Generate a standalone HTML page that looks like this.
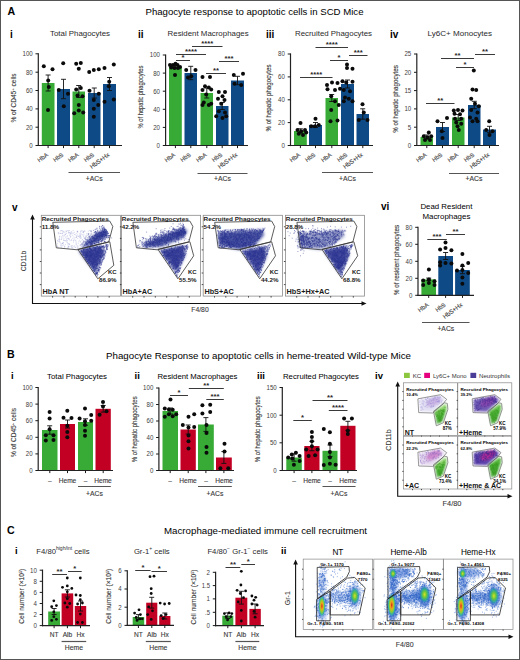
<!DOCTYPE html><html><head><meta charset="utf-8"><style>html,body{margin:0;padding:0;background:#fff;width:520px;height:660px;overflow:hidden}svg{display:block;font-family:"Liberation Sans",sans-serif}</style></head><body><svg width="520" height="660" viewBox="0 0 520 660" font-family="Liberation Sans, sans-serif">
<rect width="520" height="660" fill="#fff"/>
<rect x="0.5" y="0.5" width="519" height="659" fill="none" stroke="#555" stroke-width="1"/>
<text x="7.4" y="14.7" font-size="10.6" font-weight="bold" fill="#000">A</text>
<text x="145.5" y="15" font-size="8.8" textLength="218" lengthAdjust="spacingAndGlyphs">Phagocyte response to apoptotic cells in SCD Mice</text>
<text x="7" y="358" font-size="10.6" font-weight="bold" fill="#000">B</text>
<text x="106" y="358.5" font-size="8.8" textLength="305" lengthAdjust="spacingAndGlyphs">Phagocyte Response to apoptotic cells in heme-treated Wild-type Mice</text>
<text x="7" y="534" font-size="10.6" font-weight="bold" fill="#000">C</text>
<text x="164" y="533.5" font-size="8.8" textLength="203" lengthAdjust="spacingAndGlyphs">Macrophage-mediated immune cell recruitment</text>
<text x="10" y="37.5" font-size="10" font-weight="bold" fill="#000">i</text>
<text x="138" y="37.5" font-size="10" font-weight="bold" fill="#000">ii</text>
<text x="266" y="37.5" font-size="10" font-weight="bold" fill="#000">iii</text>
<text x="390" y="37.5" font-size="10" font-weight="bold" fill="#000">iv</text>
<text x="80" y="36.3" font-size="7.8" text-anchor="middle" fill="#2a2a2a" textLength="60" lengthAdjust="spacingAndGlyphs">Total Phagocytes</text>
<text x="208.1" y="36.3" font-size="7.8" text-anchor="middle" fill="#2a2a2a" textLength="81" lengthAdjust="spacingAndGlyphs">Resident Macrophages</text>
<text x="333.5" y="36.3" font-size="7.8" text-anchor="middle" fill="#2a2a2a" textLength="77" lengthAdjust="spacingAndGlyphs">Recruited Phagocytes</text>
<text x="459.8" y="36.3" font-size="7.8" text-anchor="middle" fill="#2a2a2a" textLength="64.5" lengthAdjust="spacingAndGlyphs">Ly6C+ Monocytes</text>
<rect x="41.8" y="83" width="12.7" height="62.5" fill="#37ab36"/>
<rect x="57" y="89" width="13" height="56.5" fill="#0e4a86"/>
<rect x="72.5" y="91.5" width="12.5" height="54" fill="#37ab36"/>
<rect x="88" y="93" width="12.5" height="52.5" fill="#0e4a86"/>
<rect x="103" y="84" width="13" height="61.5" fill="#0e4a86"/>
<line x1="48.1" y1="91" x2="48.1" y2="75" stroke="#111" stroke-width="0.9"/>
<line x1="45.6" y1="75" x2="50.6" y2="75" stroke="#111" stroke-width="0.9"/>
<line x1="45.6" y1="91" x2="50.6" y2="91" stroke="#111" stroke-width="0.9"/>
<line x1="63.5" y1="98.7" x2="63.5" y2="79.3" stroke="#111" stroke-width="0.9"/>
<line x1="61" y1="79.3" x2="66" y2="79.3" stroke="#111" stroke-width="0.9"/>
<line x1="61" y1="98.7" x2="66" y2="98.7" stroke="#111" stroke-width="0.9"/>
<line x1="78.8" y1="97.5" x2="78.8" y2="85.5" stroke="#111" stroke-width="0.9"/>
<line x1="76.2" y1="85.5" x2="81.2" y2="85.5" stroke="#111" stroke-width="0.9"/>
<line x1="76.2" y1="97.5" x2="81.2" y2="97.5" stroke="#111" stroke-width="0.9"/>
<line x1="94.2" y1="98" x2="94.2" y2="88" stroke="#111" stroke-width="0.9"/>
<line x1="91.8" y1="88" x2="96.8" y2="88" stroke="#111" stroke-width="0.9"/>
<line x1="91.8" y1="98" x2="96.8" y2="98" stroke="#111" stroke-width="0.9"/>
<line x1="109.5" y1="90.5" x2="109.5" y2="77.5" stroke="#111" stroke-width="0.9"/>
<line x1="107" y1="77.5" x2="112" y2="77.5" stroke="#111" stroke-width="0.9"/>
<line x1="107" y1="90.5" x2="112" y2="90.5" stroke="#111" stroke-width="0.9"/>
<g fill="#0a0a0a"><circle cx="43.8" cy="66.2" r="2"/><circle cx="52.5" cy="69.2" r="2"/><circle cx="48.2" cy="80.5" r="2"/><circle cx="48.8" cy="87" r="2"/><circle cx="48" cy="110" r="2"/><circle cx="63.2" cy="63.2" r="2"/><circle cx="58.8" cy="90" r="2"/><circle cx="68" cy="93.8" r="2"/><circle cx="63.8" cy="106.2" r="2"/><circle cx="76.2" cy="63.8" r="2"/><circle cx="80.8" cy="63" r="2"/><circle cx="78.8" cy="68.8" r="2"/><circle cx="76.2" cy="89.5" r="2"/><circle cx="80.8" cy="88" r="2"/><circle cx="77.5" cy="95.5" r="2"/><circle cx="82.5" cy="96.2" r="2"/><circle cx="78.8" cy="105" r="2"/><circle cx="78.8" cy="110.5" r="2"/><circle cx="74.2" cy="113.2" r="2"/><circle cx="83.2" cy="112.5" r="2"/><circle cx="89.2" cy="72" r="2"/><circle cx="93.8" cy="70" r="2"/><circle cx="98.8" cy="69.2" r="2"/><circle cx="89.5" cy="90.8" r="2"/><circle cx="98.8" cy="93.8" r="2"/><circle cx="93.8" cy="100" r="2"/><circle cx="98.2" cy="105" r="2"/><circle cx="93.8" cy="108.8" r="2"/><circle cx="93.8" cy="116.8" r="2"/><circle cx="104.5" cy="68" r="2"/><circle cx="113.8" cy="64.5" r="2"/><circle cx="109.2" cy="81.8" r="2"/><circle cx="108.8" cy="86.2" r="2"/><circle cx="104.5" cy="101.8" r="2"/><circle cx="113.8" cy="99.5" r="2"/></g>
<line x1="38.3" y1="53.2" x2="38.3" y2="146.1" stroke="#222" stroke-width="1.2"/>
<line x1="37.7" y1="145.5" x2="122" y2="145.5" stroke="#222" stroke-width="1.2"/>
<line x1="35.5" y1="53.8" x2="38.3" y2="53.8" stroke="#1a1a1a" stroke-width="1"/>
<text x="32.7" y="56.2" font-size="6.8" text-anchor="end" fill="#404040" textLength="10.2" lengthAdjust="spacingAndGlyphs">100</text>
<line x1="35.5" y1="72.2" x2="38.3" y2="72.2" stroke="#1a1a1a" stroke-width="1"/>
<text x="32.7" y="74.6" font-size="6.8" text-anchor="end" fill="#404040" textLength="6.8" lengthAdjust="spacingAndGlyphs">80</text>
<line x1="35.5" y1="90.5" x2="38.3" y2="90.5" stroke="#1a1a1a" stroke-width="1"/>
<text x="32.7" y="92.9" font-size="6.8" text-anchor="end" fill="#404040" textLength="6.8" lengthAdjust="spacingAndGlyphs">60</text>
<line x1="35.5" y1="108.9" x2="38.3" y2="108.9" stroke="#1a1a1a" stroke-width="1"/>
<text x="32.7" y="111.3" font-size="6.8" text-anchor="end" fill="#404040" textLength="6.8" lengthAdjust="spacingAndGlyphs">40</text>
<line x1="35.5" y1="127.2" x2="38.3" y2="127.2" stroke="#1a1a1a" stroke-width="1"/>
<text x="32.7" y="129.6" font-size="6.8" text-anchor="end" fill="#404040" textLength="6.8" lengthAdjust="spacingAndGlyphs">20</text>
<line x1="35.5" y1="145.5" x2="38.3" y2="145.5" stroke="#1a1a1a" stroke-width="1"/>
<text x="32.7" y="147.9" font-size="6.8" text-anchor="end" fill="#404040" textLength="3.4" lengthAdjust="spacingAndGlyphs">0</text>
<line x1="48.1" y1="145.5" x2="48.1" y2="148.1" stroke="#1a1a1a" stroke-width="1"/>
<line x1="63.5" y1="145.5" x2="63.5" y2="148.1" stroke="#1a1a1a" stroke-width="1"/>
<line x1="78.8" y1="145.5" x2="78.8" y2="148.1" stroke="#1a1a1a" stroke-width="1"/>
<line x1="94.2" y1="145.5" x2="94.2" y2="148.1" stroke="#1a1a1a" stroke-width="1"/>
<line x1="109.5" y1="145.5" x2="109.5" y2="148.1" stroke="#1a1a1a" stroke-width="1"/>
<text x="48.6" y="155.7" font-size="6.1" stroke="#3a3a3a" stroke-width="0.12" text-anchor="end" fill="#3a3a3a" textLength="11.5" lengthAdjust="spacingAndGlyphs" transform="rotate(-36 48.6 155.7)">HbA</text>
<text x="63.9" y="155.7" font-size="6.1" stroke="#3a3a3a" stroke-width="0.12" text-anchor="end" fill="#3a3a3a" textLength="11" lengthAdjust="spacingAndGlyphs" transform="rotate(-36 63.9 155.7)">HbS</text>
<text x="79.2" y="155.7" font-size="6.1" stroke="#3a3a3a" stroke-width="0.12" text-anchor="end" fill="#3a3a3a" textLength="11.5" lengthAdjust="spacingAndGlyphs" transform="rotate(-36 79.2 155.7)">HbA</text>
<text x="94.6" y="155.7" font-size="6.1" stroke="#3a3a3a" stroke-width="0.12" text-anchor="end" fill="#3a3a3a" textLength="11" lengthAdjust="spacingAndGlyphs" transform="rotate(-36 94.6 155.7)">HbS</text>
<text x="109.9" y="155.7" font-size="6.1" stroke="#3a3a3a" stroke-width="0.12" text-anchor="end" fill="#3a3a3a" textLength="22.5" lengthAdjust="spacingAndGlyphs" transform="rotate(-36 109.9 155.7)">HbS+Hx</text>
<line x1="68.5" y1="172.5" x2="120" y2="172.5" stroke="#555" stroke-width="1.2"/>
<text x="94.2" y="181" font-size="6.8" stroke="#3a3a3a" stroke-width="0.12" text-anchor="middle" fill="#3a3a3a">+ACs</text>
<text x="16.2" y="98" font-size="6.6" stroke="#3a3a3a" stroke-width="0.12" text-anchor="middle" fill="#3a3a3a" transform="rotate(-90 16.2 98)">% of CD45<tspan font-size="4" dy="-2">+</tspan><tspan dy="2"> cells</tspan></text>
<rect x="169" y="67" width="12.8" height="78.5" fill="#37ab36"/>
<rect x="184.5" y="73" width="12.5" height="72.5" fill="#0e4a86"/>
<rect x="200.5" y="93" width="12.5" height="52.5" fill="#37ab36"/>
<rect x="216" y="106" width="12.5" height="39.5" fill="#0e4a86"/>
<rect x="231" y="80.5" width="13" height="65" fill="#0e4a86"/>
<line x1="175.4" y1="68.5" x2="175.4" y2="65.5" stroke="#111" stroke-width="0.9"/>
<line x1="172.9" y1="65.5" x2="177.9" y2="65.5" stroke="#111" stroke-width="0.9"/>
<line x1="172.9" y1="68.5" x2="177.9" y2="68.5" stroke="#111" stroke-width="0.9"/>
<line x1="190.8" y1="79.7" x2="190.8" y2="66.3" stroke="#111" stroke-width="0.9"/>
<line x1="188.2" y1="66.3" x2="193.2" y2="66.3" stroke="#111" stroke-width="0.9"/>
<line x1="188.2" y1="79.7" x2="193.2" y2="79.7" stroke="#111" stroke-width="0.9"/>
<line x1="206.8" y1="98" x2="206.8" y2="88" stroke="#111" stroke-width="0.9"/>
<line x1="204.2" y1="88" x2="209.2" y2="88" stroke="#111" stroke-width="0.9"/>
<line x1="204.2" y1="98" x2="209.2" y2="98" stroke="#111" stroke-width="0.9"/>
<line x1="222.2" y1="109.5" x2="222.2" y2="102.5" stroke="#111" stroke-width="0.9"/>
<line x1="219.8" y1="102.5" x2="224.8" y2="102.5" stroke="#111" stroke-width="0.9"/>
<line x1="219.8" y1="109.5" x2="224.8" y2="109.5" stroke="#111" stroke-width="0.9"/>
<line x1="237.5" y1="84.7" x2="237.5" y2="76.3" stroke="#111" stroke-width="0.9"/>
<line x1="235" y1="76.3" x2="240" y2="76.3" stroke="#111" stroke-width="0.9"/>
<line x1="235" y1="84.7" x2="240" y2="84.7" stroke="#111" stroke-width="0.9"/>
<g fill="#0a0a0a"><circle cx="170" cy="65" r="2"/><circle cx="173" cy="65" r="2"/><circle cx="175.5" cy="63.8" r="2"/><circle cx="177.5" cy="65" r="2"/><circle cx="180" cy="67" r="2"/><circle cx="171.2" cy="67.5" r="2"/><circle cx="174.5" cy="68" r="2"/><circle cx="178" cy="68" r="2"/><circle cx="175" cy="75" r="2"/><circle cx="186.2" cy="70" r="2"/><circle cx="195.5" cy="70" r="2"/><circle cx="191.2" cy="76.2" r="2"/><circle cx="188" cy="77.5" r="2"/><circle cx="202.5" cy="77" r="2"/><circle cx="210" cy="77" r="2"/><circle cx="205" cy="86.2" r="2"/><circle cx="208.8" cy="87.5" r="2"/><circle cx="202.5" cy="90" r="2"/><circle cx="211.2" cy="89.5" r="2"/><circle cx="206.2" cy="94.5" r="2"/><circle cx="203.8" cy="102.5" r="2"/><circle cx="208.8" cy="105" r="2"/><circle cx="211.2" cy="103.8" r="2"/><circle cx="202.5" cy="105" r="2"/><circle cx="218.8" cy="92" r="2"/><circle cx="225" cy="92" r="2"/><circle cx="222.5" cy="96.2" r="2"/><circle cx="218" cy="98.8" r="2"/><circle cx="224.5" cy="100" r="2"/><circle cx="221.2" cy="103.8" r="2"/><circle cx="218.8" cy="111.2" r="2"/><circle cx="225" cy="112.5" r="2"/><circle cx="216.2" cy="116.2" r="2"/><circle cx="222.5" cy="118" r="2"/><circle cx="226.2" cy="116.2" r="2"/><circle cx="233.8" cy="75" r="2"/><circle cx="243" cy="73.8" r="2"/><circle cx="234.5" cy="83.8" r="2"/><circle cx="241.2" cy="85" r="2"/></g>
<line x1="165.6" y1="54.4" x2="165.6" y2="146.1" stroke="#222" stroke-width="1.2"/>
<line x1="165" y1="145.5" x2="248" y2="145.5" stroke="#222" stroke-width="1.2"/>
<line x1="162.8" y1="55" x2="165.6" y2="55" stroke="#1a1a1a" stroke-width="1"/>
<text x="160" y="57.4" font-size="6.8" text-anchor="end" fill="#404040" textLength="10.2" lengthAdjust="spacingAndGlyphs">100</text>
<line x1="162.8" y1="73.1" x2="165.6" y2="73.1" stroke="#1a1a1a" stroke-width="1"/>
<text x="160" y="75.5" font-size="6.8" text-anchor="end" fill="#404040" textLength="6.8" lengthAdjust="spacingAndGlyphs">80</text>
<line x1="162.8" y1="91.2" x2="165.6" y2="91.2" stroke="#1a1a1a" stroke-width="1"/>
<text x="160" y="93.6" font-size="6.8" text-anchor="end" fill="#404040" textLength="6.8" lengthAdjust="spacingAndGlyphs">60</text>
<line x1="162.8" y1="109.3" x2="165.6" y2="109.3" stroke="#1a1a1a" stroke-width="1"/>
<text x="160" y="111.7" font-size="6.8" text-anchor="end" fill="#404040" textLength="6.8" lengthAdjust="spacingAndGlyphs">40</text>
<line x1="162.8" y1="127.4" x2="165.6" y2="127.4" stroke="#1a1a1a" stroke-width="1"/>
<text x="160" y="129.8" font-size="6.8" text-anchor="end" fill="#404040" textLength="6.8" lengthAdjust="spacingAndGlyphs">20</text>
<line x1="162.8" y1="145.5" x2="165.6" y2="145.5" stroke="#1a1a1a" stroke-width="1"/>
<text x="160" y="147.9" font-size="6.8" text-anchor="end" fill="#404040" textLength="3.4" lengthAdjust="spacingAndGlyphs">0</text>
<line x1="175.4" y1="145.5" x2="175.4" y2="148.1" stroke="#1a1a1a" stroke-width="1"/>
<line x1="190.8" y1="145.5" x2="190.8" y2="148.1" stroke="#1a1a1a" stroke-width="1"/>
<line x1="206.8" y1="145.5" x2="206.8" y2="148.1" stroke="#1a1a1a" stroke-width="1"/>
<line x1="222.2" y1="145.5" x2="222.2" y2="148.1" stroke="#1a1a1a" stroke-width="1"/>
<line x1="237.5" y1="145.5" x2="237.5" y2="148.1" stroke="#1a1a1a" stroke-width="1"/>
<line x1="176" y1="60.5" x2="190" y2="60.5" stroke="#3a3a3a" stroke-width="1"/>
<text x="183" y="60.4" font-size="8" text-anchor="middle" font-weight="bold" fill="#2a2a2a" textLength="3" lengthAdjust="spacingAndGlyphs">*</text>
<line x1="176" y1="54.5" x2="206" y2="54.5" stroke="#3a3a3a" stroke-width="1"/>
<text x="191" y="54.4" font-size="8" text-anchor="middle" font-weight="bold" fill="#2a2a2a" textLength="12" lengthAdjust="spacingAndGlyphs">****</text>
<line x1="192" y1="46.5" x2="222.5" y2="46.5" stroke="#3a3a3a" stroke-width="1"/>
<text x="207.2" y="46.4" font-size="8" text-anchor="middle" font-weight="bold" fill="#2a2a2a" textLength="12" lengthAdjust="spacingAndGlyphs">****</text>
<line x1="206" y1="73.5" x2="226" y2="73.5" stroke="#3a3a3a" stroke-width="1"/>
<text x="216" y="73.4" font-size="8" text-anchor="middle" font-weight="bold" fill="#2a2a2a" textLength="6" lengthAdjust="spacingAndGlyphs">**</text>
<line x1="219" y1="61.5" x2="239" y2="61.5" stroke="#3a3a3a" stroke-width="1"/>
<text x="229" y="61.4" font-size="8" text-anchor="middle" font-weight="bold" fill="#2a2a2a" textLength="9" lengthAdjust="spacingAndGlyphs">***</text>
<text x="175.8" y="155.7" font-size="6.1" stroke="#3a3a3a" stroke-width="0.12" text-anchor="end" fill="#3a3a3a" textLength="11.5" lengthAdjust="spacingAndGlyphs" transform="rotate(-36 175.8 155.7)">HbA</text>
<text x="191.2" y="155.7" font-size="6.1" stroke="#3a3a3a" stroke-width="0.12" text-anchor="end" fill="#3a3a3a" textLength="11" lengthAdjust="spacingAndGlyphs" transform="rotate(-36 191.2 155.7)">HbS</text>
<text x="207.2" y="155.7" font-size="6.1" stroke="#3a3a3a" stroke-width="0.12" text-anchor="end" fill="#3a3a3a" textLength="11.5" lengthAdjust="spacingAndGlyphs" transform="rotate(-36 207.2 155.7)">HbA</text>
<text x="222.7" y="155.7" font-size="6.1" stroke="#3a3a3a" stroke-width="0.12" text-anchor="end" fill="#3a3a3a" textLength="11" lengthAdjust="spacingAndGlyphs" transform="rotate(-36 222.7 155.7)">HbS</text>
<text x="237.9" y="155.7" font-size="6.1" stroke="#3a3a3a" stroke-width="0.12" text-anchor="end" fill="#3a3a3a" textLength="22.5" lengthAdjust="spacingAndGlyphs" transform="rotate(-36 237.9 155.7)">HbS+Hx</text>
<line x1="197.5" y1="173.5" x2="247.5" y2="173.5" stroke="#555" stroke-width="1.2"/>
<text x="222.5" y="181" font-size="6.8" stroke="#3a3a3a" stroke-width="0.12" text-anchor="middle" fill="#3a3a3a">+ACs</text>
<text x="143.2" y="97" font-size="6.6" stroke="#3a3a3a" stroke-width="0.12" text-anchor="middle" fill="#3a3a3a" textLength="63" lengthAdjust="spacingAndGlyphs" transform="rotate(-90 143.2 97)">% of hepatic phagocytes</text>
<rect x="294" y="131" width="12.8" height="14.5" fill="#37ab36"/>
<rect x="309" y="125" width="13" height="20.5" fill="#0e4a86"/>
<rect x="325.5" y="98" width="12.5" height="47.5" fill="#37ab36"/>
<rect x="341" y="84" width="13" height="61.5" fill="#0e4a86"/>
<rect x="356.5" y="114" width="12.5" height="31.5" fill="#0e4a86"/>
<line x1="300.4" y1="133.2" x2="300.4" y2="128.8" stroke="#111" stroke-width="0.9"/>
<line x1="297.9" y1="128.8" x2="302.9" y2="128.8" stroke="#111" stroke-width="0.9"/>
<line x1="297.9" y1="133.2" x2="302.9" y2="133.2" stroke="#111" stroke-width="0.9"/>
<line x1="315.5" y1="127.5" x2="315.5" y2="122.5" stroke="#111" stroke-width="0.9"/>
<line x1="313" y1="122.5" x2="318" y2="122.5" stroke="#111" stroke-width="0.9"/>
<line x1="313" y1="127.5" x2="318" y2="127.5" stroke="#111" stroke-width="0.9"/>
<line x1="331.8" y1="101.5" x2="331.8" y2="94.5" stroke="#111" stroke-width="0.9"/>
<line x1="329.2" y1="94.5" x2="334.2" y2="94.5" stroke="#111" stroke-width="0.9"/>
<line x1="329.2" y1="101.5" x2="334.2" y2="101.5" stroke="#111" stroke-width="0.9"/>
<line x1="347.5" y1="88" x2="347.5" y2="80" stroke="#111" stroke-width="0.9"/>
<line x1="345" y1="80" x2="350" y2="80" stroke="#111" stroke-width="0.9"/>
<line x1="345" y1="88" x2="350" y2="88" stroke="#111" stroke-width="0.9"/>
<line x1="362.8" y1="119.2" x2="362.8" y2="108.8" stroke="#111" stroke-width="0.9"/>
<line x1="360.2" y1="108.8" x2="365.2" y2="108.8" stroke="#111" stroke-width="0.9"/>
<line x1="360.2" y1="119.2" x2="365.2" y2="119.2" stroke="#111" stroke-width="0.9"/>
<g fill="#0a0a0a"><circle cx="300.5" cy="123" r="2"/><circle cx="297.5" cy="130" r="2"/><circle cx="301.2" cy="131.2" r="2"/><circle cx="305" cy="130" r="2"/><circle cx="303" cy="135" r="2"/><circle cx="298.8" cy="133.8" r="2"/><circle cx="306.2" cy="132.5" r="2"/><circle cx="315.5" cy="118.8" r="2"/><circle cx="311.2" cy="126.2" r="2"/><circle cx="315" cy="126.2" r="2"/><circle cx="318.8" cy="125" r="2"/><circle cx="327" cy="85" r="2"/><circle cx="332" cy="82.5" r="2"/><circle cx="337.5" cy="83" r="2"/><circle cx="327.5" cy="89.2" r="2"/><circle cx="335" cy="90" r="2"/><circle cx="340" cy="88.8" r="2"/><circle cx="331.2" cy="96.2" r="2"/><circle cx="335" cy="101.2" r="2"/><circle cx="338.8" cy="105" r="2"/><circle cx="331.2" cy="110" r="2"/><circle cx="330.5" cy="121.2" r="2"/><circle cx="337.5" cy="120.5" r="2"/><circle cx="347" cy="64.5" r="2"/><circle cx="347" cy="68" r="2"/><circle cx="352.5" cy="68.8" r="2"/><circle cx="342.5" cy="81.2" r="2"/><circle cx="346.2" cy="82.5" r="2"/><circle cx="352.5" cy="81.8" r="2"/><circle cx="343.8" cy="90" r="2"/><circle cx="350" cy="91.2" r="2"/><circle cx="345" cy="97.5" r="2"/><circle cx="348.8" cy="98.8" r="2"/><circle cx="343.8" cy="101.2" r="2"/><circle cx="352.5" cy="101.2" r="2"/><circle cx="362.5" cy="104.2" r="2"/><circle cx="358.8" cy="120" r="2"/><circle cx="367.5" cy="120" r="2"/><circle cx="363.8" cy="112.5" r="2"/></g>
<line x1="290.5" y1="53.4" x2="290.5" y2="146.1" stroke="#222" stroke-width="1.2"/>
<line x1="289.9" y1="145.5" x2="373" y2="145.5" stroke="#222" stroke-width="1.2"/>
<line x1="287.7" y1="54" x2="290.5" y2="54" stroke="#1a1a1a" stroke-width="1"/>
<text x="284.9" y="56.4" font-size="6.8" text-anchor="end" fill="#404040" textLength="6.8" lengthAdjust="spacingAndGlyphs">80</text>
<line x1="287.7" y1="76.9" x2="290.5" y2="76.9" stroke="#1a1a1a" stroke-width="1"/>
<text x="284.9" y="79.3" font-size="6.8" text-anchor="end" fill="#404040" textLength="6.8" lengthAdjust="spacingAndGlyphs">60</text>
<line x1="287.7" y1="99.8" x2="290.5" y2="99.8" stroke="#1a1a1a" stroke-width="1"/>
<text x="284.9" y="102.2" font-size="6.8" text-anchor="end" fill="#404040" textLength="6.8" lengthAdjust="spacingAndGlyphs">40</text>
<line x1="287.7" y1="122.6" x2="290.5" y2="122.6" stroke="#1a1a1a" stroke-width="1"/>
<text x="284.9" y="125" font-size="6.8" text-anchor="end" fill="#404040" textLength="6.8" lengthAdjust="spacingAndGlyphs">20</text>
<line x1="287.7" y1="145.5" x2="290.5" y2="145.5" stroke="#1a1a1a" stroke-width="1"/>
<text x="284.9" y="147.9" font-size="6.8" text-anchor="end" fill="#404040" textLength="3.4" lengthAdjust="spacingAndGlyphs">0</text>
<line x1="300.4" y1="145.5" x2="300.4" y2="148.1" stroke="#1a1a1a" stroke-width="1"/>
<line x1="315.5" y1="145.5" x2="315.5" y2="148.1" stroke="#1a1a1a" stroke-width="1"/>
<line x1="331.8" y1="145.5" x2="331.8" y2="148.1" stroke="#1a1a1a" stroke-width="1"/>
<line x1="347.5" y1="145.5" x2="347.5" y2="148.1" stroke="#1a1a1a" stroke-width="1"/>
<line x1="362.8" y1="145.5" x2="362.8" y2="148.1" stroke="#1a1a1a" stroke-width="1"/>
<line x1="300" y1="77.5" x2="332.5" y2="77.5" stroke="#3a3a3a" stroke-width="1"/>
<text x="316.2" y="77.4" font-size="8" text-anchor="middle" font-weight="bold" fill="#2a2a2a" textLength="12" lengthAdjust="spacingAndGlyphs">****</text>
<line x1="315.5" y1="47.5" x2="348" y2="47.5" stroke="#3a3a3a" stroke-width="1"/>
<text x="331.8" y="47.4" font-size="8" text-anchor="middle" font-weight="bold" fill="#2a2a2a" textLength="12" lengthAdjust="spacingAndGlyphs">****</text>
<line x1="330" y1="60.5" x2="348" y2="60.5" stroke="#3a3a3a" stroke-width="1"/>
<text x="339" y="60.4" font-size="8" text-anchor="middle" font-weight="bold" fill="#2a2a2a" textLength="3" lengthAdjust="spacingAndGlyphs">*</text>
<line x1="349" y1="55.5" x2="367.5" y2="55.5" stroke="#3a3a3a" stroke-width="1"/>
<text x="358.2" y="55.4" font-size="8" text-anchor="middle" font-weight="bold" fill="#2a2a2a" textLength="9" lengthAdjust="spacingAndGlyphs">***</text>
<text x="300.8" y="155.7" font-size="6.1" stroke="#3a3a3a" stroke-width="0.12" text-anchor="end" fill="#3a3a3a" textLength="11.5" lengthAdjust="spacingAndGlyphs" transform="rotate(-36 300.8 155.7)">HbA</text>
<text x="315.9" y="155.7" font-size="6.1" stroke="#3a3a3a" stroke-width="0.12" text-anchor="end" fill="#3a3a3a" textLength="11" lengthAdjust="spacingAndGlyphs" transform="rotate(-36 315.9 155.7)">HbS</text>
<text x="332.2" y="155.7" font-size="6.1" stroke="#3a3a3a" stroke-width="0.12" text-anchor="end" fill="#3a3a3a" textLength="11.5" lengthAdjust="spacingAndGlyphs" transform="rotate(-36 332.2 155.7)">HbA</text>
<text x="347.9" y="155.7" font-size="6.1" stroke="#3a3a3a" stroke-width="0.12" text-anchor="end" fill="#3a3a3a" textLength="11" lengthAdjust="spacingAndGlyphs" transform="rotate(-36 347.9 155.7)">HbS</text>
<text x="363.2" y="155.7" font-size="6.1" stroke="#3a3a3a" stroke-width="0.12" text-anchor="end" fill="#3a3a3a" textLength="22.5" lengthAdjust="spacingAndGlyphs" transform="rotate(-36 363.2 155.7)">HbS+Hx</text>
<line x1="322" y1="172.5" x2="373" y2="172.5" stroke="#555" stroke-width="1.2"/>
<text x="347.5" y="181" font-size="6.8" stroke="#3a3a3a" stroke-width="0.12" text-anchor="middle" fill="#3a3a3a">+ACs</text>
<text x="271.4" y="98" font-size="6.6" stroke="#3a3a3a" stroke-width="0.12" text-anchor="middle" fill="#3a3a3a" textLength="67" lengthAdjust="spacingAndGlyphs" transform="rotate(-90 271.4 98)">% of hepatic phagocytes</text>
<rect x="420.5" y="137" width="12.5" height="8.5" fill="#37ab36"/>
<rect x="436" y="127" width="13" height="18.5" fill="#0e4a86"/>
<rect x="452" y="117.5" width="12.5" height="28" fill="#37ab36"/>
<rect x="468" y="105" width="12.5" height="40.5" fill="#0e4a86"/>
<rect x="483" y="129.5" width="13" height="16" fill="#0e4a86"/>
<line x1="426.8" y1="139" x2="426.8" y2="135" stroke="#111" stroke-width="0.9"/>
<line x1="424.2" y1="135" x2="429.2" y2="135" stroke="#111" stroke-width="0.9"/>
<line x1="424.2" y1="139" x2="429.2" y2="139" stroke="#111" stroke-width="0.9"/>
<line x1="442.5" y1="131.5" x2="442.5" y2="122.5" stroke="#111" stroke-width="0.9"/>
<line x1="440" y1="122.5" x2="445" y2="122.5" stroke="#111" stroke-width="0.9"/>
<line x1="440" y1="131.5" x2="445" y2="131.5" stroke="#111" stroke-width="0.9"/>
<line x1="458.2" y1="120.5" x2="458.2" y2="114.5" stroke="#111" stroke-width="0.9"/>
<line x1="455.8" y1="114.5" x2="460.8" y2="114.5" stroke="#111" stroke-width="0.9"/>
<line x1="455.8" y1="120.5" x2="460.8" y2="120.5" stroke="#111" stroke-width="0.9"/>
<line x1="474.2" y1="108.7" x2="474.2" y2="101.3" stroke="#111" stroke-width="0.9"/>
<line x1="471.8" y1="101.3" x2="476.8" y2="101.3" stroke="#111" stroke-width="0.9"/>
<line x1="471.8" y1="108.7" x2="476.8" y2="108.7" stroke="#111" stroke-width="0.9"/>
<line x1="489.5" y1="132.7" x2="489.5" y2="126.3" stroke="#111" stroke-width="0.9"/>
<line x1="487" y1="126.3" x2="492" y2="126.3" stroke="#111" stroke-width="0.9"/>
<line x1="487" y1="132.7" x2="492" y2="132.7" stroke="#111" stroke-width="0.9"/>
<g fill="#0a0a0a"><circle cx="428.8" cy="132.5" r="2"/><circle cx="423.8" cy="136.2" r="2"/><circle cx="427.5" cy="137.5" r="2"/><circle cx="431.2" cy="136.2" r="2"/><circle cx="425" cy="140" r="2"/><circle cx="430" cy="140" r="2"/><circle cx="447" cy="118" r="2"/><circle cx="437.5" cy="121.2" r="2"/><circle cx="441.8" cy="131.2" r="2"/><circle cx="442.5" cy="138" r="2"/><circle cx="453.8" cy="110.5" r="2"/><circle cx="458" cy="110" r="2"/><circle cx="462.5" cy="110.5" r="2"/><circle cx="454.5" cy="113.8" r="2"/><circle cx="460" cy="114.2" r="2"/><circle cx="455" cy="118.8" r="2"/><circle cx="461.2" cy="118.8" r="2"/><circle cx="456.2" cy="122.5" r="2"/><circle cx="461.2" cy="123.8" r="2"/><circle cx="457.5" cy="126.2" r="2"/><circle cx="458.8" cy="130" r="2"/><circle cx="473.8" cy="70.5" r="2"/><circle cx="472.5" cy="89.5" r="2"/><circle cx="476.2" cy="90" r="2"/><circle cx="471.2" cy="98.8" r="2"/><circle cx="475" cy="103.8" r="2"/><circle cx="478.8" cy="106.2" r="2"/><circle cx="471.2" cy="110" r="2"/><circle cx="477.5" cy="112.5" r="2"/><circle cx="470" cy="117.5" r="2"/><circle cx="476.2" cy="118.8" r="2"/><circle cx="472.5" cy="121.2" r="2"/><circle cx="477.5" cy="121.2" r="2"/><circle cx="489.2" cy="121.2" r="2"/><circle cx="486.2" cy="130" r="2"/><circle cx="492.5" cy="131.2" r="2"/><circle cx="489.5" cy="135" r="2"/></g>
<line x1="416.8" y1="53.4" x2="416.8" y2="146.1" stroke="#222" stroke-width="1.2"/>
<line x1="416.2" y1="145.5" x2="499" y2="145.5" stroke="#222" stroke-width="1.2"/>
<line x1="414" y1="54" x2="416.8" y2="54" stroke="#1a1a1a" stroke-width="1"/>
<text x="411.2" y="56.4" font-size="6.8" text-anchor="end" fill="#404040" textLength="6.8" lengthAdjust="spacingAndGlyphs">25</text>
<line x1="414" y1="72.3" x2="416.8" y2="72.3" stroke="#1a1a1a" stroke-width="1"/>
<text x="411.2" y="74.7" font-size="6.8" text-anchor="end" fill="#404040" textLength="6.8" lengthAdjust="spacingAndGlyphs">20</text>
<line x1="414" y1="90.6" x2="416.8" y2="90.6" stroke="#1a1a1a" stroke-width="1"/>
<text x="411.2" y="93" font-size="6.8" text-anchor="end" fill="#404040" textLength="6.8" lengthAdjust="spacingAndGlyphs">15</text>
<line x1="414" y1="108.9" x2="416.8" y2="108.9" stroke="#1a1a1a" stroke-width="1"/>
<text x="411.2" y="111.3" font-size="6.8" text-anchor="end" fill="#404040" textLength="6.8" lengthAdjust="spacingAndGlyphs">10</text>
<line x1="414" y1="127.2" x2="416.8" y2="127.2" stroke="#1a1a1a" stroke-width="1"/>
<text x="411.2" y="129.6" font-size="6.8" text-anchor="end" fill="#404040" textLength="3.4" lengthAdjust="spacingAndGlyphs">5</text>
<line x1="414" y1="145.5" x2="416.8" y2="145.5" stroke="#1a1a1a" stroke-width="1"/>
<text x="411.2" y="147.9" font-size="6.8" text-anchor="end" fill="#404040" textLength="3.4" lengthAdjust="spacingAndGlyphs">0</text>
<line x1="426.8" y1="145.5" x2="426.8" y2="148.1" stroke="#1a1a1a" stroke-width="1"/>
<line x1="442.5" y1="145.5" x2="442.5" y2="148.1" stroke="#1a1a1a" stroke-width="1"/>
<line x1="458.2" y1="145.5" x2="458.2" y2="148.1" stroke="#1a1a1a" stroke-width="1"/>
<line x1="474.2" y1="145.5" x2="474.2" y2="148.1" stroke="#1a1a1a" stroke-width="1"/>
<line x1="489.5" y1="145.5" x2="489.5" y2="148.1" stroke="#1a1a1a" stroke-width="1"/>
<line x1="426" y1="103.5" x2="454.5" y2="103.5" stroke="#3a3a3a" stroke-width="1"/>
<text x="440.2" y="103.4" font-size="8" text-anchor="middle" font-weight="bold" fill="#2a2a2a" textLength="6" lengthAdjust="spacingAndGlyphs">**</text>
<line x1="441" y1="58.5" x2="474" y2="58.5" stroke="#3a3a3a" stroke-width="1"/>
<text x="457.5" y="58.4" font-size="8" text-anchor="middle" font-weight="bold" fill="#2a2a2a" textLength="6" lengthAdjust="spacingAndGlyphs">**</text>
<line x1="456" y1="67.5" x2="474" y2="67.5" stroke="#3a3a3a" stroke-width="1"/>
<text x="465" y="67.4" font-size="8" text-anchor="middle" font-weight="bold" fill="#2a2a2a" textLength="3" lengthAdjust="spacingAndGlyphs">*</text>
<line x1="475" y1="54.5" x2="495" y2="54.5" stroke="#3a3a3a" stroke-width="1"/>
<text x="485" y="54.4" font-size="8" text-anchor="middle" font-weight="bold" fill="#2a2a2a" textLength="6" lengthAdjust="spacingAndGlyphs">**</text>
<text x="427.2" y="155.7" font-size="6.1" stroke="#3a3a3a" stroke-width="0.12" text-anchor="end" fill="#3a3a3a" textLength="11.5" lengthAdjust="spacingAndGlyphs" transform="rotate(-36 427.2 155.7)">HbA</text>
<text x="442.9" y="155.7" font-size="6.1" stroke="#3a3a3a" stroke-width="0.12" text-anchor="end" fill="#3a3a3a" textLength="11" lengthAdjust="spacingAndGlyphs" transform="rotate(-36 442.9 155.7)">HbS</text>
<text x="458.7" y="155.7" font-size="6.1" stroke="#3a3a3a" stroke-width="0.12" text-anchor="end" fill="#3a3a3a" textLength="11.5" lengthAdjust="spacingAndGlyphs" transform="rotate(-36 458.7 155.7)">HbA</text>
<text x="474.7" y="155.7" font-size="6.1" stroke="#3a3a3a" stroke-width="0.12" text-anchor="end" fill="#3a3a3a" textLength="11" lengthAdjust="spacingAndGlyphs" transform="rotate(-36 474.7 155.7)">HbS</text>
<text x="489.9" y="155.7" font-size="6.1" stroke="#3a3a3a" stroke-width="0.12" text-anchor="end" fill="#3a3a3a" textLength="22.5" lengthAdjust="spacingAndGlyphs" transform="rotate(-36 489.9 155.7)">HbS+Hx</text>
<line x1="449" y1="173.5" x2="499" y2="173.5" stroke="#555" stroke-width="1.2"/>
<text x="474" y="181" font-size="6.8" stroke="#3a3a3a" stroke-width="0.12" text-anchor="middle" fill="#3a3a3a">+ACs</text>
<text x="398.3" y="98.9" font-size="6.6" stroke="#3a3a3a" stroke-width="0.12" text-anchor="middle" fill="#3a3a3a" textLength="67.6" lengthAdjust="spacingAndGlyphs" transform="rotate(-90 398.3 98.9)">% of hepatic phagocytes</text>
<text x="381" y="210" font-size="10" font-weight="bold" fill="#000">vi</text>
<text x="446.4" y="209" font-size="7.3" text-anchor="middle" textLength="52" lengthAdjust="spacingAndGlyphs">Dead Resident</text>
<text x="446.4" y="219" font-size="7.3" text-anchor="middle" textLength="48" lengthAdjust="spacingAndGlyphs">Macrophages</text>
<rect x="421.4" y="279.4" width="14.6" height="15.9" fill="#37ab36"/>
<rect x="438.3" y="256" width="14.7" height="39.3" fill="#0e4a86"/>
<rect x="455.1" y="270" width="14.7" height="25.3" fill="#0e4a86"/>
<line x1="428.7" y1="280.7" x2="428.7" y2="278.1" stroke="#111" stroke-width="0.9"/>
<line x1="426.2" y1="278.1" x2="431.2" y2="278.1" stroke="#111" stroke-width="0.9"/>
<line x1="426.2" y1="280.7" x2="431.2" y2="280.7" stroke="#111" stroke-width="0.9"/>
<line x1="445.6" y1="259.5" x2="445.6" y2="252.5" stroke="#111" stroke-width="0.9"/>
<line x1="443.1" y1="252.5" x2="448.1" y2="252.5" stroke="#111" stroke-width="0.9"/>
<line x1="443.1" y1="259.5" x2="448.1" y2="259.5" stroke="#111" stroke-width="0.9"/>
<line x1="462.5" y1="273.7" x2="462.5" y2="266.3" stroke="#111" stroke-width="0.9"/>
<line x1="460" y1="266.3" x2="465" y2="266.3" stroke="#111" stroke-width="0.9"/>
<line x1="460" y1="273.7" x2="465" y2="273.7" stroke="#111" stroke-width="0.9"/>
<g fill="#0a0a0a"><circle cx="428.9" cy="269.4" r="2"/><circle cx="423.2" cy="280.6" r="2"/><circle cx="428.9" cy="279.4" r="2"/><circle cx="434.5" cy="281.2" r="2"/><circle cx="423.2" cy="285" r="2"/><circle cx="428.9" cy="283.1" r="2"/><circle cx="434.5" cy="285" r="2"/><circle cx="445.5" cy="242.5" r="2"/><circle cx="440.1" cy="249.4" r="2"/><circle cx="445.5" cy="248.1" r="2"/><circle cx="451.4" cy="250.2" r="2"/><circle cx="440.1" cy="262.2" r="2"/><circle cx="445.5" cy="263.1" r="2"/><circle cx="451.4" cy="263.5" r="2"/><circle cx="440.1" cy="265.6" r="2"/><circle cx="462.4" cy="254" r="2"/><circle cx="468.2" cy="263.1" r="2"/><circle cx="462.4" cy="265.6" r="2"/><circle cx="457" cy="270.6" r="2"/><circle cx="468.2" cy="273.1" r="2"/><circle cx="462.4" cy="270" r="2"/><circle cx="462.4" cy="277.5" r="2"/><circle cx="462.4" cy="283.8" r="2"/></g>
<line x1="418" y1="226.7" x2="418" y2="295.9" stroke="#222" stroke-width="1.2"/>
<line x1="417.4" y1="295.3" x2="474" y2="295.3" stroke="#222" stroke-width="1.2"/>
<line x1="415.2" y1="227.3" x2="418" y2="227.3" stroke="#1a1a1a" stroke-width="1"/>
<text x="412.4" y="229.7" font-size="6.8" text-anchor="end" fill="#404040" textLength="6.8" lengthAdjust="spacingAndGlyphs">80</text>
<line x1="415.2" y1="244.3" x2="418" y2="244.3" stroke="#1a1a1a" stroke-width="1"/>
<text x="412.4" y="246.7" font-size="6.8" text-anchor="end" fill="#404040" textLength="6.8" lengthAdjust="spacingAndGlyphs">60</text>
<line x1="415.2" y1="261.3" x2="418" y2="261.3" stroke="#1a1a1a" stroke-width="1"/>
<text x="412.4" y="263.7" font-size="6.8" text-anchor="end" fill="#404040" textLength="6.8" lengthAdjust="spacingAndGlyphs">40</text>
<line x1="415.2" y1="278.3" x2="418" y2="278.3" stroke="#1a1a1a" stroke-width="1"/>
<text x="412.4" y="280.7" font-size="6.8" text-anchor="end" fill="#404040" textLength="6.8" lengthAdjust="spacingAndGlyphs">20</text>
<line x1="415.2" y1="295.3" x2="418" y2="295.3" stroke="#1a1a1a" stroke-width="1"/>
<text x="412.4" y="297.7" font-size="6.8" text-anchor="end" fill="#404040" textLength="3.4" lengthAdjust="spacingAndGlyphs">0</text>
<line x1="428.7" y1="295.3" x2="428.7" y2="297.9" stroke="#1a1a1a" stroke-width="1"/>
<line x1="445.6" y1="295.3" x2="445.6" y2="297.9" stroke="#1a1a1a" stroke-width="1"/>
<line x1="462.5" y1="295.3" x2="462.5" y2="297.9" stroke="#1a1a1a" stroke-width="1"/>
<line x1="427.3" y1="239.5" x2="446.8" y2="239.5" stroke="#3a3a3a" stroke-width="1"/>
<text x="437.1" y="239.4" font-size="8" text-anchor="middle" font-weight="bold" fill="#2a2a2a" textLength="9" lengthAdjust="spacingAndGlyphs">***</text>
<line x1="446" y1="234.5" x2="465" y2="234.5" stroke="#3a3a3a" stroke-width="1"/>
<text x="455.5" y="234.4" font-size="8" text-anchor="middle" font-weight="bold" fill="#2a2a2a" textLength="6" lengthAdjust="spacingAndGlyphs">**</text>
<text x="429.1" y="305.7" font-size="6.1" stroke="#3a3a3a" stroke-width="0.12" text-anchor="end" fill="#3a3a3a" textLength="11.5" lengthAdjust="spacingAndGlyphs" transform="rotate(-36 429.1 305.7)">HbA</text>
<text x="446.1" y="305.7" font-size="6.1" stroke="#3a3a3a" stroke-width="0.12" text-anchor="end" fill="#3a3a3a" textLength="11" lengthAdjust="spacingAndGlyphs" transform="rotate(-36 446.1 305.7)">HbS</text>
<text x="462.9" y="305.7" font-size="6.1" stroke="#3a3a3a" stroke-width="0.12" text-anchor="end" fill="#3a3a3a" textLength="22.5" lengthAdjust="spacingAndGlyphs" transform="rotate(-36 462.9 305.7)">HbS+Hx</text>
<line x1="422" y1="322.5" x2="469.5" y2="322.5" stroke="#555" stroke-width="1.2"/>
<text x="445.8" y="330.5" font-size="6.8" stroke="#3a3a3a" stroke-width="0.12" text-anchor="middle" fill="#3a3a3a">+ACs</text>
<text x="399.3" y="260" font-size="6.6" stroke="#3a3a3a" stroke-width="0.12" text-anchor="middle" fill="#3a3a3a" textLength="70" lengthAdjust="spacingAndGlyphs" transform="rotate(-90 399.3 260)">% of resident phagocytes</text>
<text x="11" y="378.8" font-size="9.5" font-weight="bold" fill="#000">i</text>
<text x="134.5" y="378.8" font-size="9.5" font-weight="bold" fill="#000">ii</text>
<text x="257" y="378.8" font-size="9.5" font-weight="bold" fill="#000">iii</text>
<text x="375" y="378.8" font-size="9.5" font-weight="bold" fill="#000">iv</text>
<text x="77" y="378.8" font-size="7.3" text-anchor="middle" textLength="60" lengthAdjust="spacingAndGlyphs">Total Phagocytes</text>
<text x="197.5" y="378.8" font-size="7.3" text-anchor="middle" textLength="80" lengthAdjust="spacingAndGlyphs">Resident Macrophages</text>
<text x="321" y="378.8" font-size="7.3" text-anchor="middle" textLength="76" lengthAdjust="spacingAndGlyphs">Recruited Phagocytes</text>
<rect x="42" y="430" width="15.5" height="40.5" fill="#37ab36"/>
<rect x="60" y="424" width="15" height="46.5" fill="#c20024"/>
<rect x="78" y="422" width="15" height="48.5" fill="#37ab36"/>
<rect x="95.5" y="408.8" width="15.3" height="61.7" fill="#c20024"/>
<line x1="49.8" y1="434.2" x2="49.8" y2="425.8" stroke="#111" stroke-width="0.9"/>
<line x1="47.2" y1="425.8" x2="52.2" y2="425.8" stroke="#111" stroke-width="0.9"/>
<line x1="47.2" y1="434.2" x2="52.2" y2="434.2" stroke="#111" stroke-width="0.9"/>
<line x1="67.5" y1="428" x2="67.5" y2="420" stroke="#111" stroke-width="0.9"/>
<line x1="65" y1="420" x2="70" y2="420" stroke="#111" stroke-width="0.9"/>
<line x1="65" y1="428" x2="70" y2="428" stroke="#111" stroke-width="0.9"/>
<line x1="85.5" y1="425.2" x2="85.5" y2="418.8" stroke="#111" stroke-width="0.9"/>
<line x1="83" y1="418.8" x2="88" y2="418.8" stroke="#111" stroke-width="0.9"/>
<line x1="83" y1="425.2" x2="88" y2="425.2" stroke="#111" stroke-width="0.9"/>
<line x1="103.2" y1="412.1" x2="103.2" y2="405.5" stroke="#111" stroke-width="0.9"/>
<line x1="100.7" y1="405.5" x2="105.7" y2="405.5" stroke="#111" stroke-width="0.9"/>
<line x1="100.7" y1="412.1" x2="105.7" y2="412.1" stroke="#111" stroke-width="0.9"/>
<g fill="#0a0a0a"><circle cx="49.6" cy="411.9" r="2"/><circle cx="49.6" cy="418.4" r="2"/><circle cx="49.6" cy="429.2" r="2"/><circle cx="45.8" cy="435.3" r="2"/><circle cx="53.5" cy="435.3" r="2"/><circle cx="45.8" cy="440.4" r="2"/><circle cx="53.5" cy="439.9" r="2"/><circle cx="67.3" cy="410.7" r="2"/><circle cx="63.5" cy="417.8" r="2"/><circle cx="71.5" cy="418.1" r="2"/><circle cx="67.3" cy="425.8" r="2"/><circle cx="67.3" cy="431.9" r="2"/><circle cx="67.3" cy="437.3" r="2"/><circle cx="85" cy="408.5" r="2"/><circle cx="79.6" cy="418.5" r="2"/><circle cx="91.2" cy="415" r="2"/><circle cx="91.2" cy="420.8" r="2"/><circle cx="85" cy="425" r="2"/><circle cx="85" cy="430.7" r="2"/><circle cx="85" cy="435.8" r="2"/><circle cx="85" cy="421.2" r="2"/><circle cx="103" cy="401.9" r="2"/><circle cx="103" cy="406.5" r="2"/><circle cx="99.6" cy="414.7" r="2"/><circle cx="106.5" cy="411.2" r="2"/></g>
<line x1="38.2" y1="386.9" x2="38.2" y2="471.1" stroke="#222" stroke-width="1.2"/>
<line x1="37.6" y1="470.5" x2="113" y2="470.5" stroke="#222" stroke-width="1.2"/>
<line x1="35.4" y1="387.5" x2="38.2" y2="387.5" stroke="#1a1a1a" stroke-width="1"/>
<text x="32.6" y="389.9" font-size="6.8" text-anchor="end" fill="#404040" textLength="10.2" lengthAdjust="spacingAndGlyphs">100</text>
<line x1="35.4" y1="404.1" x2="38.2" y2="404.1" stroke="#1a1a1a" stroke-width="1"/>
<text x="32.6" y="406.5" font-size="6.8" text-anchor="end" fill="#404040" textLength="6.8" lengthAdjust="spacingAndGlyphs">80</text>
<line x1="35.4" y1="420.7" x2="38.2" y2="420.7" stroke="#1a1a1a" stroke-width="1"/>
<text x="32.6" y="423.1" font-size="6.8" text-anchor="end" fill="#404040" textLength="6.8" lengthAdjust="spacingAndGlyphs">60</text>
<line x1="35.4" y1="437.3" x2="38.2" y2="437.3" stroke="#1a1a1a" stroke-width="1"/>
<text x="32.6" y="439.7" font-size="6.8" text-anchor="end" fill="#404040" textLength="6.8" lengthAdjust="spacingAndGlyphs">40</text>
<line x1="35.4" y1="453.9" x2="38.2" y2="453.9" stroke="#1a1a1a" stroke-width="1"/>
<text x="32.6" y="456.3" font-size="6.8" text-anchor="end" fill="#404040" textLength="6.8" lengthAdjust="spacingAndGlyphs">20</text>
<line x1="35.4" y1="470.5" x2="38.2" y2="470.5" stroke="#1a1a1a" stroke-width="1"/>
<text x="32.6" y="472.9" font-size="6.8" text-anchor="end" fill="#404040" textLength="3.4" lengthAdjust="spacingAndGlyphs">0</text>
<line x1="49.8" y1="470.5" x2="49.8" y2="473.1" stroke="#1a1a1a" stroke-width="1"/>
<line x1="67.5" y1="470.5" x2="67.5" y2="473.1" stroke="#1a1a1a" stroke-width="1"/>
<line x1="85.5" y1="470.5" x2="85.5" y2="473.1" stroke="#1a1a1a" stroke-width="1"/>
<line x1="103.2" y1="470.5" x2="103.2" y2="473.1" stroke="#1a1a1a" stroke-width="1"/>
<text x="49.8" y="482.8" font-size="6.6" stroke="#3a3a3a" stroke-width="0.12" text-anchor="middle" fill="#3a3a3a">–</text>
<text x="67.5" y="482.8" font-size="6.6" stroke="#3a3a3a" stroke-width="0.12" text-anchor="middle" fill="#3a3a3a">Heme</text>
<text x="85.5" y="482.8" font-size="6.6" stroke="#3a3a3a" stroke-width="0.12" text-anchor="middle" fill="#3a3a3a">–</text>
<text x="103" y="482.8" font-size="6.6" stroke="#3a3a3a" stroke-width="0.12" text-anchor="middle" fill="#3a3a3a">Heme</text>
<line x1="78" y1="486.5" x2="110.8" y2="486.5" stroke="#555" stroke-width="1.2"/>
<text x="94.4" y="495.5" font-size="6.8" stroke="#3a3a3a" stroke-width="0.12" text-anchor="middle" fill="#3a3a3a">+ACs</text>
<text x="16.2" y="432.5" font-size="6.6" stroke="#3a3a3a" stroke-width="0.12" text-anchor="middle" fill="#3a3a3a" transform="rotate(-90 16.2 432.5)">% of CD45<tspan font-size="4" dy="-2">+</tspan><tspan dy="2"> cells</tspan></text>
<rect x="162.5" y="411" width="15.5" height="59.5" fill="#37ab36"/>
<rect x="180.5" y="429.5" width="15.3" height="41" fill="#c20024"/>
<rect x="198" y="424.5" width="15.8" height="46" fill="#37ab36"/>
<rect x="216" y="457.5" width="15.8" height="13" fill="#c20024"/>
<line x1="170.2" y1="414" x2="170.2" y2="408" stroke="#111" stroke-width="0.9"/>
<line x1="167.8" y1="408" x2="172.8" y2="408" stroke="#111" stroke-width="0.9"/>
<line x1="167.8" y1="414" x2="172.8" y2="414" stroke="#111" stroke-width="0.9"/>
<line x1="188.2" y1="434" x2="188.2" y2="425" stroke="#111" stroke-width="0.9"/>
<line x1="185.7" y1="425" x2="190.7" y2="425" stroke="#111" stroke-width="0.9"/>
<line x1="185.7" y1="434" x2="190.7" y2="434" stroke="#111" stroke-width="0.9"/>
<line x1="205.9" y1="431.4" x2="205.9" y2="417.6" stroke="#111" stroke-width="0.9"/>
<line x1="203.4" y1="417.6" x2="208.4" y2="417.6" stroke="#111" stroke-width="0.9"/>
<line x1="203.4" y1="431.4" x2="208.4" y2="431.4" stroke="#111" stroke-width="0.9"/>
<line x1="223.9" y1="463.4" x2="223.9" y2="451.6" stroke="#111" stroke-width="0.9"/>
<line x1="221.4" y1="451.6" x2="226.4" y2="451.6" stroke="#111" stroke-width="0.9"/>
<line x1="221.4" y1="463.4" x2="226.4" y2="463.4" stroke="#111" stroke-width="0.9"/>
<g fill="#0a0a0a"><circle cx="170.5" cy="399.5" r="2"/><circle cx="164.8" cy="408.6" r="2"/><circle cx="168.9" cy="409.4" r="2"/><circle cx="172.7" cy="409.7" r="2"/><circle cx="164.8" cy="416.8" r="2"/><circle cx="168.9" cy="414.3" r="2"/><circle cx="176.2" cy="414.3" r="2"/><circle cx="172.7" cy="416.3" r="2"/><circle cx="188.5" cy="416.8" r="2"/><circle cx="194.2" cy="414.3" r="2"/><circle cx="182.8" cy="425" r="2"/><circle cx="188.5" cy="427.4" r="2"/><circle cx="194.2" cy="427.1" r="2"/><circle cx="188.5" cy="435.6" r="2"/><circle cx="188.5" cy="441.3" r="2"/><circle cx="188.5" cy="448.6" r="2"/><circle cx="202.4" cy="405.3" r="2"/><circle cx="210.2" cy="404.8" r="2"/><circle cx="202.4" cy="413.5" r="2"/><circle cx="210.2" cy="411.9" r="2"/><circle cx="206.5" cy="425" r="2"/><circle cx="206.5" cy="433.1" r="2"/><circle cx="206.5" cy="447" r="2"/><circle cx="206.5" cy="452.7" r="2"/><circle cx="224.5" cy="443.7" r="2"/><circle cx="224.5" cy="451.6" r="2"/><circle cx="220.4" cy="468.3" r="2"/><circle cx="228.2" cy="468.3" r="2"/></g>
<line x1="158.9" y1="387.4" x2="158.9" y2="471.1" stroke="#222" stroke-width="1.2"/>
<line x1="158.3" y1="470.5" x2="234" y2="470.5" stroke="#222" stroke-width="1.2"/>
<line x1="156.1" y1="388" x2="158.9" y2="388" stroke="#1a1a1a" stroke-width="1"/>
<text x="153.3" y="390.4" font-size="6.8" text-anchor="end" fill="#404040" textLength="10.2" lengthAdjust="spacingAndGlyphs">100</text>
<line x1="156.1" y1="404.5" x2="158.9" y2="404.5" stroke="#1a1a1a" stroke-width="1"/>
<text x="153.3" y="406.9" font-size="6.8" text-anchor="end" fill="#404040" textLength="6.8" lengthAdjust="spacingAndGlyphs">80</text>
<line x1="156.1" y1="421" x2="158.9" y2="421" stroke="#1a1a1a" stroke-width="1"/>
<text x="153.3" y="423.4" font-size="6.8" text-anchor="end" fill="#404040" textLength="6.8" lengthAdjust="spacingAndGlyphs">60</text>
<line x1="156.1" y1="437.5" x2="158.9" y2="437.5" stroke="#1a1a1a" stroke-width="1"/>
<text x="153.3" y="439.9" font-size="6.8" text-anchor="end" fill="#404040" textLength="6.8" lengthAdjust="spacingAndGlyphs">40</text>
<line x1="156.1" y1="454" x2="158.9" y2="454" stroke="#1a1a1a" stroke-width="1"/>
<text x="153.3" y="456.4" font-size="6.8" text-anchor="end" fill="#404040" textLength="6.8" lengthAdjust="spacingAndGlyphs">20</text>
<line x1="156.1" y1="470.5" x2="158.9" y2="470.5" stroke="#1a1a1a" stroke-width="1"/>
<text x="153.3" y="472.9" font-size="6.8" text-anchor="end" fill="#404040" textLength="3.4" lengthAdjust="spacingAndGlyphs">0</text>
<line x1="170.2" y1="470.5" x2="170.2" y2="473.1" stroke="#1a1a1a" stroke-width="1"/>
<line x1="188.2" y1="470.5" x2="188.2" y2="473.1" stroke="#1a1a1a" stroke-width="1"/>
<line x1="205.9" y1="470.5" x2="205.9" y2="473.1" stroke="#1a1a1a" stroke-width="1"/>
<line x1="223.9" y1="470.5" x2="223.9" y2="473.1" stroke="#1a1a1a" stroke-width="1"/>
<line x1="170" y1="395.5" x2="188" y2="395.5" stroke="#3a3a3a" stroke-width="1"/>
<text x="179" y="395.4" font-size="8" text-anchor="middle" font-weight="bold" fill="#2a2a2a" textLength="3" lengthAdjust="spacingAndGlyphs">*</text>
<line x1="188.8" y1="388.5" x2="223.8" y2="388.5" stroke="#3a3a3a" stroke-width="1"/>
<text x="206.3" y="388.4" font-size="8" text-anchor="middle" font-weight="bold" fill="#2a2a2a" textLength="6" lengthAdjust="spacingAndGlyphs">**</text>
<line x1="206.3" y1="399.5" x2="223.8" y2="399.5" stroke="#3a3a3a" stroke-width="1"/>
<text x="215.1" y="399.4" font-size="8" text-anchor="middle" font-weight="bold" fill="#2a2a2a" textLength="9" lengthAdjust="spacingAndGlyphs">***</text>
<text x="170.2" y="482.8" font-size="6.6" stroke="#3a3a3a" stroke-width="0.12" text-anchor="middle" fill="#3a3a3a">–</text>
<text x="188" y="482.8" font-size="6.6" stroke="#3a3a3a" stroke-width="0.12" text-anchor="middle" fill="#3a3a3a">Heme</text>
<text x="206" y="482.8" font-size="6.6" stroke="#3a3a3a" stroke-width="0.12" text-anchor="middle" fill="#3a3a3a">–</text>
<text x="224" y="482.8" font-size="6.6" stroke="#3a3a3a" stroke-width="0.12" text-anchor="middle" fill="#3a3a3a">Heme</text>
<line x1="198" y1="486.5" x2="231.8" y2="486.5" stroke="#555" stroke-width="1.2"/>
<text x="214.9" y="495.5" font-size="6.8" stroke="#3a3a3a" stroke-width="0.12" text-anchor="middle" fill="#3a3a3a">+ACs</text>
<text x="137.3" y="429.3" font-size="6.6" stroke="#3a3a3a" stroke-width="0.12" text-anchor="middle" fill="#3a3a3a" textLength="66" lengthAdjust="spacingAndGlyphs" transform="rotate(-90 137.3 429.3)">% of hepatic phagocytes</text>
<rect x="286.3" y="457.5" width="15.5" height="13" fill="#37ab36"/>
<rect x="304.3" y="446" width="15.2" height="24.5" fill="#c20024"/>
<rect x="322.5" y="450.8" width="15" height="19.7" fill="#37ab36"/>
<rect x="340.3" y="425.8" width="15.2" height="44.7" fill="#c20024"/>
<line x1="294.1" y1="461.2" x2="294.1" y2="453.8" stroke="#111" stroke-width="0.9"/>
<line x1="291.6" y1="453.8" x2="296.6" y2="453.8" stroke="#111" stroke-width="0.9"/>
<line x1="291.6" y1="461.2" x2="296.6" y2="461.2" stroke="#111" stroke-width="0.9"/>
<line x1="311.9" y1="450.7" x2="311.9" y2="441.3" stroke="#111" stroke-width="0.9"/>
<line x1="309.4" y1="441.3" x2="314.4" y2="441.3" stroke="#111" stroke-width="0.9"/>
<line x1="309.4" y1="450.7" x2="314.4" y2="450.7" stroke="#111" stroke-width="0.9"/>
<line x1="330" y1="456.6" x2="330" y2="445" stroke="#111" stroke-width="0.9"/>
<line x1="327.5" y1="445" x2="332.5" y2="445" stroke="#111" stroke-width="0.9"/>
<line x1="327.5" y1="456.6" x2="332.5" y2="456.6" stroke="#111" stroke-width="0.9"/>
<line x1="347.9" y1="430.3" x2="347.9" y2="421.3" stroke="#111" stroke-width="0.9"/>
<line x1="345.4" y1="421.3" x2="350.4" y2="421.3" stroke="#111" stroke-width="0.9"/>
<line x1="345.4" y1="430.3" x2="350.4" y2="430.3" stroke="#111" stroke-width="0.9"/>
<g fill="#0a0a0a"><circle cx="291.8" cy="454.4" r="2"/><circle cx="295.9" cy="452.7" r="2"/><circle cx="299.6" cy="456" r="2"/><circle cx="288.2" cy="457.6" r="2"/><circle cx="292.3" cy="458.5" r="2"/><circle cx="299.6" cy="460.9" r="2"/><circle cx="293.9" cy="464.7" r="2"/><circle cx="311.9" cy="432" r="2"/><circle cx="311.9" cy="436.9" r="2"/><circle cx="311.9" cy="441.3" r="2"/><circle cx="306.2" cy="449.5" r="2"/><circle cx="311.9" cy="446.2" r="2"/><circle cx="317.6" cy="449.5" r="2"/><circle cx="308.6" cy="456" r="2"/><circle cx="315.1" cy="455.2" r="2"/><circle cx="323.8" cy="429" r="2"/><circle cx="329.9" cy="432.3" r="2"/><circle cx="329.9" cy="443.7" r="2"/><circle cx="329.9" cy="451.9" r="2"/><circle cx="329.9" cy="457.6" r="2"/><circle cx="323.8" cy="465" r="2"/><circle cx="329.9" cy="463.7" r="2"/><circle cx="335.6" cy="464.7" r="2"/><circle cx="344.1" cy="418.4" r="2"/><circle cx="351.9" cy="418.4" r="2"/><circle cx="347.8" cy="430.7" r="2"/><circle cx="347.8" cy="433.9" r="2"/></g>
<line x1="282.3" y1="386.9" x2="282.3" y2="471.1" stroke="#222" stroke-width="1.2"/>
<line x1="281.7" y1="470.5" x2="357" y2="470.5" stroke="#222" stroke-width="1.2"/>
<line x1="279.5" y1="387.5" x2="282.3" y2="387.5" stroke="#1a1a1a" stroke-width="1"/>
<text x="276.7" y="389.9" font-size="6.8" text-anchor="end" fill="#404040" textLength="10.2" lengthAdjust="spacingAndGlyphs">150</text>
<line x1="279.5" y1="415.2" x2="282.3" y2="415.2" stroke="#1a1a1a" stroke-width="1"/>
<text x="276.7" y="417.6" font-size="6.8" text-anchor="end" fill="#404040" textLength="10.2" lengthAdjust="spacingAndGlyphs">100</text>
<line x1="279.5" y1="442.8" x2="282.3" y2="442.8" stroke="#1a1a1a" stroke-width="1"/>
<text x="276.7" y="445.2" font-size="6.8" text-anchor="end" fill="#404040" textLength="6.8" lengthAdjust="spacingAndGlyphs">50</text>
<line x1="279.5" y1="470.5" x2="282.3" y2="470.5" stroke="#1a1a1a" stroke-width="1"/>
<text x="276.7" y="472.9" font-size="6.8" text-anchor="end" fill="#404040" textLength="3.4" lengthAdjust="spacingAndGlyphs">0</text>
<line x1="294.1" y1="470.5" x2="294.1" y2="473.1" stroke="#1a1a1a" stroke-width="1"/>
<line x1="311.9" y1="470.5" x2="311.9" y2="473.1" stroke="#1a1a1a" stroke-width="1"/>
<line x1="330" y1="470.5" x2="330" y2="473.1" stroke="#1a1a1a" stroke-width="1"/>
<line x1="347.9" y1="470.5" x2="347.9" y2="473.1" stroke="#1a1a1a" stroke-width="1"/>
<line x1="293.3" y1="420.5" x2="311.8" y2="420.5" stroke="#3a3a3a" stroke-width="1"/>
<text x="302.6" y="420.4" font-size="8" text-anchor="middle" font-weight="bold" fill="#2a2a2a" textLength="3" lengthAdjust="spacingAndGlyphs">*</text>
<line x1="312.5" y1="400.5" x2="347.5" y2="400.5" stroke="#3a3a3a" stroke-width="1"/>
<text x="330" y="400.4" font-size="8" text-anchor="middle" font-weight="bold" fill="#2a2a2a" textLength="6" lengthAdjust="spacingAndGlyphs">**</text>
<line x1="328.8" y1="410.5" x2="347.5" y2="410.5" stroke="#3a3a3a" stroke-width="1"/>
<text x="338.1" y="410.4" font-size="8" text-anchor="middle" font-weight="bold" fill="#2a2a2a" textLength="12" lengthAdjust="spacingAndGlyphs">****</text>
<text x="294" y="482.8" font-size="6.6" stroke="#3a3a3a" stroke-width="0.12" text-anchor="middle" fill="#3a3a3a">–</text>
<text x="312" y="482.8" font-size="6.6" stroke="#3a3a3a" stroke-width="0.12" text-anchor="middle" fill="#3a3a3a">Heme</text>
<text x="330" y="482.8" font-size="6.6" stroke="#3a3a3a" stroke-width="0.12" text-anchor="middle" fill="#3a3a3a">–</text>
<text x="348" y="482.8" font-size="6.6" stroke="#3a3a3a" stroke-width="0.12" text-anchor="middle" fill="#3a3a3a">Heme</text>
<line x1="322.5" y1="486.5" x2="355.5" y2="486.5" stroke="#555" stroke-width="1.2"/>
<text x="339" y="495.5" font-size="6.8" stroke="#3a3a3a" stroke-width="0.12" text-anchor="middle" fill="#3a3a3a">+ACs</text>
<text x="259.8" y="429.3" font-size="6.6" stroke="#3a3a3a" stroke-width="0.12" text-anchor="middle" fill="#3a3a3a" textLength="66" lengthAdjust="spacingAndGlyphs" transform="rotate(-90 259.8 429.3)">% of hepatic phagocytes</text>
<text x="15" y="554" font-size="9.5" font-weight="bold" fill="#000">i</text>
<text x="36.3" y="553.6" font-size="7.7" fill="#2a2a2a">F4/80<tspan font-size="5" dy="-3.2">high/int</tspan><tspan dy="3.2"> cells</tspan></text>
<text x="151.8" y="553.6" font-size="7.7" text-anchor="middle" fill="#2a2a2a">Gr-1<tspan font-size="5" dy="-3.2">+</tspan><tspan dy="3.2"> cells</tspan></text>
<text x="237.7" y="553.6" font-size="7.7" text-anchor="middle" fill="#2a2a2a">F4/80<tspan font-size="5" dy="-3.2">−</tspan><tspan dy="3.2"> Gr-1</tspan><tspan font-size="5" dy="-3.2">−</tspan><tspan dy="3.2"> cells</tspan></text>
<text x="281" y="554" font-size="9.5" font-weight="bold" fill="#000">ii</text>
<rect x="48.2" y="611.5" width="11.8" height="14.1" fill="#37ab36"/>
<rect x="61.6" y="593.4" width="11.6" height="32.2" fill="#c20024"/>
<rect x="74.8" y="606" width="11.4" height="19.6" fill="#c20024"/>
<line x1="54.1" y1="614.5" x2="54.1" y2="608.5" stroke="#111" stroke-width="0.9"/>
<line x1="51.6" y1="608.5" x2="56.6" y2="608.5" stroke="#111" stroke-width="0.9"/>
<line x1="51.6" y1="614.5" x2="56.6" y2="614.5" stroke="#111" stroke-width="0.9"/>
<line x1="67.4" y1="597" x2="67.4" y2="589.8" stroke="#111" stroke-width="0.9"/>
<line x1="64.9" y1="589.8" x2="69.9" y2="589.8" stroke="#111" stroke-width="0.9"/>
<line x1="64.9" y1="597" x2="69.9" y2="597" stroke="#111" stroke-width="0.9"/>
<line x1="80.5" y1="611" x2="80.5" y2="601" stroke="#111" stroke-width="0.9"/>
<line x1="78" y1="601" x2="83" y2="601" stroke="#111" stroke-width="0.9"/>
<line x1="78" y1="611" x2="83" y2="611" stroke="#111" stroke-width="0.9"/>
<g fill="#0a0a0a"><circle cx="53.8" cy="600.8" r="1.4"/><circle cx="51.7" cy="606.7" r="1.4"/><circle cx="56.4" cy="605.6" r="1.4"/><circle cx="53.8" cy="611.9" r="1.4"/><circle cx="53.8" cy="616.7" r="1.4"/><circle cx="51.7" cy="620.4" r="1.4"/><circle cx="56.4" cy="619.3" r="1.4"/><circle cx="67.3" cy="578" r="1.4"/><circle cx="62.5" cy="587.3" r="1.4"/><circle cx="67.3" cy="585.9" r="1.4"/><circle cx="71.8" cy="588.4" r="1.4"/><circle cx="67.3" cy="598.7" r="1.4"/><circle cx="64.9" cy="603" r="1.4"/><circle cx="69.7" cy="603.5" r="1.4"/><circle cx="67.3" cy="607.2" r="1.4"/><circle cx="67.3" cy="591.8" r="1.4"/><circle cx="80.3" cy="578" r="1.4"/><circle cx="76" cy="595" r="1.4"/><circle cx="80.3" cy="595.5" r="1.4"/><circle cx="80.3" cy="599.7" r="1.4"/><circle cx="77.6" cy="604" r="1.4"/><circle cx="82.4" cy="603" r="1.4"/><circle cx="80.3" cy="614.1" r="1.4"/><circle cx="77.6" cy="622.5" r="1.4"/><circle cx="82.4" cy="622.5" r="1.4"/></g>
<line x1="42.5" y1="569.6" x2="42.5" y2="626.2" stroke="#222" stroke-width="1.2"/>
<line x1="41.9" y1="625.6" x2="90" y2="625.6" stroke="#222" stroke-width="1.2"/>
<line x1="39.7" y1="570.2" x2="42.5" y2="570.2" stroke="#1a1a1a" stroke-width="1"/>
<text x="36.9" y="572.6" font-size="6.8" text-anchor="end" fill="#404040" textLength="6.8" lengthAdjust="spacingAndGlyphs">10</text>
<line x1="39.7" y1="581.3" x2="42.5" y2="581.3" stroke="#1a1a1a" stroke-width="1"/>
<text x="36.9" y="583.7" font-size="6.8" text-anchor="end" fill="#404040" textLength="3.4" lengthAdjust="spacingAndGlyphs">8</text>
<line x1="39.7" y1="592.4" x2="42.5" y2="592.4" stroke="#1a1a1a" stroke-width="1"/>
<text x="36.9" y="594.8" font-size="6.8" text-anchor="end" fill="#404040" textLength="3.4" lengthAdjust="spacingAndGlyphs">6</text>
<line x1="39.7" y1="603.5" x2="42.5" y2="603.5" stroke="#1a1a1a" stroke-width="1"/>
<text x="36.9" y="605.9" font-size="6.8" text-anchor="end" fill="#404040" textLength="3.4" lengthAdjust="spacingAndGlyphs">4</text>
<line x1="39.7" y1="614.5" x2="42.5" y2="614.5" stroke="#1a1a1a" stroke-width="1"/>
<text x="36.9" y="616.9" font-size="6.8" text-anchor="end" fill="#404040" textLength="3.4" lengthAdjust="spacingAndGlyphs">2</text>
<line x1="39.7" y1="625.6" x2="42.5" y2="625.6" stroke="#1a1a1a" stroke-width="1"/>
<text x="36.9" y="628" font-size="6.8" text-anchor="end" fill="#404040" textLength="3.4" lengthAdjust="spacingAndGlyphs">0</text>
<line x1="54.1" y1="625.6" x2="54.1" y2="628.2" stroke="#1a1a1a" stroke-width="1"/>
<line x1="67.4" y1="625.6" x2="67.4" y2="628.2" stroke="#1a1a1a" stroke-width="1"/>
<line x1="80.5" y1="625.6" x2="80.5" y2="628.2" stroke="#1a1a1a" stroke-width="1"/>
<line x1="52.2" y1="574.5" x2="67" y2="574.5" stroke="#3a3a3a" stroke-width="1"/>
<text x="59.6" y="574.4" font-size="8" text-anchor="middle" font-weight="bold" fill="#2a2a2a" textLength="6" lengthAdjust="spacingAndGlyphs">**</text>
<line x1="68" y1="571.5" x2="81.7" y2="571.5" stroke="#3a3a3a" stroke-width="1"/>
<text x="74.8" y="571.4" font-size="8" text-anchor="middle" font-weight="bold" fill="#2a2a2a" textLength="3" lengthAdjust="spacingAndGlyphs">*</text>
<text x="54.1" y="636.5" font-size="6.6" stroke="#3a3a3a" stroke-width="0.12" text-anchor="middle" fill="#3a3a3a">NT</text>
<text x="67.4" y="636.5" font-size="6.6" stroke="#3a3a3a" stroke-width="0.12" text-anchor="middle" fill="#3a3a3a">Alb</text>
<text x="80.5" y="636.5" font-size="6.6" stroke="#3a3a3a" stroke-width="0.12" text-anchor="middle" fill="#3a3a3a">Hx</text>
<line x1="61.6" y1="641.5" x2="86.2" y2="641.5" stroke="#555" stroke-width="1.2"/>
<text x="73.9" y="650" font-size="6.8" stroke="#3a3a3a" stroke-width="0.12" text-anchor="middle" fill="#3a3a3a">Heme</text>
<text x="23.7" y="596.3" font-size="6.6" stroke="#3a3a3a" stroke-width="0.12" text-anchor="middle" fill="#3a3a3a" transform="rotate(-90 23.7 596.3)">Cell number (×10<tspan font-size="3.8" dy="-2">5</tspan><tspan dy="2">)</tspan></text>
<rect x="132.7" y="617" width="11.5" height="8.4" fill="#37ab36"/>
<rect x="146.2" y="602.7" width="11.1" height="22.7" fill="#c20024"/>
<rect x="159.2" y="616" width="11.2" height="9.4" fill="#c20024"/>
<line x1="138.4" y1="619.4" x2="138.4" y2="614.6" stroke="#111" stroke-width="0.9"/>
<line x1="135.9" y1="614.6" x2="140.9" y2="614.6" stroke="#111" stroke-width="0.9"/>
<line x1="135.9" y1="619.4" x2="140.9" y2="619.4" stroke="#111" stroke-width="0.9"/>
<line x1="151.8" y1="608.1" x2="151.8" y2="597.3" stroke="#111" stroke-width="0.9"/>
<line x1="149.2" y1="597.3" x2="154.2" y2="597.3" stroke="#111" stroke-width="0.9"/>
<line x1="149.2" y1="608.1" x2="154.2" y2="608.1" stroke="#111" stroke-width="0.9"/>
<line x1="164.8" y1="619" x2="164.8" y2="613" stroke="#111" stroke-width="0.9"/>
<line x1="162.3" y1="613" x2="167.3" y2="613" stroke="#111" stroke-width="0.9"/>
<line x1="162.3" y1="619" x2="167.3" y2="619" stroke="#111" stroke-width="0.9"/>
<g fill="#0a0a0a"><circle cx="139" cy="609.8" r="1.4"/><circle cx="134.6" cy="613.1" r="1.4"/><circle cx="140.4" cy="614.6" r="1.4"/><circle cx="136.2" cy="617.5" r="1.4"/><circle cx="140" cy="618.8" r="1.4"/><circle cx="142.3" cy="618.8" r="1.4"/><circle cx="137.1" cy="620.4" r="1.4"/><circle cx="150" cy="576.7" r="1.4"/><circle cx="154" cy="576.2" r="1.4"/><circle cx="151.2" cy="588.7" r="1.4"/><circle cx="151.2" cy="593.5" r="1.4"/><circle cx="148.7" cy="606.9" r="1.4"/><circle cx="152.5" cy="610.8" r="1.4"/><circle cx="147.7" cy="614.6" r="1.4"/><circle cx="151.2" cy="619.4" r="1.4"/><circle cx="160.2" cy="603.1" r="1.4"/><circle cx="164.6" cy="604" r="1.4"/><circle cx="169.2" cy="603.5" r="1.4"/><circle cx="161.2" cy="615.6" r="1.4"/><circle cx="166" cy="614.6" r="1.4"/><circle cx="163.1" cy="618.5" r="1.4"/></g>
<line x1="127.3" y1="570.2" x2="127.3" y2="626" stroke="#222" stroke-width="1.2"/>
<line x1="126.7" y1="625.4" x2="174" y2="625.4" stroke="#222" stroke-width="1.2"/>
<line x1="124.5" y1="570.8" x2="127.3" y2="570.8" stroke="#1a1a1a" stroke-width="1"/>
<text x="121.7" y="573.2" font-size="6.8" text-anchor="end" fill="#404040" textLength="3.4" lengthAdjust="spacingAndGlyphs">6</text>
<line x1="124.5" y1="589" x2="127.3" y2="589" stroke="#1a1a1a" stroke-width="1"/>
<text x="121.7" y="591.4" font-size="6.8" text-anchor="end" fill="#404040" textLength="3.4" lengthAdjust="spacingAndGlyphs">4</text>
<line x1="124.5" y1="607.2" x2="127.3" y2="607.2" stroke="#1a1a1a" stroke-width="1"/>
<text x="121.7" y="609.6" font-size="6.8" text-anchor="end" fill="#404040" textLength="3.4" lengthAdjust="spacingAndGlyphs">2</text>
<line x1="124.5" y1="625.4" x2="127.3" y2="625.4" stroke="#1a1a1a" stroke-width="1"/>
<text x="121.7" y="627.8" font-size="6.8" text-anchor="end" fill="#404040" textLength="3.4" lengthAdjust="spacingAndGlyphs">0</text>
<line x1="138.4" y1="625.4" x2="138.4" y2="628" stroke="#1a1a1a" stroke-width="1"/>
<line x1="151.8" y1="625.4" x2="151.8" y2="628" stroke="#1a1a1a" stroke-width="1"/>
<line x1="164.8" y1="625.4" x2="164.8" y2="628" stroke="#1a1a1a" stroke-width="1"/>
<line x1="135.2" y1="570.5" x2="150.6" y2="570.5" stroke="#3a3a3a" stroke-width="1"/>
<text x="142.9" y="570.4" font-size="8" text-anchor="middle" font-weight="bold" fill="#2a2a2a" textLength="3" lengthAdjust="spacingAndGlyphs">*</text>
<line x1="151.5" y1="571.5" x2="167" y2="571.5" stroke="#3a3a3a" stroke-width="1"/>
<text x="159.2" y="571.4" font-size="8" text-anchor="middle" font-weight="bold" fill="#2a2a2a" textLength="3" lengthAdjust="spacingAndGlyphs">*</text>
<text x="138.5" y="636.5" font-size="6.6" stroke="#3a3a3a" stroke-width="0.12" text-anchor="middle" fill="#3a3a3a">NT</text>
<text x="151.8" y="636.5" font-size="6.6" stroke="#3a3a3a" stroke-width="0.12" text-anchor="middle" fill="#3a3a3a">Alb</text>
<text x="164.8" y="636.5" font-size="6.6" stroke="#3a3a3a" stroke-width="0.12" text-anchor="middle" fill="#3a3a3a">Hx</text>
<line x1="145.8" y1="641.5" x2="170.8" y2="641.5" stroke="#555" stroke-width="1.2"/>
<text x="158.3" y="650" font-size="6.8" stroke="#3a3a3a" stroke-width="0.12" text-anchor="middle" fill="#3a3a3a">Heme</text>
<text x="111.2" y="596.3" font-size="6.6" stroke="#3a3a3a" stroke-width="0.12" text-anchor="middle" fill="#3a3a3a" transform="rotate(-90 111.2 596.3)">Cell number (×10<tspan font-size="3.8" dy="-2">5</tspan><tspan dy="2">)</tspan></text>
<rect x="222.3" y="615.7" width="11" height="9.9" fill="#37ab36"/>
<rect x="235.4" y="597.7" width="11.9" height="27.9" fill="#c20024"/>
<rect x="249.4" y="608.9" width="11.4" height="16.7" fill="#c20024"/>
<line x1="227.8" y1="618.5" x2="227.8" y2="612.9" stroke="#111" stroke-width="0.9"/>
<line x1="225.3" y1="612.9" x2="230.3" y2="612.9" stroke="#111" stroke-width="0.9"/>
<line x1="225.3" y1="618.5" x2="230.3" y2="618.5" stroke="#111" stroke-width="0.9"/>
<line x1="241.4" y1="604.1" x2="241.4" y2="591.3" stroke="#111" stroke-width="0.9"/>
<line x1="238.9" y1="591.3" x2="243.9" y2="591.3" stroke="#111" stroke-width="0.9"/>
<line x1="238.9" y1="604.1" x2="243.9" y2="604.1" stroke="#111" stroke-width="0.9"/>
<line x1="255.1" y1="613.8" x2="255.1" y2="604" stroke="#111" stroke-width="0.9"/>
<line x1="252.6" y1="604" x2="257.6" y2="604" stroke="#111" stroke-width="0.9"/>
<line x1="252.6" y1="613.8" x2="257.6" y2="613.8" stroke="#111" stroke-width="0.9"/>
<g fill="#0a0a0a"><circle cx="224.4" cy="613.6" r="1.4"/><circle cx="229.1" cy="612.9" r="1.4"/><circle cx="231.8" cy="613.6" r="1.4"/><circle cx="226.1" cy="616.7" r="1.4"/><circle cx="230.8" cy="616.7" r="1.4"/><circle cx="227.6" cy="619.9" r="1.4"/><circle cx="241.3" cy="571.3" r="1.4"/><circle cx="240.9" cy="585" r="1.4"/><circle cx="237.1" cy="590.3" r="1.4"/><circle cx="245.6" cy="590.9" r="1.4"/><circle cx="240.3" cy="593.5" r="1.4"/><circle cx="243.5" cy="597.7" r="1.4"/><circle cx="238.2" cy="601.9" r="1.4"/><circle cx="241.3" cy="610.4" r="1.4"/><circle cx="241.3" cy="621" r="1.4"/><circle cx="251.9" cy="596" r="1.4"/><circle cx="255.7" cy="597.3" r="1.4"/><circle cx="254" cy="600.2" r="1.4"/><circle cx="251.9" cy="604" r="1.4"/><circle cx="257.2" cy="605.1" r="1.4"/><circle cx="254" cy="611.4" r="1.4"/><circle cx="255.1" cy="617.2" r="1.4"/></g>
<line x1="215.6" y1="571.7" x2="215.6" y2="626.2" stroke="#222" stroke-width="1.2"/>
<line x1="215" y1="625.6" x2="264" y2="625.6" stroke="#222" stroke-width="1.2"/>
<line x1="212.8" y1="572.3" x2="215.6" y2="572.3" stroke="#1a1a1a" stroke-width="1"/>
<text x="210" y="574.7" font-size="6.8" text-anchor="end" fill="#404040" textLength="3.4" lengthAdjust="spacingAndGlyphs">2</text>
<line x1="212.8" y1="585.6" x2="215.6" y2="585.6" stroke="#1a1a1a" stroke-width="1"/>
<text x="210" y="588" font-size="6.8" text-anchor="end" fill="#404040" textLength="8.3" lengthAdjust="spacingAndGlyphs">1.5</text>
<line x1="212.8" y1="598.9" x2="215.6" y2="598.9" stroke="#1a1a1a" stroke-width="1"/>
<text x="210" y="601.3" font-size="6.8" text-anchor="end" fill="#404040" textLength="3.4" lengthAdjust="spacingAndGlyphs">1</text>
<line x1="212.8" y1="612.3" x2="215.6" y2="612.3" stroke="#1a1a1a" stroke-width="1"/>
<text x="210" y="614.7" font-size="6.8" text-anchor="end" fill="#404040" textLength="4.9" lengthAdjust="spacingAndGlyphs">.5</text>
<line x1="212.8" y1="625.6" x2="215.6" y2="625.6" stroke="#1a1a1a" stroke-width="1"/>
<text x="210" y="628" font-size="6.8" text-anchor="end" fill="#404040" textLength="3.4" lengthAdjust="spacingAndGlyphs">0</text>
<line x1="227.8" y1="625.6" x2="227.8" y2="628.2" stroke="#1a1a1a" stroke-width="1"/>
<line x1="241.4" y1="625.6" x2="241.4" y2="628.2" stroke="#1a1a1a" stroke-width="1"/>
<line x1="255.1" y1="625.6" x2="255.1" y2="628.2" stroke="#1a1a1a" stroke-width="1"/>
<line x1="225.5" y1="567.5" x2="240.3" y2="567.5" stroke="#3a3a3a" stroke-width="1"/>
<text x="232.9" y="567.4" font-size="8" text-anchor="middle" font-weight="bold" fill="#2a2a2a" textLength="6" lengthAdjust="spacingAndGlyphs">**</text>
<line x1="241.3" y1="564.5" x2="255" y2="564.5" stroke="#3a3a3a" stroke-width="1"/>
<text x="248.2" y="564.4" font-size="8" text-anchor="middle" font-weight="bold" fill="#2a2a2a" textLength="3" lengthAdjust="spacingAndGlyphs">*</text>
<text x="227.8" y="636.5" font-size="6.6" stroke="#3a3a3a" stroke-width="0.12" text-anchor="middle" fill="#3a3a3a">NT</text>
<text x="241.3" y="636.5" font-size="6.6" stroke="#3a3a3a" stroke-width="0.12" text-anchor="middle" fill="#3a3a3a">Alb</text>
<text x="255.1" y="636.5" font-size="6.6" stroke="#3a3a3a" stroke-width="0.12" text-anchor="middle" fill="#3a3a3a">Hx</text>
<line x1="235.4" y1="641.5" x2="259.3" y2="641.5" stroke="#555" stroke-width="1.2"/>
<text x="247.4" y="650" font-size="6.8" stroke="#3a3a3a" stroke-width="0.12" text-anchor="middle" fill="#3a3a3a">Heme</text>
<text x="195.5" y="597" font-size="6.6" stroke="#3a3a3a" stroke-width="0.12" text-anchor="middle" fill="#3a3a3a" transform="rotate(-90 195.5 597)">Cell number (×10<tspan font-size="3.8" dy="-2">5</tspan><tspan dy="2">)</tspan></text>
<text x="12" y="211" font-size="10" font-weight="bold" fill="#000">v</text>
<path d="M32.5 219V303.5H362" fill="none" stroke="#111" stroke-width="1.1"/>
<path d="M32.5 214.5l-2.3 5h4.6z M366.5 303.5l-5 -2.3v4.6z" fill="#111"/>
<text x="26.2" y="261" font-size="6.8" stroke="#3a3a3a" stroke-width="0.1" text-anchor="middle" fill="#3a3a3a" transform="rotate(-90 26.2 261)">CD11b</text>
<text x="200" y="311.8" font-size="6.8" stroke="#3a3a3a" stroke-width="0.1" text-anchor="middle" fill="#3a3a3a">F4/80</text>
<defs><filter id="bl" x="-20%" y="-20%" width="140%" height="140%"><feGaussianBlur stdDeviation="1.6"/></filter><filter id="bl2" x="-20%" y="-20%" width="140%" height="140%"><feGaussianBlur stdDeviation="1"/></filter></defs>
<g filter="url(#bl)" fill="#2b3592"><polygon points="78.8,251.1 101.3,245.3 104.3,253.4 95.2,272.3" opacity="0.9"/><polygon points="81.3,247.3 92.1,236.3 103.3,229.3 106.3,235.3 92.1,245.3" opacity="0.8"/></g>
<path d="M74.1 239.3h.1M62.7 235.7h.1M77.1 231.7h.1M80.7 233.2h.1M72.4 247.8h.1M60.3 231.0h.1M72.2 233.7h.1M81.9 230.4h.1M85.9 245.7h.1M84.1 238.0h.1M66.9 242.2h.1M74.8 237.9h.1M68.8 238.2h.1M79.9 245.2h.1M88.0 233.3h.1M67.4 238.3h.1M76.5 236.6h.1M63.9 231.8h.1M68.3 238.6h.1M90.3 246.7h.1M86.7 247.8h.1M90.0 241.5h.1M84.9 231.4h.1M80.3 241.3h.1M67.4 240.6h.1M89.7 239.0h.1M79.3 235.7h.1M69.0 246.2h.1M58.2 233.7h.1M80.4 238.4h.1M60.2 242.2h.1M69.9 240.8h.1M71.5 239.8h.1M76.5 237.4h.1M61.2 233.5h.1M87.6 240.2h.1M61.1 245.8h.1M65.9 232.0h.1M75.3 234.8h.1M73.9 240.3h.1M65.0 240.6h.1M61.1 239.5h.1M77.3 231.7h.1M71.2 231.6h.1M72.2 245.8h.1M76.0 243.2h.1M83.0 232.4h.1M91.0 243.3h.1M60.8 245.2h.1M70.6 233.4h.1M89.9 240.4h.1M83.6 232.8h.1M83.7 231.3h.1M65.4 237.0h.1M57.8 241.0h.1M64.5 235.7h.1M81.4 238.0h.1M87.5 241.5h.1M87.0 240.4h.1M88.5 246.0h.1M63.0 243.7h.1M68.9 244.0h.1M80.4 245.2h.1M61.5 237.0h.1M82.4 247.4h.1M81.8 231.1h.1M77.8 232.1h.1M76.0 244.8h.1M61.1 247.0h.1M80.3 234.9h.1M63.9 238.3h.1M85.8 240.8h.1M61.2 230.7h.1M61.1 244.7h.1M63.6 240.3h.1M67.2 242.7h.1M70.2 232.9h.1M87.1 240.0h.1M80.7 244.8h.1M89.6 230.5h.1M68.9 233.0h.1M74.4 246.0h.1M84.5 230.9h.1M63.5 245.0h.1M80.4 237.4h.1M73.5 233.1h.1M86.0 237.4h.1M87.0 241.3h.1M59.9 236.2h.1M64.7 246.4h.1M77.3 231.1h.1M63.1 236.8h.1M73.2 240.7h.1M70.5 236.7h.1M57.5 240.7h.1M68.6 230.7h.1M72.9 248.1h.1M58.8 232.9h.1M80.1 235.2h.1M66.6 239.3h.1M66.2 240.5h.1M75.3 247.5h.1M91.0 230.9h.1M76.4 244.2h.1M87.0 244.2h.1M78.8 241.7h.1M69.6 235.4h.1M84.3 246.0h.1M89.2 242.6h.1M67.6 244.0h.1M82.4 239.5h.1M78.9 236.6h.1M76.0 237.6h.1M59.4 236.4h.1M68.3 248.1h.1M73.7 236.9h.1M65.6 234.5h.1M69.2 232.7h.1M57.5 246.0h.1M72.7 238.3h.1M76.6 235.7h.1M63.0 231.5h.1M67.6 235.9h.1M82.0 240.2h.1M89.2 236.4h.1M88.6 240.8h.1M60.0 233.5h.1M77.0 248.1h.1M69.4 244.2h.1M71.9 245.9h.1M59.6 239.0h.1M87.9 235.3h.1M66.1 230.7h.1M62.9 235.1h.1M81.2 234.2h.1M70.9 233.9h.1M77.8 245.9h.1M79.3 233.8h.1M82.3 247.6h.1M77.7 231.7h.1M84.8 246.1h.1M68.9 232.8h.1M63.7 240.0h.1M87.1 241.8h.1M88.7 234.1h.1M68.4 243.8h.1M79.4 237.6h.1M80.4 236.4h.1M59.3 237.8h.1M58.8 241.6h.1M68.7 239.2h.1M77.6 234.9h.1M73.1 230.5h.1M88.8 240.5h.1M90.9 231.3h.1M78.2 243.3h.1M68.5 232.0h.1M62.6 232.9h.1M83.4 231.9h.1M85.0 237.9h.1M75.6 240.9h.1M76.2 242.1h.1M77.8 236.3h.1M82.5 234.9h.1M81.5 244.0h.1M83.7 235.9h.1M83.6 247.9h.1M72.7 235.3h.1M75.1 247.2h.1M61.8 230.5h.1M73.5 242.1h.1M83.6 236.8h.1M90.9 234.4h.1M83.0 231.9h.1M58.3 232.7h.1M59.3 239.3h.1M76.2 233.6h.1M89.3 236.9h.1M62.4 233.5h.1M82.4 246.9h.1M62.8 230.8h.1M83.8 234.7h.1M90.7 239.3h.1M78.9 236.5h.1M84.5 238.6h.1M68.3 246.6h.1M61.0 243.5h.1M59.5 241.9h.1M71.0 245.9h.1M59.3 240.5h.1M71.2 246.8h.1M89.4 241.6h.1M64.9 234.8h.1M66.2 238.1h.1M65.2 234.0h.1M83.1 241.9h.1M67.4 248.2h.1M64.7 240.6h.1M62.6 245.8h.1M86.9 235.1h.1M82.9 245.1h.1M66.9 236.3h.1M73.8 246.3h.1M62.8 242.6h.1M77.6 238.5h.1M77.0 246.2h.1M64.4 246.2h.1M69.6 244.3h.1M86.7 233.6h.1M86.7 248.2h.1M67.4 230.7h.1M61.1 247.8h.1M57.6 246.7h.1M62.4 243.5h.1M60.6 233.3h.1M80.5 231.9h.1M68.8 246.8h.1M81.7 246.2h.1M90.6 230.9h.1M65.3 244.6h.1M80.7 231.0h.1M74.5 234.5h.1M71.9 232.2h.1M58.0 248.1h.1M68.1 246.1h.1M61.4 239.1h.1M61.9 238.0h.1M63.4 242.6h.1M62.3 243.6h.1M74.3 232.3h.1M69.3 239.2h.1M88.5 236.6h.1M64.6 247.7h.1M87.3 243.5h.1M66.6 233.5h.1M66.3 231.5h.1M58.8 239.5h.1M71.2 240.3h.1M69.6 230.5h.1M80.7 242.1h.1M75.8 240.2h.1M80.8 248.0h.1M87.0 243.2h.1M70.9 236.0h.1M71.6 247.8h.1M70.5 237.2h.1M71.2 232.9h.1M91.2 230.4h.1M78.0 247.0h.1M66.0 241.3h.1M70.1 234.6h.1M64.0 232.4h.1M86.0 244.4h.1M88.2 231.2h.1M80.9 236.1h.1M79.3 240.2h.1M68.0 247.8h.1M57.3 243.7h.1M86.3 239.5h.1M77.4 248.2h.1" stroke="#5a64b8" stroke-width="0.8" stroke-linecap="round" opacity="0.35" fill="none"/>
<path d="M91.7 252.3h.1M100.1 248.0h.1M102.0 256.7h.1M90.2 263.6h.1M88.2 261.8h.1M83.0 252.3h.1M99.7 251.2h.1M87.0 255.5h.1M91.4 249.3h.1M103.8 257.3h.1M97.2 275.9h.1M96.3 268.6h.1M85.7 252.5h.1M103.4 250.8h.1M95.2 264.8h.1M101.4 264.9h.1M96.9 248.4h.1M84.8 255.5h.1M99.2 263.7h.1M99.3 264.1h.1M98.3 255.4h.1M90.9 257.1h.1M97.0 264.2h.1M95.8 250.6h.1M100.2 267.8h.1M95.8 274.0h.1M101.1 253.1h.1M92.7 262.5h.1M92.5 268.1h.1M94.0 260.3h.1M95.4 268.0h.1M95.7 259.3h.1M101.7 262.3h.1M85.1 250.8h.1M101.1 255.9h.1M93.7 268.8h.1M90.0 248.2h.1M97.5 268.5h.1M103.7 255.3h.1M88.3 262.6h.1M86.4 252.4h.1M94.9 270.7h.1M87.6 256.1h.1M99.9 249.8h.1M89.8 261.9h.1M94.9 250.5h.1M87.2 252.8h.1M95.1 259.7h.1M100.6 249.3h.1M95.9 273.0h.1M88.8 255.4h.1M95.0 261.9h.1M101.7 253.6h.1M87.0 261.6h.1M100.6 263.2h.1M86.3 258.4h.1M100.7 257.5h.1M100.6 247.4h.1M86.3 255.6h.1M86.7 254.9h.1M98.3 258.5h.1M93.8 266.8h.1M82.4 251.7h.1M88.5 253.3h.1M90.4 249.5h.1M82.0 254.4h.1M88.9 259.5h.1M95.8 273.7h.1M100.4 250.3h.1M93.1 258.0h.1M92.4 251.2h.1M84.0 249.5h.1M102.0 260.3h.1M83.7 252.5h.1M94.3 255.2h.1M107.1 249.3h.1M97.1 275.8h.1M97.8 250.8h.1M96.1 247.5h.1M93.8 247.8h.1M88.9 257.6h.1M93.7 258.5h.1M98.2 270.1h.1M97.3 253.2h.1M93.2 254.2h.1M85.2 249.5h.1M87.2 254.6h.1M89.4 256.1h.1M95.4 262.8h.1M90.5 248.8h.1M85.2 257.7h.1M99.5 267.3h.1M90.6 264.9h.1M81.4 250.2h.1M92.1 267.2h.1M90.0 255.0h.1M88.9 254.5h.1M92.4 250.5h.1M93.5 263.3h.1M93.3 253.5h.1M93.7 267.6h.1M85.9 255.6h.1M96.2 262.8h.1M98.9 270.4h.1M102.9 251.3h.1M91.0 266.4h.1M98.2 247.8h.1M104.1 250.2h.1M85.8 253.6h.1M85.6 254.9h.1M98.6 271.7h.1M86.1 259.4h.1M99.7 262.8h.1M83.5 249.8h.1M86.5 259.6h.1M94.7 249.0h.1M98.6 250.1h.1M98.7 270.5h.1M92.1 256.6h.1M97.1 264.6h.1M94.6 259.9h.1M107.0 247.1h.1M98.2 260.4h.1M93.5 250.2h.1M98.2 248.8h.1M102.7 259.7h.1M95.3 247.4h.1M95.8 252.4h.1M93.8 271.9h.1M93.0 262.0h.1M95.5 260.5h.1M98.4 262.2h.1M96.5 253.2h.1M92.6 264.7h.1M91.7 256.2h.1M95.0 262.1h.1M96.8 253.9h.1M91.9 264.8h.1M99.8 261.1h.1M99.5 255.4h.1M102.5 261.8h.1M96.0 248.5h.1M90.5 251.7h.1M94.4 269.9h.1M93.5 249.0h.1M107.0 248.5h.1M90.9 261.4h.1M85.8 256.3h.1M93.5 267.9h.1M87.6 251.7h.1M96.8 268.6h.1M101.7 249.9h.1M83.4 250.4h.1M103.6 246.5h.1M100.0 260.9h.1M82.6 254.8h.1M91.9 260.9h.1M100.9 256.1h.1M90.9 257.6h.1M101.3 246.1h.1M103.8 258.6h.1M85.8 259.1h.1M99.4 261.0h.1M107.6 244.6h.1M86.2 249.7h.1M87.2 256.8h.1M94.5 271.1h.1M89.7 252.0h.1M98.2 248.9h.1M98.1 269.1h.1M106.3 247.0h.1M97.6 255.6h.1M83.0 251.3h.1M99.0 263.8h.1M108.2 245.9h.1M93.8 253.3h.1M97.2 272.9h.1M96.8 273.2h.1M99.0 256.5h.1M94.0 249.4h.1M89.7 252.0h.1M99.4 253.3h.1M85.5 253.9h.1M84.4 255.4h.1M94.1 256.5h.1M99.3 267.9h.1M97.5 251.9h.1M90.0 248.5h.1M87.1 249.1h.1M95.4 260.7h.1M93.5 261.9h.1M97.3 274.0h.1M95.0 264.5h.1M97.4 251.5h.1M100.2 261.4h.1M89.0 248.7h.1M102.0 250.6h.1M94.7 258.2h.1M97.7 257.1h.1M83.3 253.5h.1M94.8 269.8h.1M89.9 253.0h.1M97.0 272.5h.1M89.1 258.4h.1M92.1 255.0h.1M96.4 260.8h.1M92.1 261.3h.1M102.1 246.5h.1M88.3 262.4h.1M102.6 246.3h.1M95.0 257.9h.1M86.2 260.6h.1M102.6 260.8h.1M94.4 262.6h.1M84.2 257.4h.1M89.2 260.5h.1M81.0 250.6h.1M92.6 254.6h.1M100.2 260.3h.1M92.9 257.9h.1M90.0 251.7h.1M96.9 256.6h.1M95.1 273.2h.1M94.0 258.1h.1M95.6 272.6h.1M89.2 259.7h.1M90.7 253.6h.1M92.9 263.5h.1M97.1 251.5h.1M88.3 253.7h.1M93.7 250.5h.1M94.3 256.5h.1M86.8 249.6h.1M89.8 259.2h.1M97.5 272.2h.1M99.2 257.5h.1M96.3 256.5h.1M94.0 247.2h.1M89.9 255.8h.1M102.6 259.6h.1M100.3 247.8h.1M105.9 252.3h.1M86.3 257.0h.1M104.9 251.1h.1M87.5 249.3h.1M101.0 257.4h.1M100.6 255.5h.1M93.2 259.1h.1M100.0 248.2h.1M88.3 256.2h.1M99.5 267.4h.1M96.6 246.9h.1M86.0 257.2h.1M94.7 256.5h.1M104.8 253.8h.1M103.2 259.5h.1M95.4 250.5h.1M96.9 271.2h.1M81.1 251.9h.1M88.1 262.6h.1M85.3 250.0h.1M97.6 254.6h.1M104.0 246.6h.1M96.1 264.6h.1M93.0 263.5h.1M96.3 273.4h.1M93.5 262.4h.1M88.0 257.6h.1M104.2 248.1h.1M94.3 247.8h.1M88.3 263.6h.1M98.3 255.5h.1M89.7 258.7h.1M102.7 250.2h.1M92.9 270.6h.1M106.6 248.1h.1M86.7 257.6h.1M95.0 268.8h.1M97.5 258.5h.1M86.7 261.4h.1M97.8 259.5h.1M88.4 249.8h.1M97.4 272.2h.1M101.9 247.4h.1M91.6 255.9h.1M98.0 252.1h.1M98.9 247.4h.1M86.2 254.6h.1M91.9 250.2h.1M89.2 262.1h.1M101.8 247.0h.1M97.2 263.4h.1M93.1 258.3h.1M88.8 249.8h.1M97.2 273.4h.1M99.7 256.5h.1M105.1 252.8h.1M93.3 270.1h.1M104.4 254.2h.1M103.1 257.3h.1M87.2 253.6h.1M104.8 247.7h.1M98.2 253.0h.1M82.2 249.8h.1M95.3 251.1h.1M86.7 251.5h.1M91.2 250.5h.1M91.1 255.7h.1M94.2 250.5h.1M97.4 264.5h.1M101.2 261.8h.1M96.7 257.0h.1M86.2 257.4h.1M96.0 273.7h.1M100.9 257.1h.1M97.5 270.6h.1M91.9 255.2h.1M99.3 259.7h.1M83.4 254.1h.1M105.9 245.2h.1M93.0 269.2h.1M91.9 263.8h.1M96.9 246.5h.1M98.9 248.3h.1M87.1 253.1h.1M93.7 270.4h.1M85.4 253.8h.1M99.4 255.8h.1M86.1 257.4h.1M94.1 254.4h.1M103.7 258.9h.1M94.6 271.2h.1M103.8 247.5h.1M104.1 254.3h.1M87.7 256.3h.1M95.6 256.1h.1M83.9 251.5h.1M101.1 258.5h.1M95.0 253.8h.1M97.5 246.7h.1M96.6 260.8h.1M86.9 259.6h.1M92.2 263.7h.1M90.8 255.4h.1M85.8 258.0h.1M88.9 248.9h.1M100.2 255.8h.1M96.5 254.5h.1M90.6 250.2h.1M86.7 249.7h.1M97.0 259.5h.1M103.3 251.2h.1M90.1 256.0h.1M98.1 252.6h.1M92.6 268.7h.1M98.5 269.9h.1M99.6 269.4h.1M101.3 247.0h.1M97.5 252.1h.1M93.5 260.1h.1M90.3 249.5h.1M90.8 260.0h.1M103.4 245.9h.1M84.5 250.8h.1M88.2 260.5h.1M84.5 252.8h.1M87.4 248.6h.1M93.4 268.0h.1M104.9 246.7h.1M102.3 246.3h.1M100.6 264.9h.1M96.5 256.8h.1M84.4 249.3h.1M94.0 258.0h.1M96.4 273.7h.1M94.6 271.5h.1M101.8 250.9h.1M94.9 264.5h.1M89.3 262.8h.1M99.6 248.4h.1M91.6 258.9h.1M106.8 245.3h.1M100.4 251.6h.1M103.0 246.4h.1M81.5 251.8h.1M95.1 269.8h.1M88.7 251.4h.1M94.4 255.4h.1M87.5 260.4h.1M100.1 267.9h.1M93.8 255.7h.1M93.0 270.7h.1M88.4 259.6h.1M108.0 244.8h.1M94.9 261.6h.1M81.4 251.3h.1M95.4 254.6h.1M101.1 260.8h.1M96.2 271.9h.1M89.9 256.1h.1M88.7 255.3h.1M103.4 255.2h.1M95.4 258.0h.1M104.2 247.3h.1M98.8 269.3h.1M87.9 250.4h.1M90.3 265.0h.1M99.9 246.5h.1M83.0 249.9h.1M88.8 250.8h.1M91.2 263.1h.1M98.0 263.3h.1M93.8 260.0h.1M96.6 256.6h.1M89.6 252.8h.1M101.4 249.3h.1M96.8 268.3h.1M103.0 256.7h.1M105.0 250.9h.1M91.1 255.3h.1M106.8 247.9h.1M102.5 255.4h.1M97.6 246.6h.1M98.7 253.2h.1M91.3 258.4h.1M95.7 274.5h.1M98.3 251.8h.1M85.6 251.6h.1M85.8 258.0h.1M86.3 254.6h.1M87.6 261.4h.1M92.7 266.8h.1M93.2 264.3h.1M105.5 251.5h.1M97.0 274.1h.1M98.3 257.9h.1M92.5 258.8h.1M87.2 254.9h.1M97.7 264.8h.1M102.5 251.6h.1M85.5 259.1h.1M103.0 250.9h.1M92.3 253.8h.1M93.6 261.2h.1M83.0 252.6h.1M101.1 262.6h.1M100.1 248.6h.1M96.7 268.0h.1M96.7 255.3h.1M100.9 247.1h.1M98.9 263.6h.1M97.5 259.2h.1M83.4 249.5h.1M93.8 253.3h.1M104.8 251.1h.1M95.7 274.6h.1M99.8 251.4h.1M99.2 249.6h.1M96.1 251.7h.1M89.7 265.1h.1M91.7 250.4h.1M93.2 266.5h.1M99.5 261.5h.1M88.8 257.0h.1M95.0 249.2h.1M91.4 262.8h.1M85.8 249.9h.1M87.5 252.4h.1M81.4 250.6h.1M94.7 248.6h.1M92.5 266.3h.1M89.0 259.9h.1M106.9 249.3h.1M99.7 269.9h.1M99.9 250.6h.1M99.1 271.2h.1M93.0 259.7h.1M101.7 257.3h.1M87.4 256.2h.1M89.4 251.3h.1M90.7 265.2h.1M102.7 246.4h.1M106.6 248.0h.1M99.4 259.8h.1M103.6 254.5h.1M104.2 257.8h.1M102.7 255.8h.1M100.6 259.2h.1M91.1 266.9h.1M98.2 253.5h.1M90.4 254.7h.1M96.3 252.2h.1M95.4 250.1h.1M90.9 261.1h.1M90.0 261.6h.1M95.3 248.1h.1M99.9 248.4h.1M91.3 254.6h.1M95.6 248.4h.1M101.2 257.2h.1M96.3 273.3h.1M83.7 249.5h.1M90.7 253.6h.1M103.8 245.6h.1M95.3 248.2h.1M96.8 272.3h.1M86.9 250.8h.1M87.6 259.3h.1M104.8 249.7h.1M95.5 269.2h.1M106.4 248.9h.1M95.7 249.2h.1M90.3 256.0h.1M100.2 255.6h.1M83.7 255.0h.1M105.6 246.6h.1M90.8 251.0h.1M98.5 270.4h.1M92.3 263.9h.1M104.9 255.9h.1M91.1 261.5h.1M94.0 250.7h.1M106.3 244.7h.1M101.3 264.2h.1M98.6 268.8h.1M87.2 261.6h.1M102.7 252.5h.1M95.8 252.2h.1M102.5 246.8h.1M98.1 269.3h.1M90.4 248.4h.1M97.8 256.7h.1M88.7 248.3h.1M83.0 254.1h.1M101.0 263.1h.1M95.8 250.0h.1M87.4 255.6h.1M99.3 246.7h.1M85.8 259.9h.1M88.9 259.3h.1M96.5 264.6h.1M100.6 252.0h.1M100.0 262.0h.1M106.4 246.4h.1M89.3 252.7h.1M93.7 266.9h.1M87.1 255.3h.1M96.1 254.8h.1M91.3 267.6h.1M102.5 256.1h.1M99.9 263.0h.1M86.0 257.1h.1M103.6 248.0h.1M90.2 264.4h.1M95.8 254.1h.1M95.1 271.0h.1M89.6 265.1h.1M96.5 273.1h.1M96.2 265.4h.1M100.5 256.8h.1M106.8 249.7h.1M94.0 256.4h.1M96.8 274.0h.1M90.9 256.6h.1M94.7 273.1h.1M96.6 263.1h.1M96.9 263.4h.1M88.0 251.7h.1M87.0 249.8h.1M103.7 252.7h.1M91.2 252.5h.1M105.4 252.9h.1M103.8 258.5h.1M94.2 261.8h.1M98.8 265.9h.1M94.4 271.2h.1M106.0 245.0h.1M91.4 255.0h.1M88.0 250.1h.1M99.0 266.8h.1M95.0 267.7h.1M103.8 247.9h.1M95.9 256.2h.1M89.7 248.7h.1M98.1 251.2h.1M90.9 252.2h.1M101.1 254.1h.1M101.9 254.9h.1M96.9 265.7h.1M98.0 274.4h.1M84.1 250.1h.1M107.4 246.4h.1M92.2 251.9h.1M80.9 251.2h.1M95.1 258.2h.1M93.1 255.4h.1M91.9 265.8h.1M101.7 251.1h.1M86.7 252.1h.1M96.9 273.3h.1M82.9 251.2h.1M86.2 255.2h.1M83.3 250.5h.1M87.3 254.4h.1M93.4 252.6h.1M103.4 254.0h.1M84.1 252.3h.1M105.7 250.9h.1M96.5 259.7h.1M84.5 257.1h.1M100.7 267.8h.1M96.1 256.6h.1M89.3 263.5h.1M90.6 259.6h.1M87.7 261.2h.1M100.3 252.8h.1M104.2 254.0h.1M99.3 252.7h.1M106.8 247.1h.1M107.0 249.6h.1M83.0 255.7h.1M86.8 249.4h.1M88.3 263.5h.1M98.2 252.5h.1M93.7 262.5h.1M101.9 250.6h.1M102.5 247.0h.1M91.7 254.3h.1M97.3 261.9h.1M94.1 266.8h.1M95.9 271.0h.1M92.2 254.1h.1M104.5 255.8h.1M98.4 258.3h.1M107.6 246.8h.1M106.4 245.2h.1M90.2 256.1h.1M91.2 263.1h.1M100.0 249.4h.1M94.6 261.2h.1M97.8 253.9h.1M93.1 258.2h.1M95.6 256.9h.1M99.1 272.1h.1M94.1 255.1h.1M92.3 261.0h.1M93.7 260.2h.1M91.4 262.0h.1M96.5 270.1h.1M90.5 257.2h.1M91.0 252.6h.1M86.7 253.5h.1M92.6 257.5h.1M97.9 251.3h.1M92.5 253.3h.1M84.9 257.5h.1M106.9 245.5h.1M89.3 260.0h.1M83.5 255.7h.1M97.5 263.8h.1M96.7 266.3h.1M86.2 255.2h.1M91.6 248.7h.1M101.1 252.0h.1M97.5 261.8h.1M100.0 262.4h.1M94.4 265.7h.1M101.8 253.4h.1M92.3 265.1h.1M96.6 254.3h.1M96.0 253.7h.1M89.8 251.7h.1M91.5 256.9h.1M89.5 258.0h.1M99.9 262.7h.1M100.0 265.2h.1M89.8 261.0h.1M91.0 256.6h.1M102.7 253.0h.1M100.2 259.8h.1M101.3 263.8h.1M90.3 250.1h.1M96.6 266.8h.1M97.0 265.4h.1M95.1 247.7h.1M90.2 264.7h.1M98.2 270.4h.1M89.7 262.9h.1M92.7 265.2h.1M98.2 254.9h.1M100.4 256.9h.1M93.0 262.1h.1M97.9 247.9h.1M97.9 267.4h.1M101.8 252.8h.1M105.9 245.0h.1M91.0 249.5h.1M94.7 259.3h.1M87.2 261.5h.1M102.1 254.7h.1M96.0 238.5h.1M104.8 236.1h.1M105.0 229.8h.1M104.1 232.9h.1M97.2 238.6h.1M104.9 235.1h.1M102.9 231.0h.1M98.6 233.5h.1M94.9 243.5h.1M101.2 234.4h.1M105.5 234.5h.1M92.8 236.5h.1M102.7 240.2h.1M98.9 242.7h.1M104.9 232.5h.1M95.8 243.2h.1M97.7 237.8h.1M103.2 234.3h.1M94.6 239.9h.1M100.4 239.5h.1M95.8 234.8h.1M94.1 235.3h.1M106.7 232.6h.1M104.2 232.2h.1M106.2 232.6h.1M103.7 231.4h.1M101.8 235.6h.1M106.6 231.8h.1M101.9 234.9h.1M91.7 243.7h.1M93.6 241.1h.1M89.3 239.4h.1M106.2 232.7h.1M104.5 230.6h.1M101.7 236.3h.1M102.8 228.0h.1M104.8 234.5h.1M101.4 232.8h.1M99.6 236.2h.1M103.4 229.2h.1M100.0 235.9h.1M92.1 244.6h.1M101.1 240.0h.1M91.6 243.5h.1M96.5 233.1h.1M105.3 232.7h.1M85.7 248.3h.1M98.4 233.1h.1M103.1 236.3h.1M95.9 235.4h.1M109.3 235.5h.1M102.9 237.0h.1M83.8 241.9h.1M104.4 229.1h.1M98.0 242.6h.1M98.6 236.5h.1M108.9 237.0h.1M102.1 236.2h.1M97.1 240.8h.1M97.2 234.9h.1M99.8 236.7h.1M96.5 235.5h.1M94.1 232.5h.1M93.5 237.8h.1M102.8 230.1h.1M95.6 242.0h.1M102.1 241.0h.1M103.7 232.7h.1M95.0 238.0h.1M102.3 238.0h.1M101.7 235.3h.1M102.5 233.3h.1M105.0 231.5h.1M94.8 239.3h.1M86.1 249.0h.1M105.3 241.7h.1M103.0 236.4h.1M96.9 229.0h.1M99.1 232.1h.1M98.7 232.3h.1M103.0 235.6h.1M101.2 241.6h.1M104.7 235.2h.1M87.4 246.2h.1M106.4 237.3h.1M95.0 236.3h.1M105.2 233.9h.1M91.4 236.5h.1M93.5 237.2h.1M98.6 238.9h.1M102.3 236.0h.1M100.1 235.5h.1M89.4 249.0h.1M103.0 239.5h.1M105.8 231.6h.1M97.0 238.4h.1M106.0 243.4h.1M96.5 233.8h.1M99.7 241.3h.1M94.5 243.6h.1M91.2 242.4h.1M102.4 234.6h.1M90.9 244.0h.1M105.2 232.3h.1M93.5 247.4h.1M93.9 241.0h.1M103.5 234.4h.1M104.5 234.5h.1M104.9 237.2h.1M86.2 239.9h.1M100.9 234.3h.1M104.2 228.7h.1M96.9 244.9h.1M84.2 245.1h.1M83.1 242.8h.1M85.6 239.3h.1M95.1 239.1h.1M104.0 230.9h.1M100.7 239.6h.1M101.2 236.9h.1M97.4 236.8h.1M103.2 231.8h.1M94.6 236.0h.1M95.3 234.5h.1M97.9 239.9h.1M99.4 226.4h.1M100.2 235.6h.1M107.6 232.6h.1M103.6 235.6h.1M99.5 233.1h.1M108.3 233.5h.1M92.8 235.9h.1M99.2 239.9h.1M101.2 232.7h.1M103.9 239.8h.1M92.4 236.5h.1M83.6 246.7h.1M102.8 238.8h.1M105.0 233.8h.1M104.4 232.4h.1M106.2 235.8h.1M92.4 237.1h.1M106.2 234.4h.1M103.2 227.9h.1M98.2 242.1h.1M105.5 235.3h.1M92.5 241.2h.1M88.7 233.7h.1M100.1 234.0h.1M90.6 238.1h.1M93.9 240.3h.1M94.8 232.0h.1M90.1 245.4h.1M90.1 235.8h.1M103.9 240.7h.1M97.0 232.7h.1M97.6 235.4h.1M91.5 240.3h.1M91.3 240.7h.1M98.5 233.2h.1M96.1 236.3h.1M86.9 244.6h.1M106.6 230.3h.1M102.2 236.2h.1M105.6 235.7h.1M98.2 242.2h.1M100.0 237.3h.1M107.2 231.5h.1M102.7 228.8h.1M94.3 240.5h.1M99.6 227.0h.1M105.9 236.9h.1M106.1 235.3h.1M86.3 244.5h.1M92.8 241.7h.1M88.1 245.8h.1M101.7 238.3h.1M104.9 229.4h.1M108.5 235.9h.1M98.2 239.7h.1M91.5 245.1h.1M99.9 235.4h.1M104.5 239.3h.1M96.2 237.0h.1M100.9 241.6h.1M111.6 237.9h.1M94.5 243.1h.1M96.5 239.3h.1M109.0 237.0h.1M85.0 241.5h.1M103.4 232.4h.1M104.3 227.3h.1M89.6 247.6h.1M109.1 235.9h.1M101.5 233.4h.1M106.2 237.6h.1M88.8 242.1h.1M91.5 244.8h.1M99.5 238.1h.1M92.1 244.2h.1M105.5 239.4h.1M92.6 241.7h.1M87.8 247.0h.1M105.7 231.0h.1M106.2 233.9h.1M97.4 236.4h.1M92.7 248.5h.1M99.8 232.7h.1M96.2 234.4h.1M101.8 241.7h.1M102.3 236.5h.1M88.7 246.1h.1M101.8 232.6h.1M105.0 232.0h.1M93.2 238.6h.1M94.9 240.9h.1M104.3 232.0h.1M100.0 238.4h.1M96.2 240.5h.1M106.4 230.7h.1M89.9 248.0h.1M90.9 238.3h.1M98.4 236.5h.1M94.0 243.4h.1M103.4 249.2h.1M105.8 231.4h.1M88.2 241.8h.1M91.7 250.6h.1M101.6 231.8h.1M90.6 254.0h.1M103.8 232.3h.1M84.8 248.3h.1M103.5 231.1h.1M97.7 237.3h.1M106.5 232.9h.1M93.2 246.2h.1M92.3 242.2h.1M89.2 236.6h.1M90.9 247.3h.1M100.5 238.9h.1M95.1 241.1h.1M105.5 238.3h.1M103.3 231.4h.1M87.3 243.2h.1M100.5 230.0h.1M89.3 247.1h.1M102.5 230.3h.1M108.6 237.6h.1M103.4 243.4h.1M99.1 237.7h.1M105.3 232.4h.1M106.1 234.9h.1M97.4 240.0h.1M102.5 238.1h.1M82.1 243.4h.1M99.2 236.1h.1M89.2 241.6h.1M101.7 227.2h.1M95.0 238.5h.1M101.6 231.0h.1M91.2 249.5h.1M95.5 231.5h.1M97.0 232.9h.1M85.2 245.0h.1M107.0 231.9h.1M90.7 245.1h.1M94.0 240.6h.1M88.7 242.7h.1M102.8 234.6h.1M101.3 236.1h.1M97.5 231.2h.1M89.0 242.5h.1M105.2 232.4h.1M89.5 241.9h.1M97.4 234.4h.1M90.1 242.8h.1M99.0 240.6h.1M107.3 235.7h.1M87.9 237.8h.1M90.0 239.7h.1M106.5 235.8h.1M96.8 236.6h.1M102.9 229.9h.1M106.1 231.4h.1M103.1 232.4h.1M97.0 240.9h.1M101.5 243.0h.1M105.6 231.5h.1M104.9 233.7h.1M98.9 235.7h.1M108.1 233.8h.1M97.0 236.9h.1M99.9 232.7h.1M90.0 246.8h.1M97.4 237.0h.1M90.6 242.4h.1M107.6 232.8h.1M96.9 228.2h.1M107.5 237.9h.1M83.7 241.0h.1M101.4 234.6h.1M97.3 244.4h.1M102.4 239.9h.1M92.5 238.4h.1M95.0 229.8h.1M96.6 242.7h.1M94.5 238.5h.1M100.1 234.4h.1M105.1 229.4h.1M98.4 237.0h.1M100.4 237.2h.1M91.2 243.8h.1M93.4 237.6h.1M94.5 241.8h.1M85.2 238.1h.1M100.0 233.8h.1M99.6 234.7h.1M101.8 232.6h.1M95.8 233.3h.1M97.7 235.9h.1M95.3 239.5h.1M100.8 238.7h.1M96.5 237.9h.1M96.0 238.5h.1M105.4 232.9h.1M101.5 240.7h.1M96.3 242.3h.1M103.7 233.4h.1M94.9 247.5h.1M99.6 240.0h.1M86.2 241.8h.1M104.7 236.1h.1M90.4 244.2h.1M108.3 241.4h.1M90.2 240.6h.1M103.9 237.0h.1M103.4 238.6h.1M96.5 232.0h.1M103.2 233.7h.1M95.3 232.0h.1M102.9 231.8h.1M86.0 236.2h.1M108.8 237.7h.1M100.8 235.8h.1M101.6 240.6h.1M96.9 236.9h.1M105.9 236.3h.1M94.8 235.4h.1M95.1 232.7h.1M95.6 240.9h.1M95.1 235.4h.1M94.8 238.2h.1M105.5 235.5h.1M96.1 234.6h.1M91.6 240.9h.1M101.6 237.4h.1M104.5 241.5h.1M97.9 242.7h.1M107.6 236.8h.1M88.3 234.7h.1M97.9 238.1h.1M87.0 244.5h.1M95.8 229.2h.1M103.9 233.7h.1M102.3 239.9h.1M99.4 236.5h.1M101.0 232.4h.1M102.1 237.4h.1M98.9 243.0h.1M98.6 235.0h.1M87.9 241.2h.1M101.7 238.1h.1M104.3 241.5h.1M95.3 231.6h.1M93.3 230.4h.1M91.2 231.8h.1M100.2 237.1h.1M94.3 237.6h.1M108.1 233.2h.1M87.6 239.8h.1M104.4 230.3h.1M103.7 226.2h.1M104.6 230.9h.1M95.3 240.5h.1M98.1 234.7h.1M91.9 241.5h.1M100.0 232.9h.1M106.1 229.7h.1M103.6 238.1h.1M104.6 234.2h.1M95.0 239.3h.1M94.9 239.2h.1M102.4 229.1h.1M90.8 239.0h.1M97.6 234.5h.1M101.3 234.2h.1M102.3 240.3h.1M97.3 237.8h.1M91.9 245.6h.1M92.4 247.3h.1M90.5 245.0h.1M106.8 236.3h.1M101.4 235.7h.1M84.4 245.1h.1M102.4 231.5h.1M99.0 243.0h.1M91.5 241.6h.1M106.8 233.6h.1M99.4 233.8h.1M98.6 240.9h.1M89.5 247.6h.1M105.0 229.2h.1M96.9 235.9h.1M85.9 243.3h.1M107.4 233.6h.1M104.4 230.2h.1M103.6 231.8h.1M109.3 235.5h.1M100.5 238.9h.1M96.5 237.5h.1M103.3 234.6h.1M107.1 235.1h.1M99.2 237.5h.1M90.3 239.6h.1M98.3 241.8h.1M99.6 247.0h.1M102.1 238.8h.1M98.5 240.7h.1M98.2 239.4h.1M105.1 233.6h.1M96.2 238.8h.1M95.9 241.7h.1M96.3 244.9h.1M96.5 239.9h.1M90.9 241.7h.1M93.4 238.7h.1M106.3 235.2h.1M106.4 235.3h.1M105.4 234.8h.1M104.6 236.5h.1M98.0 240.4h.1M106.2 231.2h.1M99.5 237.2h.1M92.6 245.8h.1M102.5 233.9h.1M105.0 242.1h.1M96.5 238.6h.1M95.5 245.1h.1M107.1 235.1h.1M101.6 238.7h.1M94.5 240.4h.1M100.0 231.9h.1M99.6 234.8h.1M90.7 246.4h.1M92.8 243.2h.1M100.6 232.7h.1M87.9 240.4h.1M98.4 235.7h.1M96.5 241.9h.1M93.8 241.8h.1M89.9 242.2h.1M95.6 235.6h.1M106.6 233.2h.1M101.2 226.5h.1M90.3 242.4h.1M102.8 235.3h.1M100.8 233.0h.1M103.6 237.3h.1M102.7 234.4h.1M100.0 244.5h.1M101.9 235.8h.1M106.9 233.5h.1M103.1 233.8h.1M86.2 244.1h.1M91.9 242.7h.1M98.4 240.7h.1M85.7 243.4h.1M94.5 245.6h.1M102.0 228.6h.1M92.5 238.2h.1M97.1 236.5h.1M82.0 244.5h.1M105.1 233.4h.1M85.3 242.5h.1M104.6 232.0h.1M93.2 239.8h.1M90.1 243.5h.1M104.7 230.1h.1M106.1 237.8h.1M98.6 240.5h.1M104.2 235.0h.1M87.5 241.4h.1M102.4 225.7h.1M104.7 237.7h.1M104.7 236.0h.1M95.8 233.7h.1M86.8 243.5h.1M97.4 233.6h.1M108.6 235.5h.1M89.4 248.5h.1M103.3 235.2h.1M98.5 234.0h.1M105.2 229.2h.1M91.8 237.5h.1M86.4 242.4h.1M94.1 243.6h.1M97.2 242.4h.1M104.5 238.3h.1M93.6 240.7h.1M100.5 241.1h.1M105.4 230.4h.1M107.0 234.5h.1M89.1 239.9h.1M103.8 232.1h.1M100.1 236.3h.1M100.9 232.9h.1M97.6 230.6h.1M105.6 234.2h.1M89.4 242.2h.1M94.4 243.8h.1M87.5 243.9h.1M104.0 236.3h.1M99.5 239.4h.1M99.7 238.9h.1M96.7 239.2h.1M85.6 247.2h.1M107.2 231.4h.1M102.1 232.9h.1M106.1 230.2h.1M98.5 236.3h.1M98.8 239.0h.1M87.0 249.9h.1M104.4 229.5h.1M104.1 228.6h.1M101.9 234.9h.1M92.1 244.7h.1M86.7 246.3h.1M91.1 233.9h.1M89.5 237.7h.1M103.3 227.6h.1M92.4 243.0h.1M99.7 228.4h.1M97.1 241.4h.1M98.8 244.4h.1M94.7 235.8h.1M104.2 232.1h.1M96.0 244.3h.1M102.1 236.2h.1M103.4 231.3h.1M102.3 225.6h.1" stroke="#2b3592" stroke-width="0.9" stroke-linecap="round" opacity="0.6" fill="none"/>
<rect x="41.3" y="215.3" width="79.2" height="80.8" fill="none" stroke="#8a8a8a" stroke-width="0.8"/>
<path d="M39.8 226.8h1.5M52.6 296.1v1.5M39.8 238.4h1.5M63.9 296.1v1.5M39.8 249.9h1.5M75.2 296.1v1.5M39.8 261.5h1.5M86.6 296.1v1.5M39.8 273.0h1.5M97.9 296.1v1.5M39.8 284.6h1.5M109.2 296.1v1.5" stroke="#222" stroke-width="0.8"/>
<polygon points="52.8,222.3 109.8,221.1 112.8,226.5 108.8,241.8 77.3,249.8 56.3,247.8" fill="none" stroke="#333" stroke-width="0.8"/>
<polygon points="77.8,249.3 109.8,241.8 113.8,265.3 97.8,278.8" fill="none" stroke="#333" stroke-width="0.8"/>
<text x="41.7" y="221.1" font-size="6" font-weight="bold" fill="#1a1a1a" textLength="67" lengthAdjust="spacingAndGlyphs">Recruited Phagocytes</text>
<text x="41.7" y="228.6" font-size="6.2" font-weight="bold" fill="#1a1a1a" textLength="17.4" lengthAdjust="spacingAndGlyphs">11.8%</text>
<text x="116.5" y="274.3" font-size="6.2" text-anchor="end" font-weight="bold" fill="#1a1a1a" textLength="8.6" lengthAdjust="spacingAndGlyphs">KC</text>
<text x="116.5" y="281.7" font-size="6.2" text-anchor="end" font-weight="bold" fill="#1a1a1a" textLength="17.5" lengthAdjust="spacingAndGlyphs">86.9%</text>
<text x="42.5" y="293.6" font-size="7.3" font-weight="bold" fill="#1a1a1a">HbA NT</text>
<g filter="url(#bl)" fill="#2b3592"><polygon points="159.9,250.4 183.4,245.3 185.4,254.4 176.6,272.2" opacity="0.9"/><polygon points="142.4,243.8 161.4,236.3 183.4,227.8 187.4,230.8 183.4,237.8 161.4,246.8 144.4,247.3" opacity="0.85"/></g>
<path d="M177.8 265.8h.1M178.3 265.4h.1M179.0 264.8h.1M180.6 257.7h.1M185.5 254.6h.1M178.8 260.2h.1M177.1 265.4h.1M183.1 248.0h.1M180.2 254.4h.1M183.6 259.8h.1M168.6 252.7h.1M170.1 262.6h.1M182.2 260.0h.1M178.7 269.6h.1M179.4 271.4h.1M182.1 256.5h.1M166.5 252.0h.1M186.2 245.8h.1M181.0 250.8h.1M186.1 248.3h.1M168.5 256.1h.1M168.9 259.3h.1M173.9 261.9h.1M174.6 249.7h.1M177.6 246.5h.1M178.5 263.2h.1M178.7 252.4h.1M184.9 249.4h.1M180.4 265.3h.1M179.3 253.3h.1M176.6 257.1h.1M171.2 248.3h.1M175.7 264.4h.1M164.3 254.7h.1M185.9 253.0h.1M173.5 254.7h.1M186.1 247.3h.1M172.9 251.7h.1M173.1 260.4h.1M172.5 259.3h.1M171.3 249.1h.1M179.3 257.3h.1M180.7 267.5h.1M183.5 256.0h.1M176.7 266.6h.1M181.4 263.4h.1M176.2 271.6h.1M165.4 257.9h.1M184.2 255.2h.1M170.6 250.1h.1M177.9 265.5h.1M182.7 260.8h.1M166.7 256.2h.1M170.8 266.1h.1M181.6 259.8h.1M174.7 265.1h.1M177.2 249.8h.1M181.4 260.7h.1M177.2 251.9h.1M174.0 255.2h.1M172.2 248.8h.1M177.0 260.3h.1M170.5 255.0h.1M166.9 255.5h.1M176.4 271.9h.1M164.0 252.0h.1M174.6 260.5h.1M173.3 268.3h.1M177.4 262.4h.1M173.5 268.6h.1M184.4 257.8h.1M162.8 255.2h.1M178.6 272.5h.1M178.8 262.1h.1M177.4 277.0h.1M172.4 255.6h.1M173.4 255.2h.1M171.6 261.4h.1M182.3 258.3h.1M166.4 258.2h.1M167.0 254.8h.1M177.1 269.4h.1M166.4 250.4h.1M182.2 256.9h.1M182.1 260.5h.1M183.5 256.4h.1M179.8 270.6h.1M169.8 261.8h.1M166.6 258.5h.1M182.8 257.9h.1M182.2 255.4h.1M184.9 251.1h.1M185.9 253.5h.1M172.7 260.0h.1M176.9 248.5h.1M178.2 250.0h.1M168.9 261.6h.1M179.5 247.5h.1M186.6 246.6h.1M180.5 251.3h.1M169.6 261.6h.1M174.4 262.6h.1M175.0 257.0h.1M172.0 254.1h.1M187.2 248.8h.1M176.1 271.2h.1M164.1 252.2h.1M166.8 250.2h.1M183.1 255.7h.1M183.4 248.0h.1M182.8 250.0h.1M173.6 268.7h.1M175.7 272.6h.1M172.4 254.7h.1M182.6 255.1h.1M179.0 250.8h.1M174.2 268.0h.1M187.4 248.9h.1M165.8 249.5h.1M171.7 248.6h.1M184.5 256.0h.1M175.9 263.6h.1M170.6 262.2h.1M177.8 263.9h.1M181.8 249.0h.1M186.5 248.2h.1M161.8 249.9h.1M169.7 262.7h.1M174.4 257.8h.1M176.0 262.3h.1M177.8 274.3h.1M177.3 250.6h.1M179.7 260.1h.1M164.6 253.5h.1M183.2 248.4h.1M177.9 270.2h.1M187.7 245.2h.1M172.0 248.6h.1M180.1 247.5h.1M180.0 247.4h.1M177.5 260.3h.1M180.2 268.7h.1M178.9 270.4h.1M169.6 250.2h.1M177.9 249.2h.1M176.7 253.1h.1M181.2 262.2h.1M169.7 263.9h.1M174.0 267.1h.1M173.8 265.0h.1M176.7 258.1h.1M182.2 250.4h.1M185.4 246.5h.1M182.3 250.2h.1M172.6 263.5h.1M165.6 251.9h.1M187.9 247.7h.1M182.9 259.6h.1M171.3 262.2h.1M174.0 263.7h.1M181.2 256.9h.1M172.6 259.9h.1M167.8 252.4h.1M184.5 248.8h.1M176.3 250.0h.1M176.8 275.7h.1M178.5 252.6h.1M177.9 255.9h.1M179.8 269.1h.1M168.8 256.4h.1M167.4 260.7h.1M180.2 254.8h.1M187.6 246.8h.1M181.0 252.9h.1M175.4 253.5h.1M181.8 247.4h.1M177.6 264.9h.1M177.2 276.1h.1M176.4 256.1h.1M176.8 266.9h.1M174.8 263.6h.1M187.2 244.6h.1M171.8 265.8h.1M173.2 250.0h.1M180.0 268.5h.1M182.5 250.0h.1M172.3 251.9h.1M169.3 254.9h.1M179.9 246.6h.1M163.2 255.9h.1M182.7 260.6h.1M167.7 251.3h.1M173.4 258.5h.1M176.6 265.9h.1M167.9 255.1h.1M175.1 269.1h.1M172.8 252.4h.1M166.3 258.9h.1M184.2 249.1h.1M165.7 250.9h.1M166.8 256.6h.1M168.0 254.6h.1M181.9 262.9h.1M168.5 255.0h.1M175.9 268.4h.1M169.0 262.7h.1M176.9 273.8h.1M164.2 255.8h.1M184.7 249.8h.1M169.9 254.1h.1M177.4 253.7h.1M176.3 249.5h.1M174.1 256.1h.1M181.5 252.2h.1M171.3 257.5h.1M164.3 254.6h.1M173.2 250.0h.1M172.8 252.5h.1M180.3 264.2h.1M168.0 254.8h.1M168.3 263.5h.1M161.9 253.2h.1M175.5 264.8h.1M181.0 262.4h.1M173.3 253.9h.1M181.6 250.3h.1M183.2 254.2h.1M166.9 257.0h.1M178.4 263.4h.1M173.0 253.3h.1M175.3 268.0h.1M175.5 272.2h.1M169.8 256.4h.1M172.1 267.2h.1M184.7 248.2h.1M173.0 250.6h.1M180.2 261.2h.1M169.6 263.3h.1M174.3 272.1h.1M187.2 249.3h.1M175.2 246.9h.1M185.1 246.4h.1M179.2 251.9h.1M173.3 258.2h.1M172.4 264.6h.1M172.3 262.5h.1M179.4 248.2h.1M168.6 258.6h.1M172.9 266.7h.1M176.8 247.8h.1M184.6 255.3h.1M181.7 264.8h.1M179.6 255.9h.1M171.2 263.2h.1M178.9 246.8h.1M176.1 272.5h.1M176.9 260.2h.1M180.4 253.4h.1M167.5 256.9h.1M182.5 246.4h.1M171.6 251.9h.1M162.8 252.9h.1M174.3 265.2h.1M177.5 247.8h.1M182.2 253.2h.1M183.7 253.7h.1M179.3 267.9h.1M183.3 258.1h.1M166.4 259.6h.1M171.1 257.8h.1M178.7 247.3h.1M173.7 256.8h.1M170.6 252.9h.1M175.3 252.2h.1M177.3 266.6h.1M172.9 263.3h.1M178.2 272.1h.1M184.6 250.1h.1M169.7 249.7h.1M175.2 258.7h.1M161.1 251.1h.1M170.6 257.4h.1M175.5 271.6h.1M176.9 260.0h.1M167.3 256.6h.1M178.2 258.1h.1M173.7 269.9h.1M184.9 247.6h.1M178.8 251.1h.1M174.3 253.9h.1M171.6 252.4h.1M176.2 263.0h.1M178.6 256.3h.1M179.9 268.3h.1M180.0 248.4h.1M180.5 254.6h.1M183.0 253.2h.1M183.3 246.4h.1M172.4 260.9h.1M179.9 247.7h.1M171.7 255.1h.1M171.4 264.7h.1M172.6 257.4h.1M180.5 251.7h.1M168.3 257.9h.1M170.6 248.9h.1M175.9 256.2h.1M177.1 265.2h.1M165.8 256.9h.1M176.7 258.7h.1M176.9 266.6h.1M186.1 248.5h.1M182.1 260.2h.1M171.1 250.8h.1M169.5 258.6h.1M168.8 261.0h.1M177.0 251.1h.1M177.0 259.5h.1M181.8 263.2h.1M184.0 249.8h.1M168.7 253.3h.1M176.0 267.4h.1M175.8 262.2h.1M164.3 252.4h.1M170.3 253.5h.1M172.1 251.3h.1M176.0 268.5h.1M175.3 258.8h.1M168.9 250.3h.1M174.5 252.5h.1M171.4 254.3h.1M167.8 251.4h.1M169.6 248.9h.1M176.9 266.3h.1M181.7 247.7h.1M176.4 267.5h.1M170.8 267.3h.1M168.5 256.8h.1M169.2 261.9h.1M176.2 252.6h.1M175.5 272.4h.1M166.8 255.6h.1M184.4 255.4h.1M179.6 263.5h.1M186.6 250.8h.1M186.0 249.5h.1M173.5 261.6h.1M174.3 271.1h.1M169.3 263.7h.1M173.3 249.2h.1M175.5 255.3h.1M184.2 257.3h.1M181.4 258.2h.1M185.0 248.8h.1M163.1 255.6h.1M172.6 268.2h.1M176.5 275.3h.1M176.1 250.8h.1M181.5 255.3h.1M178.0 263.1h.1M173.1 253.2h.1M176.6 255.3h.1M178.5 268.9h.1M182.8 258.8h.1M178.0 268.0h.1M170.1 256.2h.1M178.0 255.5h.1M164.8 256.9h.1M162.4 252.1h.1M172.8 256.1h.1M165.0 255.4h.1M175.3 273.5h.1M174.4 258.5h.1M173.7 258.2h.1M175.7 266.3h.1M172.2 269.0h.1M163.9 254.7h.1M180.6 248.8h.1M175.1 263.7h.1M164.4 252.5h.1M178.0 270.3h.1M175.4 247.1h.1M165.7 255.3h.1M178.3 251.7h.1M165.2 252.4h.1M181.4 260.7h.1M170.2 255.7h.1M176.4 274.7h.1M169.1 249.9h.1M170.1 265.4h.1M178.5 265.2h.1M167.9 253.4h.1M163.6 249.8h.1M176.4 264.7h.1M170.9 248.1h.1M168.3 255.0h.1M174.1 248.5h.1M171.1 262.2h.1M167.4 258.6h.1M172.7 251.0h.1M181.4 256.7h.1M170.0 255.5h.1M173.3 266.4h.1M173.2 265.6h.1M166.8 254.9h.1M183.2 258.0h.1M175.6 255.8h.1M173.8 249.3h.1M182.1 247.0h.1M180.7 258.0h.1M174.4 255.9h.1M178.3 266.3h.1M178.1 262.6h.1M186.8 247.2h.1M178.5 248.1h.1M182.5 245.7h.1M173.3 259.4h.1M168.9 253.7h.1M175.0 254.9h.1M162.2 252.6h.1M163.7 255.5h.1M161.4 251.4h.1M183.4 247.2h.1M178.1 267.0h.1M168.0 259.6h.1M175.1 269.7h.1M164.3 249.8h.1M184.0 248.2h.1M165.4 258.0h.1M179.5 270.9h.1M173.5 263.1h.1M176.7 270.9h.1M164.2 251.8h.1M174.8 273.3h.1M175.9 252.2h.1M181.2 257.3h.1M175.2 253.1h.1M162.7 251.3h.1M181.0 254.6h.1M171.4 247.9h.1M182.2 246.1h.1M167.9 254.3h.1M175.3 250.6h.1M182.6 251.7h.1M174.3 250.5h.1M168.3 262.4h.1M171.7 250.5h.1M170.2 252.6h.1M186.7 247.5h.1M175.9 256.1h.1M184.9 249.3h.1M171.6 248.3h.1M182.6 245.5h.1M163.7 252.9h.1M175.8 259.1h.1M183.2 259.2h.1M184.2 257.0h.1M171.4 250.3h.1M171.1 254.1h.1M164.9 254.1h.1M181.5 246.5h.1M171.7 252.3h.1M178.7 249.9h.1M185.0 246.5h.1M181.4 254.6h.1M172.4 256.8h.1M175.7 256.8h.1M170.2 261.6h.1M166.2 259.5h.1M165.7 256.3h.1M164.4 249.4h.1M179.9 268.3h.1M174.3 259.8h.1M164.2 256.4h.1M164.2 251.7h.1M183.7 252.1h.1M168.1 251.8h.1M174.0 261.6h.1M177.4 271.9h.1M180.1 265.2h.1M180.1 262.4h.1M175.5 272.7h.1M179.8 256.7h.1M174.4 249.0h.1M178.7 248.8h.1M169.3 249.2h.1M165.9 255.5h.1M182.5 248.2h.1M164.5 257.2h.1M168.1 248.7h.1M172.6 261.0h.1M174.4 256.6h.1M171.5 255.3h.1M171.5 255.6h.1M172.7 268.8h.1M170.3 255.9h.1M166.9 259.7h.1M177.9 256.9h.1M177.0 255.9h.1M169.7 250.1h.1M161.7 250.3h.1M172.8 251.8h.1M171.7 262.9h.1M165.9 258.5h.1M185.3 251.8h.1M166.5 251.8h.1M175.9 259.4h.1M178.7 263.3h.1M183.0 248.1h.1M173.3 267.6h.1M184.9 245.7h.1M178.5 270.1h.1M167.3 254.7h.1M184.5 253.4h.1M163.1 255.4h.1M177.4 272.4h.1M177.1 259.2h.1M182.5 250.9h.1M165.5 252.0h.1M171.0 266.8h.1M177.6 259.7h.1M167.3 250.6h.1M175.2 273.2h.1M186.2 245.6h.1M183.5 253.7h.1M177.7 270.7h.1M173.5 258.6h.1M177.1 249.9h.1M185.6 250.9h.1M174.8 258.7h.1M186.4 251.4h.1M169.2 255.0h.1M177.5 257.7h.1M179.7 262.2h.1M186.4 246.0h.1M172.4 252.5h.1M167.0 249.6h.1M174.6 250.6h.1M180.8 254.6h.1M164.3 252.9h.1M176.9 251.9h.1M174.2 260.7h.1M164.2 251.4h.1M178.7 260.6h.1M169.3 261.9h.1M165.5 255.8h.1M174.9 260.4h.1M164.0 250.5h.1M187.1 247.7h.1M169.6 262.8h.1M169.7 253.3h.1M177.6 270.7h.1M166.7 256.9h.1M171.4 264.4h.1M182.7 247.6h.1M178.7 255.9h.1M177.5 266.9h.1M172.4 251.2h.1M169.2 264.2h.1M165.0 249.4h.1M178.5 261.1h.1M168.6 262.8h.1M175.5 261.1h.1M175.4 262.3h.1M177.5 257.2h.1M178.2 271.1h.1M165.7 257.0h.1M175.1 266.4h.1M177.0 271.8h.1M177.0 265.0h.1M187.9 246.7h.1M166.6 249.9h.1M175.1 251.2h.1M178.6 269.3h.1M173.0 249.2h.1M183.1 255.1h.1M176.8 275.8h.1M175.0 261.7h.1M175.0 248.5h.1M174.8 247.2h.1M181.9 252.1h.1M178.7 270.8h.1M169.2 265.0h.1M183.3 246.3h.1M176.4 259.2h.1M185.1 255.0h.1M166.8 260.2h.1M179.2 271.6h.1M170.3 266.7h.1M175.3 260.9h.1M177.7 255.2h.1M167.9 255.9h.1M186.5 245.7h.1M166.3 253.0h.1M181.3 258.5h.1M187.0 246.1h.1M169.4 253.3h.1M181.7 262.4h.1M179.1 249.5h.1M172.1 251.9h.1M183.8 229.8h.1M168.5 244.9h.1M149.1 243.9h.1M145.6 242.7h.1M160.3 236.3h.1M184.4 240.2h.1M164.1 230.1h.1M179.1 231.0h.1M174.0 232.2h.1M159.0 239.0h.1M173.0 228.6h.1M181.3 228.1h.1M184.4 231.1h.1M182.8 232.6h.1M172.5 237.0h.1M161.2 243.7h.1M157.8 236.4h.1M176.4 236.7h.1M150.1 241.8h.1M166.6 231.3h.1M175.3 233.8h.1M168.2 235.5h.1M175.0 232.4h.1M154.5 235.3h.1M184.4 231.3h.1M165.9 234.1h.1M184.5 231.6h.1M185.4 234.1h.1M182.6 231.9h.1M165.8 243.0h.1M175.0 234.0h.1M157.5 237.6h.1M157.7 239.4h.1M154.1 241.8h.1M165.3 235.6h.1M172.4 235.4h.1M182.7 228.0h.1M175.8 231.9h.1M167.5 238.2h.1M147.0 247.0h.1M175.9 235.4h.1M185.2 233.5h.1M179.1 235.2h.1M172.5 229.9h.1M177.0 235.5h.1M178.1 232.2h.1M161.4 238.0h.1M174.9 240.8h.1M181.9 235.0h.1M155.9 236.6h.1M143.8 238.2h.1M159.9 237.5h.1M150.6 244.2h.1M176.0 233.5h.1M144.4 244.3h.1M177.4 235.9h.1M185.6 232.1h.1M183.5 231.2h.1M185.1 232.4h.1M170.9 237.9h.1M161.2 234.6h.1M160.3 240.8h.1M149.5 244.2h.1M151.6 242.7h.1M173.3 233.4h.1M178.2 229.9h.1M176.3 230.9h.1M157.6 243.3h.1M182.9 230.0h.1M154.6 240.1h.1M174.5 229.4h.1M159.6 242.9h.1M179.4 232.8h.1M171.8 233.2h.1M156.1 238.3h.1M177.1 226.5h.1M159.9 243.5h.1M172.5 237.7h.1M154.4 242.4h.1M153.6 245.6h.1M174.0 234.3h.1M167.3 239.3h.1M170.4 235.1h.1M176.6 232.3h.1M157.6 238.2h.1M177.4 238.2h.1M173.9 236.2h.1M161.5 236.8h.1M174.8 233.7h.1M158.9 241.3h.1M179.3 235.1h.1M182.6 225.9h.1M178.8 231.3h.1M177.7 235.9h.1M148.6 241.3h.1M148.2 241.7h.1M171.3 240.1h.1M183.9 238.0h.1M168.0 236.7h.1M170.0 237.2h.1M168.8 231.9h.1M171.7 239.4h.1M178.9 233.6h.1M165.3 237.9h.1M168.6 235.8h.1M159.7 244.5h.1M160.5 232.7h.1M178.6 233.4h.1M161.9 229.9h.1M184.3 233.5h.1M174.4 237.3h.1M174.8 236.4h.1M163.7 247.9h.1M183.5 233.4h.1M151.9 236.3h.1M161.8 239.3h.1M149.8 242.2h.1M165.0 230.6h.1M150.5 240.6h.1M184.6 231.6h.1M148.2 241.2h.1M155.6 246.5h.1M152.8 243.2h.1M170.7 236.2h.1M180.7 233.0h.1M178.8 234.5h.1M166.2 235.7h.1M159.5 240.6h.1M185.2 232.5h.1M178.0 234.7h.1M183.2 234.6h.1M183.4 228.5h.1M172.6 233.5h.1M177.9 236.9h.1M177.7 234.6h.1M184.7 232.3h.1M152.6 242.6h.1M158.3 236.2h.1M156.1 228.7h.1M155.1 242.6h.1M180.7 230.8h.1M178.2 234.8h.1M163.7 239.1h.1M181.1 235.4h.1M181.1 231.2h.1M178.1 232.5h.1M175.3 241.2h.1M161.0 232.9h.1M181.2 232.9h.1M163.4 234.9h.1M163.9 235.3h.1M153.3 244.0h.1M159.3 242.3h.1M173.4 232.2h.1M182.1 231.5h.1M182.2 228.5h.1M181.3 237.8h.1M177.8 232.5h.1M179.7 232.1h.1M166.4 242.2h.1M181.5 234.8h.1M164.0 240.9h.1M178.7 228.4h.1M182.6 237.3h.1M183.5 236.7h.1M179.6 239.1h.1M175.2 233.0h.1M181.2 230.7h.1M170.0 232.1h.1M179.1 233.4h.1M179.3 234.1h.1M162.6 236.0h.1M160.1 241.5h.1M147.3 245.0h.1M179.3 232.5h.1M150.2 243.5h.1M177.9 234.2h.1M166.8 240.5h.1M180.3 235.1h.1M173.6 233.3h.1M179.9 224.2h.1M177.7 234.4h.1M163.0 241.2h.1M151.1 238.2h.1M173.0 236.6h.1M167.5 232.2h.1M167.4 240.4h.1M156.2 236.2h.1M162.2 231.8h.1M178.2 240.0h.1M153.4 241.8h.1M172.3 234.1h.1M166.5 235.8h.1M150.1 238.1h.1M171.0 238.0h.1M162.0 232.1h.1M158.0 239.2h.1M155.9 233.3h.1M183.1 235.1h.1M164.7 237.0h.1M177.1 235.4h.1M161.2 237.3h.1M162.6 237.6h.1M170.2 232.9h.1M169.0 234.7h.1M183.6 229.1h.1M183.5 224.7h.1M155.5 237.8h.1M180.9 225.7h.1M180.8 229.8h.1M164.7 239.5h.1M146.1 242.2h.1M171.3 241.6h.1M182.6 226.4h.1M171.0 239.5h.1M153.6 238.9h.1M174.2 235.3h.1M171.7 231.1h.1M159.5 238.3h.1M170.9 239.0h.1M168.2 236.4h.1M163.2 237.9h.1M176.7 233.2h.1M158.7 236.4h.1M170.6 237.6h.1M183.9 235.4h.1M155.5 235.0h.1M176.8 230.1h.1M176.3 232.6h.1M179.6 229.3h.1M185.8 238.8h.1M168.0 239.0h.1M152.8 247.3h.1M176.2 236.2h.1M152.5 236.0h.1M185.7 231.5h.1M163.1 238.0h.1M156.1 237.2h.1M153.8 236.4h.1M162.5 240.8h.1M155.2 240.7h.1M157.2 241.3h.1M161.4 235.9h.1M168.5 235.9h.1M168.3 240.3h.1M183.5 230.2h.1M168.7 237.5h.1M155.7 245.0h.1M157.1 245.0h.1M185.2 233.0h.1M164.9 234.7h.1M164.6 240.4h.1M175.3 232.0h.1M181.7 232.9h.1M174.0 241.5h.1M177.1 233.4h.1M162.0 232.3h.1M163.7 231.3h.1M166.3 235.2h.1M176.3 237.9h.1M177.9 234.8h.1M164.0 236.8h.1M181.3 233.0h.1M173.9 229.2h.1M164.5 241.8h.1M165.1 235.4h.1M158.0 245.5h.1M181.0 237.2h.1M146.2 241.5h.1M170.3 239.2h.1M164.9 239.9h.1M169.8 233.4h.1M182.5 228.5h.1M161.8 234.8h.1M163.5 232.5h.1M158.5 235.0h.1M163.5 234.8h.1M183.5 233.3h.1M170.5 234.7h.1M181.0 235.1h.1M155.0 240.2h.1M156.5 239.2h.1M149.4 243.0h.1M157.7 237.5h.1M148.9 241.9h.1M178.6 238.7h.1M184.1 235.3h.1M182.6 229.7h.1M152.2 245.0h.1M156.1 238.2h.1M178.4 235.0h.1M150.5 239.0h.1M181.6 231.7h.1M183.2 225.9h.1M148.2 244.5h.1M146.5 243.9h.1M176.0 232.2h.1M154.7 239.2h.1M154.8 236.1h.1M183.4 227.4h.1M165.2 241.1h.1M165.0 236.6h.1M159.8 240.0h.1M188.3 239.6h.1M176.6 234.3h.1M155.3 242.5h.1M163.6 237.5h.1M169.9 234.1h.1M176.7 237.2h.1M179.3 233.2h.1M169.7 228.1h.1M173.5 236.6h.1M160.8 231.3h.1M182.8 236.7h.1M182.3 229.4h.1M155.6 239.5h.1M164.8 237.0h.1M179.3 232.0h.1M178.8 232.1h.1M179.3 232.3h.1M165.3 234.6h.1M175.8 229.2h.1M168.6 245.1h.1M182.6 228.9h.1M172.8 233.0h.1M161.2 241.8h.1M183.1 232.8h.1M178.1 226.3h.1M184.8 229.3h.1M177.1 230.0h.1M159.3 237.3h.1M180.7 230.4h.1M168.4 234.6h.1M153.3 249.5h.1M183.4 231.1h.1M177.4 230.8h.1M173.1 238.6h.1M165.7 234.1h.1M185.1 236.0h.1M153.0 244.5h.1M162.2 243.8h.1M168.6 240.9h.1M176.9 232.9h.1M176.3 239.5h.1M149.8 236.1h.1M157.8 239.7h.1M174.4 233.3h.1M184.1 234.3h.1M184.9 234.5h.1M171.8 234.8h.1M179.7 232.4h.1M180.0 227.9h.1M166.8 240.6h.1M152.4 240.0h.1M178.8 236.0h.1M150.2 246.6h.1M183.2 225.0h.1M153.1 239.5h.1M173.4 232.2h.1M180.4 234.0h.1M146.8 241.6h.1M181.0 232.0h.1M183.5 235.1h.1M168.4 236.9h.1M176.6 232.8h.1M182.4 227.9h.1M157.7 244.1h.1M154.5 245.9h.1M155.3 236.9h.1M155.2 240.4h.1M181.3 225.1h.1M159.6 240.0h.1M183.2 232.5h.1M175.7 241.7h.1M184.8 231.2h.1M168.8 230.5h.1M180.5 230.3h.1M183.0 231.7h.1M178.7 229.9h.1M156.8 234.1h.1M169.2 240.0h.1M180.5 223.2h.1M154.5 238.7h.1M164.4 232.9h.1M156.3 242.8h.1M170.0 238.7h.1M159.1 235.8h.1M179.2 235.9h.1M173.7 238.4h.1M166.3 243.4h.1M184.8 232.6h.1M172.1 234.5h.1M183.3 227.4h.1M163.0 240.9h.1M147.1 243.6h.1M161.4 240.2h.1M171.2 226.5h.1M174.6 230.3h.1M165.6 242.0h.1M170.3 233.7h.1M180.8 230.1h.1M172.0 231.6h.1M162.3 240.8h.1M184.4 230.1h.1M151.0 246.6h.1M157.4 239.9h.1M171.1 240.4h.1M176.6 238.1h.1M178.8 243.1h.1M173.8 228.9h.1M176.9 234.3h.1M166.5 236.6h.1M183.9 228.9h.1M146.3 247.9h.1M167.4 240.5h.1M179.2 229.5h.1M145.6 244.3h.1M181.0 234.0h.1M152.7 243.9h.1M181.4 230.4h.1M168.5 231.5h.1M168.4 244.8h.1M178.0 239.3h.1M185.7 233.1h.1M152.4 241.2h.1M153.5 237.9h.1M162.6 232.9h.1M182.8 223.2h.1M184.0 226.8h.1M153.9 236.9h.1M176.0 230.1h.1M182.1 230.3h.1M160.0 240.2h.1M155.0 242.2h.1M172.6 235.3h.1M168.7 233.7h.1M170.8 231.5h.1M170.4 233.9h.1M146.7 246.9h.1M159.1 240.5h.1M178.1 233.1h.1M161.1 245.5h.1M150.2 238.3h.1M163.1 238.3h.1M178.5 233.6h.1M182.1 237.0h.1M164.9 228.5h.1M172.9 234.3h.1M156.5 241.4h.1M163.0 238.4h.1M150.4 239.6h.1M160.9 235.3h.1M170.5 237.9h.1M154.4 239.5h.1M160.6 234.8h.1M178.6 240.0h.1M166.8 237.1h.1M153.4 242.0h.1M180.4 230.6h.1M173.1 232.6h.1M148.1 239.3h.1M151.9 241.3h.1M177.2 232.1h.1M154.1 236.3h.1M173.6 229.1h.1M152.0 243.7h.1M183.3 233.7h.1M165.5 237.0h.1M158.4 244.2h.1M186.1 233.1h.1M162.8 237.3h.1M159.8 244.5h.1M165.1 235.6h.1M153.7 237.1h.1M146.6 232.1h.1M182.1 228.3h.1M150.5 237.6h.1M156.7 239.8h.1M173.1 227.5h.1M161.2 238.6h.1M183.9 232.5h.1M152.9 237.2h.1M169.9 239.5h.1M177.3 237.1h.1M172.4 235.8h.1M176.6 233.1h.1M180.1 234.6h.1M149.5 244.5h.1M172.0 234.2h.1M174.9 230.3h.1M164.0 236.7h.1M183.9 227.8h.1M167.5 237.9h.1M177.0 233.1h.1M180.9 230.4h.1M181.1 230.1h.1M177.5 235.7h.1M175.9 235.9h.1M145.2 247.1h.1M181.9 232.4h.1M184.3 227.2h.1M181.2 239.3h.1M178.8 224.0h.1M172.7 229.3h.1M183.2 228.7h.1M169.6 234.5h.1M168.1 234.2h.1M170.6 238.4h.1M172.5 235.1h.1M170.3 238.4h.1M167.9 231.2h.1M157.1 242.5h.1M170.1 234.4h.1M178.2 239.1h.1M177.9 230.0h.1M183.1 230.8h.1M169.0 233.5h.1M166.3 238.9h.1M176.9 234.9h.1M175.9 229.5h.1M156.6 236.5h.1M162.1 239.1h.1M164.0 237.6h.1M155.5 234.1h.1M158.9 240.3h.1M173.7 228.8h.1M173.7 233.2h.1M148.5 239.8h.1M166.8 246.0h.1M170.7 237.1h.1M177.2 239.8h.1M158.0 238.0h.1M164.6 242.5h.1M178.6 236.8h.1M168.2 234.0h.1M169.5 237.8h.1M178.3 238.5h.1M180.1 227.6h.1M166.1 233.8h.1M185.1 232.0h.1M156.7 241.5h.1M183.9 233.4h.1M179.9 228.5h.1M184.1 237.2h.1M167.3 238.7h.1M166.4 242.8h.1M153.9 244.1h.1M164.7 234.9h.1M172.6 234.5h.1M165.4 237.7h.1M165.8 240.5h.1M178.2 233.0h.1M162.2 235.8h.1M155.0 235.6h.1M145.4 241.2h.1M159.8 234.2h.1M158.6 244.4h.1M156.6 233.3h.1M171.4 232.0h.1M147.1 241.6h.1M161.6 235.1h.1M168.4 231.9h.1M153.3 241.8h.1M167.1 239.6h.1M164.5 238.8h.1M184.7 229.5h.1M159.4 240.7h.1M171.7 232.7h.1M166.6 243.1h.1M180.1 233.7h.1M160.4 239.4h.1M183.7 226.6h.1M148.3 240.7h.1M174.2 235.9h.1M179.4 234.9h.1M163.8 233.5h.1M180.0 234.4h.1M178.4 234.4h.1M167.6 237.9h.1M167.8 236.1h.1M158.1 241.1h.1M151.3 241.7h.1M163.1 233.6h.1M161.6 240.1h.1M173.0 223.8h.1M155.2 239.3h.1M168.5 232.3h.1M181.3 231.8h.1M158.2 241.9h.1M162.2 235.5h.1M172.4 231.8h.1M150.5 240.7h.1M183.7 229.6h.1M175.1 235.1h.1M169.9 233.9h.1M181.6 234.5h.1M160.6 230.3h.1M165.4 241.7h.1M166.5 239.5h.1M176.4 238.1h.1M166.6 234.3h.1M179.5 233.8h.1M168.2 237.8h.1M176.2 230.1h.1M147.5 244.8h.1M178.4 242.1h.1M174.0 229.8h.1M156.9 239.9h.1M154.6 237.0h.1M158.3 234.7h.1M175.3 237.1h.1M156.8 243.8h.1M169.0 233.9h.1M155.0 244.8h.1M168.2 234.5h.1M161.4 236.9h.1M173.9 229.1h.1M178.2 231.2h.1M172.0 235.5h.1M181.5 235.6h.1M171.6 235.0h.1M166.3 233.1h.1M185.2 232.8h.1M150.7 236.9h.1M175.8 242.2h.1M185.1 232.2h.1M176.8 232.4h.1M158.1 246.7h.1M180.0 231.4h.1M182.1 231.3h.1M167.9 238.9h.1M168.9 230.7h.1M182.0 233.8h.1M165.4 244.7h.1M146.4 242.6h.1M150.4 243.2h.1M174.1 235.7h.1M161.6 239.8h.1M162.7 245.1h.1M180.3 228.0h.1M183.2 224.7h.1M161.4 240.8h.1M183.9 233.1h.1M156.6 234.2h.1M152.6 245.5h.1M172.5 232.4h.1M182.3 235.0h.1M169.3 240.3h.1M178.2 230.3h.1M184.3 231.3h.1M144.1 245.5h.1M157.3 240.0h.1M154.1 241.7h.1M142.8 239.7h.1M160.3 241.4h.1M149.6 242.8h.1M138.0 245.6h.1M155.3 246.9h.1M146.0 239.6h.1M145.7 245.4h.1M153.2 241.8h.1M150.0 239.0h.1M159.4 242.5h.1M149.6 246.0h.1M142.1 245.2h.1M145.9 246.2h.1M139.7 240.3h.1M152.7 242.6h.1M146.4 243.7h.1M142.6 242.1h.1M137.4 246.1h.1M143.5 246.4h.1M150.7 243.9h.1M152.4 238.7h.1M156.1 240.5h.1M158.1 246.0h.1M153.7 246.3h.1M147.9 244.7h.1M160.3 239.4h.1M139.8 241.8h.1M149.6 238.9h.1M142.7 246.8h.1M146.7 238.9h.1M141.8 243.7h.1M142.0 242.5h.1M150.3 242.1h.1M149.5 246.5h.1M137.8 247.5h.1M142.2 237.7h.1M155.8 243.6h.1M150.3 239.7h.1M156.1 240.7h.1M154.8 239.8h.1M151.1 244.4h.1M146.3 242.6h.1M139.0 244.4h.1M154.0 239.0h.1M150.6 245.4h.1M139.8 246.5h.1M158.3 237.9h.1M143.4 238.2h.1M143.5 238.2h.1M149.1 240.1h.1M144.6 242.4h.1M146.3 246.0h.1M154.7 238.6h.1M142.8 237.4h.1M145.3 238.5h.1M154.1 245.9h.1M161.3 239.6h.1M138.3 245.6h.1M147.3 247.5h.1M146.8 240.7h.1M139.1 247.7h.1M149.7 242.1h.1M147.9 245.8h.1M157.3 242.5h.1M141.7 241.8h.1M158.8 241.8h.1M153.3 243.5h.1M148.5 243.6h.1M143.3 243.4h.1M158.2 238.2h.1M146.3 247.0h.1M160.9 237.4h.1M152.4 244.3h.1M157.6 242.5h.1M140.5 240.6h.1M154.5 245.3h.1M142.3 244.4h.1" stroke="#2b3592" stroke-width="0.9" stroke-linecap="round" opacity="0.6" fill="none"/>
<rect x="121.4" y="215.3" width="79.2" height="80.8" fill="none" stroke="#8a8a8a" stroke-width="0.8"/>
<path d="M119.9 226.8h1.5M132.7 296.1v1.5M119.9 238.4h1.5M144.0 296.1v1.5M119.9 249.9h1.5M155.3 296.1v1.5M119.9 261.5h1.5M166.7 296.1v1.5M119.9 273.0h1.5M178.0 296.1v1.5M119.9 284.6h1.5M189.3 296.1v1.5" stroke="#222" stroke-width="0.8"/>
<polygon points="132.9,222.3 189.9,221.1 192.9,226.5 188.9,241.8 157.4,249.8 136.4,247.8" fill="none" stroke="#333" stroke-width="0.8"/>
<polygon points="157.9,249.3 189.9,241.8 193.7,255.8 177.9,278.8" fill="none" stroke="#333" stroke-width="0.8"/>
<text x="121.8" y="221.1" font-size="6" font-weight="bold" fill="#1a1a1a" textLength="67" lengthAdjust="spacingAndGlyphs">Recruited Phagocytes</text>
<text x="121.8" y="228.6" font-size="6.2" font-weight="bold" fill="#1a1a1a" textLength="17.4" lengthAdjust="spacingAndGlyphs">42.2%</text>
<text x="196.6" y="274.3" font-size="6.2" text-anchor="end" font-weight="bold" fill="#1a1a1a" textLength="8.6" lengthAdjust="spacingAndGlyphs">KC</text>
<text x="196.6" y="281.7" font-size="6.2" text-anchor="end" font-weight="bold" fill="#1a1a1a" textLength="17.5" lengthAdjust="spacingAndGlyphs">55.5%</text>
<text x="122.6" y="293.6" font-size="7.3" font-weight="bold" fill="#1a1a1a">HbA+AC</text>
<g filter="url(#bl)" fill="#2b3592"><polygon points="242.3,251.2 264.7,246.3 266.7,256.0 258.4,273.8" opacity="0.9"/><polygon points="218.7,232.3 262.2,229.8 264.2,235.0 255.2,244.7 239.1,249.8 218.7,244.7" opacity="0.85"/></g>
<path d="M257.7 257.3h.1M249.8 262.1h.1M261.7 264.3h.1M253.6 251.6h.1M266.5 253.7h.1M260.0 267.7h.1M258.3 252.5h.1M257.8 269.3h.1M270.3 246.0h.1M255.0 269.7h.1M255.5 252.8h.1M262.1 261.3h.1M255.9 250.9h.1M262.3 255.0h.1M253.3 266.7h.1M258.4 253.6h.1M254.3 268.4h.1M254.8 252.5h.1M263.8 253.0h.1M251.5 251.4h.1M250.5 262.1h.1M259.3 271.0h.1M262.3 253.1h.1M252.2 252.6h.1M264.4 258.4h.1M244.9 252.7h.1M258.4 263.9h.1M254.3 248.5h.1M259.4 249.0h.1M260.8 264.2h.1M263.6 247.4h.1M259.5 273.9h.1M267.3 253.4h.1M248.5 260.3h.1M253.5 262.3h.1M244.4 254.3h.1M249.3 251.1h.1M247.4 255.0h.1M259.2 250.6h.1M257.1 264.9h.1M253.1 255.2h.1M267.2 246.1h.1M265.2 248.1h.1M253.5 265.9h.1M255.7 251.4h.1M245.4 251.4h.1M257.8 259.4h.1M267.8 253.1h.1M259.5 252.1h.1M259.4 255.1h.1M264.2 254.6h.1M261.0 265.9h.1M258.2 271.4h.1M260.2 253.3h.1M253.8 263.3h.1M261.1 254.6h.1M259.8 259.0h.1M257.5 269.2h.1M243.7 253.1h.1M242.5 251.8h.1M266.8 250.5h.1M263.2 251.8h.1M247.6 259.8h.1M254.9 261.0h.1M259.1 273.1h.1M251.1 256.2h.1M263.2 251.5h.1M262.5 254.5h.1M256.0 267.5h.1M252.9 262.5h.1M257.3 256.5h.1M245.9 255.2h.1M253.4 266.5h.1M260.7 257.7h.1M255.0 255.3h.1M262.5 264.2h.1M262.8 260.6h.1M266.5 246.4h.1M246.3 256.1h.1M251.0 264.7h.1M259.7 269.8h.1M254.0 256.3h.1M246.0 254.4h.1M258.0 269.3h.1M257.0 263.1h.1M257.2 258.2h.1M250.1 253.2h.1M251.8 258.2h.1M249.1 253.4h.1M262.1 252.3h.1M253.1 250.9h.1M258.8 268.7h.1M267.2 249.4h.1M264.0 250.0h.1M255.1 255.6h.1M253.3 248.1h.1M261.1 257.7h.1M257.1 273.5h.1M252.5 247.9h.1M256.3 270.9h.1M249.2 249.3h.1M257.0 268.8h.1M262.7 261.0h.1M253.7 256.4h.1M253.4 267.1h.1M243.6 253.3h.1M260.2 272.4h.1M254.6 269.4h.1M252.4 257.3h.1M258.1 252.4h.1M255.5 263.9h.1M256.4 259.3h.1M259.7 268.2h.1M258.0 253.5h.1M259.6 258.7h.1M246.9 254.9h.1M264.1 255.4h.1M254.7 266.8h.1M250.3 258.6h.1M251.2 250.2h.1M257.9 257.1h.1M247.1 255.9h.1M262.9 259.9h.1M260.7 267.2h.1M255.6 266.3h.1M260.5 269.4h.1M252.6 251.1h.1M247.5 253.1h.1M262.0 256.1h.1M242.8 250.1h.1M261.6 252.3h.1M263.3 250.9h.1M256.9 272.4h.1M251.6 262.0h.1M250.4 263.2h.1M259.7 247.7h.1M261.5 250.5h.1M255.3 260.0h.1M253.8 257.0h.1M263.1 257.8h.1M260.7 261.4h.1M261.8 264.6h.1M255.7 271.8h.1M251.5 248.4h.1M245.0 251.2h.1M261.5 251.0h.1M250.9 249.3h.1M253.5 260.4h.1M258.8 246.9h.1M257.4 254.9h.1M261.0 248.0h.1M264.2 256.9h.1M263.2 258.0h.1M257.4 269.4h.1M254.4 259.9h.1M255.5 265.7h.1M245.3 249.8h.1M264.8 246.6h.1M250.9 258.6h.1M264.3 247.8h.1M248.3 252.0h.1M259.0 264.3h.1M257.9 255.8h.1M255.3 259.1h.1M260.9 262.8h.1M251.1 261.5h.1M251.6 261.5h.1M258.9 276.5h.1M265.5 258.9h.1M250.0 249.4h.1M261.9 261.9h.1M260.6 260.5h.1M251.0 249.8h.1M247.4 258.9h.1M268.6 246.2h.1M265.5 246.0h.1M255.3 253.4h.1M255.2 259.0h.1M260.7 267.9h.1M262.4 257.9h.1M261.5 264.0h.1M246.5 256.0h.1M256.2 270.3h.1M263.6 257.4h.1M264.4 251.4h.1M256.5 264.2h.1M249.1 250.6h.1M246.6 257.5h.1M257.6 248.7h.1M269.2 249.2h.1M263.0 262.5h.1M270.2 246.0h.1M253.9 252.4h.1M250.7 257.6h.1M257.7 259.7h.1M259.3 271.1h.1M259.0 250.9h.1M249.8 254.0h.1M265.8 246.8h.1M260.8 269.9h.1M256.8 273.7h.1M267.7 247.6h.1M252.3 254.9h.1M255.2 252.4h.1M253.8 268.4h.1M247.6 251.4h.1M262.9 266.7h.1M253.4 252.3h.1M263.2 254.1h.1M258.5 263.3h.1M260.7 272.6h.1M258.2 270.0h.1M256.2 257.2h.1M258.9 270.5h.1M260.7 267.5h.1M249.2 257.3h.1M257.7 263.2h.1M268.5 249.3h.1M250.7 259.0h.1M259.9 272.1h.1M257.0 270.2h.1M256.0 267.7h.1M248.1 256.4h.1M253.6 251.5h.1M261.6 259.8h.1M248.3 259.3h.1M267.7 251.1h.1M253.7 254.3h.1M260.7 255.4h.1M251.9 259.9h.1M255.1 256.0h.1M267.2 251.3h.1M256.0 255.8h.1M251.8 259.2h.1M262.5 257.4h.1M244.6 251.4h.1M265.5 258.4h.1M258.7 269.5h.1M250.8 251.4h.1M260.3 253.3h.1M253.7 261.0h.1M250.8 264.2h.1M262.6 250.6h.1M255.7 266.4h.1M256.4 266.7h.1M250.4 250.7h.1M266.5 254.3h.1M261.8 254.7h.1M263.0 260.0h.1M245.5 252.3h.1M252.8 263.9h.1M257.8 273.3h.1M250.0 259.5h.1M255.6 265.3h.1M259.0 276.6h.1M249.0 254.2h.1M263.1 250.9h.1M261.2 269.2h.1M262.7 258.4h.1M261.5 270.6h.1M264.7 248.0h.1M255.9 271.2h.1M259.9 259.1h.1M255.9 250.5h.1M249.4 259.8h.1M254.1 250.8h.1M252.6 263.9h.1M263.7 262.5h.1M252.3 266.0h.1M259.3 259.3h.1M267.1 246.6h.1M261.7 260.0h.1M258.5 254.3h.1M259.5 261.6h.1M258.2 247.3h.1M261.8 252.2h.1M245.7 254.2h.1M264.7 251.9h.1M258.3 270.2h.1M257.8 263.9h.1M263.5 259.9h.1M243.7 251.8h.1M256.8 256.5h.1M261.2 248.5h.1M259.2 268.0h.1M253.2 264.8h.1M264.9 252.1h.1M251.3 263.2h.1M255.5 270.0h.1M265.0 253.8h.1M258.8 253.7h.1M250.0 254.0h.1M256.6 263.9h.1M261.5 266.1h.1M254.3 260.0h.1M262.5 264.4h.1M261.5 251.8h.1M247.9 259.0h.1M261.7 257.0h.1M250.2 258.7h.1M267.1 249.5h.1M249.6 262.2h.1M249.1 255.3h.1M262.2 267.3h.1M260.8 267.8h.1M267.2 253.2h.1M265.0 252.5h.1M257.3 252.5h.1M252.8 267.0h.1M271.0 244.2h.1M268.1 245.4h.1M264.5 257.2h.1M260.4 267.3h.1M261.6 270.1h.1M259.1 254.0h.1M256.5 248.1h.1M268.3 251.2h.1M255.4 247.2h.1M261.0 266.6h.1M254.8 258.6h.1M262.7 253.9h.1M265.0 251.5h.1M262.4 258.1h.1M266.6 250.9h.1M256.7 257.5h.1M250.4 259.1h.1M256.9 259.9h.1M259.6 268.9h.1M258.2 269.8h.1M247.4 251.9h.1M258.0 262.6h.1M265.2 248.7h.1M255.9 269.2h.1M254.2 256.9h.1M262.6 253.5h.1M243.5 251.1h.1M247.5 259.1h.1M254.4 253.6h.1M260.1 249.3h.1M257.0 272.7h.1M250.7 248.7h.1M257.3 269.3h.1M249.7 252.1h.1M254.4 251.1h.1M251.1 255.9h.1M263.8 262.5h.1M259.8 262.5h.1M252.9 256.3h.1M262.4 248.2h.1M255.4 260.8h.1M261.4 256.1h.1M269.2 247.8h.1M261.2 249.0h.1M245.5 252.9h.1M254.8 269.0h.1M258.0 263.2h.1M257.9 266.8h.1M262.3 256.1h.1M258.2 266.0h.1M258.8 247.0h.1M259.6 268.3h.1M247.4 257.4h.1M247.4 253.6h.1M260.2 251.6h.1M266.8 247.7h.1M255.0 251.6h.1M248.9 255.3h.1M257.8 263.1h.1M255.2 267.7h.1M260.0 247.5h.1M261.5 246.9h.1M258.9 271.2h.1M255.9 248.9h.1M260.0 272.5h.1M252.5 255.6h.1M261.0 249.1h.1M258.6 274.3h.1M252.7 256.4h.1M267.4 254.4h.1M263.4 253.2h.1M259.3 275.2h.1M263.2 251.6h.1M260.4 251.9h.1M260.0 263.1h.1M250.8 263.3h.1M259.0 273.0h.1M261.2 263.7h.1M242.9 251.6h.1M259.0 274.8h.1M255.0 255.7h.1M259.7 246.8h.1M253.6 265.0h.1M256.7 252.7h.1M250.0 249.3h.1M256.6 269.5h.1M244.9 253.7h.1M246.0 257.3h.1M250.1 252.9h.1M250.3 258.7h.1M261.1 250.1h.1M259.8 247.9h.1M248.8 261.6h.1M269.5 244.2h.1M268.9 245.7h.1M250.8 256.5h.1M255.0 268.8h.1M264.8 260.4h.1M254.8 263.2h.1M267.6 248.6h.1M255.4 265.2h.1M253.5 255.0h.1M263.8 256.3h.1M256.1 250.5h.1M264.6 260.3h.1M255.7 271.4h.1M247.6 259.1h.1M252.8 251.6h.1M254.4 248.5h.1M252.9 263.7h.1M250.3 257.7h.1M253.7 255.1h.1M267.0 253.1h.1M257.4 263.9h.1M257.4 253.7h.1M252.4 258.5h.1M250.0 254.4h.1M257.7 274.0h.1M249.4 251.8h.1M254.1 255.4h.1M255.7 254.0h.1M263.6 259.0h.1M249.9 259.3h.1M258.9 259.2h.1M260.8 253.6h.1M260.7 250.1h.1M261.6 258.9h.1M264.3 262.6h.1M259.1 258.5h.1M260.7 257.6h.1M258.4 274.7h.1M254.7 269.7h.1M261.1 259.9h.1M265.6 256.4h.1M248.7 249.2h.1M246.1 251.1h.1M258.2 261.0h.1M252.0 249.8h.1M247.4 254.0h.1M253.0 255.6h.1M253.9 253.8h.1M262.3 257.7h.1M267.8 250.8h.1M247.9 253.2h.1M255.3 265.6h.1M246.8 257.9h.1M257.6 251.2h.1M256.2 269.7h.1M257.8 271.7h.1M260.7 262.3h.1M245.7 251.4h.1M261.5 249.0h.1M264.0 263.3h.1M265.0 247.3h.1M265.3 248.8h.1M254.2 258.1h.1M264.2 255.3h.1M261.4 251.7h.1M259.6 268.6h.1M262.3 247.4h.1M254.8 268.1h.1M261.4 249.4h.1M265.7 256.6h.1M266.5 255.4h.1M244.5 253.4h.1M261.1 251.3h.1M261.5 265.0h.1M252.9 262.7h.1M259.4 264.5h.1M266.8 251.5h.1M250.6 256.4h.1M259.7 249.1h.1M249.6 254.4h.1M249.0 255.2h.1M258.3 258.8h.1M259.1 264.8h.1M262.6 257.9h.1M249.7 251.4h.1M259.9 248.7h.1M264.1 246.0h.1M261.2 255.8h.1M257.5 255.2h.1M269.2 247.8h.1M265.8 254.3h.1M264.5 261.5h.1M250.6 253.7h.1M266.8 254.6h.1M257.5 246.8h.1M260.1 263.7h.1M247.9 256.9h.1M268.0 250.0h.1M263.6 255.5h.1M253.9 256.5h.1M255.8 257.8h.1M251.3 254.6h.1M252.3 251.4h.1M262.9 249.1h.1M245.5 254.4h.1M258.5 262.9h.1M254.0 260.3h.1M258.4 254.0h.1M246.2 256.8h.1M252.3 249.3h.1M255.1 270.3h.1M268.7 248.0h.1M263.2 265.4h.1M257.2 268.6h.1M247.8 255.0h.1M247.4 249.6h.1M257.6 256.6h.1M254.6 255.8h.1M268.9 244.8h.1M253.5 266.6h.1M255.1 253.1h.1M259.4 248.5h.1M251.6 253.1h.1M258.5 257.2h.1M259.8 251.8h.1M269.4 247.6h.1M250.8 255.7h.1M265.2 259.8h.1M259.5 254.8h.1M253.9 264.0h.1M257.4 272.5h.1M247.5 258.8h.1M256.3 265.6h.1M267.0 248.7h.1M265.0 249.7h.1M263.8 248.7h.1M254.3 253.8h.1M256.3 251.8h.1M266.7 254.6h.1M248.2 253.9h.1M255.6 251.1h.1M262.7 262.7h.1M265.0 257.6h.1M266.8 247.5h.1M262.5 247.7h.1M246.7 251.6h.1M256.6 261.3h.1M255.3 260.5h.1M232.5 234.1h.1M255.1 244.1h.1M248.1 236.0h.1M246.9 230.6h.1M239.1 232.8h.1M231.5 231.7h.1M238.0 231.8h.1M240.3 234.6h.1M248.1 234.9h.1M256.2 243.2h.1M250.2 232.0h.1M245.7 234.6h.1M250.2 233.2h.1M247.4 240.4h.1M254.6 239.1h.1M233.0 233.8h.1M257.6 234.7h.1M256.4 230.3h.1M253.2 240.9h.1M228.7 233.2h.1M255.4 245.6h.1M244.2 237.4h.1M256.1 236.6h.1M258.1 238.2h.1M263.9 229.3h.1M227.4 232.3h.1M246.6 235.2h.1M238.2 234.7h.1M263.8 228.8h.1M226.7 234.1h.1M260.4 230.8h.1M248.4 232.8h.1M244.7 238.3h.1M231.6 234.1h.1M254.5 237.0h.1M253.4 229.1h.1M239.8 234.9h.1M260.8 232.9h.1M249.5 232.2h.1M252.2 230.6h.1M253.2 238.3h.1M245.6 232.3h.1M241.3 229.8h.1M251.6 244.6h.1M250.3 237.8h.1M263.6 230.6h.1M259.9 233.2h.1M249.5 239.9h.1M230.8 235.9h.1M224.1 232.2h.1M242.5 239.2h.1M242.6 233.7h.1M241.7 230.4h.1M227.7 232.7h.1M259.5 238.1h.1M254.9 239.2h.1M249.5 229.1h.1M229.7 234.6h.1M259.7 229.4h.1M236.3 235.5h.1M239.3 236.7h.1M224.2 232.9h.1M248.8 242.7h.1M228.7 230.1h.1M232.5 230.5h.1M254.0 233.8h.1M249.5 236.5h.1M257.3 233.6h.1M241.7 234.6h.1M251.0 238.0h.1M250.3 233.7h.1M236.8 237.7h.1M253.9 231.7h.1M228.5 231.9h.1M231.2 232.9h.1M247.3 231.9h.1M262.2 232.7h.1M251.7 244.5h.1M230.9 235.9h.1M256.7 239.0h.1M254.7 243.5h.1M252.4 230.1h.1M244.6 234.4h.1M258.1 228.8h.1M243.5 232.1h.1M240.9 238.8h.1M230.6 229.9h.1M254.3 244.5h.1M247.3 228.8h.1M241.2 229.8h.1M230.3 230.1h.1M247.8 241.9h.1M257.8 234.7h.1M240.0 230.3h.1M224.4 232.1h.1M259.7 231.3h.1M233.9 236.9h.1M248.2 242.1h.1M256.9 238.7h.1M255.5 241.0h.1M252.1 230.2h.1M264.1 229.1h.1M256.5 240.0h.1M227.1 231.2h.1M224.9 233.5h.1M251.0 232.2h.1M221.4 231.4h.1M253.2 233.4h.1M241.0 229.4h.1M242.7 234.9h.1M247.2 239.4h.1M244.1 231.6h.1M261.0 230.6h.1M238.8 238.8h.1M250.4 231.2h.1M242.2 239.1h.1M241.7 236.4h.1M258.5 238.4h.1M220.9 231.8h.1M256.4 230.6h.1M260.3 231.5h.1M228.3 231.8h.1M225.8 229.9h.1M244.2 236.1h.1M235.4 229.7h.1M246.9 233.0h.1M237.7 229.6h.1M230.1 231.0h.1M254.6 230.3h.1M244.6 236.8h.1M243.5 241.1h.1M250.4 237.1h.1M240.3 236.3h.1M257.3 240.4h.1M262.4 231.3h.1M245.9 240.1h.1M246.6 230.2h.1M250.6 242.0h.1M257.0 239.5h.1M246.6 239.8h.1M248.8 238.1h.1M254.5 234.0h.1M257.9 238.6h.1M243.8 237.3h.1M242.7 230.8h.1M234.3 237.4h.1M241.4 233.0h.1M244.9 233.6h.1M255.3 240.7h.1M240.4 240.0h.1M241.5 239.2h.1M239.0 231.6h.1M240.1 235.3h.1M253.5 245.2h.1M250.0 237.2h.1M243.5 235.6h.1M233.1 235.4h.1M220.0 231.4h.1M235.4 237.1h.1M238.5 238.6h.1M255.3 232.0h.1M246.4 239.3h.1M243.5 240.5h.1M252.9 236.7h.1M260.9 232.0h.1M226.9 234.3h.1M254.3 230.5h.1M242.6 229.6h.1M254.7 239.3h.1M260.2 230.0h.1M251.0 239.5h.1M258.4 235.7h.1M244.5 229.0h.1M224.2 231.4h.1M241.3 234.4h.1M225.3 230.5h.1M237.7 235.1h.1M259.4 233.7h.1M255.4 229.7h.1M243.5 229.3h.1M246.8 235.0h.1M262.8 228.3h.1M228.9 233.0h.1M233.3 237.0h.1M250.1 241.6h.1M234.4 233.2h.1M259.8 230.3h.1M221.4 231.8h.1M231.3 232.6h.1M250.9 232.8h.1M262.9 230.1h.1M232.9 229.5h.1M240.3 239.6h.1M235.7 232.9h.1M237.8 229.5h.1M230.8 230.9h.1M253.8 244.9h.1M261.8 232.0h.1M245.8 235.0h.1M253.5 245.3h.1M242.9 231.3h.1M236.5 238.4h.1M249.7 237.2h.1M253.6 240.3h.1M255.1 232.9h.1M235.7 231.4h.1M256.1 231.0h.1M246.0 236.5h.1M258.3 238.4h.1M224.6 231.7h.1M236.8 231.5h.1M246.8 241.6h.1M244.7 235.8h.1M254.5 241.3h.1M240.0 236.0h.1M249.6 238.8h.1M246.4 233.6h.1M263.2 230.3h.1M237.4 230.5h.1M235.5 234.1h.1M243.9 230.0h.1M252.2 238.2h.1M245.5 230.5h.1M251.3 235.0h.1M245.3 232.7h.1M234.8 229.4h.1M226.0 233.6h.1M227.5 231.8h.1M252.9 240.3h.1M224.2 230.3h.1M241.2 229.2h.1M244.2 235.8h.1M227.1 229.8h.1M238.9 233.6h.1M248.5 236.1h.1M246.8 234.6h.1M249.9 243.6h.1M249.0 237.8h.1M226.2 234.0h.1M242.6 238.7h.1M262.2 231.2h.1M255.8 244.1h.1M257.8 236.1h.1M235.0 235.1h.1M247.9 234.6h.1M249.5 235.4h.1M238.0 230.5h.1M249.8 243.7h.1M227.3 231.5h.1M250.1 242.4h.1M238.6 235.4h.1M260.9 230.5h.1M232.2 232.5h.1M249.3 229.8h.1M251.5 238.8h.1M258.4 232.4h.1M239.3 230.9h.1M262.4 231.3h.1M234.3 234.4h.1M248.3 235.2h.1M245.6 231.5h.1M261.3 231.8h.1M249.3 231.7h.1M234.4 232.0h.1M234.2 235.7h.1M235.7 235.5h.1M229.7 233.6h.1M254.7 236.8h.1M222.0 231.7h.1M253.2 235.6h.1M250.4 242.5h.1M251.1 239.1h.1M255.5 234.4h.1M242.7 239.8h.1M258.0 237.9h.1M225.4 230.1h.1M245.8 237.1h.1M244.5 235.4h.1M220.3 230.7h.1M261.9 231.9h.1M259.2 238.2h.1M262.4 231.9h.1M254.8 241.1h.1M256.9 235.9h.1M241.7 234.0h.1M217.7 230.3h.1M254.8 241.6h.1M252.2 237.5h.1M241.1 239.0h.1M235.3 229.8h.1M260.4 236.5h.1M236.0 231.2h.1M243.1 230.2h.1M242.3 237.0h.1M252.9 237.4h.1M257.4 235.2h.1M224.3 230.3h.1M239.5 229.7h.1M244.1 235.2h.1M259.7 232.7h.1M249.3 232.3h.1M222.5 232.4h.1M241.1 235.7h.1M251.0 235.5h.1M240.2 239.2h.1M239.0 229.8h.1M249.8 235.9h.1M250.7 240.5h.1M255.3 245.5h.1M255.4 235.8h.1M248.7 242.1h.1M260.8 234.4h.1M254.7 229.8h.1M245.4 233.8h.1M251.8 242.5h.1M248.7 237.4h.1M251.7 244.4h.1M262.9 231.6h.1M236.6 236.7h.1M238.5 234.4h.1M259.7 230.2h.1M246.9 240.3h.1M246.2 238.3h.1M242.3 238.4h.1M235.3 232.1h.1M242.9 229.9h.1M262.1 230.2h.1M242.9 231.4h.1M242.7 237.6h.1M243.8 230.9h.1M255.5 229.7h.1M249.1 237.5h.1M241.2 231.5h.1M234.8 236.7h.1M252.7 244.1h.1M234.2 233.7h.1M243.2 238.2h.1M257.7 237.9h.1M245.1 231.4h.1M248.3 237.0h.1M256.7 231.2h.1M223.1 231.4h.1M253.3 245.2h.1M253.0 236.5h.1M262.6 232.5h.1M254.5 243.8h.1M242.1 229.6h.1M243.4 238.8h.1M239.6 237.3h.1M248.5 232.5h.1M236.8 234.3h.1M264.9 228.0h.1M250.1 230.3h.1M251.1 238.9h.1M250.3 242.5h.1M252.4 242.4h.1M222.8 231.6h.1M235.6 236.3h.1M243.1 240.6h.1M252.9 229.1h.1M257.9 236.5h.1M243.9 239.3h.1M251.1 234.4h.1M237.1 234.8h.1M227.0 231.7h.1M229.7 234.4h.1M235.8 229.9h.1M223.9 232.4h.1M253.3 242.7h.1M248.7 238.1h.1M232.6 236.7h.1M231.1 233.5h.1M246.6 239.7h.1M240.6 231.6h.1M218.1 230.4h.1M246.5 242.0h.1M257.6 230.6h.1M252.7 242.7h.1M238.8 237.0h.1M246.6 228.9h.1M250.8 235.5h.1M246.5 237.5h.1M231.1 233.6h.1M251.6 229.9h.1M231.9 234.0h.1M244.2 237.0h.1M249.4 229.3h.1M254.2 232.7h.1M243.6 231.5h.1M251.4 236.3h.1M238.0 229.4h.1M254.7 231.6h.1M257.3 234.0h.1M253.4 233.6h.1M237.5 238.4h.1M255.0 239.1h.1M246.1 238.4h.1M258.4 233.3h.1M248.9 237.8h.1M251.2 232.5h.1M247.5 237.7h.1M243.9 233.5h.1M228.8 231.5h.1M248.7 242.2h.1M244.6 240.2h.1M250.9 243.9h.1M257.8 240.1h.1M256.1 234.0h.1M238.8 235.7h.1M239.6 234.9h.1M249.2 230.5h.1M237.4 233.9h.1M243.0 240.5h.1M240.6 230.4h.1M241.7 230.5h.1M259.4 237.4h.1M248.3 237.0h.1M239.7 238.3h.1M230.7 236.0h.1M250.4 239.8h.1M259.7 236.6h.1M229.7 233.9h.1M222.6 230.6h.1M246.9 236.0h.1M252.9 237.4h.1M236.1 237.4h.1M240.2 236.3h.1M224.0 232.2h.1M239.1 237.3h.1M251.9 241.2h.1M225.9 232.3h.1M241.6 232.5h.1M239.0 237.5h.1M251.3 240.4h.1M263.4 230.3h.1M251.3 228.7h.1M241.4 239.1h.1M233.9 236.3h.1M263.3 229.8h.1M251.8 231.8h.1M238.8 231.9h.1M241.2 229.9h.1M247.1 235.1h.1M230.6 233.8h.1M253.8 244.0h.1M241.6 230.2h.1M243.9 230.4h.1M257.6 231.3h.1M235.5 237.6h.1M241.2 238.2h.1M230.9 247.4h.1M229.3 244.7h.1M228.5 242.3h.1M244.8 245.8h.1M224.2 241.5h.1M242.3 242.0h.1M244.9 242.5h.1M245.5 246.1h.1M229.0 236.7h.1M237.0 240.9h.1M246.8 243.6h.1M229.2 241.9h.1M237.5 244.6h.1M237.4 241.9h.1M243.9 243.7h.1M243.7 244.0h.1M234.6 246.0h.1M229.2 244.1h.1M232.9 246.4h.1M218.8 237.0h.1M253.7 245.7h.1M221.4 238.0h.1M249.5 246.4h.1M244.8 245.3h.1M231.2 243.0h.1M228.5 247.6h.1M224.4 241.2h.1M226.8 237.1h.1M227.7 241.8h.1M231.1 237.5h.1M222.6 237.9h.1M237.5 246.6h.1M250.8 245.6h.1M242.2 246.2h.1M235.9 246.8h.1M227.5 238.5h.1M231.0 247.4h.1M219.8 233.1h.1M219.8 243.8h.1M237.0 240.4h.1M231.0 237.4h.1M236.2 239.0h.1M227.5 245.6h.1M244.8 243.1h.1M220.9 246.4h.1M249.9 245.2h.1M219.8 237.5h.1M232.8 244.2h.1M233.0 245.1h.1M222.4 234.3h.1M229.6 235.7h.1M226.3 240.2h.1M242.2 242.1h.1M221.9 247.7h.1M232.0 244.6h.1M219.8 245.2h.1M241.5 241.6h.1M234.4 242.0h.1M224.7 246.5h.1M218.7 233.9h.1M225.3 234.6h.1M228.9 243.0h.1M224.3 236.6h.1M232.0 242.2h.1M224.7 239.2h.1M243.1 243.6h.1M226.9 246.6h.1M219.3 247.3h.1M220.2 237.2h.1M252.4 246.0h.1M231.6 243.0h.1M223.6 241.0h.1M232.4 246.3h.1M237.8 239.7h.1M228.8 244.2h.1M235.7 240.5h.1M223.8 241.8h.1M226.0 243.7h.1M221.3 248.1h.1M250.2 246.2h.1M220.2 242.7h.1M223.3 237.3h.1M239.7 244.0h.1M234.6 244.8h.1M233.5 246.1h.1M244.6 242.7h.1M224.7 235.7h.1M238.7 245.4h.1M244.7 242.6h.1M230.8 246.9h.1M221.4 244.1h.1M234.3 242.9h.1M238.0 243.9h.1M230.9 246.2h.1M244.7 246.9h.1M238.7 247.0h.1M228.6 241.1h.1M233.7 238.7h.1M221.8 234.7h.1M224.6 236.5h.1M231.4 247.6h.1M222.2 245.6h.1M226.9 237.5h.1M224.1 244.9h.1M239.7 244.1h.1M225.1 239.2h.1M239.7 246.5h.1M231.4 245.9h.1M221.4 238.3h.1M220.5 242.4h.1M241.7 242.1h.1M226.1 236.4h.1M232.1 243.0h.1M237.2 243.0h.1M225.4 236.0h.1M230.1 244.1h.1M218.9 231.7h.1M222.1 233.3h.1M249.1 244.2h.1M250.3 244.7h.1M222.8 239.2h.1M232.8 246.5h.1M233.6 239.7h.1M238.6 244.0h.1M223.6 247.9h.1M233.6 239.3h.1M229.5 245.4h.1M245.0 244.9h.1M226.4 245.3h.1M238.9 245.0h.1M221.2 240.3h.1M235.7 241.2h.1M225.3 236.9h.1M244.0 245.0h.1M227.3 245.4h.1M218.6 232.3h.1M229.3 244.0h.1M222.4 240.6h.1M220.7 242.2h.1M239.2 246.8h.1M236.5 239.2h.1M222.5 239.7h.1M231.0 241.0h.1M248.2 244.5h.1M224.5 244.0h.1M233.2 244.7h.1M224.9 234.1h.1M245.5 245.0h.1M238.7 239.6h.1M218.4 233.6h.1M231.1 242.8h.1M218.2 236.6h.1M237.1 238.9h.1M219.8 240.2h.1M249.9 244.8h.1M224.5 242.4h.1M226.2 241.1h.1M221.2 242.0h.1M226.9 246.4h.1M225.2 245.5h.1M232.3 241.6h.1M220.5 243.8h.1M230.5 246.2h.1M221.6 235.1h.1M227.0 241.3h.1M245.4 243.8h.1M218.5 231.7h.1M242.7 244.1h.1M229.7 238.3h.1M225.8 243.3h.1M240.6 243.7h.1M231.2 244.1h.1M250.5 244.9h.1M218.6 238.9h.1M222.6 247.0h.1M222.3 247.6h.1M226.0 236.3h.1M227.2 240.0h.1M240.4 247.0h.1M234.3 238.4h.1M236.8 246.5h.1M235.6 245.1h.1M243.6 243.3h.1M229.0 236.5h.1M227.2 242.3h.1M230.8 237.7h.1M221.8 241.5h.1M222.0 234.6h.1M225.7 246.7h.1M225.6 242.7h.1M224.2 247.2h.1M231.0 244.9h.1M228.7 244.6h.1M244.0 243.9h.1M232.9 244.1h.1M226.7 242.6h.1M229.6 246.5h.1M231.1 244.8h.1M219.6 247.8h.1M229.2 244.7h.1M220.3 245.2h.1M220.0 235.0h.1M249.7 246.5h.1M236.9 239.3h.1M228.5 243.8h.1M224.4 238.6h.1M221.9 241.8h.1M227.3 244.8h.1M222.5 241.5h.1M242.0 242.3h.1M238.7 244.6h.1M227.7 241.3h.1M221.4 238.8h.1M224.5 236.6h.1M228.8 238.5h.1M220.4 238.8h.1M228.9 243.2h.1M222.9 240.3h.1M227.4 238.6h.1M229.0 245.9h.1M232.4 244.8h.1M235.7 243.8h.1M249.1 246.5h.1M223.9 238.5h.1M223.0 233.0h.1M241.4 241.3h.1M220.5 248.1h.1M224.9 234.1h.1M246.5 245.4h.1M245.8 242.5h.1M222.6 238.7h.1M221.4 240.1h.1M242.6 245.5h.1M236.5 239.0h.1M224.8 247.7h.1M220.6 233.5h.1M234.7 245.8h.1M224.3 238.8h.1M226.0 237.4h.1M241.2 246.0h.1M226.9 241.7h.1M248.8 245.1h.1M224.0 241.6h.1M241.7 244.7h.1M229.9 245.9h.1M228.6 242.2h.1M223.1 238.0h.1M245.8 242.6h.1M232.1 244.4h.1M229.4 246.9h.1M236.3 246.5h.1M245.8 243.6h.1M237.1 243.1h.1M240.1 244.4h.1M225.5 237.8h.1M222.5 243.4h.1M222.3 237.0h.1M228.5 244.6h.1M219.4 247.2h.1M241.4 242.4h.1M236.5 247.1h.1M243.3 246.2h.1M221.4 238.5h.1M221.6 246.2h.1M223.0 244.7h.1M228.4 237.4h.1M250.9 245.7h.1M224.9 246.4h.1M225.4 239.1h.1M237.7 240.6h.1M224.7 233.5h.1M219.6 238.6h.1M227.9 240.5h.1M233.4 245.7h.1M236.9 242.3h.1M245.6 244.9h.1M223.7 238.2h.1M230.0 244.1h.1M234.1 243.1h.1M218.4 238.4h.1M219.9 245.1h.1M235.1 239.2h.1M245.9 245.4h.1M220.0 245.2h.1M225.1 235.9h.1M245.6 243.4h.1M232.2 244.4h.1M220.0 239.3h.1M243.3 243.2h.1M217.9 235.1h.1M222.9 246.8h.1M245.8 243.1h.1M243.4 244.6h.1M229.6 247.2h.1M237.4 240.1h.1M224.0 236.8h.1M233.7 242.6h.1M230.4 238.0h.1M243.4 245.8h.1M238.9 241.7h.1M227.3 242.7h.1M217.8 231.3h.1M234.6 239.9h.1M223.2 247.8h.1M227.1 238.0h.1M230.3 245.1h.1M218.3 237.3h.1M240.5 240.5h.1M245.4 242.9h.1M229.8 242.8h.1M230.5 247.1h.1M222.3 237.8h.1M248.3 243.6h.1M228.7 243.6h.1M249.7 245.8h.1M232.9 240.6h.1M226.3 239.8h.1M220.5 239.9h.1M228.6 245.5h.1M233.2 244.9h.1M235.6 245.1h.1M222.8 245.0h.1M228.0 238.0h.1M223.2 247.4h.1M222.0 247.3h.1M241.7 242.3h.1M222.4 232.9h.1M218.9 243.0h.1M220.2 235.9h.1M236.3 238.6h.1M227.8 242.9h.1M243.4 244.0h.1M222.5 238.2h.1M220.9 234.0h.1M222.7 246.3h.1M250.7 245.1h.1M224.9 236.2h.1M242.5 246.1h.1M248.5 244.9h.1M253.5 246.4h.1M247.0 244.3h.1M246.0 243.2h.1M222.1 243.4h.1M224.1 244.6h.1M243.2 245.2h.1M235.7 241.7h.1M222.8 239.0h.1M229.7 242.1h.1M221.3 247.2h.1M226.6 242.6h.1M233.8 246.0h.1M227.4 242.6h.1M228.8 244.0h.1M225.3 233.8h.1M235.7 240.3h.1M245.0 245.6h.1M236.7 245.7h.1M234.3 246.7h.1M236.5 243.8h.1M222.7 240.9h.1M226.0 239.5h.1M222.3 236.9h.1M229.8 241.7h.1M236.5 243.5h.1M217.8 235.1h.1M241.7 245.8h.1M221.7 246.6h.1M231.4 237.0h.1M241.2 242.5h.1M226.0 245.7h.1M224.3 247.1h.1M233.7 243.3h.1M238.1 243.8h.1M221.4 233.5h.1M246.7 245.7h.1M231.2 236.3h.1M225.5 239.6h.1M224.9 241.7h.1M223.5 244.2h.1M233.3 241.3h.1M230.5 247.4h.1M219.8 245.8h.1M226.8 236.4h.1M228.9 239.8h.1M244.0 244.1h.1M219.2 237.1h.1M238.1 240.0h.1M228.8 242.5h.1M219.6 246.0h.1M239.8 241.2h.1M218.8 235.3h.1M224.8 237.8h.1M224.5 237.5h.1M219.8 240.9h.1M220.7 235.0h.1M248.7 245.0h.1M226.6 246.5h.1M220.0 245.9h.1M223.3 239.4h.1M248.0 245.0h.1M226.1 241.9h.1M226.2 245.5h.1M219.0 232.8h.1M228.7 243.6h.1M246.6 246.1h.1M228.2 238.6h.1M223.5 238.0h.1M224.5 245.8h.1M219.6 239.3h.1M245.9 246.4h.1M228.5 240.5h.1M224.8 234.2h.1M231.5 241.6h.1M219.2 245.5h.1M222.4 243.4h.1M236.2 244.3h.1M220.7 237.8h.1M236.1 242.2h.1M235.9 238.7h.1M238.8 246.5h.1M230.7 242.8h.1M226.2 239.5h.1M227.0 236.4h.1M238.2 241.8h.1M223.0 241.6h.1M227.3 238.3h.1M232.3 239.5h.1M219.5 238.0h.1M242.7 247.0h.1M222.6 242.4h.1M240.0 241.8h.1M230.5 240.1h.1M234.0 241.6h.1M250.1 244.2h.1M233.9 244.3h.1M224.6 235.0h.1M228.9 239.9h.1M243.0 245.6h.1M237.2 242.7h.1M231.0 237.7h.1M222.1 245.7h.1M219.0 241.8h.1M237.6 240.2h.1M239.9 245.6h.1M250.3 245.6h.1M236.2 241.8h.1M251.0 246.4h.1M220.8 243.1h.1M225.4 236.3h.1M226.4 241.4h.1" stroke="#2b3592" stroke-width="0.9" stroke-linecap="round" opacity="0.6" fill="none"/>
<rect x="203.2" y="215.3" width="79.2" height="80.8" fill="none" stroke="#8a8a8a" stroke-width="0.8"/>
<path d="M201.7 226.8h1.5M214.5 296.1v1.5M201.7 238.4h1.5M225.8 296.1v1.5M201.7 249.9h1.5M237.1 296.1v1.5M201.7 261.5h1.5M248.5 296.1v1.5M201.7 273.0h1.5M259.8 296.1v1.5M201.7 284.6h1.5M271.1 296.1v1.5" stroke="#222" stroke-width="0.8"/>
<polygon points="214.7,222.3 271.7,221.1 274.7,226.5 270.7,241.8 239.2,249.8 218.2,247.8" fill="none" stroke="#333" stroke-width="0.8"/>
<polygon points="239.7,249.3 271.7,241.8 275.5,255.8 259.7,278.8" fill="none" stroke="#333" stroke-width="0.8"/>
<text x="203.6" y="221.1" font-size="6" font-weight="bold" fill="#1a1a1a" textLength="67" lengthAdjust="spacingAndGlyphs">Recruited Phagocytes</text>
<text x="203.6" y="228.6" font-size="6.2" font-weight="bold" fill="#1a1a1a" textLength="17.4" lengthAdjust="spacingAndGlyphs">54.2%</text>
<text x="278.4" y="274.3" font-size="6.2" text-anchor="end" font-weight="bold" fill="#1a1a1a" textLength="8.6" lengthAdjust="spacingAndGlyphs">KC</text>
<text x="278.4" y="281.7" font-size="6.2" text-anchor="end" font-weight="bold" fill="#1a1a1a" textLength="17.5" lengthAdjust="spacingAndGlyphs">44.2%</text>
<text x="204.4" y="293.6" font-size="7.3" font-weight="bold" fill="#1a1a1a">HbS+AC</text>
<g filter="url(#bl)" fill="#2b3592"><polygon points="323.9,250.8 346.9,245.8 348.9,255.3 340.3,274.3" opacity="0.9"/><polygon points="298.4,234.3 342.9,230.3 344.4,236.6 332.3,244.7 319.3,249.8 299.4,246.3" opacity="0.5"/></g>
<path d="M333.3 250.1h.1M337.5 248.7h.1M346.8 255.8h.1M330.9 261.6h.1M326.5 253.7h.1M349.7 248.1h.1M341.9 262.6h.1M339.7 247.7h.1M338.9 267.9h.1M337.2 250.2h.1M344.5 257.2h.1M340.6 276.0h.1M330.2 251.1h.1M337.6 248.4h.1M348.7 248.3h.1M346.0 256.5h.1M329.4 258.1h.1M346.1 253.3h.1M346.0 261.7h.1M344.9 263.1h.1M333.7 261.1h.1M334.6 266.4h.1M342.7 253.7h.1M333.8 256.2h.1M347.2 254.1h.1M340.5 265.7h.1M327.3 255.4h.1M335.0 258.7h.1M345.9 246.1h.1M351.3 247.1h.1M325.8 251.4h.1M337.8 252.1h.1M335.1 264.8h.1M349.7 245.7h.1M336.3 258.4h.1M349.4 249.3h.1M335.3 263.9h.1M340.8 256.2h.1M339.0 264.5h.1M337.8 270.3h.1M329.5 250.2h.1M343.3 263.3h.1M344.4 260.2h.1M328.5 251.5h.1M334.9 253.2h.1M337.9 266.9h.1M335.0 261.3h.1M328.3 252.4h.1M342.0 263.3h.1M340.9 263.9h.1M347.1 250.5h.1M336.1 267.2h.1M341.1 259.4h.1M337.4 247.8h.1M335.2 267.6h.1M325.5 251.2h.1M345.5 259.0h.1M343.5 270.3h.1M343.1 253.4h.1M332.5 260.0h.1M340.7 260.5h.1M335.6 261.8h.1M328.5 254.8h.1M335.1 266.9h.1M335.3 261.2h.1M336.1 266.3h.1M334.2 254.7h.1M335.6 250.0h.1M336.7 269.5h.1M345.2 261.4h.1M336.2 247.9h.1M343.4 262.1h.1M343.4 246.1h.1M346.0 250.2h.1M332.8 254.6h.1M347.1 260.6h.1M350.8 248.0h.1M330.4 249.2h.1M346.3 259.3h.1M326.0 251.9h.1M344.5 261.1h.1M340.1 270.0h.1M342.0 251.5h.1M350.5 245.8h.1M337.8 261.9h.1M339.0 273.5h.1M349.2 251.2h.1M344.6 247.9h.1M328.2 256.6h.1M346.8 249.9h.1M338.6 267.8h.1M327.3 250.3h.1M348.5 246.4h.1M341.8 253.1h.1M331.4 256.1h.1M339.0 260.1h.1M332.5 257.2h.1M342.1 274.9h.1M340.3 262.9h.1M325.0 250.6h.1M334.2 255.8h.1M340.4 266.0h.1M344.2 260.7h.1M338.6 261.5h.1M344.9 266.3h.1M352.8 245.5h.1M340.5 250.9h.1M341.2 264.0h.1M334.2 258.2h.1M332.2 261.4h.1M336.0 248.4h.1M341.2 266.9h.1M351.7 246.6h.1M341.9 274.8h.1M331.5 259.0h.1M332.0 260.6h.1M338.3 259.6h.1M331.5 251.0h.1M341.0 263.4h.1M337.2 264.6h.1M336.1 255.7h.1M334.0 259.8h.1M334.2 253.6h.1M344.6 259.6h.1M342.8 257.1h.1M332.1 252.0h.1M349.7 253.5h.1M330.0 249.1h.1M336.9 254.3h.1M343.6 246.1h.1M344.1 266.8h.1M333.4 253.0h.1M350.8 247.1h.1M341.4 254.9h.1M344.2 262.1h.1M344.5 254.8h.1M336.6 266.9h.1M337.4 256.7h.1M344.1 250.2h.1M326.2 253.7h.1M333.9 265.2h.1M343.2 253.0h.1M339.2 247.0h.1M341.8 276.1h.1M351.2 246.4h.1M342.6 261.3h.1M340.1 251.6h.1M335.2 249.6h.1M334.5 250.5h.1M341.7 271.7h.1M345.2 248.0h.1M330.3 249.9h.1M341.7 265.2h.1M341.6 253.1h.1M334.8 264.5h.1M341.4 255.1h.1M344.6 264.4h.1M342.4 265.3h.1M334.7 250.8h.1M344.0 262.1h.1M341.8 251.3h.1M336.6 256.3h.1M347.9 255.7h.1M349.2 245.4h.1M343.2 254.3h.1M336.3 248.4h.1M345.3 263.2h.1M351.0 244.9h.1M345.5 262.2h.1M328.7 256.8h.1M345.2 265.6h.1M337.4 262.3h.1M341.7 263.8h.1M341.4 261.3h.1M337.7 258.9h.1M337.7 267.5h.1M343.2 253.4h.1M337.0 267.4h.1M341.8 270.1h.1M343.0 246.2h.1M338.6 264.1h.1M346.0 260.8h.1M338.7 254.1h.1M339.3 258.4h.1M329.9 257.2h.1M338.4 269.2h.1M342.6 264.0h.1M343.2 247.6h.1M339.6 273.7h.1M333.2 253.5h.1M341.9 255.1h.1M335.2 251.3h.1M326.0 250.5h.1M332.3 257.9h.1M335.2 261.1h.1M347.4 253.5h.1M324.8 250.7h.1M347.2 256.2h.1M338.4 265.9h.1M329.0 252.6h.1M330.6 253.9h.1M331.8 257.8h.1M347.5 247.2h.1M342.4 246.9h.1M335.0 254.1h.1M333.1 248.3h.1M331.4 248.6h.1M348.6 256.1h.1M346.9 251.0h.1M335.8 267.2h.1M346.8 245.3h.1M344.2 259.5h.1M349.0 253.3h.1M333.5 264.5h.1M338.5 265.5h.1M344.3 251.9h.1M328.7 256.7h.1M335.4 253.0h.1M326.7 251.0h.1M346.3 257.3h.1M333.1 264.5h.1M334.1 248.0h.1M336.1 269.0h.1M351.6 244.7h.1M346.5 252.0h.1M339.1 257.0h.1M339.7 249.6h.1M332.8 255.7h.1M347.0 258.7h.1M338.4 262.7h.1M346.4 260.3h.1M336.1 255.7h.1M347.4 252.0h.1M348.0 255.1h.1M343.9 249.0h.1M329.2 255.9h.1M341.2 257.3h.1M347.5 257.3h.1M334.2 264.8h.1M352.4 246.0h.1M334.4 261.1h.1M328.5 257.8h.1M336.3 255.1h.1M338.2 250.7h.1M330.0 252.7h.1M349.0 251.5h.1M347.2 260.2h.1M343.1 261.2h.1M340.0 247.3h.1M335.0 248.5h.1M341.0 271.9h.1M341.4 265.5h.1M343.3 259.5h.1M343.8 267.5h.1M344.4 265.2h.1M339.0 262.6h.1M334.2 248.1h.1M331.9 248.6h.1M335.1 262.4h.1M337.1 252.6h.1M337.7 266.2h.1M334.8 266.7h.1M334.6 253.1h.1M341.8 259.3h.1M340.6 257.2h.1M343.8 250.6h.1M351.8 244.5h.1M337.6 260.8h.1M348.1 254.2h.1M332.7 252.2h.1M343.8 261.3h.1M334.5 255.6h.1M334.3 259.0h.1M346.5 256.4h.1M329.0 249.2h.1M344.5 263.5h.1M338.7 263.7h.1M337.9 255.3h.1M342.7 265.9h.1M335.6 255.4h.1M335.2 248.7h.1M336.2 261.4h.1M341.7 256.1h.1M338.6 249.9h.1M341.1 276.4h.1M345.6 263.8h.1M328.1 252.5h.1M341.5 246.7h.1M345.3 263.7h.1M339.2 252.1h.1M342.6 272.2h.1M337.2 255.1h.1M326.4 252.9h.1M341.0 262.8h.1M340.1 272.3h.1M338.8 258.5h.1M349.0 255.7h.1M346.2 250.0h.1M335.1 265.7h.1M347.5 249.2h.1M336.9 268.0h.1M342.0 274.9h.1M347.0 250.1h.1M336.7 249.1h.1M332.4 259.2h.1M328.7 251.9h.1M337.3 258.5h.1M344.7 260.8h.1M342.8 261.7h.1M344.4 250.8h.1M339.7 259.3h.1M333.7 249.2h.1M341.5 259.8h.1M339.2 253.4h.1M346.5 251.8h.1M337.6 262.0h.1M342.3 264.1h.1M348.7 248.4h.1M341.4 252.2h.1M339.8 256.7h.1M334.2 255.1h.1M338.4 257.2h.1M328.9 253.0h.1M340.6 265.3h.1M340.7 252.8h.1M340.5 248.1h.1M333.2 260.4h.1M350.3 249.3h.1M341.2 261.5h.1M337.4 268.6h.1M341.6 252.5h.1M336.4 255.4h.1M335.8 255.4h.1M342.2 247.7h.1M330.3 257.4h.1M344.7 256.8h.1M335.7 264.8h.1M348.7 248.4h.1M338.7 268.2h.1M343.1 252.5h.1M341.4 247.0h.1M339.4 267.8h.1M344.7 258.4h.1M343.2 251.6h.1M335.5 253.3h.1M340.1 262.3h.1M344.6 258.6h.1M338.5 272.1h.1M339.7 251.7h.1M335.7 261.3h.1M335.9 255.6h.1M336.3 250.2h.1M331.1 258.9h.1M339.8 266.4h.1M330.5 249.6h.1M330.6 254.1h.1M347.8 259.1h.1M337.6 247.6h.1M343.8 253.7h.1M327.2 251.2h.1M335.1 260.1h.1M336.7 261.7h.1M341.5 269.1h.1M339.3 267.8h.1M351.9 245.2h.1M337.6 267.3h.1M340.0 262.7h.1M342.0 272.6h.1M333.5 251.0h.1M329.2 253.7h.1M345.7 261.3h.1M339.1 266.1h.1M331.6 249.5h.1M332.1 252.8h.1M338.0 268.5h.1M343.3 246.8h.1M342.9 263.6h.1M333.1 259.5h.1M345.6 247.1h.1M341.3 247.3h.1M332.4 249.8h.1M351.7 246.5h.1M337.0 259.8h.1M347.9 250.1h.1M340.8 247.0h.1M337.7 248.9h.1M336.7 266.7h.1M337.6 255.6h.1M343.5 246.7h.1M337.0 254.7h.1M330.9 251.6h.1M335.2 264.6h.1M341.8 272.5h.1M341.0 246.6h.1M341.7 264.0h.1M336.6 260.6h.1M337.7 251.5h.1M338.8 267.8h.1M336.1 268.1h.1M339.1 257.8h.1M332.7 254.1h.1M337.8 252.7h.1M350.6 246.1h.1M345.1 248.5h.1M340.0 266.5h.1M345.3 247.5h.1M340.5 261.6h.1M339.4 248.7h.1M346.2 248.7h.1M339.5 260.1h.1M327.1 253.1h.1M339.1 260.9h.1M328.7 256.0h.1M345.0 249.2h.1M348.9 255.5h.1M345.0 251.1h.1M332.7 256.1h.1M346.4 261.9h.1M325.2 252.2h.1M343.0 248.5h.1M351.3 245.7h.1M338.8 267.3h.1M342.9 269.4h.1M347.0 250.3h.1M326.2 249.8h.1M334.0 248.6h.1M338.8 263.2h.1M329.8 250.8h.1M345.8 248.0h.1M347.6 254.2h.1M337.4 252.4h.1M339.6 251.1h.1M339.4 249.9h.1M349.0 251.3h.1M341.4 274.0h.1M340.9 257.5h.1M340.7 265.9h.1M343.8 257.7h.1M337.5 262.0h.1M335.2 259.5h.1M336.7 257.7h.1M350.7 246.0h.1M347.0 261.1h.1M336.4 247.6h.1M341.7 272.3h.1M342.3 255.2h.1M337.9 248.8h.1M340.8 272.1h.1M349.7 250.7h.1M334.3 250.3h.1M342.3 262.3h.1M339.7 262.0h.1M328.0 249.4h.1M341.2 247.8h.1M339.5 267.6h.1M351.3 247.4h.1M326.0 251.4h.1M334.2 266.3h.1M344.0 258.3h.1M333.0 258.6h.1M347.1 253.3h.1M335.4 257.1h.1M337.1 261.6h.1M340.8 272.0h.1M345.0 264.7h.1M341.1 276.6h.1M342.4 262.8h.1M340.4 251.5h.1M337.0 265.8h.1M348.3 252.5h.1M342.5 264.2h.1M341.7 270.0h.1M340.2 260.1h.1M331.9 250.0h.1M343.1 267.3h.1M342.4 268.9h.1M338.7 268.2h.1M332.2 261.3h.1M326.3 253.2h.1M341.3 265.9h.1M347.1 257.9h.1M339.8 264.8h.1M340.5 270.8h.1M341.6 250.8h.1M333.8 257.0h.1M335.1 265.4h.1M345.7 264.1h.1M337.6 261.2h.1M345.4 248.2h.1M333.7 248.7h.1M351.3 248.9h.1M338.2 265.5h.1M348.0 255.1h.1M330.3 254.1h.1M325.1 251.0h.1M341.7 246.7h.1M343.5 268.3h.1M342.7 262.3h.1M350.5 247.5h.1M332.6 258.5h.1M346.3 263.7h.1M342.2 258.8h.1M342.0 263.5h.1M334.2 251.8h.1M326.3 250.2h.1M339.7 271.7h.1M339.7 265.2h.1M330.4 249.2h.1M347.7 257.4h.1M325.2 250.3h.1M346.9 248.9h.1M344.3 268.7h.1M343.0 258.9h.1M349.8 253.4h.1M343.1 261.6h.1M338.2 260.3h.1M339.9 262.0h.1M331.4 259.4h.1M344.7 252.8h.1M345.1 262.9h.1M337.6 252.9h.1M350.8 246.4h.1M342.5 274.1h.1M345.0 259.7h.1M347.8 256.6h.1M339.2 267.9h.1M328.8 255.3h.1M334.3 260.3h.1M341.8 265.2h.1M349.3 254.3h.1M337.9 249.8h.1M334.4 258.5h.1M334.3 250.8h.1M343.2 252.6h.1M338.2 266.9h.1M349.0 254.2h.1M335.7 253.4h.1M344.5 268.1h.1M333.6 250.8h.1M337.0 249.4h.1M342.5 269.1h.1M341.1 262.3h.1M337.3 248.2h.1M343.7 269.0h.1M341.7 250.0h.1M337.6 261.6h.1M352.9 244.0h.1M345.0 262.1h.1M340.7 273.5h.1M338.3 265.0h.1M338.4 258.8h.1M342.6 255.1h.1M340.5 267.2h.1M343.6 248.4h.1M340.3 274.3h.1M335.2 256.4h.1M343.2 261.2h.1M342.5 273.9h.1M342.9 257.7h.1M337.5 258.2h.1M342.1 249.7h.1M339.5 262.9h.1M331.9 259.5h.1M339.1 264.4h.1M348.2 256.1h.1M336.3 267.5h.1M346.0 248.9h.1M343.5 250.4h.1M340.8 262.9h.1M343.7 263.0h.1M341.3 257.1h.1M331.2 258.1h.1M335.4 268.3h.1M344.0 257.1h.1M338.8 266.5h.1M347.0 250.7h.1M344.5 254.1h.1M337.4 266.8h.1M332.6 261.7h.1M343.6 263.0h.1M331.0 258.1h.1M336.5 260.9h.1M344.5 250.1h.1M334.9 258.9h.1M348.3 254.3h.1M339.0 261.5h.1M343.9 246.1h.1M336.0 257.5h.1M333.7 257.5h.1M342.7 247.5h.1M332.1 258.6h.1M345.5 261.0h.1M340.8 274.0h.1M335.8 260.1h.1M343.0 252.1h.1M331.2 261.0h.1M341.9 265.1h.1M345.0 264.4h.1M337.1 265.5h.1M327.1 249.9h.1M337.9 263.6h.1M337.2 248.2h.1M326.5 249.6h.1M351.1 245.8h.1M341.6 261.0h.1M344.6 252.6h.1M340.5 257.7h.1M340.2 274.7h.1M334.1 251.2h.1M335.9 254.2h.1M338.8 271.9h.1M349.7 252.5h.1M332.7 254.6h.1M334.7 266.0h.1M334.5 259.3h.1M345.6 263.2h.1M337.1 261.7h.1M342.9 261.4h.1M340.9 252.3h.1M336.2 252.6h.1M343.2 246.3h.1M345.5 252.7h.1M336.4 263.1h.1M341.3 260.8h.1M333.6 248.6h.1M347.5 250.2h.1M343.9 260.5h.1M347.1 248.6h.1M328.7 256.9h.1M341.9 271.5h.1M343.0 265.3h.1M337.8 256.5h.1M342.1 247.9h.1M345.0 260.1h.1M347.6 249.7h.1M338.5 267.7h.1M342.2 272.7h.1M337.7 265.4h.1M338.5 260.6h.1M342.4 268.6h.1M336.9 257.1h.1M328.3 250.7h.1M342.4 248.7h.1M340.1 260.7h.1M328.7 254.8h.1M336.8 252.7h.1M343.9 254.9h.1M337.9 268.9h.1M340.0 258.1h.1M346.9 259.3h.1M324.5 240.5h.1M342.3 230.3h.1M314.4 232.4h.1M319.2 239.7h.1M323.6 238.4h.1M336.1 236.1h.1M335.2 242.1h.1M327.6 243.1h.1M339.6 232.4h.1M335.3 241.7h.1M326.5 236.9h.1M330.3 234.1h.1M309.9 231.8h.1M331.6 243.8h.1M315.6 237.9h.1M327.3 237.6h.1M301.7 231.4h.1M341.1 233.9h.1M320.9 231.5h.1M337.0 233.8h.1M320.9 233.4h.1M325.1 231.9h.1M334.1 231.7h.1M327.9 233.9h.1M328.2 239.6h.1M330.3 232.0h.1M328.9 237.4h.1M323.9 241.7h.1M333.5 235.7h.1M336.9 240.1h.1M332.9 232.7h.1M330.0 234.5h.1M330.2 235.0h.1M323.1 232.7h.1M327.9 235.5h.1M326.2 242.8h.1M339.9 238.1h.1M335.5 230.9h.1M329.8 241.8h.1M330.9 244.3h.1M324.1 230.8h.1M326.3 239.9h.1M330.7 237.1h.1M328.8 238.9h.1M313.1 230.9h.1M328.0 238.1h.1M329.0 238.4h.1M339.2 239.2h.1M302.9 231.4h.1M335.1 237.1h.1M323.6 239.6h.1M328.6 242.5h.1M335.6 242.0h.1M343.3 234.1h.1M326.5 233.9h.1M329.5 243.8h.1M332.8 233.9h.1M333.0 239.0h.1M341.0 232.5h.1M310.6 234.6h.1M337.2 239.5h.1M320.1 234.9h.1M337.1 239.4h.1M327.1 240.1h.1M338.5 233.6h.1M336.1 232.0h.1M316.1 238.0h.1M314.4 236.1h.1M334.6 241.9h.1M341.8 235.7h.1M322.3 234.3h.1M339.4 233.2h.1M304.1 232.6h.1M329.1 231.3h.1M322.0 241.1h.1M316.9 234.6h.1M327.8 232.5h.1M335.7 241.8h.1M321.1 240.4h.1M337.7 234.5h.1M328.1 238.0h.1M310.2 231.1h.1M327.5 240.5h.1M335.5 230.9h.1M335.6 238.7h.1M320.1 237.2h.1M311.4 233.7h.1M311.0 232.2h.1M312.3 231.6h.1M327.8 240.8h.1M338.1 235.7h.1M341.1 233.2h.1M338.0 239.3h.1M332.5 242.7h.1M335.5 242.9h.1M330.0 239.3h.1M328.1 233.5h.1M329.8 241.5h.1M336.3 239.0h.1M326.1 234.6h.1M333.1 242.4h.1M325.4 232.7h.1M334.2 243.7h.1M315.7 233.2h.1M328.1 233.8h.1M332.3 245.1h.1M319.4 233.2h.1M334.5 237.0h.1M312.8 235.0h.1M329.9 241.8h.1M309.8 233.6h.1M332.4 244.0h.1M332.8 232.6h.1M322.7 234.3h.1M318.5 239.3h.1M333.0 233.4h.1M333.4 240.3h.1M334.4 242.7h.1M325.2 239.7h.1M325.1 239.6h.1M317.1 232.3h.1M328.3 237.3h.1M320.8 234.5h.1M315.5 232.0h.1M336.2 239.4h.1M325.8 237.8h.1M337.6 234.7h.1M333.9 237.4h.1M305.5 233.0h.1M324.3 232.7h.1M335.0 236.5h.1M321.3 232.3h.1M326.0 233.9h.1M334.6 244.2h.1M316.7 237.3h.1M323.0 237.7h.1M325.7 232.8h.1M334.1 234.6h.1M312.9 232.5h.1M324.4 231.2h.1M317.9 230.8h.1M338.2 238.6h.1M336.4 242.3h.1M325.2 242.1h.1M343.3 231.9h.1M331.2 232.2h.1M330.1 233.8h.1M338.2 230.4h.1M307.2 233.4h.1M329.9 235.3h.1M321.1 231.7h.1M310.6 231.6h.1M337.1 235.5h.1M331.9 236.4h.1M329.4 241.8h.1M328.9 237.2h.1M336.8 231.2h.1M321.9 235.3h.1M332.5 241.4h.1M335.7 240.2h.1M325.3 240.0h.1M334.3 238.9h.1M330.9 230.0h.1M329.4 243.5h.1M344.0 230.9h.1M324.6 237.2h.1M330.9 241.3h.1M332.4 244.9h.1M344.8 230.3h.1M319.5 230.9h.1M315.7 232.0h.1M332.1 230.7h.1M328.7 242.0h.1M313.2 232.1h.1M323.0 236.7h.1M324.9 237.2h.1M322.6 239.6h.1M326.6 232.9h.1M338.5 231.7h.1M338.4 231.4h.1M323.5 237.4h.1M313.9 230.7h.1M333.2 243.5h.1M302.7 231.8h.1M336.1 230.8h.1M333.0 235.9h.1M309.9 233.8h.1M341.7 234.2h.1M310.8 233.8h.1M318.6 233.7h.1M337.5 234.9h.1M341.2 231.6h.1M317.2 230.6h.1M318.6 239.6h.1M319.8 239.6h.1M316.6 238.3h.1M333.3 237.4h.1M342.5 232.2h.1M307.1 234.0h.1M303.6 231.6h.1M335.5 238.7h.1M334.8 233.3h.1M315.2 234.4h.1M339.6 238.6h.1M322.4 241.2h.1M312.8 237.1h.1M344.7 231.0h.1M336.1 236.3h.1M330.0 241.1h.1M319.9 231.2h.1M315.5 237.8h.1M337.8 240.4h.1M323.2 235.6h.1M335.9 239.9h.1M335.1 240.5h.1M314.0 232.3h.1M331.7 232.7h.1M323.1 235.2h.1M331.4 236.8h.1M316.7 238.4h.1M339.4 236.2h.1M327.4 233.2h.1M338.9 237.7h.1M322.6 233.4h.1M312.7 232.2h.1M314.4 231.3h.1M338.8 239.1h.1M330.6 242.4h.1M338.5 235.8h.1M333.7 233.2h.1M336.1 231.8h.1M334.7 234.2h.1M333.0 240.2h.1M311.3 231.4h.1M330.0 244.5h.1M337.7 230.8h.1M315.8 237.4h.1M337.5 235.0h.1M310.7 231.2h.1M317.6 231.9h.1M309.9 230.9h.1M333.4 240.1h.1M345.7 231.0h.1M338.3 231.5h.1M341.2 236.1h.1M304.8 232.0h.1M330.8 240.1h.1M319.3 238.7h.1M338.7 229.7h.1M327.3 236.9h.1M327.1 234.5h.1M334.1 239.1h.1M336.9 240.0h.1M327.7 231.3h.1M336.1 236.6h.1M333.0 238.4h.1M335.2 235.3h.1M318.7 230.5h.1M330.9 238.1h.1M306.9 234.0h.1M336.3 234.8h.1M322.1 237.2h.1M334.6 236.9h.1M328.0 238.0h.1M330.4 231.7h.1M325.6 235.0h.1M317.2 234.6h.1M317.3 238.3h.1M335.0 239.5h.1M332.6 236.4h.1M303.4 232.0h.1M325.6 231.4h.1M332.4 239.0h.1M316.3 232.8h.1M324.4 234.1h.1M321.2 231.8h.1M336.7 241.4h.1M330.8 239.8h.1M325.6 240.2h.1M307.5 234.3h.1M314.7 235.5h.1M313.3 235.4h.1M334.7 237.7h.1M332.0 245.1h.1M333.9 234.2h.1M320.3 239.8h.1M312.2 235.4h.1M310.5 232.9h.1M333.3 230.8h.1M334.1 239.4h.1M326.8 233.7h.1M332.1 244.1h.1M341.6 234.4h.1M329.2 232.2h.1M327.7 240.4h.1M339.4 231.2h.1M310.7 231.7h.1M335.0 238.1h.1M326.8 235.9h.1M302.7 231.7h.1M299.8 232.9h.1M317.4 244.7h.1M303.7 242.4h.1M302.6 236.0h.1M309.8 241.7h.1M323.2 244.4h.1M308.5 238.4h.1M330.0 246.3h.1M299.8 234.4h.1M316.8 243.1h.1M311.2 245.5h.1M317.3 241.3h.1M308.3 240.8h.1M321.9 246.7h.1M308.1 239.0h.1M304.1 236.9h.1M302.1 236.1h.1M307.0 242.5h.1M305.4 237.1h.1M308.1 242.9h.1M319.5 240.3h.1M309.2 247.6h.1M311.8 245.7h.1M314.9 245.8h.1M311.3 237.9h.1M308.6 239.0h.1M319.1 243.7h.1M305.9 239.1h.1M306.0 234.7h.1M302.6 247.9h.1M318.5 243.3h.1M324.7 244.0h.1M319.5 241.6h.1M309.8 246.6h.1M312.7 241.6h.1M306.6 240.3h.1M323.8 246.2h.1M307.3 247.7h.1M313.3 241.2h.1M312.5 237.3h.1M310.8 245.0h.1M314.2 244.8h.1M309.7 240.8h.1M306.6 237.4h.1M301.2 237.2h.1M317.4 245.6h.1M310.1 241.7h.1M301.8 236.4h.1M313.0 241.8h.1M302.5 245.2h.1M314.7 244.4h.1M302.2 240.5h.1M304.3 245.1h.1M308.6 239.2h.1M311.8 243.3h.1M309.2 246.5h.1M313.6 238.1h.1M317.6 245.1h.1M303.3 239.1h.1M312.3 247.5h.1M305.0 236.8h.1M304.4 242.2h.1M307.7 247.6h.1M315.9 242.4h.1M306.9 241.1h.1M313.5 243.7h.1M307.0 238.0h.1M311.3 247.6h.1M303.7 239.4h.1M318.0 239.7h.1M313.3 243.9h.1M300.9 236.5h.1M315.8 244.9h.1M307.4 237.3h.1M318.1 245.3h.1M304.0 241.0h.1M306.5 244.1h.1M322.4 246.8h.1M308.0 244.7h.1M312.6 238.4h.1M307.8 245.0h.1M327.1 245.8h.1M300.4 233.1h.1M312.9 246.0h.1M311.9 247.6h.1M321.5 245.5h.1M316.7 246.0h.1M318.8 241.7h.1M316.0 243.4h.1M306.1 242.7h.1M310.5 243.8h.1M317.1 244.4h.1M319.1 240.3h.1M306.7 234.7h.1M314.7 243.0h.1M313.2 243.8h.1M311.5 240.6h.1M306.8 236.7h.1M310.0 245.1h.1M315.3 240.4h.1M309.4 243.3h.1M299.9 233.0h.1M304.2 245.3h.1M304.8 246.7h.1M304.5 244.6h.1M306.8 245.9h.1M301.4 233.6h.1M304.9 241.5h.1M318.1 240.0h.1M308.3 247.7h.1M310.6 246.2h.1M315.8 243.6h.1M307.7 239.9h.1M309.1 238.6h.1M304.9 243.8h.1M314.7 241.1h.1M322.8 244.1h.1M301.1 233.2h.1M306.2 245.1h.1M305.9 239.9h.1M301.2 238.2h.1M310.6 243.6h.1M301.6 235.6h.1M305.0 234.1h.1M321.9 242.7h.1M301.1 244.9h.1M303.4 241.1h.1M314.5 239.1h.1M312.2 240.4h.1M307.5 238.8h.1M308.1 242.8h.1M300.6 236.8h.1M302.8 244.5h.1M310.1 243.3h.1M303.6 236.2h.1M321.0 246.2h.1M300.5 232.8h.1M321.5 246.9h.1M304.3 234.1h.1M306.0 247.3h.1M301.4 233.6h.1M302.7 237.3h.1M314.4 243.5h.1M310.2 244.3h.1M311.9 246.1h.1M304.4 243.5h.1M301.3 247.0h.1M307.6 243.9h.1M306.7 241.7h.1M309.7 246.2h.1M307.2 237.3h.1M301.4 240.9h.1M318.8 245.5h.1M310.2 244.3h.1M302.2 247.8h.1M309.3 246.6h.1M320.3 244.8h.1M310.0 244.1h.1M310.8 243.6h.1M299.8 233.0h.1M330.4 246.3h.1M320.5 246.0h.1M302.5 247.7h.1M326.4 243.8h.1M319.5 246.8h.1M320.1 241.9h.1M316.7 243.0h.1M307.1 239.0h.1M322.8 243.7h.1M314.3 246.1h.1M302.3 244.9h.1M304.0 242.4h.1M308.8 238.1h.1M301.8 238.5h.1M309.3 242.0h.1M314.5 240.0h.1M302.3 238.7h.1M308.0 244.7h.1M320.2 241.7h.1M307.9 239.4h.1M302.8 237.3h.1M314.7 244.1h.1M324.7 244.8h.1M324.4 246.0h.1M327.0 244.6h.1M302.6 234.9h.1M300.5 234.4h.1M302.7 235.7h.1M323.9 245.3h.1M319.6 244.2h.1M311.2 245.9h.1M305.9 247.9h.1M324.3 246.2h.1M319.5 245.3h.1M312.5 241.2h.1M315.6 239.2h.1M303.1 237.0h.1M317.0 239.3h.1M301.6 248.3h.1M321.5 243.3h.1M306.7 236.7h.1M316.4 238.9h.1M301.8 242.6h.1M303.5 238.1h.1M303.7 247.7h.1M324.1 242.6h.1M329.1 246.0h.1M316.9 246.8h.1M306.6 242.3h.1M308.5 242.5h.1M301.0 239.5h.1M304.4 247.5h.1M309.2 242.1h.1M304.7 244.3h.1M318.0 242.5h.1M308.8 241.5h.1M305.3 239.6h.1M316.1 238.9h.1M308.6 244.8h.1M308.3 241.4h.1M305.8 247.7h.1M306.4 234.9h.1M322.6 244.2h.1M319.0 240.0h.1M300.1 237.1h.1M304.8 236.4h.1M310.0 245.9h.1M303.4 247.1h.1M314.4 240.7h.1M303.9 241.7h.1M312.3 245.1h.1M303.8 239.0h.1M316.8 240.3h.1M316.7 241.5h.1M319.7 242.3h.1M321.0 242.2h.1M304.2 233.6h.1M317.8 242.3h.1M309.1 237.5h.1M304.7 247.4h.1M310.9 239.5h.1M319.0 246.7h.1M322.4 244.4h.1M322.9 242.9h.1M323.6 244.2h.1M316.1 241.6h.1M317.6 244.9h.1M309.8 246.8h.1M302.2 239.8h.1M303.2 240.2h.1M312.8 241.0h.1M311.8 237.6h.1M301.5 236.4h.1M327.1 245.8h.1M309.8 247.4h.1M313.9 239.9h.1M308.4 246.1h.1M306.5 245.1h.1M304.2 241.4h.1M309.6 242.3h.1M311.9 242.7h.1M320.5 241.6h.1M303.6 237.9h.1M303.3 239.3h.1M311.6 238.5h.1M308.8 241.3h.1M300.8 232.3h.1M309.3 238.1h.1M313.0 240.7h.1M318.7 242.4h.1M325.3 244.9h.1M306.7 237.9h.1M325.2 246.7h.1M304.4 243.0h.1M306.8 241.3h.1M328.9 246.3h.1M301.0 238.7h.1M312.4 237.6h.1M325.9 243.2h.1M305.4 243.3h.1M303.9 234.8h.1M304.8 238.1h.1M315.1 246.1h.1M309.8 242.3h.1M302.0 245.6h.1M303.3 237.0h.1M318.7 242.2h.1M309.9 242.2h.1M313.8 238.2h.1M325.5 245.3h.1M311.2 237.8h.1M310.9 247.1h.1M303.4 234.9h.1M310.0 238.6h.1M312.7 244.4h.1M307.0 243.0h.1M300.3 232.6h.1M301.4 237.1h.1M325.6 245.4h.1M307.1 247.0h.1M302.3 245.6h.1M302.9 240.9h.1M299.3 239.3h.1M301.4 239.4h.1M300.4 237.8h.1M304.0 240.1h.1M301.0 240.2h.1M305.3 238.7h.1M305.6 237.1h.1M306.0 244.3h.1M299.9 243.6h.1M304.8 236.6h.1M300.7 242.9h.1M300.8 239.9h.1M301.5 242.9h.1M303.7 248.6h.1M300.4 255.8h.1M300.4 250.1h.1M301.0 234.1h.1M300.1 239.6h.1M304.6 231.3h.1M299.5 240.7h.1M303.4 243.3h.1M304.0 240.5h.1M300.7 247.3h.1M306.6 243.2h.1M301.9 237.1h.1M307.7 243.3h.1M303.3 233.4h.1M303.2 253.3h.1M300.9 240.3h.1M306.0 240.4h.1M303.9 250.9h.1M297.9 237.2h.1M303.4 241.9h.1M301.5 240.5h.1M301.8 243.1h.1M300.0 239.9h.1M302.1 235.9h.1M302.7 230.5h.1M303.3 240.7h.1M297.9 248.0h.1M297.9 251.5h.1M299.2 247.3h.1M301.2 249.3h.1M300.7 246.4h.1M300.5 232.0h.1M302.6 243.7h.1M302.6 249.6h.1M299.2 234.2h.1M302.2 237.9h.1M301.1 241.3h.1M299.0 246.7h.1M301.1 250.2h.1M302.2 246.6h.1M300.5 238.1h.1M299.8 237.0h.1M302.8 242.0h.1M298.2 233.7h.1M298.8 232.3h.1M298.8 233.8h.1M303.5 235.6h.1M299.7 240.7h.1M301.5 243.4h.1M303.7 244.5h.1M300.4 247.5h.1M302.5 237.8h.1M305.9 235.5h.1M302.8 247.5h.1M301.8 243.0h.1M301.8 244.6h.1M302.1 241.4h.1M303.5 231.9h.1M302.2 239.8h.1M307.3 242.8h.1M299.5 244.6h.1M300.3 235.4h.1M300.6 243.8h.1M305.0 246.5h.1M302.1 240.5h.1M302.0 247.3h.1M301.0 247.1h.1M299.1 241.3h.1M303.7 244.8h.1M302.0 238.8h.1M296.1 239.1h.1M298.9 239.3h.1M306.1 237.5h.1M303.9 241.2h.1M298.1 241.9h.1M303.6 235.4h.1M298.0 239.4h.1M303.6 238.3h.1M302.7 243.6h.1M301.5 243.5h.1M305.2 240.4h.1M302.4 236.0h.1M299.3 240.8h.1M303.8 238.0h.1M297.3 245.9h.1M308.4 228.6h.1M298.3 241.9h.1M302.9 236.6h.1M302.4 246.7h.1M300.6 244.9h.1M301.8 236.7h.1M299.6 238.3h.1M305.3 247.0h.1M302.1 233.6h.1M300.0 239.3h.1M295.7 241.2h.1M302.3 234.8h.1M300.2 239.1h.1M306.9 244.6h.1M303.7 241.7h.1M297.6 245.9h.1M299.4 231.8h.1M303.6 239.6h.1M301.4 243.9h.1M300.7 243.3h.1M338.2 231.4h.1M315.6 232.4h.1M329.3 231.1h.1M321.6 230.3h.1M319.4 233.9h.1M309.2 231.8h.1M300.4 230.2h.1M321.5 233.9h.1M306.3 232.0h.1M307.7 233.2h.1M324.1 233.6h.1M317.6 228.1h.1M312.8 228.3h.1M311.2 232.1h.1M335.2 230.4h.1M309.9 232.9h.1M292.2 238.2h.1M299.4 235.3h.1M333.8 235.2h.1M319.0 234.5h.1M315.7 235.1h.1M311.5 229.9h.1M325.6 231.0h.1M329.6 229.8h.1M324.1 229.4h.1M319.0 238.7h.1M305.8 228.7h.1M298.6 231.6h.1M342.6 231.0h.1M333.1 231.8h.1M311.8 238.2h.1M335.2 226.9h.1M307.1 233.5h.1M329.3 231.6h.1M324.7 233.9h.1M315.7 235.3h.1M308.9 234.5h.1M332.9 232.9h.1M315.7 232.2h.1M290.2 233.1h.1M301.1 226.4h.1M330.8 229.6h.1M325.3 232.4h.1M296.5 229.6h.1M316.7 233.7h.1M321.4 228.6h.1M313.2 232.6h.1M303.2 231.0h.1M313.0 226.0h.1M343.9 234.9h.1M314.1 235.1h.1M306.3 236.8h.1M315.4 232.7h.1M312.6 232.6h.1M324.9 232.4h.1M309.2 234.5h.1M328.0 232.3h.1M334.7 230.1h.1M337.8 231.8h.1M341.0 231.0h.1M317.0 232.9h.1M335.3 236.6h.1M314.2 230.2h.1M330.8 236.0h.1M330.0 231.3h.1M337.7 232.2h.1M322.7 234.1h.1M312.7 225.6h.1M323.4 234.4h.1M326.4 233.9h.1M322.6 235.4h.1M322.0 236.7h.1M321.1 234.7h.1M313.0 233.2h.1M326.2 232.7h.1M341.4 232.4h.1M335.6 233.3h.1M335.2 229.6h.1M315.5 235.2h.1M309.3 233.5h.1M328.1 232.9h.1M326.3 233.9h.1M317.2 233.5h.1M313.4 231.0h.1M298.9 232.0h.1M297.4 232.4h.1M323.3 229.1h.1M321.4 233.2h.1M315.7 229.6h.1M318.9 233.5h.1M333.0 238.0h.1M293.7 233.3h.1M326.3 230.4h.1M324.8 238.5h.1M322.0 236.3h.1M334.8 231.0h.1M289.1 235.7h.1M341.3 227.1h.1M317.7 230.2h.1M323.2 232.5h.1M335.9 230.6h.1M346.5 227.2h.1M323.4 240.2h.1M319.1 234.2h.1M314.0 242.1h.1M332.5 231.3h.1M294.5 232.9h.1M330.4 226.3h.1M313.8 234.0h.1M287.9 231.7h.1M298.9 228.3h.1M325.9 235.7h.1M336.2 230.4h.1M327.3 227.1h.1M300.4 233.9h.1M315.0 229.3h.1M295.1 231.6h.1M350.7 226.3h.1M306.3 235.6h.1M294.4 230.5h.1" stroke="#2b3592" stroke-width="0.9" stroke-linecap="round" opacity="0.6" fill="none"/>
<rect x="285.4" y="215.3" width="79.2" height="80.8" fill="none" stroke="#8a8a8a" stroke-width="0.8"/>
<path d="M283.9 226.8h1.5M296.7 296.1v1.5M283.9 238.4h1.5M308.0 296.1v1.5M283.9 249.9h1.5M319.3 296.1v1.5M283.9 261.5h1.5M330.7 296.1v1.5M283.9 273.0h1.5M342.0 296.1v1.5M283.9 284.6h1.5M353.3 296.1v1.5" stroke="#222" stroke-width="0.8"/>
<polygon points="296.9,222.3 353.9,221.1 356.9,226.5 352.9,241.8 321.4,249.8 300.4,247.8" fill="none" stroke="#333" stroke-width="0.8"/>
<polygon points="321.9,249.3 353.9,241.8 357.7,255.8 341.9,278.8" fill="none" stroke="#333" stroke-width="0.8"/>
<text x="285.8" y="221.1" font-size="6" font-weight="bold" fill="#1a1a1a" textLength="67" lengthAdjust="spacingAndGlyphs">Recruited Phagocytes</text>
<text x="285.8" y="228.6" font-size="6.2" font-weight="bold" fill="#1a1a1a" textLength="17.4" lengthAdjust="spacingAndGlyphs">28.8%</text>
<text x="360.6" y="274.3" font-size="6.2" text-anchor="end" font-weight="bold" fill="#1a1a1a" textLength="8.6" lengthAdjust="spacingAndGlyphs">KC</text>
<text x="360.6" y="281.7" font-size="6.2" text-anchor="end" font-weight="bold" fill="#1a1a1a" textLength="17.5" lengthAdjust="spacingAndGlyphs">68.8%</text>
<text x="286.6" y="293.6" font-size="7.3" font-weight="bold" fill="#1a1a1a">HbS+Hx+AC</text>
<rect x="404" y="372.8" width="5.8" height="5.2" fill="#8cc63f"/><rect x="424.2" y="372.8" width="5.8" height="5.2" fill="#e5007d"/><rect x="470.4" y="372.8" width="5.8" height="5.2" fill="#4a3d98"/>
<text x="412.7" y="377.6" font-size="6" fill="#333" textLength="8.6" lengthAdjust="spacingAndGlyphs">KC</text>
<text x="432.9" y="377.6" font-size="6" fill="#333" textLength="33.7" lengthAdjust="spacingAndGlyphs">Ly6C+ Mono</text>
<text x="479" y="377.6" font-size="6" fill="#333" textLength="31" lengthAdjust="spacingAndGlyphs">Neutrophils</text>
<path d="M397.7 386V496.2H508" fill="none" stroke="#111" stroke-width="1.1"/>
<path d="M397.7 381.5l-2.3 5h4.6z M512.5 496.2l-5 -2.3v4.6z" fill="#111"/>
<text x="390.6" y="440" font-size="7" stroke="#3a3a3a" stroke-width="0.1" text-anchor="middle" fill="#3a3a3a" transform="rotate(-90 390.6 440)">CD11b</text>
<text x="452" y="505.8" font-size="7.4" stroke="#3a3a3a" stroke-width="0.1" text-anchor="middle" fill="#3a3a3a">F4/80</text>
<defs><linearGradient id="kcg0" x1="0" y1="0" x2="0.3" y2="1"><stop offset="0" stop-color="#eef8e6"/><stop offset="0.35" stop-color="#8ed46a"/><stop offset="0.65" stop-color="#45b02c"/><stop offset="1" stop-color="#3a9e28"/></linearGradient><linearGradient id="kcg1" x1="0" y1="0" x2="0.3" y2="1"><stop offset="0" stop-color="#eef8e6"/><stop offset="0.2" stop-color="#8ed46a"/><stop offset="0.5" stop-color="#45b02c"/><stop offset="1" stop-color="#3a9e28"/></linearGradient><linearGradient id="kcg2" x1="0" y1="0" x2="0.3" y2="1"><stop offset="0" stop-color="#eef8e6"/><stop offset="0.35" stop-color="#8ed46a"/><stop offset="0.65" stop-color="#45b02c"/><stop offset="1" stop-color="#3a9e28"/></linearGradient><linearGradient id="kcg3" x1="0" y1="0" x2="0.3" y2="1"><stop offset="0" stop-color="#eef8e6"/><stop offset="0.12" stop-color="#8ed46a"/><stop offset="0.4" stop-color="#45b02c"/><stop offset="1" stop-color="#3a9e28"/></linearGradient></defs>
<g filter="url(#bl2)"><polygon points="419.5,399.8 440.0,396.3 445.0,399.6 442.0,403.3 432.5,411.8 420.0,411.3" fill="#b6aee0" opacity="0.4"/><ellipse cx="433.5" cy="401.8" rx="8" ry="4" transform="rotate(-25 433.5 401.8)" fill="#b890d8" opacity="0.5"/><polygon points="434.5,411.3 445.0,403.8 446.5,404.8 446.5,409.8 442.5,421.3 437.0,424.3" fill="url(#kcg0)" opacity="0.95"/></g>
<path d="M435.8 399.9h.1M439.8 397.4h.1M434.6 396.7h.1M425.2 399.0h.1M433.5 398.5h.1M428.6 398.1h.1M437.5 399.1h.1M435.0 398.6h.1M432.4 398.7h.1M438.3 400.7h.1M436.3 399.7h.1M431.0 399.2h.1M429.7 398.4h.1M441.5 401.9h.1M427.3 398.4h.1M432.8 399.8h.1M427.4 398.3h.1M435.4 397.6h.1M430.9 398.2h.1M439.2 400.3h.1M434.2 398.0h.1M437.2 397.0h.1M436.8 399.3h.1M433.4 399.0h.1M435.9 396.6h.1M427.8 397.9h.1M434.0 397.1h.1M439.0 401.8h.1M433.5 399.9h.1M434.6 399.1h.1M441.9 400.7h.1M434.1 400.7h.1M439.7 398.2h.1M429.7 399.7h.1M426.3 399.5h.1M438.4 401.7h.1M438.7 397.6h.1M430.2 399.8h.1M437.6 401.5h.1M435.8 397.0h.1M425.7 399.7h.1M437.3 397.6h.1M421.1 398.6h.1M428.9 399.9h.1M438.8 397.1h.1M434.7 397.7h.1M438.7 398.8h.1M427.8 398.0h.1M432.1 397.4h.1M421.7 399.0h.1M432.2 400.3h.1M440.7 396.9h.1M425.8 399.4h.1M439.0 401.5h.1M425.8 398.0h.1M437.4 401.5h.1M440.4 397.1h.1M439.3 396.1h.1M437.8 396.7h.1M439.2 400.9h.1M423.6 405.2h.1M423.1 400.6h.1M431.9 406.8h.1M439.8 402.2h.1M428.0 401.2h.1M432.8 403.2h.1M435.6 401.9h.1M427.9 404.5h.1M434.0 403.8h.1M427.1 400.4h.1M421.6 410.1h.1M427.8 402.8h.1M427.8 402.1h.1M423.5 402.0h.1M431.5 403.5h.1M431.3 400.9h.1M420.1 404.5h.1M424.3 401.8h.1M429.4 401.1h.1M432.2 406.7h.1M426.7 401.8h.1M420.3 407.6h.1M439.2 403.2h.1M429.0 401.9h.1M423.0 409.6h.1M422.3 401.0h.1M422.4 404.0h.1M433.5 405.6h.1M421.0 406.5h.1M433.4 406.5h.1M428.7 403.8h.1M419.6 402.1h.1M426.2 402.5h.1M427.0 407.3h.1M429.4 402.9h.1M437.7 401.9h.1M433.6 406.4h.1M430.7 407.3h.1M426.6 405.4h.1M433.2 402.4h.1M422.1 408.5h.1M430.4 403.5h.1M420.6 410.2h.1M431.1 400.9h.1M430.6 406.6h.1M419.8 400.8h.1M431.5 407.0h.1M426.8 400.7h.1M427.3 404.6h.1M422.0 407.0h.1M424.8 406.6h.1M436.5 401.8h.1M431.6 405.5h.1M422.0 403.2h.1M423.4 403.8h.1M438.1 404.3h.1M425.4 406.4h.1M441.7 403.1h.1M421.7 407.5h.1M430.5 403.3h.1" stroke="#8a7fd0" stroke-width="0.7" stroke-linecap="round" opacity="0.5" fill="none"/>
<path d="M439.5 417.1h.1M434.9 413.1h.1M439.7 421.1h.1M440.3 411.1h.1M438.3 417.7h.1M440.6 419.8h.1M441.5 412.3h.1M441.2 413.1h.1M442.1 414.4h.1M435.7 414.5h.1M438.7 410.8h.1M440.9 420.0h.1M438.4 418.4h.1M441.8 413.7h.1M439.8 411.4h.1M439.8 419.6h.1M439.9 419.6h.1M443.7 409.8h.1M444.0 411.6h.1M436.6 416.4h.1M440.4 420.2h.1M440.7 410.9h.1M439.9 422.7h.1M441.6 415.3h.1M445.4 407.4h.1M441.9 414.0h.1M438.6 412.6h.1M438.6 410.9h.1M439.9 416.8h.1M443.3 411.2h.1M437.4 414.1h.1M442.1 412.9h.1M439.5 412.9h.1M438.2 415.9h.1M443.2 410.7h.1M439.4 414.9h.1M444.7 409.9h.1M439.6 419.7h.1M440.7 415.9h.1M441.7 420.0h.1M437.6 415.2h.1M442.7 410.4h.1M440.2 421.3h.1M443.6 410.0h.1M435.9 415.0h.1M443.1 411.5h.1M438.4 411.4h.1M441.1 410.0h.1M441.9 410.6h.1M443.0 411.7h.1M440.4 417.5h.1M441.0 410.4h.1M439.4 416.7h.1M442.1 413.8h.1M439.0 415.7h.1M442.2 411.1h.1M441.5 416.4h.1M438.3 418.1h.1M438.9 410.8h.1M442.8 413.0h.1M438.7 417.2h.1M444.0 412.4h.1M439.9 415.0h.1M435.5 412.9h.1M442.6 413.8h.1M442.6 411.4h.1M444.1 411.3h.1M442.4 415.8h.1M441.0 418.1h.1M440.3 409.5h.1M438.6 413.2h.1M435.0 413.3h.1M441.3 416.6h.1M441.9 418.7h.1M441.5 413.4h.1M439.5 418.6h.1M439.4 413.3h.1M437.6 414.0h.1M442.9 409.8h.1M436.3 412.8h.1M443.6 411.3h.1M441.2 412.3h.1M442.5 417.5h.1M439.8 411.0h.1M439.2 414.9h.1M440.6 410.8h.1M441.1 413.4h.1M438.9 411.8h.1M442.5 411.3h.1M439.5 421.2h.1M439.8 419.4h.1M440.3 417.8h.1M438.9 411.9h.1M443.4 414.4h.1M442.3 418.0h.1M442.2 410.9h.1M444.2 410.9h.1M444.6 407.3h.1M437.5 411.5h.1M437.9 417.6h.1M436.5 411.8h.1M441.0 422.1h.1M439.0 420.4h.1M440.7 418.1h.1M437.2 414.6h.1M442.2 412.4h.1M436.9 412.5h.1M442.9 414.8h.1M439.9 417.3h.1M437.3 415.6h.1M441.6 410.6h.1M440.6 420.6h.1M435.8 413.2h.1M439.2 420.4h.1M436.7 416.0h.1M435.8 414.1h.1M437.9 415.9h.1M436.5 414.7h.1M443.7 410.2h.1M437.9 418.7h.1M439.6 410.9h.1M437.5 416.0h.1M436.7 416.7h.1M442.7 409.9h.1M441.4 410.3h.1M442.0 413.7h.1M442.2 413.5h.1M436.0 415.1h.1M437.3 412.5h.1M439.7 420.7h.1M436.4 416.1h.1M441.3 420.3h.1M440.0 418.6h.1M440.8 420.2h.1M441.2 416.5h.1M438.7 414.1h.1M439.0 413.2h.1M436.8 416.5h.1M441.5 415.5h.1M441.9 414.4h.1M438.1 417.0h.1M438.1 418.3h.1" stroke="#3d9a26" stroke-width="0.7" stroke-linecap="round" opacity="0.5" fill="none"/>
<rect x="403.5" y="382.8" width="54" height="52.8" fill="none" stroke="#888" stroke-width="0.7"/>
<path d="M402.3 391.6h1.2M412.5 435.6v1.2M402.3 400.4h1.2M421.5 435.6v1.2M402.3 409.2h1.2M430.5 435.6v1.2M402.3 418.0h1.2M439.5 435.6v1.2M402.3 426.8h1.2M448.5 435.6v1.2" stroke="#222" stroke-width="0.8"/>
<polygon points="417.9,398.8 440.5,394.7 446.7,399.3 443.0,403.8 432.9,413.0 418.7,412.6" fill="none" stroke="#555" stroke-width="0.6"/>
<polygon points="433.5,411.3 444.5,402.8 447.3,403.4 447.9,409.3 443.3,422.8 436.3,425.8" fill="none" stroke="#555" stroke-width="0.6"/>
<text x="406.3" y="390.5" font-size="4.3" font-weight="bold" textLength="47.4" lengthAdjust="spacingAndGlyphs">Recruited Phagocytes</text>
<text x="406.3" y="396.1" font-size="4.4" font-weight="bold" textLength="11.5" lengthAdjust="spacingAndGlyphs">10.4%</text>
<text x="451.3" y="425" font-size="4.5" text-anchor="end" font-weight="bold">KC</text>
<text x="451.8" y="429.6" font-size="4.5" text-anchor="end" font-weight="bold">87%</text>
<text x="404.8" y="434.5" font-size="7" font-weight="bold" fill="#111">NT</text>
<g filter="url(#bl2)"><polygon points="473.8,399.8 494.3,396.3 499.3,399.6 496.3,403.3 486.8,411.8 474.3,411.3" fill="#5a3ea8" opacity="0.85"/><ellipse cx="487.8" cy="401.8" rx="8" ry="4" transform="rotate(-25 487.8 401.8)" fill="#9a3aa8" opacity="0.6"/><polygon points="488.8,411.3 499.3,403.8 500.8,404.8 500.8,409.8 496.8,421.3 491.3,424.3" fill="url(#kcg1)" opacity="0.95"/></g>
<path d="M482.1 399.8h.1M495.2 398.9h.1M487.3 397.4h.1M491.3 399.2h.1M491.4 400.5h.1M477.8 399.0h.1M493.4 399.6h.1M492.2 400.2h.1M495.0 400.4h.1M489.5 398.5h.1M492.0 399.1h.1M490.3 399.0h.1M494.3 400.0h.1M492.2 399.0h.1M494.9 400.4h.1M495.7 401.7h.1M492.4 399.6h.1M489.5 399.1h.1M482.5 397.6h.1M493.9 399.8h.1M483.3 398.0h.1M489.3 399.2h.1M492.4 397.7h.1M494.8 396.6h.1M495.0 399.1h.1M491.2 399.7h.1M495.0 402.3h.1M489.4 401.0h.1M484.0 399.0h.1M485.1 400.7h.1M488.7 399.4h.1M484.6 399.1h.1M492.5 396.3h.1M494.7 400.6h.1M493.1 396.2h.1M494.8 396.5h.1M487.3 400.2h.1M487.5 401.0h.1M483.1 397.5h.1M491.6 398.0h.1M494.9 401.5h.1M492.3 401.1h.1M484.7 399.4h.1M485.4 400.3h.1M487.7 398.8h.1M481.2 398.5h.1M487.7 399.2h.1M491.2 396.4h.1M496.1 399.3h.1M493.8 401.1h.1M496.0 401.2h.1M494.2 396.8h.1M482.6 398.2h.1M481.9 399.2h.1M484.1 399.7h.1M489.4 401.2h.1M492.5 398.0h.1M477.5 398.9h.1M492.7 401.1h.1M481.9 399.0h.1M479.7 398.1h.1M493.3 398.1h.1M488.4 398.2h.1M488.6 399.2h.1M494.5 397.4h.1M485.0 400.1h.1M490.0 396.7h.1M483.8 400.2h.1M492.1 397.6h.1M494.3 397.0h.1M494.6 395.9h.1M496.8 401.5h.1M489.7 401.0h.1M496.0 401.9h.1M494.2 401.2h.1M489.2 400.4h.1M490.4 396.7h.1M491.6 397.2h.1M485.7 398.3h.1M488.3 400.7h.1M490.6 397.1h.1M482.4 399.6h.1M492.5 398.7h.1M492.0 399.7h.1M495.4 398.8h.1M489.0 397.7h.1M480.4 399.8h.1M493.4 401.2h.1M480.7 399.5h.1M490.0 398.2h.1M481.4 398.3h.1M495.3 400.9h.1M486.5 400.6h.1M491.0 397.3h.1M486.9 400.4h.1M485.1 399.2h.1M495.3 399.0h.1M479.6 399.5h.1M483.1 397.6h.1M495.4 401.4h.1M493.1 398.4h.1M490.4 400.7h.1M496.3 401.7h.1M476.2 398.5h.1M491.1 400.4h.1M492.0 398.7h.1M482.7 399.5h.1M478.9 399.3h.1M486.9 400.7h.1M485.8 397.5h.1M495.9 398.8h.1M496.4 402.5h.1M488.7 397.0h.1M493.5 401.9h.1M489.0 399.3h.1M489.2 400.0h.1M487.0 398.2h.1M483.6 397.9h.1M480.6 398.0h.1M494.8 398.8h.1M488.1 397.8h.1M486.7 399.3h.1M485.1 400.0h.1M493.2 401.2h.1M495.0 402.2h.1M495.2 401.9h.1M490.5 400.3h.1M481.3 398.2h.1M496.8 401.8h.1M493.4 400.2h.1M477.8 405.5h.1M496.3 402.8h.1M481.0 406.0h.1M476.6 406.1h.1M491.8 403.7h.1M476.4 408.2h.1M480.8 400.7h.1M493.8 404.1h.1M494.0 403.2h.1M494.3 403.1h.1M475.1 407.6h.1M485.0 405.9h.1M475.6 409.2h.1M474.0 404.4h.1M478.4 409.3h.1M473.9 402.4h.1M485.1 403.5h.1M476.7 405.0h.1M474.1 400.4h.1M479.8 403.4h.1M477.8 410.3h.1M491.0 402.9h.1M475.5 400.4h.1M479.1 409.6h.1M479.4 403.7h.1M489.0 402.1h.1M477.4 402.4h.1M484.4 404.0h.1M480.1 402.0h.1M480.0 408.6h.1M487.7 405.2h.1M484.6 406.7h.1M477.5 410.4h.1M478.3 402.4h.1M476.0 402.2h.1M479.8 402.3h.1M483.0 401.2h.1M484.0 403.5h.1M485.2 404.6h.1M488.7 404.1h.1M490.0 405.2h.1M488.0 401.5h.1M485.5 402.5h.1M482.3 402.1h.1M482.5 400.3h.1M474.7 404.5h.1M478.5 409.4h.1M480.9 408.6h.1M489.5 401.6h.1M488.5 405.5h.1M479.9 408.2h.1M489.0 404.1h.1M490.9 402.6h.1M475.1 410.6h.1M475.5 399.8h.1M473.9 402.2h.1M484.1 406.6h.1M485.0 401.4h.1M474.6 406.3h.1M478.6 406.6h.1M487.6 403.6h.1M475.7 404.1h.1M475.8 406.1h.1M476.9 406.3h.1M478.2 403.8h.1M485.0 402.7h.1M475.5 400.7h.1M485.5 401.4h.1M481.6 407.9h.1M483.3 405.3h.1M480.4 401.7h.1M482.2 406.5h.1M487.5 404.3h.1M485.9 402.9h.1M480.2 407.1h.1M481.8 404.9h.1M479.9 408.2h.1M479.4 405.2h.1M479.9 401.4h.1M482.8 402.3h.1M475.0 401.4h.1M478.1 404.8h.1M479.7 403.6h.1M477.1 408.8h.1M486.2 406.7h.1M474.2 400.3h.1M478.6 409.9h.1M492.6 403.1h.1M493.9 402.3h.1M477.8 409.9h.1M483.7 402.1h.1M491.5 403.0h.1M479.3 403.4h.1M474.8 411.2h.1M480.8 406.0h.1M485.2 406.5h.1M487.5 401.9h.1M477.3 405.6h.1M476.2 405.7h.1M478.3 405.2h.1M480.5 403.1h.1M477.7 403.2h.1M474.6 403.8h.1M478.3 407.5h.1M479.8 400.8h.1M489.6 402.9h.1M477.2 408.2h.1M474.6 411.0h.1M491.8 403.7h.1M475.2 399.3h.1M474.3 408.4h.1M495.6 402.6h.1M477.4 400.0h.1M483.6 404.6h.1M493.2 404.4h.1M476.3 407.4h.1M477.2 407.9h.1M476.9 401.9h.1M474.1 408.4h.1M487.0 405.4h.1M473.8 404.7h.1M476.6 408.0h.1M481.4 405.5h.1M488.6 403.6h.1M475.3 406.2h.1M484.7 401.7h.1M479.1 409.6h.1M483.0 408.1h.1M482.9 401.1h.1M474.0 405.9h.1" stroke="#3e2a94" stroke-width="0.7" stroke-linecap="round" opacity="0.5" fill="none"/>
<path d="M491.4 413.5h.1M494.4 422.7h.1M493.9 418.0h.1M490.9 415.0h.1M497.6 411.8h.1M493.9 412.6h.1M492.7 413.9h.1M498.3 413.1h.1M492.6 416.5h.1M496.4 418.9h.1M491.2 412.9h.1M492.4 419.1h.1M497.1 415.7h.1M496.6 411.0h.1M494.8 417.8h.1M496.6 415.5h.1M493.0 418.1h.1M498.1 408.3h.1M495.0 410.0h.1M492.3 413.5h.1M494.4 411.9h.1M493.8 420.0h.1M492.9 411.5h.1M497.7 410.8h.1M494.9 410.8h.1M495.5 414.0h.1M496.7 410.6h.1M495.0 411.2h.1M490.6 414.4h.1M495.2 413.7h.1M497.3 412.9h.1M498.2 413.3h.1M491.7 417.1h.1M491.7 417.3h.1M496.6 417.3h.1M492.3 418.5h.1M496.9 410.7h.1M495.2 420.3h.1M498.6 411.4h.1M497.7 410.4h.1M495.8 410.7h.1M492.8 416.3h.1M494.4 422.0h.1M493.2 417.7h.1M495.3 413.5h.1M494.0 416.6h.1M493.0 412.7h.1M493.8 411.8h.1M497.1 414.2h.1M497.7 410.4h.1M495.6 418.7h.1M494.2 422.5h.1M495.8 415.9h.1M490.2 414.3h.1M496.6 418.3h.1M492.6 416.0h.1M494.8 412.8h.1M489.8 414.6h.1M494.5 417.6h.1M496.2 415.0h.1M498.3 412.8h.1M495.7 418.5h.1M492.2 415.4h.1M493.2 410.9h.1M495.3 417.3h.1M493.0 415.4h.1M491.9 418.4h.1M495.8 420.3h.1M497.5 415.6h.1M494.5 411.6h.1M495.9 410.1h.1M495.9 417.3h.1M498.0 411.8h.1M492.3 417.8h.1M491.1 415.8h.1M490.9 412.0h.1M492.2 413.2h.1M495.7 415.3h.1M495.3 420.7h.1M493.9 417.6h.1M495.9 418.0h.1M493.2 417.4h.1M491.6 412.2h.1M492.7 415.3h.1M493.8 417.0h.1M494.4 415.3h.1M489.9 412.9h.1M498.9 407.7h.1M494.2 419.8h.1M493.2 419.4h.1M491.1 414.6h.1M492.8 413.7h.1M494.5 418.4h.1M495.8 416.8h.1M490.3 415.0h.1M497.1 412.2h.1M496.1 414.1h.1M490.2 415.2h.1M496.1 418.7h.1M492.0 416.3h.1M493.9 415.1h.1M492.1 414.6h.1M495.3 412.6h.1M497.6 412.1h.1M494.7 413.9h.1M493.3 416.2h.1M496.4 409.9h.1M500.0 406.4h.1M495.9 418.1h.1M493.8 420.2h.1" stroke="#3d9a26" stroke-width="0.7" stroke-linecap="round" opacity="0.5" fill="none"/>
<rect x="457.8" y="382.8" width="54" height="52.8" fill="none" stroke="#888" stroke-width="0.7"/>
<path d="M456.6 391.6h1.2M466.8 435.6v1.2M456.6 400.4h1.2M475.8 435.6v1.2M456.6 409.2h1.2M484.8 435.6v1.2M456.6 418.0h1.2M493.8 435.6v1.2M456.6 426.8h1.2M502.8 435.6v1.2" stroke="#222" stroke-width="0.8"/>
<polygon points="472.2,398.8 494.8,394.7 501.0,399.3 497.3,403.8 487.2,413.0 473.0,412.6" fill="none" stroke="#555" stroke-width="0.6"/>
<polygon points="487.8,411.3 498.8,402.8 501.6,403.4 502.2,409.3 497.6,422.8 490.6,425.8" fill="none" stroke="#555" stroke-width="0.6"/>
<text x="460.6" y="390.5" font-size="4.3" font-weight="bold" textLength="47.4" lengthAdjust="spacingAndGlyphs">Recruited Phagocytes</text>
<text x="460.6" y="396.1" font-size="4.4" font-weight="bold" textLength="11.5" lengthAdjust="spacingAndGlyphs">39.2%</text>
<text x="505.6" y="425" font-size="4.5" text-anchor="end" font-weight="bold">KC</text>
<text x="506.1" y="429.6" font-size="4.5" text-anchor="end" font-weight="bold">57.9%</text>
<text x="459.1" y="434.5" font-size="7" font-weight="bold" fill="#111">+Heme</text>
<g filter="url(#bl2)"><polygon points="419.5,453.2 440.0,449.7 445.0,453.0 442.0,456.7 432.5,465.2 420.0,464.7" fill="#c4a4dc" opacity="0.45"/><ellipse cx="433.5" cy="455.2" rx="8" ry="4" transform="rotate(-25 433.5 455.2)" fill="#c86cc0" opacity="0.7"/><polygon points="434.5,464.7 445.0,457.2 446.5,458.2 446.5,463.2 442.5,474.7 437.0,477.7" fill="url(#kcg2)" opacity="0.95"/></g>
<path d="M433.2 453.4h.1M434.0 454.0h.1M434.9 452.2h.1M431.0 452.5h.1M435.2 454.4h.1M429.1 453.8h.1M438.2 455.2h.1M432.0 452.8h.1M428.3 452.1h.1M436.9 453.4h.1M428.9 452.5h.1M438.7 455.1h.1M439.3 451.3h.1M440.3 455.6h.1M428.4 452.8h.1M439.0 450.9h.1M422.7 452.4h.1M426.4 452.4h.1M430.8 451.0h.1M427.8 452.1h.1M425.2 452.4h.1M427.4 451.4h.1M437.8 450.7h.1M436.8 453.5h.1M437.7 449.7h.1M436.2 453.2h.1M441.5 455.7h.1M438.6 450.2h.1M430.5 453.8h.1M437.9 451.1h.1M437.1 454.9h.1M438.8 450.8h.1M434.0 454.4h.1M434.2 452.7h.1M432.7 453.5h.1M438.8 454.6h.1M435.7 453.1h.1M433.1 454.2h.1M434.5 450.5h.1M433.0 452.5h.1M440.8 453.0h.1M438.5 454.6h.1M426.7 453.0h.1M432.4 450.5h.1M438.2 450.9h.1M440.1 453.9h.1M441.0 454.7h.1M439.7 449.9h.1M441.4 453.1h.1M438.9 450.9h.1M432.6 453.2h.1M425.0 451.8h.1M434.1 452.6h.1M432.3 452.4h.1M437.2 451.1h.1M438.7 451.5h.1M433.1 453.8h.1M428.3 453.5h.1M440.8 454.0h.1M432.2 454.3h.1M440.7 453.6h.1M434.7 451.3h.1M437.2 452.7h.1M438.9 450.6h.1M439.1 454.2h.1M433.4 451.1h.1M430.5 453.9h.1M428.9 452.7h.1M439.3 453.2h.1M428.0 451.0h.1M426.7 452.9h.1M441.6 455.0h.1M438.9 453.6h.1M434.3 452.7h.1M434.2 452.6h.1M438.8 455.3h.1M434.4 452.2h.1M435.7 453.6h.1M430.5 453.1h.1M426.3 452.6h.1M432.2 458.6h.1M422.1 464.0h.1M420.9 457.8h.1M426.5 454.1h.1M426.6 459.1h.1M436.0 458.3h.1M434.4 456.0h.1M428.3 460.9h.1M424.6 463.3h.1M421.2 462.4h.1M423.1 460.9h.1M431.0 454.4h.1M425.3 456.3h.1M438.6 457.7h.1M420.7 461.3h.1M424.2 462.1h.1M433.4 457.1h.1M421.7 458.9h.1M429.3 456.5h.1M430.9 460.7h.1M426.4 460.2h.1M433.3 458.4h.1M423.2 455.7h.1M420.2 457.6h.1M419.9 454.7h.1M429.5 460.2h.1M419.8 453.5h.1M421.2 463.0h.1M419.9 455.6h.1M420.6 460.4h.1M428.4 457.8h.1M424.4 456.7h.1M423.8 461.5h.1M424.4 458.3h.1M420.4 461.1h.1M428.6 455.5h.1M425.3 457.1h.1M423.0 454.8h.1M427.1 461.9h.1M420.3 460.9h.1M422.4 455.2h.1M426.2 460.4h.1M426.3 454.0h.1M425.0 454.2h.1M422.9 458.1h.1M421.4 456.2h.1M422.6 457.4h.1M424.8 458.9h.1M436.6 456.9h.1M422.0 463.2h.1M419.5 452.7h.1M434.3 456.3h.1M420.8 455.9h.1M428.2 461.8h.1M425.1 461.7h.1M430.9 455.3h.1M423.2 463.2h.1M436.1 458.8h.1M433.2 458.2h.1M426.4 454.5h.1M435.5 458.2h.1M424.4 459.0h.1M431.6 455.6h.1M426.8 460.8h.1M432.9 459.6h.1M422.6 456.6h.1M429.0 454.6h.1M433.9 457.3h.1M420.3 455.0h.1M424.8 457.9h.1M420.3 462.2h.1M438.3 457.6h.1M426.3 456.2h.1M433.0 457.6h.1M420.4 460.1h.1M419.8 459.0h.1M438.1 457.1h.1M430.0 461.0h.1M423.1 455.4h.1M434.2 456.9h.1" stroke="#8f6cc4" stroke-width="0.7" stroke-linecap="round" opacity="0.5" fill="none"/>
<path d="M437.7 467.6h.1M435.9 466.9h.1M439.3 471.7h.1M439.6 463.7h.1M441.4 471.6h.1M440.5 476.6h.1M440.0 468.0h.1M440.3 475.3h.1M438.9 470.5h.1M440.2 467.5h.1M439.8 463.8h.1M439.7 463.8h.1M442.9 463.4h.1M440.1 463.8h.1M438.9 466.9h.1M440.6 467.2h.1M440.1 467.0h.1M435.9 467.5h.1M437.4 466.3h.1M445.0 462.6h.1M443.9 463.9h.1M437.4 466.8h.1M442.5 465.5h.1M435.8 467.0h.1M441.0 468.0h.1M444.1 465.2h.1M438.9 470.3h.1M436.1 466.6h.1M441.9 470.2h.1M444.3 461.2h.1M441.2 470.1h.1M441.5 464.8h.1M436.0 468.8h.1M440.0 473.1h.1M436.1 466.6h.1M440.1 474.8h.1M436.9 466.0h.1M439.8 473.3h.1M437.9 471.0h.1M443.9 464.7h.1M439.4 473.8h.1M439.2 473.6h.1M443.2 464.9h.1M439.2 474.7h.1M441.0 464.5h.1M443.6 466.6h.1M436.5 469.0h.1M435.7 468.2h.1M440.3 471.8h.1M442.8 462.5h.1M439.7 475.2h.1M442.9 467.2h.1M441.5 468.0h.1M444.1 462.3h.1M442.4 464.8h.1M438.0 464.5h.1M442.8 467.3h.1M441.9 473.1h.1M439.9 474.8h.1M439.7 466.8h.1M441.7 473.6h.1M438.1 469.3h.1M437.8 470.7h.1M439.8 471.1h.1M442.2 470.6h.1M440.7 475.4h.1M440.7 475.5h.1M441.5 472.3h.1M443.0 464.6h.1M439.9 466.6h.1M442.6 465.5h.1M442.7 465.5h.1M440.1 473.0h.1M440.9 466.2h.1M438.5 465.3h.1M443.7 464.7h.1M438.3 464.5h.1M437.8 472.1h.1M443.7 465.0h.1M441.9 467.8h.1M440.0 465.7h.1M442.0 466.7h.1M440.1 475.7h.1M440.5 469.6h.1M441.2 472.1h.1M442.9 469.8h.1M442.4 468.9h.1M441.6 466.9h.1M440.6 472.9h.1M440.5 471.1h.1M439.3 471.7h.1M439.1 466.5h.1M435.0 466.8h.1M442.0 464.6h.1M444.4 464.8h.1M439.5 471.7h.1M441.3 473.2h.1M443.0 464.5h.1M437.4 465.0h.1M440.0 463.2h.1M442.2 466.8h.1M438.4 470.9h.1M440.0 475.1h.1M439.2 463.7h.1M439.4 473.7h.1M436.2 468.4h.1M437.4 464.6h.1M439.9 467.4h.1M436.5 466.0h.1M439.3 470.0h.1M444.4 465.6h.1M440.4 467.3h.1M440.3 474.5h.1M443.7 461.0h.1M442.0 464.2h.1M439.1 473.4h.1M442.4 465.4h.1M445.4 460.0h.1M439.5 466.6h.1M441.3 471.3h.1M440.2 472.6h.1M438.7 470.3h.1M436.4 467.3h.1M442.8 467.5h.1M438.1 466.7h.1M443.4 467.4h.1M442.7 466.2h.1M436.3 465.3h.1M440.0 474.5h.1M443.9 463.0h.1M440.3 467.3h.1M439.0 472.1h.1M443.6 462.1h.1M436.3 468.4h.1M442.1 469.8h.1M437.1 467.3h.1M438.5 463.9h.1M435.7 467.2h.1" stroke="#3d9a26" stroke-width="0.7" stroke-linecap="round" opacity="0.5" fill="none"/>
<rect x="403.5" y="436.2" width="54" height="52.8" fill="none" stroke="#888" stroke-width="0.7"/>
<path d="M402.3 445.0h1.2M412.5 489.0v1.2M402.3 453.8h1.2M421.5 489.0v1.2M402.3 462.6h1.2M430.5 489.0v1.2M402.3 471.4h1.2M439.5 489.0v1.2M402.3 480.2h1.2M448.5 489.0v1.2" stroke="#222" stroke-width="0.8"/>
<polygon points="417.9,452.2 440.5,448.1 446.7,452.7 443.0,457.2 432.9,466.4 418.7,466.0" fill="none" stroke="#555" stroke-width="0.6"/>
<polygon points="433.5,464.7 444.5,456.2 447.3,456.8 447.9,462.7 443.3,476.2 436.3,479.2" fill="none" stroke="#555" stroke-width="0.6"/>
<text x="406.3" y="443.9" font-size="4.3" font-weight="bold" textLength="47.4" lengthAdjust="spacingAndGlyphs">Recruited Phagocytes</text>
<text x="406.3" y="449.5" font-size="4.4" font-weight="bold" textLength="11.5" lengthAdjust="spacingAndGlyphs">22.2%</text>
<text x="451.3" y="478.4" font-size="4.5" text-anchor="end" font-weight="bold">KC</text>
<text x="451.8" y="483" font-size="4.5" text-anchor="end" font-weight="bold">73.4%</text>
<text x="404.8" y="487.9" font-size="7" font-weight="bold" fill="#111">+AC</text>
<g filter="url(#bl2)"><polygon points="473.8,453.2 494.3,449.7 499.3,453.0 496.3,456.7 486.8,465.2 474.3,464.7" fill="#5538a8" opacity="0.95"/><ellipse cx="487.8" cy="455.2" rx="8" ry="4" transform="rotate(-25 487.8 455.2)" fill="#c02a98" opacity="0.9"/><polygon points="488.8,464.7 499.3,457.2 500.8,458.2 500.8,463.2 496.8,474.7 491.3,477.7" fill="url(#kcg3)" opacity="0.95"/></g>
<path d="M491.4 452.5h.1M488.2 454.0h.1M490.2 452.2h.1M492.8 454.9h.1M488.7 452.9h.1M496.6 455.2h.1M486.3 451.8h.1M487.3 451.1h.1M484.1 451.3h.1M495.2 455.1h.1M483.1 453.8h.1M493.0 455.1h.1M497.2 456.0h.1M487.7 450.4h.1M486.5 452.7h.1M476.0 452.5h.1M494.6 451.7h.1M493.6 454.2h.1M482.8 453.7h.1M481.1 451.4h.1M492.9 452.5h.1M496.4 453.5h.1M496.2 455.8h.1M494.6 449.5h.1M481.5 453.4h.1M495.3 454.8h.1M487.4 453.6h.1M493.5 455.1h.1M487.1 453.1h.1M488.0 451.6h.1M481.4 453.0h.1M485.3 452.2h.1M489.2 452.9h.1M486.4 452.1h.1M496.9 455.7h.1M487.0 453.1h.1M487.8 454.2h.1M483.8 452.0h.1M492.5 452.3h.1M487.1 453.0h.1M491.5 455.1h.1M487.1 454.1h.1M485.2 453.2h.1M486.4 451.5h.1M482.2 453.1h.1M488.9 451.4h.1M496.4 454.8h.1M484.1 453.3h.1M491.9 451.7h.1M487.4 451.4h.1M495.0 453.7h.1M494.1 452.2h.1M493.2 454.6h.1M483.5 452.6h.1M494.1 450.7h.1M494.1 451.1h.1M488.5 450.9h.1M493.3 455.2h.1M497.6 455.8h.1M490.1 454.9h.1M494.6 449.5h.1M482.2 451.6h.1M487.8 453.4h.1M482.8 452.7h.1M478.2 452.6h.1M486.7 452.9h.1M494.0 451.6h.1M493.5 450.4h.1M491.3 454.4h.1M493.6 452.9h.1M482.6 452.8h.1M490.5 449.9h.1M482.8 452.5h.1M479.2 453.1h.1M482.6 451.9h.1M486.1 451.3h.1M481.9 453.0h.1M482.5 452.5h.1M492.1 453.8h.1M491.9 451.6h.1M489.8 452.3h.1M486.1 452.7h.1M494.1 451.4h.1M491.3 453.4h.1M486.0 453.0h.1M484.7 451.3h.1M488.8 452.7h.1M492.8 453.2h.1M479.5 452.5h.1M483.2 451.9h.1M496.9 455.5h.1M485.1 452.5h.1M490.1 454.3h.1M479.6 452.1h.1M492.0 451.3h.1M486.1 453.7h.1M480.6 452.8h.1M491.6 452.3h.1M491.3 454.7h.1M480.2 451.7h.1M478.6 451.8h.1M476.6 452.7h.1M496.0 452.4h.1M488.1 454.0h.1M479.1 452.5h.1M480.6 451.4h.1M495.2 450.9h.1M491.6 452.9h.1M489.7 452.0h.1M477.7 451.8h.1M476.9 451.9h.1M489.1 454.6h.1M493.2 451.0h.1M476.2 451.9h.1M492.7 451.0h.1M490.5 451.6h.1M495.7 452.5h.1M488.6 453.4h.1M488.5 454.2h.1M480.7 453.3h.1M494.1 449.9h.1M493.6 453.5h.1M493.6 454.3h.1M488.9 453.5h.1M486.9 453.4h.1M484.1 453.7h.1M493.2 452.3h.1M490.6 452.8h.1M484.9 452.2h.1M483.8 451.3h.1M488.8 453.9h.1M494.1 453.7h.1M486.7 454.0h.1M479.1 451.7h.1M480.5 452.7h.1M494.1 452.2h.1M496.0 455.7h.1M488.1 453.8h.1M491.2 449.9h.1M493.8 451.5h.1M486.9 451.7h.1M493.6 455.0h.1M495.2 452.6h.1M486.1 452.2h.1M491.0 452.5h.1M494.9 449.7h.1M491.4 453.7h.1M491.0 451.6h.1M491.7 454.8h.1M482.0 451.5h.1M476.4 454.8h.1M475.0 454.3h.1M480.7 453.7h.1M485.9 456.2h.1M480.5 459.8h.1M474.3 461.3h.1M481.4 456.9h.1M483.3 460.7h.1M476.8 459.1h.1M474.6 453.9h.1M482.8 455.5h.1M485.5 460.6h.1M490.5 457.6h.1M483.6 460.3h.1M481.0 459.9h.1M478.1 461.3h.1M476.5 458.5h.1M475.1 459.4h.1M476.1 463.3h.1M474.2 462.8h.1M490.6 455.6h.1M481.7 455.4h.1M489.9 458.0h.1M478.3 459.7h.1M480.2 461.0h.1M479.2 456.5h.1M475.8 455.6h.1M479.1 455.1h.1M483.8 459.7h.1M483.5 459.7h.1M481.4 458.5h.1M486.5 456.2h.1M477.2 456.3h.1M474.1 464.1h.1M476.7 460.4h.1M477.6 458.5h.1M475.5 453.8h.1M481.8 457.2h.1M487.8 455.1h.1M485.0 458.8h.1M474.4 457.3h.1M475.6 460.1h.1M478.7 454.4h.1M475.3 455.9h.1M485.7 458.1h.1M475.2 455.0h.1M491.6 455.9h.1M482.2 457.6h.1M477.0 457.0h.1M484.7 457.3h.1M476.4 454.6h.1M484.8 454.2h.1M478.8 460.6h.1M480.5 456.6h.1M481.4 461.2h.1M480.6 460.7h.1M480.6 458.9h.1M478.3 456.5h.1M492.2 455.6h.1M482.2 455.1h.1M493.7 457.7h.1M475.6 461.0h.1M477.5 461.9h.1M478.2 457.7h.1M487.3 459.2h.1M485.4 458.5h.1M478.8 453.5h.1M482.9 461.2h.1M485.7 458.7h.1M477.8 458.8h.1M481.1 455.8h.1M481.1 454.9h.1M486.9 458.3h.1M476.6 459.3h.1M478.1 462.3h.1M494.0 457.5h.1M484.6 454.5h.1M488.2 457.9h.1M494.9 457.0h.1M479.9 455.4h.1M485.1 457.8h.1M487.6 455.1h.1M479.0 457.3h.1M490.0 455.9h.1M485.9 457.2h.1M476.0 456.6h.1M479.7 457.3h.1M481.0 457.4h.1M474.5 463.4h.1M474.8 455.5h.1M481.1 459.9h.1M476.1 458.2h.1M477.2 457.1h.1M482.1 455.1h.1M493.1 455.8h.1M493.0 456.8h.1M488.1 455.3h.1M481.2 460.2h.1M486.5 459.6h.1M474.1 460.0h.1M478.7 459.4h.1M489.4 456.8h.1M496.0 456.1h.1M483.4 457.0h.1M486.0 459.5h.1M491.1 457.1h.1M485.2 456.7h.1M477.1 455.5h.1M488.3 457.4h.1M484.8 458.5h.1M492.1 458.2h.1M482.2 453.6h.1M480.1 458.5h.1M479.1 462.7h.1M479.4 455.1h.1M477.8 462.3h.1M480.8 456.9h.1M489.4 457.7h.1M482.5 461.7h.1M481.4 455.9h.1M493.1 457.2h.1M485.3 458.9h.1M477.1 463.0h.1M486.6 458.1h.1M474.2 457.4h.1M486.8 460.2h.1M485.7 456.3h.1M476.5 462.0h.1M480.6 454.4h.1M484.9 455.7h.1M484.8 456.2h.1M484.5 455.8h.1M473.9 462.5h.1M487.2 459.6h.1M490.0 456.6h.1M477.5 461.0h.1M475.8 458.1h.1M488.7 459.4h.1M480.3 462.2h.1M478.2 453.8h.1M493.4 456.3h.1M483.9 460.8h.1M483.0 456.1h.1M487.9 456.1h.1M477.8 458.3h.1M473.9 460.2h.1M474.6 456.6h.1M482.3 454.7h.1M483.8 457.3h.1M486.5 457.0h.1" stroke="#3a2a90" stroke-width="0.7" stroke-linecap="round" opacity="0.5" fill="none"/>
<path d="M496.9 462.5h.1M495.1 470.7h.1M495.5 474.5h.1M496.8 469.7h.1M496.9 464.9h.1M496.1 469.4h.1M493.6 468.3h.1M491.7 468.3h.1M496.3 471.8h.1M491.5 466.9h.1M491.3 470.0h.1M495.0 475.1h.1M494.0 468.8h.1M492.1 471.1h.1M490.5 465.4h.1M492.7 470.7h.1M495.2 464.9h.1M490.1 466.5h.1M492.1 469.5h.1M490.9 468.2h.1M492.9 472.4h.1M492.3 467.4h.1M494.1 466.7h.1M493.7 466.6h.1M496.5 470.3h.1M495.7 466.1h.1M492.3 464.5h.1M497.5 465.6h.1M493.8 469.2h.1M491.9 470.2h.1M496.1 466.3h.1M491.9 467.9h.1M500.3 459.7h.1M493.6 474.6h.1M495.6 463.3h.1M491.0 468.6h.1M493.7 472.7h.1M492.8 470.0h.1M492.2 468.6h.1M492.7 471.8h.1M491.4 468.2h.1M495.7 472.4h.1M494.7 464.7h.1M494.3 465.6h.1M494.1 474.0h.1M498.6 460.6h.1M493.9 473.1h.1M495.2 475.7h.1M495.2 474.9h.1M496.1 473.1h.1M493.3 470.8h.1M496.6 468.1h.1M493.2 465.8h.1M496.5 465.1h.1M494.7 471.1h.1M499.0 463.5h.1M492.7 466.5h.1M494.8 462.9h.1M492.4 472.1h.1M493.0 472.8h.1M495.1 473.8h.1M493.2 473.7h.1M497.6 468.6h.1M494.9 473.0h.1M493.4 473.8h.1M490.9 469.0h.1M496.8 470.2h.1M495.0 475.7h.1M493.0 467.4h.1M494.6 476.5h.1M493.4 465.6h.1M493.4 469.5h.1M496.2 464.4h.1M495.4 471.1h.1M495.8 471.7h.1M492.5 465.3h.1M496.8 470.1h.1M493.1 468.3h.1M493.4 465.3h.1M496.8 463.8h.1M493.6 468.7h.1M490.7 469.3h.1M493.6 473.1h.1M493.5 468.9h.1M494.7 464.1h.1M494.9 467.8h.1M492.8 471.7h.1M490.1 465.6h.1M495.3 470.1h.1M490.5 465.6h.1M493.1 466.6h.1M490.5 466.3h.1M495.0 469.0h.1M495.3 472.4h.1M492.7 466.4h.1M495.7 465.7h.1M492.9 467.8h.1M496.1 470.3h.1M495.4 473.3h.1M493.2 463.8h.1M496.7 463.3h.1M495.3 465.1h.1M494.4 468.9h.1M497.1 466.4h.1M495.9 473.8h.1M496.9 465.4h.1M492.4 467.3h.1M491.7 465.5h.1M495.0 465.1h.1M492.8 468.3h.1M497.5 468.5h.1M497.4 463.8h.1M495.9 468.4h.1M491.4 469.1h.1M496.3 467.6h.1M492.4 465.1h.1M496.6 463.9h.1M494.6 476.8h.1M492.4 465.0h.1M498.4 464.0h.1M492.8 469.3h.1M490.9 469.0h.1M495.9 468.4h.1M496.8 464.2h.1M491.6 464.9h.1M494.3 464.7h.1M491.7 464.8h.1M495.3 473.6h.1M497.2 467.4h.1M492.6 471.9h.1M495.7 473.2h.1M494.9 466.6h.1M497.7 466.2h.1M496.7 466.4h.1M497.1 465.2h.1M493.3 467.2h.1M494.9 464.8h.1M492.7 468.2h.1M493.4 465.6h.1M496.4 464.7h.1M498.0 464.5h.1M494.4 471.7h.1M490.2 467.1h.1M497.5 465.9h.1M495.2 472.4h.1M493.4 472.9h.1M492.7 466.7h.1M497.1 470.2h.1M490.4 467.4h.1M495.0 471.5h.1M493.7 468.9h.1M490.9 469.9h.1M497.5 464.7h.1M496.6 471.2h.1M495.6 462.4h.1M491.7 465.0h.1M494.8 467.1h.1M493.8 470.2h.1M492.9 465.7h.1M490.8 465.7h.1M494.7 464.7h.1M489.7 467.0h.1M494.5 468.0h.1" stroke="#3d9a26" stroke-width="0.7" stroke-linecap="round" opacity="0.5" fill="none"/>
<rect x="457.8" y="436.2" width="54" height="52.8" fill="none" stroke="#888" stroke-width="0.7"/>
<path d="M456.6 445.0h1.2M466.8 489.0v1.2M456.6 453.8h1.2M475.8 489.0v1.2M456.6 462.6h1.2M484.8 489.0v1.2M456.6 471.4h1.2M493.8 489.0v1.2M456.6 480.2h1.2M502.8 489.0v1.2" stroke="#222" stroke-width="0.8"/>
<polygon points="472.2,452.2 494.8,448.1 501.0,452.7 497.3,457.2 487.2,466.4 473.0,466.0" fill="none" stroke="#555" stroke-width="0.6"/>
<polygon points="487.8,464.7 498.8,456.2 501.6,456.8 502.2,462.7 497.6,476.2 490.6,479.2" fill="none" stroke="#555" stroke-width="0.6"/>
<text x="460.6" y="443.9" font-size="4.3" font-weight="bold" textLength="47.4" lengthAdjust="spacingAndGlyphs">Recruited Phagocytes</text>
<text x="460.6" y="449.5" font-size="4.4" font-weight="bold" textLength="11.5" lengthAdjust="spacingAndGlyphs">62.8%</text>
<text x="505.6" y="478.4" font-size="4.5" text-anchor="end" font-weight="bold">KC</text>
<text x="506.1" y="483" font-size="4.5" text-anchor="end" font-weight="bold">34.1%</text>
<text x="459.1" y="487.9" font-size="7" font-weight="bold" fill="#111">+Heme &amp; AC</text>
<path d="M295.6 564V636.8H509" fill="none" stroke="#111" stroke-width="1.1"/>
<path d="M295.6 559.5l-2.3 5h4.6z M513.5 636.8l-5 -2.3v4.6z" fill="#111"/>
<text x="290.2" y="598.2" font-size="7" stroke="#3a3a3a" stroke-width="0.1" text-anchor="middle" fill="#3a3a3a" transform="rotate(-90 290.2 598.2)">Gr-1</text>
<text x="404.6" y="646.8" font-size="7" stroke="#3a3a3a" stroke-width="0.1" text-anchor="middle" fill="#3a3a3a">F4/80</text>
<defs><radialGradient id="hot"><stop offset="0" stop-color="#d2231e"/><stop offset=".3" stop-color="#f2a31b"/><stop offset=".55" stop-color="#8fd22e"/><stop offset=".8" stop-color="#2bb4a0" stop-opacity=".8"/><stop offset="1" stop-color="#3a7fd0" stop-opacity="0"/></radialGradient><radialGradient id="grn"><stop offset="0" stop-color="#d8e02a"/><stop offset=".35" stop-color="#6cc83a"/><stop offset=".7" stop-color="#26a8a0" stop-opacity=".8"/><stop offset="1" stop-color="#3a7fd0" stop-opacity="0"/></radialGradient><radialGradient id="blu"><stop offset="0" stop-color="#2f6ad0" stop-opacity=".9"/><stop offset="1" stop-color="#5a8ae0" stop-opacity="0"/></radialGradient></defs>
<text x="337.9" y="555.2" font-size="8.2" text-anchor="middle">NT</text>
<g filter="url(#bl)" fill="#3a6cd0"><ellipse cx="322.2" cy="607.1" rx="5.5" ry="13" opacity="0.50"/><ellipse cx="340.2" cy="597.1" rx="10" ry="5.5" opacity="0.28"/><ellipse cx="354.2" cy="596.1" rx="6.5" ry="11" opacity="0.45"/><ellipse cx="322.2" cy="582.1" rx="3.5" ry="10" opacity="0.35"/></g>
<path d="M322.7 571.8h.1M320.8 590.1h.1M321.6 576.4h.1M324.1 575.7h.1M319.6 585.8h.1M322.3 576.2h.1M323.4 589.6h.1M324.9 581.9h.1M323.4 584.9h.1M318.7 593.8h.1M320.7 576.9h.1M320.3 573.8h.1M324.9 581.2h.1M320.9 567.2h.1M322.7 580.8h.1M319.8 580.4h.1M317.8 586.1h.1M319.3 585.0h.1M322.5 565.0h.1M319.6 576.2h.1M324.2 585.7h.1M323.8 593.9h.1M321.6 577.3h.1M317.7 573.3h.1M323.6 574.8h.1M320.1 588.4h.1M316.3 591.8h.1M325.4 567.5h.1M323.4 581.1h.1M324.4 578.6h.1M322.0 591.9h.1M320.8 584.4h.1M323.8 580.3h.1M324.4 585.1h.1M324.2 568.2h.1M319.8 583.4h.1M325.1 592.1h.1M322.3 575.5h.1M319.6 566.3h.1M321.0 585.6h.1M322.1 569.9h.1M322.0 581.6h.1M320.5 592.3h.1M323.3 589.6h.1M322.5 573.8h.1M324.8 589.6h.1M320.8 571.0h.1M324.2 576.9h.1M319.5 580.5h.1M323.6 575.5h.1M322.3 588.8h.1M324.0 569.3h.1M324.0 594.7h.1M324.5 580.5h.1M323.1 569.2h.1M320.8 577.2h.1M327.2 581.2h.1M319.9 594.1h.1M325.2 568.6h.1M321.8 568.3h.1M324.7 563.8h.1M326.7 573.1h.1M319.7 597.3h.1M323.5 583.9h.1M324.3 573.6h.1M324.3 579.1h.1M323.5 582.9h.1M325.6 571.4h.1M318.9 586.2h.1M327.9 585.3h.1M321.9 586.3h.1M319.4 581.9h.1M318.2 582.1h.1M324.0 594.2h.1M321.0 588.3h.1M325.5 573.2h.1M321.6 567.0h.1M320.2 584.5h.1M317.4 578.9h.1M324.0 592.2h.1M316.3 584.1h.1M320.8 563.6h.1M319.8 585.7h.1M322.2 586.6h.1M321.5 586.2h.1M319.9 573.7h.1M321.9 567.8h.1M325.2 579.3h.1M319.9 574.6h.1M319.9 582.1h.1M321.4 587.8h.1M319.5 580.6h.1M318.6 577.6h.1M325.5 580.3h.1M324.4 580.7h.1M319.6 574.4h.1M319.6 583.8h.1M322.8 603.7h.1M326.2 587.7h.1M319.9 582.1h.1M320.1 599.2h.1M320.5 590.1h.1M319.0 587.0h.1M319.3 577.6h.1M322.7 582.2h.1M322.1 580.7h.1M320.2 580.3h.1M322.1 574.0h.1M323.6 582.5h.1M320.4 591.2h.1M320.9 566.6h.1M325.3 578.3h.1M325.7 584.5h.1M320.1 589.8h.1M323.3 588.3h.1M322.3 593.1h.1M324.5 578.6h.1M318.6 580.8h.1M322.4 573.6h.1M321.8 592.7h.1M321.1 589.8h.1M320.0 573.7h.1M324.5 579.9h.1M322.8 589.1h.1M326.1 571.7h.1M323.6 582.9h.1M322.6 595.0h.1M321.7 576.6h.1M323.4 565.6h.1M323.1 574.3h.1M323.0 575.5h.1M323.5 579.3h.1M320.5 585.3h.1M324.0 568.8h.1M319.2 579.1h.1M321.3 591.4h.1M326.0 584.8h.1M324.9 578.7h.1M319.0 583.5h.1M318.0 593.7h.1M322.8 590.1h.1M320.7 568.7h.1M321.8 584.9h.1M321.7 577.2h.1M341.1 568.4h.1M326.7 570.5h.1M334.7 569.5h.1M332.8 571.5h.1M328.1 569.6h.1M324.5 569.8h.1M334.8 571.2h.1M335.4 574.0h.1M339.1 569.6h.1M325.1 569.1h.1M342.4 576.7h.1M339.3 570.1h.1M337.6 573.2h.1M332.4 571.1h.1M339.4 569.1h.1M344.3 568.6h.1M334.3 572.4h.1M340.7 570.3h.1M324.3 576.1h.1M337.2 576.7h.1M333.2 576.9h.1M324.8 579.2h.1M324.3 571.6h.1M322.6 573.6h.1M331.6 583.8h.1M340.7 578.1h.1M328.0 582.6h.1M325.8 580.5h.1M321.3 582.5h.1M331.1 574.8h.1M333.6 577.1h.1M320.8 585.2h.1M322.1 576.1h.1M321.3 589.2h.1M321.8 574.5h.1M331.2 575.5h.1M341.0 601.7h.1M325.1 593.3h.1M355.0 601.2h.1M325.8 595.4h.1M346.6 596.1h.1M338.5 596.4h.1M325.9 602.7h.1M348.2 598.6h.1M335.0 598.5h.1M332.1 599.5h.1M341.9 595.3h.1M326.0 605.8h.1M332.0 593.8h.1M327.6 593.9h.1M336.8 595.3h.1M332.6 603.9h.1M344.3 594.6h.1M326.4 593.4h.1M341.3 598.9h.1M353.0 598.0h.1M330.5 599.2h.1M326.1 596.4h.1M326.3 601.6h.1M333.1 589.6h.1M335.5 593.7h.1M334.5 601.6h.1M339.2 594.8h.1M329.1 594.3h.1M344.8 596.2h.1M338.2 596.4h.1M350.4 591.3h.1M354.4 592.8h.1M331.2 595.1h.1M352.2 597.6h.1M342.9 600.6h.1M335.3 592.6h.1M346.5 595.8h.1M344.2 601.2h.1M348.5 596.5h.1M341.7 603.3h.1M344.2 600.5h.1M328.1 599.8h.1M344.1 597.5h.1M338.1 592.9h.1M343.6 586.1h.1M350.3 592.2h.1M345.7 595.6h.1M345.6 597.5h.1M331.9 595.2h.1M350.8 590.7h.1M326.9 593.4h.1M335.5 597.2h.1M333.0 599.0h.1M341.6 592.7h.1M328.6 591.7h.1M328.9 595.0h.1M335.3 596.2h.1M327.8 602.1h.1M354.5 589.1h.1M326.4 602.9h.1M347.8 599.8h.1M336.4 594.2h.1M343.8 595.4h.1M352.7 599.0h.1M344.4 592.0h.1M349.1 596.3h.1M347.4 595.7h.1M337.6 600.1h.1M326.8 595.3h.1M345.2 597.4h.1M335.1 595.5h.1M332.8 599.3h.1M332.2 600.2h.1M341.5 593.7h.1M334.9 602.0h.1M330.3 595.4h.1M346.0 609.5h.1M347.4 596.4h.1M331.3 589.0h.1M348.5 600.1h.1M348.7 594.0h.1M344.7 595.2h.1M342.6 597.3h.1M341.0 597.7h.1M352.6 593.5h.1M328.5 602.0h.1M351.6 598.8h.1M346.7 594.2h.1M347.1 588.9h.1M326.7 600.5h.1M334.0 602.4h.1M347.5 601.4h.1M332.0 594.3h.1M342.1 592.5h.1M337.5 592.0h.1M334.7 594.7h.1M336.3 599.7h.1M350.0 601.1h.1M331.9 593.5h.1M330.6 594.8h.1M327.3 603.5h.1M329.3 598.5h.1M333.6 594.2h.1M342.6 596.4h.1M339.5 597.6h.1M344.6 602.4h.1M353.6 592.6h.1M344.1 602.4h.1M342.5 599.9h.1M338.1 597.5h.1M326.8 603.1h.1M328.7 601.3h.1M342.0 596.9h.1M337.1 601.6h.1M333.1 593.7h.1M353.6 597.0h.1M339.2 601.2h.1M330.3 601.6h.1M347.6 597.8h.1M340.5 587.6h.1M347.7 598.2h.1M343.1 589.4h.1M352.0 596.1h.1M336.1 592.8h.1M350.5 599.8h.1M352.8 594.5h.1M349.0 595.1h.1M333.3 593.4h.1M333.8 595.1h.1M331.7 592.8h.1M329.6 597.9h.1M330.2 594.5h.1M341.3 600.4h.1M331.3 598.3h.1M350.8 591.8h.1M339.2 595.1h.1M325.9 602.4h.1M325.2 589.1h.1M342.2 598.3h.1M353.7 588.6h.1M352.4 597.9h.1M355.0 594.6h.1M354.6 591.1h.1M332.8 590.4h.1M338.3 600.2h.1M355.0 599.0h.1M346.2 593.0h.1M331.6 597.8h.1M338.1 595.6h.1M342.5 601.0h.1M337.2 593.3h.1M340.1 594.3h.1M339.9 601.3h.1M342.5 589.4h.1M347.9 595.6h.1M334.7 599.0h.1M329.4 597.8h.1M344.2 587.6h.1M331.9 601.6h.1M342.6 601.6h.1M329.8 603.6h.1M354.1 595.9h.1M354.8 598.1h.1M353.2 587.2h.1M329.9 594.1h.1M344.5 600.5h.1M329.7 596.0h.1M354.4 602.9h.1M339.7 604.1h.1M352.1 592.8h.1M330.7 592.5h.1M349.7 600.2h.1M350.3 600.6h.1M326.1 601.2h.1M334.7 601.3h.1M329.0 598.5h.1M344.8 590.3h.1M335.0 600.8h.1M355.0 597.3h.1M340.2 597.7h.1M340.3 597.1h.1M330.6 596.2h.1M332.3 590.1h.1M345.2 599.4h.1M332.1 591.7h.1M342.0 601.0h.1M328.4 596.4h.1M338.9 597.3h.1M332.1 595.7h.1M351.3 599.7h.1M327.8 598.8h.1M338.1 597.8h.1M338.4 602.5h.1M333.2 594.1h.1M328.9 589.8h.1M331.9 594.6h.1M347.9 589.7h.1M354.1 603.7h.1M330.5 598.8h.1M336.7 591.7h.1M340.9 600.4h.1M342.0 594.0h.1M340.3 603.3h.1M328.4 598.0h.1M352.4 601.4h.1M332.9 597.1h.1M345.6 591.7h.1M349.6 591.6h.1M354.9 598.3h.1M339.8 598.5h.1M353.0 594.0h.1M341.0 598.2h.1M334.9 603.2h.1M339.0 600.1h.1M350.6 599.1h.1M328.8 599.2h.1M350.4 591.1h.1M326.8 598.8h.1M338.3 591.9h.1M332.4 600.9h.1M354.7 593.8h.1M339.5 600.8h.1M335.5 597.8h.1M352.6 596.6h.1M354.5 594.5h.1M331.0 595.5h.1M334.9 600.4h.1M333.7 597.6h.1M335.1 599.5h.1M355.0 591.7h.1M334.6 602.9h.1M347.1 599.3h.1M349.5 591.2h.1M328.4 602.3h.1M346.8 594.6h.1M343.5 591.7h.1M339.0 592.5h.1M343.5 598.4h.1M350.5 593.6h.1M337.0 601.1h.1M330.3 596.8h.1M351.5 595.8h.1M326.8 600.3h.1M338.4 602.4h.1M333.9 587.6h.1M344.6 597.1h.1M336.1 599.6h.1M328.0 596.1h.1M347.3 598.7h.1M336.9 590.0h.1M345.7 597.2h.1M353.6 599.2h.1M350.9 601.0h.1M346.5 594.7h.1M335.8 589.4h.1M347.7 601.9h.1M353.5 598.6h.1M352.8 599.5h.1M353.1 599.7h.1M332.9 589.3h.1M346.7 599.9h.1M325.6 599.8h.1M338.2 598.1h.1M345.4 600.3h.1M345.7 603.3h.1M334.2 590.5h.1M335.1 594.1h.1M350.6 597.7h.1M348.9 593.3h.1M333.8 591.9h.1M333.5 596.9h.1M354.9 594.4h.1M329.6 598.7h.1M352.8 602.7h.1M330.0 601.4h.1M328.9 595.2h.1M341.6 597.2h.1M344.2 602.2h.1M350.5 603.2h.1M345.3 592.6h.1M347.3 601.5h.1M339.9 591.0h.1M353.5 598.7h.1M331.5 596.3h.1M343.5 592.5h.1M340.1 595.4h.1M331.3 592.2h.1M347.9 599.0h.1M352.6 591.5h.1M354.5 604.0h.1M353.7 588.7h.1M353.0 589.3h.1M350.3 609.8h.1M356.1 609.6h.1M352.2 594.5h.1M347.7 597.0h.1M356.3 600.6h.1M348.1 595.9h.1M357.1 591.3h.1M356.2 591.1h.1M353.1 590.5h.1M346.7 588.4h.1M353.9 592.8h.1M353.1 590.5h.1M356.9 593.7h.1M354.8 591.3h.1M358.8 594.3h.1M355.0 612.6h.1M355.0 582.7h.1M350.3 597.6h.1M347.5 583.4h.1M352.6 582.5h.1M357.8 598.5h.1M351.8 604.7h.1M350.2 585.7h.1M357.1 595.2h.1M352.2 603.3h.1M352.6 600.2h.1M354.1 604.3h.1M355.5 591.3h.1M359.6 592.2h.1M360.6 585.0h.1M353.4 577.3h.1M355.4 605.7h.1M351.5 598.8h.1M352.2 606.5h.1M354.6 597.9h.1M357.9 583.0h.1M356.1 596.1h.1M358.7 595.3h.1M355.8 594.6h.1M348.9 591.1h.1M352.4 584.5h.1M353.0 591.3h.1M361.0 593.1h.1M353.7 595.8h.1M356.2 582.3h.1M345.6 607.6h.1M349.6 588.0h.1M358.2 597.4h.1M349.7 601.0h.1M348.3 608.0h.1M351.8 597.7h.1M353.1 610.3h.1M349.0 594.3h.1M362.4 578.9h.1M351.1 597.3h.1M352.2 598.6h.1M358.2 586.1h.1M350.4 605.5h.1M361.6 573.9h.1M355.5 603.0h.1M350.3 588.2h.1M348.3 593.5h.1M348.2 600.7h.1M350.2 599.2h.1M346.4 602.1h.1M356.1 602.6h.1M354.4 613.3h.1M357.4 595.5h.1M360.1 592.3h.1M353.9 608.1h.1M351.2 595.1h.1M354.3 596.6h.1M352.2 603.1h.1M362.5 592.0h.1M346.9 591.4h.1M347.2 585.0h.1M348.7 603.5h.1M353.9 600.7h.1M352.7 603.2h.1M351.4 605.4h.1M357.0 596.8h.1M346.9 586.4h.1M354.3 586.8h.1M352.5 593.8h.1M359.1 589.7h.1M353.8 591.4h.1M350.0 598.6h.1M357.4 583.8h.1M359.7 612.8h.1M353.9 599.2h.1M348.7 591.9h.1M354.5 594.4h.1M359.1 588.1h.1M352.1 599.3h.1M352.9 593.2h.1M352.7 598.3h.1M344.9 615.7h.1M356.4 586.8h.1M349.3 586.2h.1M355.1 580.4h.1M363.8 590.8h.1M347.2 611.4h.1M353.2 599.0h.1M352.4 593.1h.1M362.1 579.5h.1M354.3 589.3h.1M351.7 594.6h.1M345.3 600.0h.1M354.1 599.5h.1M350.6 601.0h.1M351.2 601.2h.1M359.0 600.0h.1M347.0 595.7h.1M348.8 610.5h.1M354.1 585.0h.1M346.7 605.6h.1M348.9 598.4h.1M351.8 594.0h.1M351.3 595.2h.1M360.2 588.2h.1M355.4 598.9h.1M350.3 586.5h.1M349.4 599.7h.1M353.9 603.2h.1M354.8 596.0h.1M353.3 596.9h.1M353.4 600.4h.1M349.5 603.6h.1M360.2 594.4h.1M355.7 585.8h.1M353.7 583.8h.1M357.5 595.5h.1M357.9 604.0h.1M350.1 601.5h.1M359.9 612.6h.1M352.8 599.4h.1M350.5 600.1h.1M355.8 606.6h.1M352.6 595.6h.1M355.4 593.8h.1M362.1 577.7h.1M345.9 591.2h.1M356.2 595.3h.1M355.0 583.2h.1M355.8 599.4h.1M360.3 601.6h.1M350.6 589.3h.1M348.3 591.3h.1M352.8 605.0h.1M360.4 595.7h.1M355.8 593.8h.1M347.6 599.3h.1M350.1 582.5h.1M349.6 606.8h.1M348.2 605.8h.1M347.3 594.6h.1M355.4 592.0h.1M349.1 595.2h.1M360.4 600.3h.1M354.1 599.6h.1M358.3 605.6h.1M352.1 588.3h.1M349.0 595.6h.1M351.9 595.2h.1M350.6 614.7h.1M350.2 606.3h.1M349.5 589.0h.1M348.2 586.6h.1M346.2 588.7h.1M352.2 600.6h.1M345.5 598.6h.1M352.7 595.1h.1M343.9 598.9h.1M356.1 604.1h.1M352.0 604.9h.1M353.5 588.0h.1M355.5 602.8h.1M354.2 594.9h.1M352.2 600.4h.1M345.4 597.5h.1M347.7 591.1h.1M354.1 604.8h.1M353.2 587.9h.1M365.0 597.7h.1M341.5 594.4h.1M350.0 590.4h.1M357.8 611.8h.1M353.7 584.7h.1M357.0 595.9h.1M351.5 596.7h.1M348.2 596.7h.1M354.8 604.5h.1M361.9 590.2h.1M354.9 589.0h.1M353.8 604.2h.1M356.0 592.8h.1M361.0 602.1h.1M358.6 595.8h.1M359.0 594.0h.1M357.0 595.5h.1M353.2 583.0h.1M357.5 599.7h.1M350.5 595.7h.1M355.9 600.2h.1M344.2 606.8h.1M348.8 610.0h.1M358.2 596.3h.1M354.1 597.4h.1M351.5 607.0h.1M350.3 591.0h.1M352.2 582.7h.1M357.8 585.9h.1M359.8 602.6h.1M362.1 590.5h.1M351.9 591.6h.1M356.7 588.2h.1M351.8 577.0h.1M353.4 596.8h.1M361.9 588.6h.1M357.5 599.6h.1M357.1 586.5h.1M338.0 591.4h.1M357.5 596.5h.1M359.6 612.1h.1M350.2 592.0h.1M360.0 582.1h.1M342.2 597.3h.1M354.7 607.1h.1M356.5 594.9h.1M350.7 580.7h.1M355.5 590.4h.1M351.5 597.7h.1M344.2 594.5h.1M350.5 610.9h.1M352.7 604.1h.1M348.9 582.7h.1M357.1 592.4h.1M347.3 603.6h.1M355.5 581.6h.1M352.2 611.0h.1M353.7 584.4h.1M349.5 606.2h.1M359.9 600.6h.1M346.6 601.8h.1M349.6 591.1h.1M351.0 603.7h.1M355.5 599.8h.1M351.3 591.1h.1M358.0 590.3h.1M352.0 599.6h.1M352.5 603.0h.1M355.7 600.3h.1M363.5 590.8h.1M362.6 584.9h.1M349.8 575.3h.1M350.3 588.8h.1M356.4 605.3h.1M363.6 590.9h.1M358.0 593.7h.1M345.0 561.8h.1M321.0 591.6h.1M325.2 599.7h.1M324.5 601.8h.1M323.9 599.5h.1M323.6 621.7h.1M323.5 596.1h.1M319.5 608.2h.1M325.0 597.2h.1M319.1 594.1h.1M328.3 609.5h.1M323.4 603.6h.1M328.9 611.8h.1M321.9 617.0h.1M324.3 604.9h.1M321.0 607.2h.1M327.0 595.7h.1M316.5 612.6h.1M325.9 618.9h.1M324.2 595.0h.1M325.1 608.5h.1M318.7 594.2h.1M316.9 607.7h.1M317.8 610.0h.1M321.7 612.3h.1M325.3 599.7h.1M320.9 613.1h.1M320.0 615.4h.1M324.3 614.4h.1M320.2 613.5h.1M321.5 608.9h.1M324.4 602.6h.1M322.1 587.8h.1M319.8 612.2h.1M318.5 590.0h.1M317.3 604.7h.1M324.6 611.5h.1M317.3 610.4h.1M318.0 616.0h.1M323.6 602.0h.1M320.6 606.5h.1M320.2 616.6h.1M323.3 602.5h.1M323.8 595.9h.1M322.8 604.4h.1M320.3 606.6h.1M323.0 595.2h.1M325.0 602.3h.1M323.5 620.6h.1M318.5 620.6h.1M321.0 622.5h.1M319.4 615.6h.1M320.3 617.3h.1M325.3 609.9h.1M319.4 615.6h.1M323.5 598.3h.1M324.1 605.7h.1M321.8 599.1h.1M322.9 614.1h.1M319.4 613.7h.1M316.0 608.0h.1M323.1 599.3h.1M322.8 596.4h.1M328.6 610.3h.1M325.9 599.5h.1M314.5 606.4h.1M326.8 605.8h.1M326.2 610.4h.1M323.3 615.7h.1M320.2 603.7h.1M326.0 610.8h.1M320.4 598.3h.1M327.3 580.7h.1M325.3 605.9h.1M317.8 610.4h.1M323.8 625.7h.1M323.2 586.6h.1M319.1 613.3h.1M320.6 606.6h.1M321.9 618.8h.1M323.3 605.8h.1M320.1 615.3h.1M319.9 610.5h.1M323.6 613.2h.1M324.9 609.4h.1M328.8 613.5h.1M319.7 599.7h.1M319.9 617.9h.1M318.5 619.9h.1M323.6 602.3h.1M318.9 606.3h.1M324.8 606.5h.1M324.6 608.5h.1M326.7 603.1h.1M321.8 597.9h.1M321.2 599.0h.1M317.2 605.3h.1M324.5 588.8h.1M318.0 595.7h.1M323.4 611.7h.1M323.3 605.6h.1M319.7 608.6h.1M319.3 605.2h.1M323.5 605.0h.1M326.2 589.3h.1M317.0 615.2h.1M320.3 603.3h.1M320.4 606.6h.1M321.7 610.0h.1M325.3 622.2h.1M315.2 606.2h.1M319.3 608.8h.1M318.9 607.6h.1M323.1 606.8h.1M323.0 612.4h.1M318.7 606.7h.1M325.7 614.7h.1M325.4 600.3h.1M320.0 615.1h.1M322.2 609.5h.1M321.1 614.5h.1M322.8 599.0h.1M323.4 604.2h.1M321.4 611.7h.1M322.7 602.4h.1M318.4 603.4h.1M321.8 597.4h.1M320.2 626.0h.1M320.1 607.6h.1M318.2 604.5h.1M323.0 608.4h.1M316.6 607.4h.1M319.0 616.0h.1M321.9 620.0h.1M323.4 597.6h.1M325.3 603.1h.1M321.9 607.9h.1M317.9 616.6h.1M322.7 598.7h.1M317.7 610.8h.1M326.2 610.4h.1M323.2 603.7h.1M325.8 611.5h.1M319.6 602.1h.1M315.1 616.5h.1M332.1 606.1h.1M323.6 613.3h.1M321.5 624.5h.1M318.9 600.3h.1M327.5 614.5h.1M324.7 606.2h.1M322.1 608.3h.1M323.6 602.2h.1M325.6 621.3h.1M320.5 599.4h.1M322.6 627.1h.1M319.1 618.0h.1M320.0 601.0h.1M325.8 605.7h.1M322.1 612.8h.1M325.9 609.0h.1M327.3 601.6h.1M320.5 612.7h.1M324.4 593.1h.1M321.2 612.7h.1M321.7 621.7h.1M317.0 608.8h.1M319.4 594.2h.1M321.4 606.6h.1M320.8 602.0h.1M325.0 598.7h.1M320.2 595.8h.1M326.0 595.3h.1M327.9 599.7h.1M322.1 620.3h.1M318.7 617.8h.1M317.9 603.4h.1M324.0 609.9h.1M323.3 609.7h.1M327.4 594.1h.1M319.9 614.2h.1M317.4 601.6h.1M330.3 618.1h.1M323.9 607.8h.1M321.7 600.1h.1M319.3 599.2h.1M318.0 608.3h.1M323.6 599.6h.1M322.7 596.5h.1M323.4 604.6h.1M322.0 608.8h.1M326.5 608.9h.1M320.1 608.5h.1M323.5 611.5h.1M325.7 600.6h.1M318.3 612.3h.1M318.5 610.9h.1M331.2 617.3h.1M317.4 600.6h.1M323.5 604.9h.1M324.5 609.2h.1M323.3 611.7h.1M317.0 616.5h.1M317.5 600.1h.1M314.2 607.3h.1M323.5 604.2h.1M318.3 589.6h.1M324.1 597.9h.1M321.0 609.2h.1M322.0 610.6h.1M327.7 613.0h.1M318.9 606.9h.1M321.5 600.3h.1M324.4 604.1h.1M323.0 612.5h.1M329.2 602.3h.1M324.6 624.7h.1M327.5 609.7h.1M319.8 608.6h.1M320.1 603.9h.1M316.5 604.9h.1M315.6 615.3h.1M323.9 604.0h.1M322.3 608.2h.1M321.4 609.6h.1M321.6 610.9h.1M319.5 607.8h.1M327.8 600.7h.1M319.5 614.9h.1M323.3 608.5h.1M322.8 604.0h.1M320.5 611.4h.1M322.8 612.5h.1M323.7 625.4h.1M322.5 618.7h.1M322.7 625.6h.1M325.5 601.2h.1M327.5 602.8h.1M325.6 601.2h.1M323.4 608.6h.1M358.1 608.0h.1M344.6 606.0h.1M360.2 589.9h.1M355.5 602.9h.1M352.6 587.6h.1M332.9 590.4h.1M339.8 595.7h.1M342.5 592.3h.1M341.3 584.9h.1M340.1 599.8h.1M340.2 606.1h.1M359.1 594.0h.1M340.7 599.4h.1M359.6 604.0h.1M338.0 587.1h.1M332.8 607.5h.1M340.1 592.1h.1M355.7 589.3h.1M354.3 581.6h.1M344.2 581.9h.1M357.4 589.1h.1M357.2 602.3h.1M334.8 589.5h.1M356.6 600.3h.1M344.6 584.8h.1M336.6 590.9h.1M346.9 599.4h.1M359.0 600.5h.1M349.0 595.9h.1M350.8 582.5h.1M332.6 596.3h.1M345.0 605.3h.1M338.6 590.8h.1M339.3 599.4h.1M356.9 583.9h.1M343.5 600.2h.1M354.8 602.6h.1M336.5 601.3h.1M345.6 605.9h.1M337.5 604.6h.1M360.5 598.1h.1M336.6 590.8h.1M343.0 605.8h.1M336.7 592.7h.1M343.0 596.0h.1M354.5 582.0h.1M338.7 583.4h.1M347.0 599.2h.1M356.3 601.4h.1M336.4 608.9h.1M331.7 586.5h.1M351.4 599.2h.1M343.7 600.2h.1M345.7 589.9h.1M341.2 593.1h.1M334.7 601.1h.1M336.6 597.3h.1M360.9 603.9h.1M357.4 586.3h.1M357.0 581.5h.1M338.4 588.8h.1M352.9 608.6h.1M338.0 595.1h.1M340.4 601.4h.1M331.5 606.5h.1M340.8 586.1h.1M357.6 601.5h.1M356.4 605.7h.1M345.7 593.1h.1M356.6 594.9h.1M339.0 598.3h.1M345.2 602.4h.1M359.1 603.3h.1M333.4 596.6h.1M345.5 582.4h.1M340.4 581.3h.1M353.8 587.1h.1M336.9 605.3h.1M339.8 600.3h.1M352.4 598.8h.1M333.7 587.2h.1M357.6 592.0h.1M340.8 595.0h.1M332.3 601.0h.1M355.9 608.2h.1M341.3 600.4h.1M361.2 605.2h.1M346.0 607.9h.1M348.6 596.9h.1M349.6 586.3h.1M343.7 595.2h.1M356.4 596.8h.1M342.3 608.3h.1M333.7 586.1h.1M342.4 608.5h.1M346.1 592.3h.1" stroke="#2f62c8" stroke-width="0.9" stroke-linecap="round" opacity="0.6" fill="none"/>
<ellipse cx="321.9" cy="606.1" rx="3.6" ry="11" fill="url(#hot)"/>
<ellipse cx="354.8" cy="595.9" rx="5" ry="9" fill="url(#grn)"/>
<rect x="303.2" y="559.1" width="69.5" height="70.4" fill="none" stroke="#888" stroke-width="0.7"/>
<path d="M302.0 569.2h1.2M313.1 629.5v1.2M302.0 579.2h1.2M323.1 629.5v1.2M302.0 589.3h1.2M333.0 629.5v1.2M302.0 599.3h1.2M342.9 629.5v1.2M302.0 609.4h1.2M352.8 629.5v1.2M302.0 619.4h1.2M362.8 629.5v1.2" stroke="#222" stroke-width="0.8"/>
<polygon points="317.2,567.4 349.0,566.5 349.4,571.6 346.8,577.1 317.4,598.8" fill="none" stroke="#222" stroke-width="0.8"/>
<polygon points="330.2,591.1 347.5,578.1 354.7,577.5 365.2,587.9 359.2,614.9 330.2,614.9" fill="none" stroke="#222" stroke-width="0.8"/>
<polygon points="316.6,599.4 330.1,591.3 330.1,620.8 316.6,620.8" fill="none" stroke="#222" stroke-width="0.8"/>
<text x="320.5" y="566" font-size="4.4" font-weight="bold" textLength="23.4" lengthAdjust="spacingAndGlyphs">Gr-1+ 1170</text>
<text x="356.7" y="574.7" font-size="4.4" font-weight="bold" textLength="14" lengthAdjust="spacingAndGlyphs">F4/80+</text>
<text x="357.7" y="580.6" font-size="4.4" font-weight="bold">7170</text>
<text x="307.3" y="625.4" font-size="4.4" font-weight="bold" textLength="36.5" lengthAdjust="spacingAndGlyphs">Gr-1- F4/80- 9181</text>
<text x="408.6" y="555.2" font-size="8.2" text-anchor="middle">Heme-Alb</text>
<g filter="url(#bl)" fill="#3a6cd0"><ellipse cx="392.8" cy="607.1" rx="5.5" ry="13" opacity="0.75"/><ellipse cx="410.8" cy="597.1" rx="10" ry="5.5" opacity="0.48"/><ellipse cx="424.8" cy="596.1" rx="6.5" ry="11" opacity="0.70"/><ellipse cx="398.8" cy="573.1" rx="11" ry="5" opacity="0.60"/><ellipse cx="393.8" cy="585.1" rx="4" ry="9" opacity="0.48"/></g>
<path d="M393.6 575.9h.1M393.1 578.1h.1M387.9 570.6h.1M391.3 577.5h.1M393.8 595.2h.1M392.2 599.5h.1M391.8 582.7h.1M392.3 568.1h.1M392.6 580.1h.1M390.8 587.9h.1M393.8 579.3h.1M390.7 584.2h.1M390.9 574.9h.1M391.6 589.5h.1M392.1 580.5h.1M392.0 586.6h.1M392.4 588.5h.1M392.4 588.6h.1M392.1 575.8h.1M393.8 580.2h.1M391.7 593.5h.1M391.6 575.5h.1M392.0 593.5h.1M389.6 591.3h.1M394.0 578.6h.1M392.0 575.9h.1M387.9 574.3h.1M389.4 568.8h.1M391.7 586.6h.1M390.5 579.1h.1M390.9 580.2h.1M393.7 591.7h.1M394.2 584.9h.1M396.0 587.7h.1M393.9 586.5h.1M394.7 573.5h.1M390.6 582.6h.1M388.5 579.7h.1M391.9 584.4h.1M394.4 592.5h.1M387.1 583.6h.1M393.5 593.5h.1M391.2 585.3h.1M392.4 574.2h.1M393.3 589.7h.1M391.9 582.6h.1M395.3 580.3h.1M392.0 584.3h.1M393.8 585.2h.1M395.6 585.5h.1M389.8 568.7h.1M392.5 595.5h.1M392.8 578.3h.1M393.3 586.2h.1M395.7 571.5h.1M394.5 583.4h.1M394.6 590.7h.1M387.4 589.4h.1M393.9 575.5h.1M392.4 590.4h.1M389.1 589.0h.1M394.6 596.1h.1M390.7 576.9h.1M395.1 579.6h.1M393.7 560.7h.1M398.4 566.8h.1M388.8 586.0h.1M393.9 575.3h.1M387.4 586.3h.1M393.2 574.4h.1M393.0 577.2h.1M390.2 587.6h.1M392.7 582.2h.1M389.7 576.1h.1M392.0 577.0h.1M393.5 582.1h.1M392.1 580.5h.1M393.6 590.1h.1M390.1 589.6h.1M394.8 588.3h.1M391.3 583.6h.1M397.7 571.0h.1M394.7 579.8h.1M396.6 583.0h.1M394.7 576.8h.1M391.5 595.0h.1M389.6 577.6h.1M392.1 571.7h.1M394.2 571.9h.1M392.8 579.9h.1M387.4 583.1h.1M389.0 582.1h.1M387.1 577.5h.1M394.6 584.1h.1M395.3 595.1h.1M394.4 580.3h.1M392.4 587.0h.1M389.7 573.4h.1M392.6 596.1h.1M390.0 583.9h.1M391.0 587.7h.1M393.5 581.6h.1M394.8 579.8h.1M388.7 599.0h.1M392.4 584.4h.1M394.5 575.2h.1M391.5 575.7h.1M394.0 585.1h.1M393.1 571.2h.1M390.7 570.0h.1M389.4 575.8h.1M393.4 585.9h.1M388.4 587.0h.1M393.5 594.8h.1M394.7 569.6h.1M393.8 583.7h.1M393.4 575.8h.1M396.1 582.6h.1M391.3 567.0h.1M392.0 570.6h.1M389.1 595.2h.1M392.5 589.8h.1M395.3 587.8h.1M391.6 572.2h.1M392.3 582.8h.1M392.3 579.3h.1M393.0 570.0h.1M395.2 572.1h.1M392.9 574.6h.1M395.9 577.2h.1M390.5 578.8h.1M394.8 571.7h.1M389.6 577.4h.1M394.9 600.4h.1M392.2 589.5h.1M392.4 566.5h.1M391.6 586.9h.1M390.0 579.4h.1M391.1 585.0h.1M398.6 582.5h.1M389.6 595.5h.1M392.0 578.3h.1M393.9 588.1h.1M393.2 584.7h.1M393.1 571.8h.1M394.5 589.0h.1M390.8 567.3h.1M391.2 583.3h.1M396.0 583.6h.1M384.8 576.7h.1M392.8 583.8h.1M389.0 578.8h.1M393.0 587.5h.1M394.6 595.4h.1M391.0 578.2h.1M391.6 585.8h.1M397.5 583.3h.1M393.1 574.2h.1M389.6 596.5h.1M392.5 593.5h.1M394.6 577.7h.1M393.3 574.3h.1M394.2 580.5h.1M394.6 592.1h.1M391.2 588.4h.1M393.7 577.4h.1M393.3 592.0h.1M393.1 589.8h.1M393.5 592.2h.1M392.4 579.0h.1M394.2 562.8h.1M391.4 594.5h.1M390.9 597.1h.1M396.6 577.6h.1M390.9 585.0h.1M394.9 596.3h.1M396.4 575.9h.1M394.8 577.5h.1M395.3 585.6h.1M396.2 581.0h.1M394.7 571.2h.1M390.3 586.0h.1M392.9 589.0h.1M398.3 576.6h.1M389.8 573.0h.1M391.2 591.4h.1M393.6 579.3h.1M394.3 580.3h.1M393.3 581.6h.1M389.4 588.5h.1M393.1 600.2h.1M392.9 576.7h.1M393.1 575.7h.1M392.6 578.6h.1M393.5 574.0h.1M392.4 578.3h.1M390.3 581.1h.1M394.4 587.8h.1M393.5 580.7h.1M395.0 579.3h.1M394.3 567.3h.1M389.8 575.6h.1M395.5 579.5h.1M393.8 572.5h.1M389.0 605.0h.1M396.7 596.3h.1M392.7 576.1h.1M393.3 579.6h.1M391.6 561.0h.1M393.3 563.2h.1M391.5 568.9h.1M397.6 570.9h.1M391.8 584.7h.1M391.9 583.7h.1M395.0 576.3h.1M394.0 580.5h.1M389.5 584.0h.1M390.1 590.3h.1M392.7 583.1h.1M395.2 574.7h.1M390.8 593.6h.1M394.5 585.2h.1M387.9 581.8h.1M390.4 576.5h.1M388.7 567.9h.1M391.7 584.7h.1M391.5 580.1h.1M392.9 592.8h.1M391.3 582.6h.1M399.5 581.3h.1M394.8 571.6h.1M390.1 577.8h.1M400.3 576.3h.1M396.2 577.3h.1M389.7 565.8h.1M393.1 590.4h.1M390.8 578.2h.1M390.0 575.4h.1M395.3 577.0h.1M413.6 573.1h.1M390.6 569.3h.1M411.6 576.1h.1M399.1 570.9h.1M411.3 573.8h.1M406.6 573.3h.1M409.9 571.2h.1M414.4 568.8h.1M400.5 568.7h.1M409.6 574.8h.1M394.7 569.0h.1M403.8 571.5h.1M399.8 571.4h.1M407.2 573.8h.1M412.9 570.0h.1M409.9 574.8h.1M404.0 570.0h.1M414.0 570.0h.1M392.0 569.3h.1M412.0 576.1h.1M414.1 573.6h.1M408.0 574.8h.1M408.9 570.3h.1M405.6 569.2h.1M394.9 570.3h.1M396.9 568.9h.1M406.1 572.8h.1M393.3 569.8h.1M409.1 569.3h.1M413.7 572.2h.1M410.7 570.9h.1M402.8 571.3h.1M410.3 568.6h.1M399.1 570.6h.1M411.2 576.1h.1M400.1 572.2h.1M409.5 571.4h.1M395.2 569.6h.1M409.4 575.5h.1M410.1 573.8h.1M414.1 569.2h.1M403.4 569.2h.1M413.8 571.4h.1M411.1 574.0h.1M409.3 574.5h.1M412.6 576.5h.1M414.0 572.2h.1M406.4 573.2h.1M412.7 571.3h.1M399.1 571.3h.1M407.2 570.5h.1M407.6 568.7h.1M405.9 573.9h.1M399.6 568.9h.1M409.4 574.1h.1M408.6 572.9h.1M406.0 569.7h.1M403.7 570.0h.1M409.3 573.9h.1M408.9 570.3h.1M415.4 569.3h.1M411.9 568.9h.1M410.1 574.8h.1M405.7 571.5h.1M403.8 570.6h.1M407.4 572.4h.1M407.3 571.0h.1M408.9 571.5h.1M408.3 569.2h.1M413.5 571.8h.1M414.2 574.2h.1M408.0 574.6h.1M399.8 569.3h.1M413.7 576.7h.1M406.2 569.7h.1M404.9 573.5h.1M402.2 569.0h.1M413.5 572.6h.1M407.5 569.4h.1M404.9 574.1h.1M402.1 573.2h.1M408.9 569.6h.1M407.1 569.7h.1M413.3 575.5h.1M410.1 573.6h.1M406.3 571.2h.1M414.2 573.7h.1M407.2 571.4h.1M410.1 569.7h.1M396.2 571.0h.1M410.9 573.8h.1M404.7 571.4h.1M408.3 575.2h.1M402.1 573.2h.1M413.8 574.3h.1M409.8 575.5h.1M402.7 569.9h.1M404.9 574.0h.1M412.2 569.5h.1M406.1 569.7h.1M406.8 572.6h.1M414.9 568.4h.1M406.5 569.8h.1M401.8 572.3h.1M412.1 571.1h.1M407.1 570.1h.1M408.2 575.2h.1M398.8 571.3h.1M405.8 569.9h.1M405.1 571.0h.1M398.2 569.8h.1M412.6 572.4h.1M414.5 573.6h.1M402.5 569.2h.1M405.2 570.3h.1M413.8 570.8h.1M404.3 571.3h.1M405.0 572.5h.1M403.0 569.6h.1M392.8 569.9h.1M394.4 588.1h.1M393.6 582.1h.1M397.1 586.8h.1M400.0 578.5h.1M401.0 575.2h.1M393.1 580.4h.1M396.6 573.1h.1M396.8 579.8h.1M408.3 577.8h.1M403.5 579.4h.1M401.8 575.0h.1M396.7 582.8h.1M394.3 571.0h.1M390.4 577.6h.1M394.4 584.0h.1M392.7 576.8h.1M397.6 581.3h.1M392.5 574.8h.1M397.3 572.9h.1M400.5 584.1h.1M392.3 575.6h.1M397.6 581.8h.1M394.2 585.4h.1M391.1 587.4h.1M406.1 576.7h.1M391.2 581.4h.1M400.8 574.5h.1M393.4 588.0h.1M396.8 580.9h.1M402.5 581.2h.1M394.9 571.3h.1M391.9 575.6h.1M395.3 577.7h.1M408.6 578.4h.1M399.6 582.7h.1M390.3 581.8h.1M393.8 581.4h.1M408.2 577.2h.1M391.3 575.2h.1M398.5 574.1h.1M397.3 584.1h.1M389.9 580.8h.1M404.5 581.5h.1M393.3 579.3h.1M395.1 582.0h.1M395.8 587.0h.1M393.2 577.3h.1M396.6 572.6h.1M395.8 584.3h.1M390.4 588.6h.1M399.0 575.3h.1M397.2 580.2h.1M396.0 571.5h.1M390.7 582.6h.1M409.6 575.8h.1M392.2 581.1h.1M393.9 585.7h.1M395.4 581.1h.1M399.7 579.7h.1M394.1 571.2h.1M390.3 572.5h.1M408.9 579.1h.1M397.8 581.4h.1M391.5 576.6h.1M391.0 571.8h.1M392.3 584.0h.1M405.4 579.8h.1M398.4 582.2h.1M403.9 575.0h.1M395.4 577.2h.1M402.2 580.1h.1M398.8 583.0h.1M403.3 581.5h.1M398.1 584.5h.1M398.8 577.8h.1M404.9 576.8h.1M398.3 586.0h.1M396.7 573.5h.1M396.3 580.1h.1M404.5 579.9h.1M403.6 581.7h.1M397.8 576.6h.1M390.8 570.2h.1M397.1 582.9h.1M391.4 587.9h.1M407.4 578.2h.1M395.4 582.3h.1M397.2 580.5h.1M392.0 575.7h.1M401.3 581.5h.1M399.3 582.3h.1M409.6 576.4h.1M406.5 581.3h.1M392.4 587.6h.1M405.3 576.8h.1M408.1 580.2h.1M393.2 585.1h.1M400.2 577.5h.1M391.2 578.9h.1M392.4 572.4h.1M390.5 586.8h.1M402.8 581.9h.1M404.5 576.2h.1M400.0 574.3h.1M402.8 577.4h.1M406.4 576.6h.1M399.9 574.3h.1M396.6 584.0h.1M393.7 581.2h.1M402.2 580.6h.1M396.5 575.5h.1M401.0 576.8h.1M403.2 582.2h.1M393.4 588.2h.1M402.5 579.5h.1M393.1 573.2h.1M400.4 583.2h.1M399.0 579.2h.1M412.0 577.1h.1M391.3 585.9h.1M400.9 597.4h.1M415.0 594.8h.1M405.1 598.9h.1M410.5 596.1h.1M399.7 601.4h.1M419.6 600.9h.1M400.5 599.2h.1M404.7 596.7h.1M403.3 596.7h.1M396.3 602.5h.1M420.1 600.3h.1M414.9 587.3h.1M399.8 596.5h.1M423.8 598.2h.1M413.9 595.0h.1M418.1 589.7h.1M424.9 597.7h.1M410.1 600.1h.1M414.0 593.5h.1M405.3 596.8h.1M416.2 603.1h.1M398.5 600.5h.1M408.6 598.5h.1M411.3 594.8h.1M402.2 601.1h.1M422.9 599.8h.1M408.2 599.8h.1M416.1 594.6h.1M422.0 599.1h.1M404.4 602.6h.1M407.9 602.0h.1M404.7 603.5h.1M407.9 599.0h.1M413.0 593.2h.1M413.5 597.6h.1M422.2 592.0h.1M402.7 597.5h.1M420.2 596.3h.1M411.4 598.3h.1M398.4 595.4h.1M418.8 593.6h.1M421.2 597.9h.1M413.8 597.8h.1M414.0 601.6h.1M397.1 591.7h.1M401.4 596.1h.1M422.6 592.6h.1M405.4 600.4h.1M408.9 600.6h.1M409.8 596.1h.1M403.4 594.1h.1M424.7 597.9h.1M424.0 600.4h.1M422.8 601.6h.1M416.0 599.4h.1M423.2 595.0h.1M419.2 594.4h.1M417.4 592.3h.1M424.2 596.6h.1M414.9 597.3h.1M398.0 603.3h.1M425.5 591.4h.1M399.7 595.7h.1M416.9 597.0h.1M399.3 599.1h.1M400.7 598.7h.1M422.1 601.7h.1M416.7 593.4h.1M408.8 597.4h.1M398.3 599.5h.1M398.5 596.0h.1M398.1 602.0h.1M412.6 593.1h.1M398.2 597.0h.1M408.0 600.6h.1M416.9 591.1h.1M405.0 600.1h.1M398.6 603.0h.1M409.6 595.0h.1M397.4 599.1h.1M404.7 592.6h.1M420.2 594.2h.1M415.0 599.2h.1M404.9 596.1h.1M406.4 598.8h.1M410.9 599.1h.1M407.4 594.9h.1M417.9 603.1h.1M423.3 591.1h.1M413.7 595.1h.1M423.4 592.4h.1M411.2 603.5h.1M418.9 597.0h.1M413.5 593.3h.1M409.4 598.7h.1M424.5 599.5h.1M406.1 600.9h.1M410.1 601.1h.1M414.2 599.9h.1M409.4 600.1h.1M412.8 591.5h.1M425.5 596.9h.1M399.4 600.5h.1M399.4 598.2h.1M396.8 597.0h.1M395.7 589.5h.1M401.4 597.8h.1M425.7 599.9h.1M398.0 593.3h.1M401.9 600.1h.1M405.9 595.1h.1M419.5 590.5h.1M416.7 595.3h.1M396.4 599.0h.1M415.8 598.2h.1M413.7 590.5h.1M408.2 600.9h.1M399.2 598.3h.1M404.7 597.3h.1M422.4 590.9h.1M421.6 594.6h.1M400.1 587.7h.1M417.9 593.0h.1M399.3 593.2h.1M411.0 601.8h.1M423.6 592.6h.1M419.3 600.0h.1M421.2 597.9h.1M417.3 592.0h.1M407.6 597.0h.1M406.7 594.0h.1M413.6 600.1h.1M400.5 599.7h.1M413.2 601.5h.1M410.4 592.9h.1M425.7 595.6h.1M404.6 593.5h.1M413.8 595.8h.1M404.9 595.7h.1M406.0 597.3h.1M409.2 591.5h.1M397.2 592.5h.1M405.5 597.0h.1M423.2 600.6h.1M423.7 594.6h.1M410.5 587.4h.1M414.5 600.7h.1M403.9 601.6h.1M412.4 597.1h.1M407.8 601.5h.1M421.9 589.5h.1M403.5 595.9h.1M410.8 593.2h.1M408.2 596.1h.1M396.5 599.2h.1M416.3 599.3h.1M413.2 596.1h.1M402.3 595.2h.1M423.7 597.8h.1M412.5 598.4h.1M409.8 602.1h.1M413.1 590.9h.1M408.9 585.6h.1M399.3 601.1h.1M410.3 597.1h.1M398.5 591.1h.1M420.4 602.2h.1M400.9 594.0h.1M422.7 596.6h.1M416.9 597.0h.1M416.6 597.3h.1M397.7 592.2h.1M396.8 593.0h.1M406.0 591.4h.1M418.6 593.1h.1M416.5 599.5h.1M416.4 595.1h.1M416.4 594.7h.1M419.2 596.4h.1M413.4 590.9h.1M403.5 607.5h.1M403.6 596.6h.1M415.5 596.5h.1M404.3 592.3h.1M406.5 600.8h.1M411.6 602.6h.1M425.9 598.7h.1M415.6 607.5h.1M412.3 597.7h.1M410.7 597.5h.1M399.4 595.0h.1M423.4 594.0h.1M415.5 604.0h.1M416.3 598.8h.1M402.1 592.7h.1M422.7 600.5h.1M407.9 600.1h.1M424.1 587.3h.1M414.4 597.2h.1M417.1 595.0h.1M421.2 591.8h.1M406.5 603.1h.1M420.7 593.8h.1M414.6 600.9h.1M399.5 600.2h.1M408.8 598.5h.1M415.3 605.7h.1M399.5 594.7h.1M417.1 597.5h.1M398.8 598.0h.1M422.6 595.0h.1M413.0 591.8h.1M414.7 600.1h.1M423.1 599.0h.1M396.8 596.7h.1M411.8 595.1h.1M401.2 598.2h.1M408.6 597.3h.1M425.1 598.8h.1M405.1 600.2h.1M406.8 597.5h.1M425.3 600.1h.1M400.1 600.4h.1M409.4 590.4h.1M416.2 584.8h.1M397.3 593.2h.1M418.6 598.8h.1M424.8 590.9h.1M397.2 592.0h.1M397.8 592.7h.1M411.9 599.0h.1M407.1 591.3h.1M420.4 598.8h.1M403.2 595.4h.1M420.4 596.4h.1M425.4 591.9h.1M425.0 592.9h.1M398.4 594.8h.1M396.1 593.8h.1M398.4 599.7h.1M402.7 601.3h.1M406.4 591.8h.1M399.2 604.9h.1M418.6 592.8h.1M416.2 595.1h.1M412.4 593.6h.1M395.8 596.0h.1M399.2 599.3h.1M417.4 593.1h.1M419.3 597.6h.1M414.9 592.5h.1M401.1 589.2h.1M409.5 602.5h.1M418.4 599.2h.1M396.7 596.2h.1M420.3 597.6h.1M414.0 596.6h.1M424.0 602.4h.1M422.0 595.6h.1M406.9 597.3h.1M403.7 595.9h.1M421.1 592.8h.1M404.4 604.0h.1M411.9 590.9h.1M396.9 599.0h.1M399.6 589.3h.1M417.7 599.3h.1M404.5 598.7h.1M400.2 589.6h.1M410.6 587.5h.1M424.1 596.0h.1M404.3 598.9h.1M420.3 594.6h.1M422.0 599.5h.1M413.8 590.1h.1M400.2 601.9h.1M401.7 593.5h.1M416.2 593.3h.1M420.2 595.3h.1M417.4 594.1h.1M403.0 599.6h.1M407.4 598.6h.1M411.1 600.8h.1M407.3 600.5h.1M425.2 588.6h.1M420.1 597.2h.1M413.9 595.6h.1M423.0 594.7h.1M424.9 597.6h.1M402.2 596.1h.1M405.3 598.2h.1M398.8 599.7h.1M413.5 599.0h.1M420.8 593.7h.1M421.6 589.1h.1M403.3 593.3h.1M414.1 596.3h.1M425.4 595.8h.1M403.4 589.8h.1M410.1 595.8h.1M399.8 605.0h.1M410.6 596.1h.1M405.6 600.2h.1M425.2 596.2h.1M418.6 599.8h.1M398.5 601.6h.1M410.6 597.5h.1M410.8 596.3h.1M424.9 599.7h.1M419.9 598.8h.1M420.9 591.1h.1M412.0 595.4h.1M416.2 602.2h.1M402.5 596.1h.1M402.6 590.9h.1M419.6 596.7h.1M404.0 597.5h.1M418.7 598.0h.1M396.9 601.4h.1M420.0 596.6h.1M425.2 595.7h.1M399.2 600.7h.1M399.9 599.3h.1M417.3 603.1h.1M416.8 596.8h.1M424.8 593.5h.1M411.7 595.9h.1M403.5 604.0h.1M396.3 597.2h.1M425.5 594.0h.1M420.8 591.0h.1M413.8 605.5h.1M412.1 594.7h.1M414.5 604.9h.1M404.4 595.5h.1M405.8 599.9h.1M423.7 591.2h.1M418.0 593.7h.1M397.5 591.5h.1M398.1 592.8h.1M423.7 595.4h.1M425.0 596.2h.1M408.2 601.8h.1M396.5 587.2h.1M403.9 593.5h.1M417.2 596.6h.1M406.6 592.7h.1M419.2 596.9h.1M411.9 590.5h.1M409.2 602.0h.1M425.6 597.3h.1M416.7 597.7h.1M422.6 599.7h.1M417.7 597.5h.1M417.2 590.6h.1M421.9 594.2h.1M413.1 594.6h.1M405.9 598.7h.1M420.4 598.7h.1M402.8 593.9h.1M425.3 599.9h.1M408.1 598.0h.1M416.9 602.3h.1M397.0 598.6h.1M401.8 590.5h.1M401.7 599.3h.1M415.5 598.8h.1M405.0 597.1h.1M398.2 598.9h.1M420.5 591.4h.1M409.8 595.7h.1M423.8 595.8h.1M405.1 591.9h.1M407.8 590.6h.1M406.2 597.4h.1M422.9 589.0h.1M407.8 594.2h.1M413.8 600.5h.1M416.1 599.1h.1M403.2 591.9h.1M419.1 597.5h.1M398.5 589.5h.1M407.9 599.1h.1M400.5 593.8h.1M396.9 596.8h.1M406.1 595.8h.1M409.6 598.8h.1M418.0 600.2h.1M397.9 594.4h.1M414.6 601.8h.1M412.7 595.7h.1M423.9 599.8h.1M410.2 595.5h.1M399.4 601.4h.1M413.1 601.9h.1M395.9 595.0h.1M421.1 596.6h.1M404.2 597.8h.1M412.2 608.7h.1M408.0 596.9h.1M395.9 592.6h.1M396.2 587.0h.1M400.7 599.8h.1M407.3 599.3h.1M396.9 603.7h.1M404.3 595.2h.1M414.5 589.4h.1M403.0 597.8h.1M424.4 595.5h.1M412.6 591.0h.1M415.6 604.8h.1M410.5 597.8h.1M401.6 592.9h.1M419.5 601.3h.1M402.0 587.9h.1M398.0 605.0h.1M407.8 602.8h.1M411.3 594.7h.1M409.5 602.7h.1M406.1 599.6h.1M398.1 598.7h.1M409.8 596.3h.1M416.5 592.5h.1M417.9 595.3h.1M403.1 595.6h.1M424.6 592.2h.1M421.4 597.7h.1M409.4 605.0h.1M406.1 598.2h.1M397.0 599.1h.1M402.3 592.3h.1M423.1 600.1h.1M416.8 605.8h.1M421.8 594.0h.1M404.7 602.0h.1M406.9 598.2h.1M425.6 605.7h.1M404.3 598.3h.1M416.1 595.8h.1M418.8 591.8h.1M421.2 601.5h.1M425.5 601.3h.1M420.4 591.8h.1M398.6 594.1h.1M412.6 595.7h.1M423.8 599.0h.1M403.6 599.4h.1M412.1 604.1h.1M422.2 600.2h.1M408.6 604.3h.1M422.3 593.4h.1M406.4 594.4h.1M399.1 595.5h.1M422.9 595.7h.1M403.5 595.2h.1M410.3 600.2h.1M423.7 599.5h.1M412.1 598.3h.1M411.4 600.1h.1M415.7 592.9h.1M415.8 593.4h.1M402.2 600.0h.1M399.4 602.8h.1M399.3 595.5h.1M421.0 592.8h.1M419.6 598.5h.1M404.6 593.9h.1M415.6 590.1h.1M400.9 601.8h.1M414.2 601.1h.1M406.8 601.4h.1M425.4 594.2h.1M401.5 602.4h.1M400.5 586.8h.1M401.7 593.4h.1M413.5 597.1h.1M399.0 598.7h.1M399.1 597.4h.1M406.1 598.0h.1M400.5 591.8h.1M413.1 582.0h.1M426.2 594.1h.1M423.2 591.9h.1M426.4 589.7h.1M417.0 582.1h.1M420.1 597.3h.1M430.1 599.3h.1M420.6 584.4h.1M427.3 598.7h.1M423.4 599.7h.1M426.3 598.8h.1M429.6 582.7h.1M420.7 590.6h.1M419.2 610.3h.1M425.2 598.1h.1M427.2 593.0h.1M427.4 593.2h.1M427.0 599.2h.1M429.5 582.9h.1M419.5 588.9h.1M420.0 597.8h.1M428.0 592.1h.1M428.4 601.8h.1M421.0 600.0h.1M430.1 591.1h.1M413.9 599.2h.1M424.9 599.7h.1M426.0 594.4h.1M423.6 588.5h.1M432.4 607.0h.1M423.0 588.2h.1M425.6 607.4h.1M423.9 588.4h.1M427.9 596.9h.1M420.1 593.2h.1M424.4 586.1h.1M425.0 604.9h.1M428.4 604.7h.1M427.0 594.2h.1M426.4 604.5h.1M423.9 599.0h.1M420.9 595.0h.1M421.5 586.5h.1M425.5 612.3h.1M416.2 591.1h.1M424.6 589.1h.1M424.4 601.6h.1M416.5 594.1h.1M426.3 599.4h.1M431.8 596.6h.1M429.2 590.5h.1M419.7 590.7h.1M421.8 602.0h.1M427.1 595.1h.1M419.7 596.1h.1M421.9 592.0h.1M416.0 607.3h.1M426.3 618.4h.1M435.7 595.4h.1M433.6 591.7h.1M436.1 594.6h.1M415.6 594.9h.1M427.3 608.5h.1M428.1 609.0h.1M424.6 583.0h.1M424.5 588.1h.1M427.5 578.2h.1M419.4 585.8h.1M424.2 603.2h.1M422.4 584.7h.1M421.5 593.8h.1M428.9 596.0h.1M429.9 572.6h.1M431.7 612.5h.1M421.4 616.4h.1M416.8 602.5h.1M418.0 590.2h.1M426.0 596.8h.1M425.1 593.6h.1M415.5 582.2h.1M420.0 587.1h.1M421.7 581.5h.1M423.2 598.9h.1M421.5 605.6h.1M424.7 602.4h.1M419.8 596.7h.1M417.4 580.0h.1M415.9 591.8h.1M424.8 611.9h.1M425.2 592.1h.1M428.5 595.9h.1M423.8 596.1h.1M428.1 607.8h.1M417.4 595.8h.1M421.7 595.2h.1M434.4 593.2h.1M412.8 601.9h.1M421.6 587.7h.1M433.7 611.0h.1M428.4 597.1h.1M420.5 606.7h.1M422.7 596.9h.1M423.0 596.3h.1M414.9 585.3h.1M418.0 577.7h.1M418.5 591.1h.1M422.9 594.4h.1M421.8 603.3h.1M414.5 590.8h.1M422.7 588.1h.1M429.9 594.1h.1M428.7 599.4h.1M422.5 602.9h.1M417.2 585.3h.1M422.0 575.9h.1M421.8 593.4h.1M415.9 586.7h.1M417.9 613.9h.1M429.4 599.8h.1M424.7 605.6h.1M424.2 604.9h.1M427.7 611.9h.1M428.5 590.5h.1M426.5 604.0h.1M426.8 612.5h.1M425.1 591.7h.1M427.7 604.2h.1M423.7 599.2h.1M424.4 597.1h.1M425.4 591.8h.1M427.1 597.9h.1M431.6 597.4h.1M424.3 585.3h.1M433.9 593.2h.1M421.5 592.8h.1M423.8 594.2h.1M431.4 591.2h.1M422.7 591.4h.1M426.5 581.9h.1M428.3 592.1h.1M417.4 606.8h.1M417.8 600.6h.1M423.9 589.7h.1M416.3 589.3h.1M427.2 594.4h.1M421.2 602.7h.1M423.9 595.6h.1M419.9 583.9h.1M421.7 597.3h.1M421.9 597.4h.1M422.6 593.0h.1M423.6 597.7h.1M413.7 594.8h.1M422.9 591.4h.1M428.2 604.1h.1M428.9 600.7h.1M425.8 595.9h.1M427.2 589.7h.1M423.2 597.4h.1M423.1 585.0h.1M423.3 591.6h.1M420.9 599.8h.1M428.6 595.6h.1M418.6 593.5h.1M422.9 586.5h.1M421.0 596.0h.1M421.1 598.4h.1M417.9 600.0h.1M420.6 595.8h.1M423.8 590.8h.1M428.4 580.7h.1M424.6 599.9h.1M422.6 594.3h.1M418.6 594.4h.1M424.5 590.1h.1M423.8 591.9h.1M419.1 594.1h.1M420.2 601.7h.1M420.2 605.8h.1M423.6 594.6h.1M420.4 598.2h.1M419.1 582.5h.1M425.7 578.2h.1M428.9 590.5h.1M430.8 596.6h.1M431.1 583.2h.1M421.7 596.8h.1M421.2 595.3h.1M423.0 599.9h.1M430.2 577.7h.1M426.5 585.6h.1M431.1 583.1h.1M419.9 598.7h.1M422.9 600.1h.1M425.4 588.7h.1M416.3 603.8h.1M422.7 593.8h.1M422.3 592.6h.1M420.4 595.1h.1M424.8 584.9h.1M416.6 599.1h.1M427.7 590.4h.1M423.0 590.8h.1M425.5 594.1h.1M421.2 588.7h.1M425.7 597.6h.1M421.8 597.8h.1M409.7 591.2h.1M424.5 578.7h.1M421.1 596.5h.1M429.4 597.7h.1M418.1 601.6h.1M422.4 601.2h.1M417.4 581.8h.1M416.5 599.3h.1M429.1 596.6h.1M424.5 593.8h.1M424.6 586.7h.1M429.3 600.9h.1M428.1 594.0h.1M427.5 602.3h.1M435.1 603.1h.1M420.3 588.4h.1M427.7 598.6h.1M426.2 595.1h.1M420.0 595.8h.1M417.1 596.9h.1M434.1 600.4h.1M419.8 587.9h.1M434.7 599.8h.1M421.4 599.2h.1M422.2 586.4h.1M424.4 598.7h.1M429.6 584.9h.1M430.5 592.8h.1M414.7 602.4h.1M428.3 598.9h.1M427.5 587.7h.1M426.1 581.9h.1M420.7 614.5h.1M431.3 597.8h.1M426.0 595.4h.1M426.6 596.3h.1M419.5 591.9h.1M415.0 587.9h.1M423.0 597.6h.1M434.0 582.0h.1M433.4 591.4h.1M421.8 594.1h.1M433.8 586.2h.1M422.0 599.0h.1M428.1 597.8h.1M424.3 602.4h.1M419.3 607.0h.1M421.5 597.7h.1M419.5 589.9h.1M428.3 599.2h.1M422.9 601.0h.1M438.6 575.6h.1M414.3 596.2h.1M415.9 602.7h.1M420.0 594.7h.1M419.9 610.9h.1M430.8 581.5h.1M426.8 592.3h.1M430.5 597.3h.1M420.3 591.3h.1M424.0 608.0h.1M424.2 590.6h.1M421.9 601.4h.1M422.4 608.4h.1M427.8 595.9h.1M424.3 592.2h.1M412.9 603.9h.1M430.7 593.2h.1M425.1 584.2h.1M422.9 596.2h.1M423.4 595.2h.1M428.3 600.3h.1M427.4 590.2h.1M421.4 594.8h.1M416.4 583.5h.1M425.3 594.8h.1M424.2 604.0h.1M413.9 597.9h.1M422.7 584.5h.1M426.9 605.8h.1M417.0 595.1h.1M428.2 595.1h.1M421.7 602.4h.1M415.9 594.4h.1M420.8 594.2h.1M418.0 596.2h.1M429.5 598.3h.1M417.8 590.8h.1M420.3 583.2h.1M427.2 598.7h.1M423.0 606.3h.1M427.1 590.2h.1M424.0 593.7h.1M423.7 605.1h.1M429.6 587.3h.1M432.8 582.3h.1M422.6 613.8h.1M426.9 604.0h.1M424.4 598.8h.1M420.8 606.3h.1M422.9 590.7h.1M416.9 611.9h.1M416.9 586.9h.1M426.0 595.1h.1M431.8 599.8h.1M425.3 588.7h.1M426.3 583.6h.1M420.3 605.6h.1M425.1 585.8h.1M420.9 593.8h.1M425.3 596.4h.1M427.6 571.6h.1M427.1 580.2h.1M421.7 595.9h.1M428.6 590.0h.1M417.7 588.4h.1M425.0 613.7h.1M418.1 590.9h.1M420.5 603.7h.1M426.4 593.6h.1M425.2 607.2h.1M422.5 586.1h.1M423.9 585.3h.1M424.9 601.7h.1M422.1 602.2h.1M429.4 609.3h.1M422.2 599.5h.1M427.6 601.3h.1M428.2 598.8h.1M427.0 602.1h.1M426.1 599.5h.1M425.1 594.5h.1M415.5 594.4h.1M424.0 590.7h.1M421.8 604.8h.1M422.6 577.3h.1M421.4 594.0h.1M429.5 597.4h.1M426.2 590.8h.1M421.2 582.6h.1M426.8 595.2h.1M420.6 595.5h.1M428.9 602.3h.1M427.5 604.0h.1M425.0 595.0h.1M423.8 598.8h.1M416.0 597.2h.1M424.0 588.1h.1M421.3 604.1h.1M422.1 594.3h.1M430.7 587.5h.1M423.7 591.7h.1M421.5 593.6h.1M426.4 592.9h.1M428.2 600.8h.1M418.9 595.5h.1M423.0 584.9h.1M415.7 602.9h.1M425.2 604.5h.1M431.0 601.0h.1M425.5 605.0h.1M423.3 592.0h.1M428.3 600.1h.1M421.5 591.8h.1M418.1 611.3h.1M422.1 591.2h.1M421.1 591.0h.1M424.4 595.3h.1M427.5 575.6h.1M424.5 608.0h.1M424.1 590.4h.1M432.9 591.0h.1M427.0 596.9h.1M423.2 587.2h.1M424.6 596.6h.1M432.1 583.2h.1M416.8 599.3h.1M417.0 572.9h.1M422.3 603.9h.1M415.5 583.3h.1M430.6 588.1h.1M419.8 593.7h.1M431.1 593.5h.1M427.4 593.7h.1M418.9 597.0h.1M415.6 603.0h.1M416.5 596.0h.1M414.1 594.2h.1M425.7 589.2h.1M432.7 594.9h.1M425.8 583.5h.1M421.5 596.7h.1M427.2 599.5h.1M417.4 583.4h.1M418.7 603.7h.1M415.8 585.4h.1M424.4 594.5h.1M423.5 588.5h.1M425.4 594.0h.1M422.9 596.7h.1M422.7 593.4h.1M428.9 600.4h.1M424.1 596.0h.1M430.0 584.5h.1M415.0 595.2h.1M416.0 586.6h.1M424.8 596.5h.1M422.2 589.0h.1M417.1 589.4h.1M420.0 594.6h.1M428.0 592.6h.1M418.6 598.2h.1M429.3 597.3h.1M421.7 591.9h.1M422.3 586.8h.1M427.9 592.5h.1M432.5 604.3h.1M421.6 614.8h.1M421.6 588.8h.1M415.7 594.9h.1M425.5 592.1h.1M423.3 598.5h.1M420.2 594.5h.1M422.6 606.6h.1M426.8 594.1h.1M419.1 593.8h.1M420.1 592.1h.1M425.4 601.2h.1M428.3 590.4h.1M424.6 594.6h.1M427.6 611.9h.1M428.4 601.9h.1M424.9 598.9h.1M385.8 609.5h.1M392.2 606.6h.1M393.7 597.6h.1M391.4 613.3h.1M395.3 608.4h.1M394.7 600.8h.1M398.1 591.0h.1M391.6 601.1h.1M391.2 608.7h.1M393.2 614.5h.1M399.5 610.9h.1M389.5 607.1h.1M390.1 600.9h.1M391.4 614.3h.1M390.0 609.5h.1M390.2 613.7h.1M396.8 595.9h.1M395.4 600.3h.1M394.0 606.3h.1M395.8 597.3h.1M399.5 609.7h.1M390.5 616.8h.1M397.6 611.0h.1M391.0 600.8h.1M389.7 619.4h.1M393.0 606.8h.1M391.5 616.4h.1M391.5 613.6h.1M386.6 601.0h.1M394.0 599.6h.1M399.5 591.2h.1M394.2 611.1h.1M394.4 606.5h.1M393.7 602.2h.1M383.3 621.4h.1M392.7 620.9h.1M392.7 615.5h.1M397.6 602.7h.1M384.7 616.1h.1M399.5 595.5h.1M391.0 606.4h.1M391.9 611.7h.1M392.4 611.6h.1M390.0 594.9h.1M399.2 609.0h.1M394.2 598.1h.1M394.4 606.7h.1M394.5 608.0h.1M396.5 617.8h.1M391.6 604.1h.1M395.3 595.9h.1M390.3 604.2h.1M385.5 621.9h.1M391.9 605.4h.1M388.7 611.3h.1M391.2 597.9h.1M394.0 618.9h.1M387.6 606.8h.1M400.4 605.5h.1M390.3 619.4h.1M393.6 614.2h.1M398.6 612.1h.1M393.9 621.9h.1M387.6 598.3h.1M392.0 602.3h.1M392.2 592.5h.1M387.2 612.6h.1M392.1 610.3h.1M391.4 606.9h.1M387.5 620.7h.1M396.5 596.7h.1M391.2 609.8h.1M391.3 606.7h.1M393.5 592.8h.1M395.4 610.7h.1M389.4 605.6h.1M392.5 605.0h.1M393.0 595.3h.1M393.0 610.3h.1M394.2 610.5h.1M390.8 608.2h.1M396.2 607.7h.1M393.6 607.6h.1M394.7 597.2h.1M392.6 613.7h.1M389.7 611.5h.1M391.2 603.8h.1M388.9 600.1h.1M396.9 595.8h.1M393.3 596.6h.1M399.9 612.5h.1M390.0 598.3h.1M391.8 609.7h.1M398.6 618.4h.1M389.4 608.9h.1M396.0 601.6h.1M391.1 614.3h.1M388.0 607.4h.1M392.5 604.9h.1M392.9 594.5h.1M395.7 603.6h.1M399.6 622.5h.1M391.2 622.1h.1M397.8 600.8h.1M391.9 616.4h.1M390.3 604.4h.1M384.0 596.2h.1M388.7 601.6h.1M390.3 609.1h.1M393.7 604.3h.1M388.0 609.0h.1M394.9 606.7h.1M397.6 603.6h.1M395.7 609.2h.1M397.4 619.7h.1M388.7 593.1h.1M396.4 609.6h.1M394.0 603.7h.1M390.2 616.4h.1M394.4 602.9h.1M393.0 609.4h.1M388.2 602.2h.1M394.6 608.2h.1M388.0 609.5h.1M399.7 611.9h.1M388.2 603.5h.1M390.6 601.1h.1M389.9 602.6h.1M392.5 597.5h.1M396.0 609.6h.1M399.6 613.6h.1M396.1 611.1h.1M392.4 598.8h.1M395.1 607.9h.1M390.5 610.3h.1M393.9 602.1h.1M397.9 603.4h.1M393.2 615.4h.1M391.0 604.7h.1M394.4 604.6h.1M391.1 598.4h.1M393.6 604.2h.1M395.7 615.0h.1M392.7 613.1h.1M390.4 619.5h.1M390.9 606.2h.1M391.5 603.4h.1M395.6 607.2h.1M389.7 613.1h.1M392.9 611.6h.1M393.5 603.7h.1M386.5 604.9h.1M389.7 616.5h.1M392.1 618.6h.1M400.8 616.2h.1M401.1 600.0h.1M391.1 599.2h.1M388.1 597.3h.1M395.9 601.1h.1M391.7 611.6h.1M391.4 619.2h.1M397.0 612.7h.1M398.6 611.3h.1M393.5 615.7h.1M396.4 596.8h.1M396.7 615.1h.1M385.0 622.9h.1M393.4 618.1h.1M388.7 608.9h.1M390.4 600.8h.1M393.8 596.1h.1M392.7 612.6h.1M390.2 598.9h.1M394.8 614.3h.1M396.0 603.1h.1M391.4 617.8h.1M395.9 609.8h.1M393.6 606.0h.1M394.9 612.7h.1M393.0 609.4h.1M388.0 606.2h.1M398.3 609.0h.1M388.1 603.7h.1M393.1 618.4h.1M400.2 607.0h.1M392.3 608.3h.1M389.0 617.4h.1M388.7 612.9h.1M391.2 599.3h.1M394.0 620.1h.1M388.6 609.0h.1M390.4 615.5h.1M387.7 597.5h.1M391.5 597.4h.1M396.2 595.9h.1M393.0 603.5h.1M396.2 603.3h.1M392.2 620.3h.1M395.1 617.0h.1M397.7 611.1h.1M393.9 594.5h.1M386.8 604.2h.1M393.8 615.9h.1M390.1 604.8h.1M400.0 598.8h.1M392.2 606.5h.1M390.4 618.8h.1M387.3 605.1h.1M387.0 601.9h.1M398.2 591.9h.1M387.0 607.4h.1M394.1 601.7h.1M394.3 605.8h.1M391.5 608.0h.1M397.1 598.3h.1M395.8 609.5h.1M392.1 601.7h.1M394.0 613.5h.1M389.6 613.0h.1M392.9 613.7h.1M393.7 605.8h.1M393.5 612.3h.1M387.8 607.4h.1M384.4 608.9h.1M391.1 607.5h.1M396.3 614.5h.1M397.8 614.5h.1M392.1 601.2h.1M401.8 602.1h.1M391.6 610.6h.1M390.0 608.5h.1M393.5 603.2h.1M389.2 607.6h.1M394.3 599.8h.1M393.3 608.1h.1M389.7 610.5h.1M388.1 614.3h.1M390.3 615.2h.1M393.2 607.8h.1M388.2 613.1h.1M389.0 624.4h.1M394.3 608.9h.1M392.9 612.6h.1M394.4 610.4h.1M395.8 606.2h.1M398.4 595.7h.1M387.1 611.8h.1M392.7 595.7h.1M388.6 601.8h.1M397.2 612.3h.1M387.1 597.0h.1M393.3 597.9h.1M390.7 602.8h.1M393.0 611.8h.1M390.4 603.3h.1M393.7 619.8h.1M394.2 604.5h.1M396.1 606.3h.1M388.1 612.4h.1M398.5 598.7h.1M395.5 597.9h.1M392.5 606.4h.1M391.6 606.5h.1M395.2 603.4h.1M392.0 605.0h.1M393.8 602.4h.1M395.5 609.6h.1M390.8 597.5h.1M391.9 615.1h.1M395.0 607.4h.1M399.8 619.2h.1M394.6 618.0h.1M391.9 604.5h.1M393.6 592.8h.1M392.9 603.4h.1M397.5 611.6h.1M398.2 603.8h.1M397.9 608.4h.1M394.7 610.4h.1M388.4 614.3h.1M391.3 612.2h.1M392.7 599.7h.1M391.7 609.5h.1M391.8 620.3h.1M397.0 608.0h.1M391.6 618.4h.1M393.0 616.2h.1M388.1 592.0h.1M395.5 614.3h.1M392.3 606.0h.1M394.4 611.3h.1M392.6 607.4h.1M393.6 615.6h.1M395.3 587.4h.1M394.1 604.9h.1M396.6 612.8h.1M391.0 606.6h.1M384.7 606.3h.1M389.0 608.2h.1M390.3 616.8h.1M397.3 604.5h.1M389.8 617.2h.1M388.1 604.6h.1M391.5 609.1h.1M393.0 600.2h.1M395.9 610.2h.1M394.0 619.4h.1M399.4 609.2h.1M391.4 605.1h.1M392.4 599.0h.1M390.4 603.3h.1M394.6 613.0h.1M384.3 594.9h.1M390.7 599.0h.1M392.7 593.7h.1M392.0 608.8h.1M394.2 603.9h.1M394.3 613.0h.1M391.6 599.1h.1M391.0 609.5h.1M393.8 594.2h.1M387.6 594.8h.1M399.1 610.5h.1M393.4 598.1h.1M385.5 622.9h.1M395.0 588.2h.1M398.4 610.2h.1M392.7 609.2h.1M395.9 591.9h.1M393.8 597.4h.1M391.4 605.6h.1M391.3 601.5h.1M393.4 604.1h.1M393.7 613.0h.1M389.8 605.7h.1M389.8 613.5h.1M395.3 615.1h.1M396.5 608.1h.1M389.3 601.4h.1M397.0 608.2h.1M395.6 602.8h.1M392.0 622.0h.1M396.2 595.0h.1M390.4 608.3h.1M396.5 614.7h.1M395.8 616.7h.1M395.2 613.8h.1M389.8 597.9h.1M391.0 617.0h.1M397.5 598.9h.1M391.8 607.8h.1M394.8 609.8h.1M398.0 609.2h.1M392.1 605.3h.1M396.6 605.3h.1M394.6 604.0h.1M388.8 590.7h.1M391.8 601.0h.1M395.6 604.3h.1M389.6 612.8h.1M391.3 623.3h.1M391.2 607.8h.1M390.1 619.0h.1M393.8 605.4h.1M392.5 591.2h.1M397.2 607.2h.1M396.9 600.7h.1M397.8 602.2h.1M392.9 622.7h.1M391.1 607.4h.1M392.3 608.1h.1M393.3 606.0h.1M394.3 603.8h.1M397.4 612.5h.1M388.9 603.1h.1M391.7 614.5h.1M386.1 615.7h.1M386.0 602.4h.1M389.8 604.5h.1M395.5 614.3h.1M392.4 605.6h.1M389.4 616.2h.1M391.1 628.1h.1M387.4 602.1h.1M395.2 621.3h.1M391.7 610.6h.1M390.7 608.9h.1M385.5 612.2h.1M391.0 610.5h.1M392.4 599.7h.1M387.4 599.6h.1M392.6 612.8h.1M396.7 614.7h.1M400.0 614.9h.1M399.1 613.3h.1M393.9 593.9h.1M396.2 606.1h.1M391.5 597.0h.1M401.8 596.4h.1M423.2 589.7h.1M410.8 583.8h.1M402.8 585.9h.1M403.5 581.8h.1M411.6 595.4h.1M424.6 585.1h.1M431.4 604.8h.1M416.4 584.0h.1M419.8 581.6h.1M405.9 598.2h.1M413.0 606.9h.1M421.3 600.3h.1M428.9 595.0h.1M414.7 599.2h.1M405.1 586.1h.1M405.0 602.8h.1M421.7 586.2h.1M430.0 585.3h.1M408.3 590.4h.1M426.8 598.1h.1M433.6 601.8h.1M426.9 601.3h.1M425.6 595.8h.1M432.4 601.8h.1M418.2 598.2h.1M417.4 590.8h.1M423.2 604.4h.1M422.7 582.6h.1M414.2 592.8h.1M433.3 589.5h.1M411.0 582.9h.1M402.8 591.0h.1M415.2 596.7h.1M403.1 607.7h.1M428.6 586.0h.1M416.2 601.3h.1M405.1 587.6h.1M409.2 596.3h.1M425.5 603.5h.1M413.2 581.8h.1M405.0 591.3h.1M404.8 589.2h.1M427.1 594.6h.1M411.4 592.7h.1M428.7 608.8h.1M424.0 583.6h.1M428.0 605.7h.1M416.1 585.6h.1M423.5 603.9h.1M433.2 604.2h.1M409.3 585.8h.1M432.1 605.3h.1M423.5 582.7h.1M405.7 597.2h.1M432.5 601.6h.1M420.1 597.8h.1M416.9 604.7h.1M416.8 605.9h.1M415.9 594.3h.1M433.4 599.6h.1M416.1 581.4h.1M415.3 587.4h.1M414.9 582.4h.1M414.9 591.6h.1M427.7 590.1h.1M425.5 597.5h.1M421.1 603.2h.1M430.0 584.9h.1M410.8 582.2h.1M420.4 582.6h.1M411.2 606.4h.1M414.6 592.4h.1M410.5 603.2h.1M418.2 594.7h.1M429.3 585.6h.1M402.4 606.2h.1M427.0 601.9h.1M427.5 595.7h.1M404.8 586.5h.1M424.5 585.0h.1M421.0 592.4h.1M431.4 602.6h.1M413.2 584.5h.1M419.2 598.9h.1M402.9 594.6h.1M406.4 590.2h.1M425.7 606.9h.1M405.1 590.8h.1M418.2 607.5h.1M430.4 603.4h.1M406.8 602.2h.1M423.4 582.2h.1M415.0 595.4h.1M407.8 585.5h.1M414.9 581.2h.1M412.5 595.5h.1M410.5 595.7h.1M430.4 594.2h.1M414.1 600.1h.1M430.1 584.5h.1M428.3 606.5h.1M431.1 586.4h.1M430.5 590.5h.1M413.0 589.1h.1M427.1 598.8h.1M406.5 589.6h.1M420.4 604.4h.1M421.3 599.7h.1M411.7 605.0h.1M421.5 598.0h.1M410.9 597.1h.1M412.0 592.3h.1M431.9 593.5h.1M407.9 592.6h.1M409.1 600.9h.1M408.6 600.9h.1M416.6 592.7h.1M420.4 608.5h.1M420.8 587.0h.1M412.1 585.1h.1M422.1 606.6h.1M403.8 588.6h.1M405.5 595.9h.1M428.6 585.3h.1M428.3 592.3h.1M419.0 598.0h.1M431.8 607.5h.1M433.2 597.4h.1M432.4 603.1h.1M420.2 597.7h.1M411.7 585.5h.1M416.4 588.2h.1M401.9 607.2h.1M408.5 608.1h.1M417.8 588.3h.1M414.6 583.7h.1M419.5 589.8h.1M401.9 587.3h.1M415.2 606.8h.1M408.8 604.3h.1M415.9 590.8h.1M414.3 595.5h.1M412.1 598.2h.1M426.0 605.9h.1M415.2 597.4h.1M406.5 595.6h.1M430.0 586.4h.1M404.2 581.3h.1M409.9 591.6h.1M419.3 592.0h.1M433.3 596.9h.1M429.9 587.7h.1M409.7 596.2h.1M401.9 600.9h.1M412.0 601.1h.1M418.3 604.7h.1M408.3 607.4h.1M433.2 592.6h.1M420.3 581.2h.1" stroke="#2f62c8" stroke-width="0.9" stroke-linecap="round" opacity="0.6" fill="none"/>
<ellipse cx="391.7" cy="605.1" rx="4.2" ry="12" fill="url(#hot)"/>
<ellipse cx="424.6" cy="594.5" rx="5.5" ry="9" fill="url(#grn)"/>
<ellipse cx="393.0" cy="573.6" rx="3.5" ry="5" fill="url(#grn)"/>
<rect x="373.8" y="559.1" width="69.5" height="70.4" fill="none" stroke="#888" stroke-width="0.7"/>
<path d="M372.6 569.2h1.2M383.7 629.5v1.2M372.6 579.2h1.2M393.7 629.5v1.2M372.6 589.3h1.2M403.6 629.5v1.2M372.6 599.3h1.2M413.5 629.5v1.2M372.6 609.4h1.2M423.4 629.5v1.2M372.6 619.4h1.2M433.4 629.5v1.2" stroke="#222" stroke-width="0.8"/>
<polygon points="387.8,567.4 419.6,566.5 420.0,571.6 417.4,577.1 388.0,598.8" fill="none" stroke="#222" stroke-width="0.8"/>
<polygon points="400.8,591.1 418.1,578.1 425.3,577.5 435.8,587.9 429.8,614.9 400.8,614.9" fill="none" stroke="#222" stroke-width="0.8"/>
<polygon points="387.2,599.4 400.7,591.3 400.7,620.8 387.2,620.8" fill="none" stroke="#222" stroke-width="0.8"/>
<text x="391.1" y="566" font-size="4.4" font-weight="bold" textLength="23.4" lengthAdjust="spacingAndGlyphs">Gr-1+ 9077</text>
<text x="427.3" y="574.7" font-size="4.4" font-weight="bold" textLength="14" lengthAdjust="spacingAndGlyphs">F4/80+</text>
<text x="428.3" y="580.6" font-size="4.4" font-weight="bold">13642</text>
<text x="377.9" y="625.4" font-size="4.4" font-weight="bold" textLength="36.5" lengthAdjust="spacingAndGlyphs">Gr-1- F4/80- 20362</text>
<text x="478.2" y="555.2" font-size="8.2" text-anchor="middle">Heme-Hx</text>
<g filter="url(#bl)" fill="#3a6cd0"><ellipse cx="462.5" cy="607.1" rx="5.5" ry="13" opacity="0.65"/><ellipse cx="480.5" cy="597.1" rx="10" ry="5.5" opacity="0.40"/><ellipse cx="494.5" cy="596.1" rx="6.5" ry="11" opacity="0.60"/><ellipse cx="468.5" cy="573.1" rx="11" ry="5" opacity="0.50"/><ellipse cx="463.5" cy="585.1" rx="4" ry="9" opacity="0.40"/></g>
<path d="M460.1 578.0h.1M463.2 568.1h.1M464.8 582.0h.1M458.3 569.7h.1M460.7 593.7h.1M463.6 572.6h.1M461.2 568.5h.1M460.0 567.9h.1M466.9 586.5h.1M465.7 584.6h.1M460.6 588.7h.1M463.6 575.6h.1M458.3 580.8h.1M459.4 578.9h.1M457.3 567.0h.1M464.8 585.3h.1M462.8 579.0h.1M462.9 573.7h.1M464.4 593.3h.1M460.9 569.2h.1M462.5 567.8h.1M467.4 580.3h.1M463.5 582.5h.1M461.2 575.3h.1M459.7 596.4h.1M462.6 589.4h.1M466.2 578.8h.1M461.1 578.0h.1M463.3 573.4h.1M464.8 579.1h.1M460.5 586.5h.1M466.0 574.2h.1M462.0 579.7h.1M463.7 587.1h.1M462.1 573.9h.1M460.9 587.8h.1M467.1 582.4h.1M460.4 600.6h.1M465.3 575.4h.1M459.2 573.9h.1M469.9 590.7h.1M459.9 575.0h.1M461.5 571.0h.1M463.9 572.5h.1M461.8 585.5h.1M461.8 588.6h.1M461.1 590.1h.1M460.8 576.4h.1M458.7 583.6h.1M464.1 581.1h.1M466.0 586.0h.1M463.3 568.1h.1M462.0 583.8h.1M459.4 592.4h.1M463.2 592.7h.1M459.3 595.0h.1M465.9 582.1h.1M461.5 593.6h.1M460.0 579.3h.1M465.3 580.3h.1M460.4 572.0h.1M461.2 590.9h.1M469.3 573.3h.1M459.4 585.9h.1M462.0 577.7h.1M462.0 591.4h.1M464.4 575.1h.1M463.7 571.4h.1M465.3 565.1h.1M461.3 588.1h.1M466.8 585.0h.1M457.4 579.4h.1M464.8 586.0h.1M463.4 576.5h.1M457.5 577.2h.1M462.8 575.7h.1M460.3 584.0h.1M461.6 582.4h.1M465.1 575.4h.1M464.9 572.1h.1M464.6 584.1h.1M463.7 586.7h.1M463.0 567.3h.1M466.7 582.7h.1M463.0 581.4h.1M463.4 579.2h.1M459.0 571.7h.1M466.9 585.8h.1M459.7 593.6h.1M463.1 572.2h.1M460.5 575.8h.1M465.3 586.9h.1M461.8 579.1h.1M460.6 581.9h.1M459.8 587.9h.1M462.2 588.4h.1M466.4 583.4h.1M460.1 582.9h.1M460.2 589.5h.1M461.6 579.6h.1M457.1 586.3h.1M461.1 591.2h.1M463.7 580.5h.1M464.6 578.9h.1M460.4 580.6h.1M461.8 589.5h.1M460.7 572.5h.1M465.9 588.0h.1M461.5 582.0h.1M458.3 594.1h.1M461.1 563.9h.1M462.1 585.0h.1M464.1 582.9h.1M463.1 579.7h.1M462.2 579.1h.1M468.8 581.6h.1M462.8 564.7h.1M462.3 585.4h.1M464.2 568.7h.1M462.3 593.5h.1M462.0 579.4h.1M464.0 580.3h.1M461.1 575.9h.1M458.1 582.4h.1M463.9 585.8h.1M460.5 584.3h.1M459.8 568.1h.1M464.1 570.9h.1M458.9 578.4h.1M461.6 593.2h.1M465.1 597.5h.1M462.9 568.0h.1M459.2 583.2h.1M459.0 584.4h.1M465.1 585.7h.1M458.2 589.9h.1M466.8 589.2h.1M468.5 574.6h.1M462.1 587.8h.1M465.0 592.8h.1M462.1 575.5h.1M461.9 575.3h.1M462.7 578.3h.1M464.4 575.4h.1M464.8 574.8h.1M465.6 590.7h.1M462.4 579.3h.1M463.3 584.6h.1M459.9 586.6h.1M457.7 571.7h.1M459.4 582.6h.1M460.3 562.2h.1M465.2 576.4h.1M461.6 583.7h.1M463.4 585.7h.1M459.2 583.5h.1M464.9 587.0h.1M466.2 569.5h.1M465.5 569.5h.1M459.6 582.6h.1M468.4 590.6h.1M462.1 581.7h.1M465.2 571.2h.1M461.6 576.3h.1M465.5 585.5h.1M463.3 590.7h.1M461.8 573.8h.1M464.8 566.4h.1M463.2 580.9h.1M458.4 582.6h.1M460.3 591.9h.1M464.4 588.2h.1M465.0 581.0h.1M465.3 585.9h.1M463.9 589.6h.1M467.5 567.6h.1M461.3 569.4h.1M459.3 586.6h.1M460.0 579.4h.1M461.0 588.8h.1M466.6 582.0h.1M460.7 576.5h.1M462.0 568.1h.1M459.4 582.6h.1M463.1 582.4h.1M463.3 575.2h.1M462.2 573.0h.1M463.1 565.1h.1M463.8 582.9h.1M461.4 582.3h.1M465.1 581.6h.1M467.4 590.7h.1M462.8 579.5h.1M459.5 572.5h.1M463.0 582.0h.1M463.4 594.4h.1M463.5 584.2h.1M461.9 572.4h.1M461.3 580.3h.1M464.3 586.5h.1M459.9 580.2h.1M464.4 569.7h.1M474.9 571.6h.1M482.4 573.5h.1M481.9 569.1h.1M484.2 573.6h.1M473.1 571.1h.1M464.0 569.3h.1M479.6 573.0h.1M474.2 570.9h.1M482.1 569.4h.1M475.7 572.6h.1M482.2 575.6h.1M472.1 569.5h.1M479.3 573.0h.1M476.7 569.9h.1M483.6 571.4h.1M473.9 573.5h.1M478.4 574.7h.1M482.0 574.0h.1M462.0 569.9h.1M465.3 569.6h.1M477.0 574.2h.1M479.1 572.9h.1M480.4 573.5h.1M483.9 575.1h.1M466.2 570.4h.1M478.9 575.1h.1M478.6 572.1h.1M473.8 573.2h.1M484.9 569.4h.1M469.4 570.8h.1M481.9 574.6h.1M480.2 571.0h.1M480.9 572.1h.1M483.6 576.0h.1M479.8 570.6h.1M482.5 568.7h.1M483.6 575.0h.1M484.9 569.8h.1M470.4 571.0h.1M463.6 569.9h.1M483.7 574.6h.1M470.9 571.8h.1M483.6 568.9h.1M478.1 569.6h.1M482.1 576.6h.1M482.0 569.4h.1M474.6 568.7h.1M480.8 572.4h.1M468.8 571.4h.1M471.4 572.2h.1M466.3 571.3h.1M477.4 570.7h.1M482.0 575.9h.1M481.1 572.4h.1M473.7 570.0h.1M476.2 572.2h.1M470.6 570.9h.1M470.0 569.6h.1M468.3 571.2h.1M478.1 573.3h.1M478.2 571.2h.1M480.3 574.8h.1M468.0 569.4h.1M477.5 571.3h.1M482.0 575.3h.1M485.4 568.5h.1M478.8 570.8h.1M476.5 573.1h.1M481.3 572.7h.1M475.5 568.5h.1M473.5 573.4h.1M474.5 570.2h.1M476.9 568.6h.1M483.4 574.0h.1M477.2 570.4h.1M465.3 570.1h.1M480.1 568.4h.1M481.1 572.2h.1M467.1 569.3h.1M478.2 575.2h.1M459.7 569.1h.1M470.8 568.7h.1M482.6 570.0h.1M472.9 573.1h.1M485.2 568.9h.1M470.6 576.2h.1M470.5 574.3h.1M461.6 589.7h.1M465.2 587.0h.1M463.5 581.4h.1M474.5 576.0h.1M474.7 576.9h.1M459.7 580.3h.1M461.4 573.0h.1M460.9 584.4h.1M465.8 584.2h.1M468.6 572.2h.1M466.2 583.1h.1M472.7 578.6h.1M464.1 587.9h.1M471.3 574.4h.1M467.5 579.9h.1M466.3 576.0h.1M469.2 572.7h.1M466.9 583.3h.1M475.2 575.5h.1M470.8 579.7h.1M459.5 580.9h.1M471.6 575.9h.1M465.5 584.4h.1M467.4 576.7h.1M466.8 582.6h.1M464.3 575.4h.1M473.6 573.9h.1M468.3 576.1h.1M464.7 585.1h.1M478.7 576.3h.1M467.2 573.1h.1M466.1 572.1h.1M467.1 574.2h.1M463.1 571.7h.1M463.4 579.0h.1M459.6 578.1h.1M460.5 583.0h.1M463.5 585.7h.1M465.6 576.0h.1M464.9 571.1h.1M461.1 576.3h.1M467.4 582.3h.1M461.5 578.8h.1M468.1 579.7h.1M479.0 577.1h.1M469.4 580.2h.1M475.5 581.4h.1M469.6 575.0h.1M465.1 576.0h.1M461.9 571.3h.1M473.7 579.2h.1M465.0 584.8h.1M474.8 578.6h.1M459.5 578.4h.1M459.8 575.2h.1M474.8 580.3h.1M469.0 581.9h.1M482.5 577.2h.1M460.0 575.5h.1M463.8 584.3h.1M473.6 577.1h.1M460.1 573.3h.1M462.5 580.2h.1M470.0 581.3h.1M461.7 579.2h.1M459.8 579.6h.1M469.3 572.7h.1M473.0 581.8h.1M469.2 575.0h.1M461.8 583.7h.1M469.7 573.3h.1M459.8 585.2h.1M466.1 574.9h.1M460.5 579.9h.1M478.0 578.1h.1M462.3 585.7h.1M473.4 581.9h.1M463.5 571.8h.1M461.7 586.2h.1M460.6 574.0h.1M470.4 578.1h.1M471.2 575.8h.1M468.2 583.3h.1M479.9 599.1h.1M479.2 592.1h.1M476.7 600.9h.1M466.4 596.0h.1M492.7 602.7h.1M476.2 596.1h.1M485.2 598.1h.1M475.7 598.3h.1M472.5 590.6h.1M483.1 596.4h.1M478.4 598.8h.1M470.3 593.9h.1M491.2 594.6h.1M485.9 596.5h.1M467.5 598.6h.1M482.6 592.6h.1M488.2 590.4h.1M475.7 588.7h.1M471.8 597.8h.1M483.8 586.7h.1M469.9 594.3h.1M479.1 595.7h.1M492.4 596.9h.1M485.4 607.2h.1M483.7 598.4h.1M492.4 599.9h.1M485.4 602.3h.1M492.8 592.6h.1M474.8 596.5h.1M469.3 599.1h.1M486.5 594.4h.1M474.4 598.4h.1M473.2 593.1h.1M494.7 599.6h.1M481.5 603.3h.1M482.4 595.5h.1M481.4 599.6h.1M475.0 600.8h.1M465.5 596.0h.1M480.2 597.6h.1M480.0 602.6h.1M479.3 603.2h.1M475.3 595.5h.1M478.6 595.3h.1M482.1 597.8h.1M470.2 598.6h.1M491.1 590.9h.1M483.3 590.5h.1M482.6 593.2h.1M480.6 597.7h.1M470.6 601.2h.1M472.2 595.5h.1M491.2 598.4h.1M491.9 594.8h.1M492.4 592.7h.1M465.9 596.2h.1M484.9 588.2h.1M485.2 594.3h.1M491.7 594.0h.1M493.7 590.4h.1M477.6 602.0h.1M473.0 596.6h.1M490.6 596.5h.1M479.7 593.6h.1M470.6 597.5h.1M486.0 589.9h.1M472.9 600.2h.1M479.1 600.4h.1M473.2 601.7h.1M477.9 593.7h.1M486.7 598.5h.1M469.6 603.4h.1M482.9 594.1h.1M494.3 593.0h.1M495.0 594.3h.1M472.4 594.9h.1M489.6 593.7h.1M481.1 599.5h.1M475.7 599.3h.1M476.9 599.1h.1M475.8 603.7h.1M492.4 598.0h.1M470.1 596.4h.1M488.3 590.1h.1M490.0 593.6h.1M490.3 598.8h.1M487.4 592.2h.1M483.8 597.9h.1M469.7 600.5h.1M483.5 600.4h.1M488.0 602.6h.1M467.4 600.2h.1M474.3 599.3h.1M485.1 596.7h.1M488.1 602.2h.1M492.1 590.6h.1M471.9 594.4h.1M485.5 595.9h.1M473.2 603.1h.1M488.8 592.7h.1M493.5 594.5h.1M483.1 605.1h.1M490.8 594.8h.1M466.6 592.1h.1M492.5 594.4h.1M480.4 594.6h.1M477.2 600.0h.1M466.3 595.9h.1M495.4 597.6h.1M485.3 594.6h.1M468.9 599.4h.1M472.3 593.5h.1M484.0 599.5h.1M468.0 592.2h.1M484.8 590.7h.1M492.9 602.4h.1M489.7 590.9h.1M475.6 591.9h.1M484.7 598.5h.1M488.8 596.0h.1M483.4 603.1h.1M487.3 598.7h.1M472.2 603.2h.1M488.8 596.0h.1M480.5 598.4h.1M489.5 599.0h.1M491.9 593.3h.1M469.5 603.9h.1M475.3 597.9h.1M470.4 590.8h.1M494.4 592.4h.1M494.8 589.9h.1M490.5 593.4h.1M477.1 594.8h.1M491.5 606.5h.1M484.1 595.6h.1M474.8 590.5h.1M470.3 597.3h.1M484.5 599.8h.1M481.2 597.7h.1M493.2 598.9h.1M471.6 592.8h.1M479.9 595.6h.1M466.3 609.2h.1M478.6 595.9h.1M483.6 601.5h.1M479.5 606.9h.1M474.9 597.6h.1M478.5 593.6h.1M473.8 597.8h.1M469.3 602.9h.1M477.3 593.7h.1M492.3 602.0h.1M488.8 598.0h.1M492.1 595.5h.1M485.6 594.5h.1M478.4 591.1h.1M485.7 599.9h.1M479.6 599.8h.1M481.5 604.5h.1M473.8 591.4h.1M474.0 599.2h.1M479.2 595.7h.1M481.2 590.9h.1M485.2 591.1h.1M495.5 605.2h.1M490.5 595.7h.1M476.0 595.4h.1M474.0 602.0h.1M485.4 594.0h.1M483.9 601.3h.1M472.5 596.8h.1M494.9 595.6h.1M482.3 602.3h.1M494.2 597.4h.1M488.7 584.3h.1M484.4 598.0h.1M476.4 598.5h.1M476.1 599.2h.1M492.5 601.4h.1M481.9 596.8h.1M476.8 592.9h.1M484.9 600.1h.1M486.4 601.6h.1M476.0 603.4h.1M486.9 593.4h.1M479.0 591.5h.1M495.3 593.8h.1M484.8 596.0h.1M483.7 604.2h.1M478.9 593.1h.1M477.1 593.8h.1M481.7 601.7h.1M493.3 589.5h.1M485.9 604.2h.1M466.1 597.7h.1M491.7 592.6h.1M476.9 599.3h.1M488.7 600.5h.1M474.2 588.8h.1M495.3 592.5h.1M483.2 600.1h.1M470.1 593.7h.1M471.5 596.1h.1M466.5 595.9h.1M486.9 595.5h.1M484.9 595.9h.1M490.6 592.8h.1M492.2 594.8h.1M492.1 593.5h.1M480.5 595.6h.1M476.2 600.1h.1M479.7 598.2h.1M480.3 594.3h.1M469.1 599.5h.1M477.5 600.3h.1M474.3 597.2h.1M467.0 596.4h.1M467.8 600.6h.1M473.2 597.2h.1M487.9 595.3h.1M480.5 598.3h.1M493.7 593.8h.1M489.6 596.0h.1M468.2 596.6h.1M487.3 603.0h.1M480.7 595.3h.1M480.7 597.5h.1M478.7 600.3h.1M472.9 602.2h.1M473.1 594.8h.1M481.3 601.2h.1M487.7 592.8h.1M478.1 599.0h.1M465.8 599.9h.1M488.4 594.4h.1M488.5 599.7h.1M491.5 591.0h.1M474.0 595.9h.1M495.4 593.9h.1M493.8 591.5h.1M472.9 599.4h.1M483.9 595.6h.1M467.6 595.9h.1M492.6 600.4h.1M487.1 597.2h.1M472.8 594.9h.1M477.7 603.3h.1M468.8 593.7h.1M473.4 595.9h.1M491.8 598.8h.1M473.7 603.5h.1M494.0 594.5h.1M492.0 594.4h.1M472.6 598.4h.1M494.1 603.9h.1M467.0 601.0h.1M481.2 594.4h.1M465.8 598.7h.1M489.2 595.2h.1M477.8 597.2h.1M491.0 605.6h.1M489.1 599.6h.1M469.8 600.8h.1M482.0 601.0h.1M490.9 593.5h.1M475.2 592.8h.1M484.5 595.9h.1M485.6 594.8h.1M488.4 600.6h.1M473.4 595.2h.1M492.8 602.2h.1M471.1 595.6h.1M465.8 594.6h.1M468.3 604.2h.1M494.8 607.1h.1M470.4 590.2h.1M489.5 598.9h.1M492.5 599.0h.1M484.1 599.2h.1M477.6 596.3h.1M476.3 600.6h.1M492.8 595.3h.1M481.7 592.9h.1M476.1 591.8h.1M476.6 591.3h.1M474.8 596.3h.1M475.1 595.9h.1M471.9 592.8h.1M472.2 597.0h.1M471.3 594.1h.1M467.5 592.7h.1M492.9 599.4h.1M471.2 598.1h.1M482.7 597.7h.1M467.1 598.3h.1M481.3 601.5h.1M484.1 598.5h.1M485.2 594.3h.1M494.6 595.4h.1M481.8 602.6h.1M467.2 598.1h.1M475.3 589.7h.1M483.8 598.5h.1M489.2 594.3h.1M477.0 604.5h.1M490.0 596.1h.1M468.5 600.5h.1M490.2 593.9h.1M476.2 591.4h.1M479.7 597.1h.1M466.9 591.3h.1M475.1 600.9h.1M494.6 591.5h.1M477.0 600.5h.1M478.7 599.7h.1M481.2 602.7h.1M475.6 593.8h.1M484.1 594.9h.1M481.1 593.4h.1M488.9 598.2h.1M476.6 599.8h.1M484.9 596.0h.1M473.2 597.0h.1M494.6 593.0h.1M469.6 595.0h.1M467.3 602.4h.1M479.8 597.4h.1M483.0 592.5h.1M486.8 604.1h.1M469.3 598.3h.1M490.4 600.1h.1M470.6 599.2h.1M478.3 598.4h.1M490.7 596.7h.1M478.2 602.4h.1M484.3 593.7h.1M477.9 597.1h.1M473.8 595.2h.1M483.1 597.1h.1M485.4 598.0h.1M480.8 596.5h.1M482.8 596.4h.1M466.3 596.7h.1M480.5 592.1h.1M485.4 594.6h.1M467.7 598.0h.1M475.1 600.5h.1M495.0 600.1h.1M484.4 590.9h.1M490.2 597.2h.1M476.6 593.6h.1M489.1 602.5h.1M494.3 596.0h.1M487.0 595.6h.1M494.3 594.7h.1M481.8 594.0h.1M477.4 598.3h.1M467.6 595.1h.1M495.2 590.3h.1M483.7 600.6h.1M486.0 590.0h.1M468.2 595.8h.1M474.6 594.1h.1M475.6 590.4h.1M470.2 594.3h.1M486.4 599.5h.1M471.0 595.1h.1M484.5 597.7h.1M495.5 598.2h.1M477.0 598.8h.1M465.4 592.7h.1M481.9 595.7h.1M469.6 599.1h.1M484.0 596.3h.1M488.1 598.9h.1M476.2 597.1h.1M474.3 598.3h.1M480.2 592.8h.1M479.6 602.2h.1M465.7 600.6h.1M489.8 596.3h.1M489.5 591.1h.1M481.7 605.5h.1M484.6 594.2h.1M486.8 588.7h.1M470.2 599.0h.1M476.5 599.9h.1M495.2 593.5h.1M471.9 598.4h.1M472.7 596.2h.1M473.2 596.4h.1M490.8 602.9h.1M477.2 601.3h.1M487.9 595.6h.1M493.9 595.9h.1M472.5 599.9h.1M493.1 598.7h.1M478.7 597.5h.1M474.7 593.4h.1M467.5 598.8h.1M478.7 606.4h.1M491.5 601.5h.1M482.4 599.2h.1M472.0 598.5h.1M476.6 591.7h.1M477.9 596.0h.1M491.6 600.8h.1M490.2 587.0h.1M494.6 596.8h.1M494.8 605.1h.1M487.2 604.2h.1M496.0 615.0h.1M499.8 599.4h.1M484.8 597.3h.1M500.4 601.9h.1M493.2 585.2h.1M493.8 583.3h.1M490.0 591.9h.1M495.4 590.0h.1M493.2 595.0h.1M494.7 600.2h.1M495.7 592.9h.1M494.3 590.1h.1M488.1 590.5h.1M493.5 578.7h.1M497.0 598.1h.1M486.4 586.8h.1M489.5 576.6h.1M485.7 598.6h.1M484.5 613.1h.1M499.9 607.9h.1M495.8 604.7h.1M499.5 587.2h.1M500.7 588.7h.1M491.9 573.7h.1M492.0 581.1h.1M503.8 598.2h.1M497.6 591.2h.1M497.8 599.6h.1M491.8 599.6h.1M491.6 584.6h.1M484.3 581.8h.1M496.2 611.2h.1M491.4 590.2h.1M499.5 593.9h.1M495.1 595.3h.1M482.4 584.0h.1M494.9 596.0h.1M492.2 584.2h.1M494.1 592.8h.1M489.0 593.2h.1M494.6 612.8h.1M498.5 587.6h.1M497.1 582.2h.1M482.7 588.6h.1M502.3 601.2h.1M490.3 598.5h.1M484.0 593.5h.1M489.0 584.8h.1M491.7 588.5h.1M495.0 584.7h.1M495.3 598.8h.1M497.2 600.4h.1M496.7 603.8h.1M499.3 603.9h.1M498.9 584.2h.1M492.3 607.2h.1M490.8 601.3h.1M498.4 606.3h.1M490.7 597.1h.1M492.9 600.5h.1M484.7 594.5h.1M498.9 595.0h.1M498.2 607.0h.1M494.2 591.7h.1M491.0 585.2h.1M491.5 593.6h.1M498.0 589.5h.1M490.3 594.6h.1M492.5 605.7h.1M493.6 606.9h.1M493.9 573.4h.1M492.7 585.9h.1M493.6 587.4h.1M497.7 592.8h.1M491.9 612.4h.1M492.1 591.3h.1M492.0 601.2h.1M494.7 595.4h.1M498.9 590.1h.1M496.9 602.0h.1M495.0 591.0h.1M492.9 604.4h.1M481.1 607.7h.1M489.2 603.0h.1M496.0 598.7h.1M496.0 591.1h.1M501.0 595.6h.1M497.3 593.5h.1M492.1 604.2h.1M489.1 594.9h.1M489.7 581.9h.1M498.1 595.3h.1M485.1 594.6h.1M504.3 604.0h.1M492.5 598.2h.1M492.3 597.1h.1M493.0 596.8h.1M491.4 602.3h.1M488.1 580.9h.1M485.8 589.5h.1M494.1 599.9h.1M497.2 582.4h.1M486.4 600.3h.1M501.7 600.4h.1M493.0 603.8h.1M501.1 603.4h.1M494.5 592.6h.1M491.0 591.5h.1M488.0 598.1h.1M498.3 592.7h.1M497.1 600.8h.1M493.0 594.7h.1M500.4 588.9h.1M490.4 591.7h.1M490.1 599.9h.1M496.3 592.9h.1M496.5 580.3h.1M494.1 614.9h.1M498.0 586.7h.1M497.6 589.8h.1M496.4 600.9h.1M487.0 610.5h.1M487.2 591.5h.1M496.7 600.3h.1M494.6 592.5h.1M497.3 598.3h.1M492.1 604.5h.1M500.8 590.3h.1M491.8 586.5h.1M488.1 596.7h.1M498.0 583.3h.1M492.5 598.0h.1M490.9 602.5h.1M496.4 594.8h.1M499.0 598.2h.1M498.7 600.4h.1M492.5 607.9h.1M490.5 598.4h.1M492.1 588.4h.1M487.7 605.0h.1M499.8 604.4h.1M484.6 600.8h.1M494.1 600.3h.1M494.9 600.3h.1M495.8 604.3h.1M494.3 590.9h.1M483.6 597.9h.1M483.9 590.5h.1M493.5 594.2h.1M490.2 609.9h.1M487.1 605.4h.1M492.3 594.2h.1M493.9 599.2h.1M485.6 599.5h.1M492.9 595.1h.1M493.7 594.3h.1M498.6 587.9h.1M490.1 599.5h.1M492.7 602.9h.1M480.5 593.3h.1M494.0 610.1h.1M498.3 587.6h.1M498.5 588.3h.1M495.0 592.2h.1M487.2 602.0h.1M496.2 592.7h.1M489.7 588.9h.1M492.9 604.5h.1M491.6 594.8h.1M491.8 585.1h.1M491.9 590.0h.1M499.0 596.7h.1M499.5 594.6h.1M494.4 606.9h.1M495.7 595.9h.1M495.8 598.1h.1M498.8 590.2h.1M491.5 587.9h.1M499.1 600.6h.1M492.2 600.0h.1M502.3 601.8h.1M493.2 587.4h.1M496.2 616.8h.1M499.0 592.8h.1M486.5 603.3h.1M489.8 592.0h.1M503.5 591.9h.1M492.5 617.1h.1M501.4 575.8h.1M497.2 593.2h.1M494.4 590.2h.1M495.0 600.6h.1M492.2 601.9h.1M497.0 585.7h.1M501.8 596.6h.1M497.6 607.1h.1M493.5 615.2h.1M489.5 586.5h.1M492.0 610.5h.1M501.0 602.1h.1M489.2 592.1h.1M492.7 596.1h.1M488.4 595.6h.1M491.4 599.0h.1M489.2 590.8h.1M494.2 600.7h.1M494.0 596.7h.1M492.9 590.1h.1M491.6 588.1h.1M496.0 598.5h.1M492.8 588.1h.1M491.7 593.8h.1M498.2 592.4h.1M494.5 589.7h.1M496.5 593.0h.1M489.7 579.4h.1M492.0 592.3h.1M498.9 584.8h.1M490.8 585.0h.1M497.1 597.4h.1M491.9 600.2h.1M494.3 591.1h.1M493.3 600.0h.1M497.8 609.5h.1M494.8 595.7h.1M494.0 588.4h.1M492.8 599.7h.1M491.8 592.7h.1M487.7 600.1h.1M498.3 595.2h.1M494.3 596.8h.1M493.8 593.4h.1M498.0 613.4h.1M498.1 597.6h.1M491.9 585.1h.1M498.2 593.5h.1M496.1 591.0h.1M482.4 612.1h.1M488.1 600.0h.1M498.8 581.7h.1M494.3 594.2h.1M486.6 609.4h.1M491.3 599.4h.1M493.7 610.5h.1M489.4 592.0h.1M494.8 601.0h.1M493.5 604.4h.1M498.7 598.5h.1M487.4 587.5h.1M486.2 591.2h.1M497.6 608.3h.1M494.5 602.3h.1M491.8 592.8h.1M496.8 581.8h.1M492.7 588.1h.1M494.7 599.9h.1M494.5 606.3h.1M494.0 605.4h.1M494.6 578.6h.1M493.4 588.0h.1M491.9 575.7h.1M492.4 592.4h.1M488.5 593.3h.1M497.2 595.7h.1M496.6 587.9h.1M501.3 587.7h.1M488.0 596.8h.1M496.2 605.7h.1M496.9 603.0h.1M486.6 596.7h.1M490.8 577.6h.1M500.2 585.6h.1M496.5 602.0h.1M492.1 587.1h.1M499.5 595.2h.1M494.3 596.2h.1M495.1 600.2h.1M494.3 603.1h.1M493.4 584.2h.1M490.0 599.7h.1M489.5 597.0h.1M496.9 589.8h.1M493.4 584.9h.1M487.9 599.1h.1M494.5 586.2h.1M491.6 589.5h.1M492.0 589.9h.1M491.3 613.3h.1M491.3 584.4h.1M491.7 605.0h.1M492.6 600.5h.1M492.0 591.8h.1M500.0 597.3h.1M490.9 600.8h.1M487.3 583.0h.1M492.2 591.7h.1M493.9 585.1h.1M495.4 593.5h.1M492.4 597.7h.1M491.9 603.5h.1M489.6 597.5h.1M492.8 576.6h.1M489.1 591.0h.1M495.5 584.6h.1M490.9 591.1h.1M487.0 590.7h.1M497.7 602.6h.1M488.8 588.8h.1M490.2 577.7h.1M503.5 589.0h.1M494.8 591.0h.1M492.1 582.6h.1M488.6 593.6h.1M490.3 600.5h.1M491.0 598.1h.1M495.7 585.2h.1M498.8 593.4h.1M504.4 590.5h.1M498.0 600.8h.1M486.6 582.3h.1M486.8 601.7h.1M493.4 602.6h.1M488.5 601.2h.1M493.3 599.9h.1M496.2 595.9h.1M499.5 583.7h.1M491.7 603.3h.1M488.8 601.0h.1M493.6 597.4h.1M482.7 587.9h.1M496.5 585.4h.1M496.9 600.8h.1M480.2 596.0h.1M488.3 586.4h.1M486.2 597.4h.1M499.0 615.4h.1M499.9 591.2h.1M486.1 603.6h.1M496.8 595.5h.1M487.2 585.3h.1M492.3 607.2h.1M500.2 587.3h.1M485.5 594.1h.1M497.0 588.8h.1M493.9 602.4h.1M485.8 609.8h.1M499.8 595.6h.1M494.7 599.6h.1M490.2 601.1h.1M493.8 588.9h.1M493.0 592.8h.1M491.2 600.8h.1M496.9 602.8h.1M491.4 600.5h.1M492.2 608.7h.1M488.5 603.4h.1M491.0 581.1h.1M496.7 584.4h.1M489.4 594.5h.1M495.3 594.1h.1M495.2 597.3h.1M486.0 605.1h.1M499.8 590.3h.1M496.5 592.7h.1M489.6 592.8h.1M484.6 589.9h.1M496.4 603.2h.1M495.5 597.0h.1M490.5 602.9h.1M501.9 597.9h.1M468.5 608.1h.1M461.6 614.4h.1M462.8 605.2h.1M460.5 608.2h.1M462.3 594.1h.1M464.1 620.9h.1M463.7 610.9h.1M464.3 614.3h.1M465.1 604.5h.1M458.5 610.8h.1M463.9 602.7h.1M461.5 610.9h.1M467.9 602.3h.1M459.2 607.0h.1M459.7 603.2h.1M459.2 616.6h.1M464.0 608.6h.1M464.5 614.1h.1M459.1 611.8h.1M460.3 595.1h.1M463.8 602.6h.1M467.5 605.1h.1M461.5 600.3h.1M461.9 606.5h.1M464.7 601.1h.1M460.0 598.7h.1M460.1 604.0h.1M461.9 601.8h.1M465.6 601.4h.1M463.3 606.0h.1M463.7 607.8h.1M461.0 607.0h.1M460.7 606.0h.1M466.4 613.9h.1M467.1 600.5h.1M466.6 610.7h.1M464.7 605.0h.1M468.5 600.1h.1M463.3 596.4h.1M461.5 610.3h.1M463.3 609.4h.1M467.0 598.9h.1M456.5 615.4h.1M457.3 604.7h.1M470.4 613.0h.1M462.0 614.7h.1M459.6 613.1h.1M461.1 601.7h.1M459.1 602.5h.1M463.3 621.6h.1M465.7 614.7h.1M462.0 620.8h.1M462.1 618.7h.1M458.3 612.1h.1M458.8 604.7h.1M461.8 592.7h.1M463.8 607.8h.1M456.6 606.3h.1M462.1 594.6h.1M460.2 615.4h.1M461.0 605.7h.1M462.1 605.5h.1M458.7 606.0h.1M455.7 608.4h.1M461.4 596.6h.1M457.3 608.8h.1M460.9 602.1h.1M460.6 608.9h.1M466.0 603.8h.1M455.9 600.2h.1M459.2 610.6h.1M466.2 610.0h.1M459.5 614.7h.1M460.9 597.8h.1M461.8 623.3h.1M462.3 601.7h.1M465.0 600.9h.1M466.4 612.8h.1M458.0 603.9h.1M461.2 600.8h.1M463.7 605.3h.1M468.3 609.3h.1M465.7 614.8h.1M464.0 613.7h.1M460.1 615.1h.1M465.8 615.7h.1M460.6 602.8h.1M466.4 606.6h.1M471.1 611.2h.1M458.5 612.2h.1M463.3 592.2h.1M460.5 589.8h.1M471.4 597.9h.1M459.6 604.5h.1M459.7 616.8h.1M461.6 596.0h.1M465.1 609.8h.1M457.6 614.5h.1M457.9 600.0h.1M467.5 603.2h.1M462.6 600.6h.1M461.4 591.1h.1M461.4 601.0h.1M465.6 603.7h.1M459.6 603.3h.1M456.0 610.3h.1M456.4 597.4h.1M463.3 604.6h.1M469.4 596.1h.1M463.6 621.2h.1M460.3 596.8h.1M465.9 621.8h.1M459.8 613.7h.1M464.7 608.1h.1M465.3 605.0h.1M464.7 605.1h.1M461.9 598.6h.1M462.3 606.3h.1M459.4 601.4h.1M461.2 618.2h.1M464.1 612.4h.1M466.9 612.6h.1M468.2 618.3h.1M465.0 606.4h.1M462.9 606.5h.1M460.0 595.0h.1M463.9 596.5h.1M464.9 620.9h.1M462.8 599.8h.1M460.3 611.9h.1M462.2 603.7h.1M463.4 598.0h.1M459.0 610.2h.1M460.0 612.0h.1M460.8 607.7h.1M462.0 617.1h.1M461.5 607.8h.1M458.6 608.3h.1M461.9 609.5h.1M455.6 612.0h.1M462.7 609.5h.1M463.8 615.1h.1M459.2 603.0h.1M463.3 595.4h.1M470.0 591.4h.1M464.3 603.3h.1M464.7 618.9h.1M468.9 601.6h.1M462.7 601.1h.1M457.8 608.1h.1M460.4 597.4h.1M461.4 602.4h.1M458.6 608.7h.1M464.3 610.1h.1M460.2 600.1h.1M454.7 612.6h.1M465.8 600.3h.1M457.8 597.7h.1M467.3 605.6h.1M461.0 607.7h.1M462.5 604.6h.1M461.9 612.2h.1M465.7 598.5h.1M462.0 606.6h.1M463.1 625.7h.1M464.8 612.9h.1M462.1 611.4h.1M466.6 616.6h.1M459.7 608.5h.1M463.7 598.8h.1M461.3 603.5h.1M465.5 607.5h.1M469.3 611.3h.1M461.0 609.2h.1M462.8 600.9h.1M463.7 596.4h.1M463.1 603.5h.1M462.8 601.7h.1M468.4 602.0h.1M465.2 607.7h.1M466.4 601.8h.1M458.2 612.5h.1M466.0 612.2h.1M449.5 620.4h.1M467.4 607.4h.1M459.5 611.1h.1M456.7 604.7h.1M464.6 617.8h.1M461.1 605.5h.1M457.9 606.1h.1M460.1 607.3h.1M459.9 610.6h.1M462.1 601.9h.1M464.5 611.2h.1M461.6 605.7h.1M465.3 611.0h.1M461.9 622.3h.1M460.8 597.2h.1M460.3 608.8h.1M456.6 621.8h.1M465.6 599.8h.1M463.8 597.3h.1M462.4 605.3h.1M467.7 592.8h.1M460.8 592.6h.1M460.8 604.7h.1M462.5 615.1h.1M459.4 602.9h.1M467.4 607.4h.1M459.2 607.3h.1M458.8 600.4h.1M460.7 595.5h.1M468.6 604.1h.1M463.2 605.2h.1M462.1 600.9h.1M463.9 603.8h.1M459.6 614.2h.1M467.6 610.5h.1M464.2 604.6h.1M462.9 612.6h.1M462.6 617.3h.1M467.3 609.0h.1M463.2 600.7h.1M461.0 602.1h.1M461.3 600.3h.1M463.8 609.6h.1M462.0 619.6h.1M463.3 606.7h.1M463.1 602.6h.1M465.0 600.2h.1M462.3 622.4h.1M463.4 599.0h.1M458.7 615.9h.1M456.1 619.8h.1M467.0 603.6h.1M463.4 603.5h.1M459.3 610.5h.1M460.2 611.8h.1M463.6 602.4h.1M462.7 607.5h.1M461.9 605.4h.1M466.6 601.5h.1M463.0 615.0h.1M463.8 604.0h.1M458.6 605.1h.1M455.9 603.8h.1M462.4 617.2h.1M464.6 615.1h.1M464.0 609.0h.1M457.1 602.8h.1M461.7 606.5h.1M458.3 595.4h.1M463.1 605.1h.1M462.5 605.4h.1M461.7 598.4h.1M465.4 610.1h.1M462.4 620.2h.1M460.1 613.4h.1M462.3 607.3h.1M465.4 607.1h.1M462.4 598.0h.1M463.4 610.2h.1M461.0 598.2h.1M465.7 608.2h.1M466.4 606.6h.1M471.1 597.9h.1M464.9 608.2h.1M463.3 605.5h.1M464.4 613.6h.1M462.8 599.4h.1M465.8 614.6h.1M458.5 609.0h.1M467.6 611.8h.1M460.8 609.3h.1M463.7 598.9h.1M461.6 604.7h.1M461.4 617.1h.1M456.5 599.5h.1M460.1 616.6h.1M462.2 605.2h.1M461.7 618.9h.1M469.0 608.9h.1M459.2 605.1h.1M456.6 614.1h.1M461.8 615.5h.1M460.5 601.5h.1M455.2 609.1h.1M466.0 590.9h.1M458.9 606.5h.1M466.0 621.3h.1M468.0 609.2h.1M457.6 600.9h.1M464.2 607.2h.1M459.8 606.5h.1M463.0 624.1h.1M461.4 611.5h.1M463.5 612.8h.1M460.2 618.3h.1M467.0 611.0h.1M458.8 599.1h.1M461.8 606.2h.1M459.5 606.2h.1M457.2 605.8h.1M458.0 609.2h.1M454.2 601.5h.1M461.0 596.2h.1M461.0 605.6h.1M466.9 612.3h.1M461.1 613.2h.1M462.3 613.2h.1M461.0 609.2h.1M461.4 614.2h.1M468.4 619.2h.1M467.2 606.0h.1M467.8 605.0h.1M462.4 600.5h.1M465.6 595.0h.1M462.2 612.3h.1M458.7 610.7h.1M458.8 604.7h.1M463.6 617.6h.1M469.5 599.7h.1M456.8 601.6h.1M463.2 606.3h.1M458.1 600.6h.1M463.2 607.4h.1M469.3 598.3h.1M458.3 615.3h.1M460.7 608.0h.1M466.6 602.9h.1M461.6 607.3h.1M462.6 619.9h.1M467.3 602.3h.1M466.7 595.8h.1M460.1 601.7h.1M460.3 608.3h.1M463.3 600.3h.1M463.7 602.2h.1M474.0 585.1h.1M490.9 598.5h.1M503.1 590.8h.1M499.0 583.4h.1M472.9 600.5h.1M486.1 587.5h.1M489.3 594.4h.1M493.7 592.7h.1M483.1 597.1h.1M488.8 590.5h.1M483.6 602.1h.1M484.3 594.8h.1M475.0 588.3h.1M494.3 606.1h.1M488.8 590.6h.1M490.9 603.4h.1M503.2 582.3h.1M473.5 593.2h.1M472.5 596.2h.1M483.4 581.8h.1M475.7 595.6h.1M500.3 588.1h.1M483.7 598.3h.1M499.6 598.2h.1M495.6 590.8h.1M479.3 605.1h.1M491.8 584.8h.1M494.7 583.7h.1M496.7 600.3h.1M499.5 592.3h.1M479.5 607.2h.1M472.2 595.2h.1M481.1 584.1h.1M478.1 609.0h.1M474.7 607.3h.1M482.2 601.0h.1M483.6 581.8h.1M491.4 584.2h.1M473.1 585.3h.1M500.4 589.7h.1M489.7 591.0h.1M482.8 583.6h.1M471.9 603.2h.1M480.0 607.4h.1M473.8 604.9h.1M498.1 604.6h.1M487.9 582.8h.1M495.5 603.8h.1M478.7 602.7h.1M472.5 598.0h.1M471.5 584.5h.1M486.3 606.2h.1M498.5 601.7h.1M473.1 607.4h.1M477.7 599.2h.1M488.0 591.0h.1M484.7 602.4h.1M478.4 606.6h.1M501.0 589.2h.1M488.3 605.2h.1M488.3 582.6h.1M490.3 585.6h.1M496.7 585.4h.1M488.8 589.2h.1M492.4 608.2h.1M495.2 591.0h.1M488.0 599.3h.1M479.5 595.2h.1M487.7 585.1h.1M493.9 586.1h.1M492.4 606.9h.1M490.2 605.8h.1M490.1 592.6h.1M486.8 603.9h.1M496.9 595.9h.1M490.3 589.4h.1M477.1 596.1h.1M475.9 589.6h.1M473.9 598.0h.1M477.7 584.8h.1M472.3 591.1h.1M501.0 593.8h.1M487.7 593.6h.1M478.2 605.2h.1M494.5 592.1h.1M489.8 604.9h.1M491.9 584.8h.1M471.8 582.4h.1M480.8 607.6h.1M489.7 586.1h.1M489.9 598.3h.1M496.3 602.0h.1M493.3 588.9h.1M479.0 585.0h.1M480.2 590.2h.1M484.8 586.0h.1M492.7 603.7h.1M488.9 593.2h.1M478.2 603.3h.1M476.5 587.0h.1M482.0 603.5h.1M488.5 586.6h.1M473.7 605.6h.1M502.1 606.4h.1M497.1 595.9h.1M498.1 587.2h.1M473.4 597.9h.1M488.6 602.6h.1M487.0 588.5h.1M499.1 600.1h.1M481.4 586.7h.1M489.7 591.9h.1M482.6 595.1h.1M498.5 597.0h.1M476.5 603.9h.1M483.8 583.8h.1M475.9 589.7h.1M471.7 606.1h.1M484.6 582.9h.1M495.2 602.9h.1M473.1 589.9h.1M491.5 595.0h.1M487.0 600.6h.1M473.9 582.3h.1M502.1 591.3h.1M487.3 594.3h.1M475.1 605.1h.1M479.5 603.3h.1M490.2 593.3h.1M480.5 605.0h.1M487.0 608.6h.1M495.8 589.9h.1M496.5 604.7h.1M496.6 591.4h.1M485.8 588.2h.1M494.3 584.6h.1" stroke="#2f62c8" stroke-width="0.9" stroke-linecap="round" opacity="0.6" fill="none"/>
<ellipse cx="461.0" cy="606.1" rx="4" ry="11.5" fill="url(#hot)"/>
<ellipse cx="493.9" cy="595.9" rx="5.5" ry="9" fill="url(#grn)"/>
<ellipse cx="462.7" cy="573.6" rx="3.5" ry="5" fill="url(#grn)"/>
<rect x="443.5" y="559.1" width="69.5" height="70.4" fill="none" stroke="#888" stroke-width="0.7"/>
<path d="M442.3 569.2h1.2M453.4 629.5v1.2M442.3 579.2h1.2M463.4 629.5v1.2M442.3 589.3h1.2M473.3 629.5v1.2M442.3 599.3h1.2M483.2 629.5v1.2M442.3 609.4h1.2M493.1 629.5v1.2M442.3 619.4h1.2M503.1 629.5v1.2" stroke="#222" stroke-width="0.8"/>
<polygon points="457.5,567.4 489.3,566.5 489.7,571.6 487.1,577.1 457.7,598.8" fill="none" stroke="#222" stroke-width="0.8"/>
<polygon points="470.5,591.1 487.8,578.1 495.0,577.5 505.5,587.9 499.5,614.9 470.5,614.9" fill="none" stroke="#222" stroke-width="0.8"/>
<polygon points="456.9,599.4 470.4,591.3 470.4,620.8 456.9,620.8" fill="none" stroke="#222" stroke-width="0.8"/>
<text x="460.8" y="566" font-size="4.4" font-weight="bold" textLength="23.4" lengthAdjust="spacingAndGlyphs">Gr-1+ 4561</text>
<text x="497" y="574.7" font-size="4.4" font-weight="bold" textLength="14" lengthAdjust="spacingAndGlyphs">F4/80+</text>
<text x="498" y="580.6" font-size="4.4" font-weight="bold">8325</text>
<text x="447.6" y="625.4" font-size="4.4" font-weight="bold" textLength="36.5" lengthAdjust="spacingAndGlyphs">Gr-1- F4/80- 14308</text>
</svg></body></html>
